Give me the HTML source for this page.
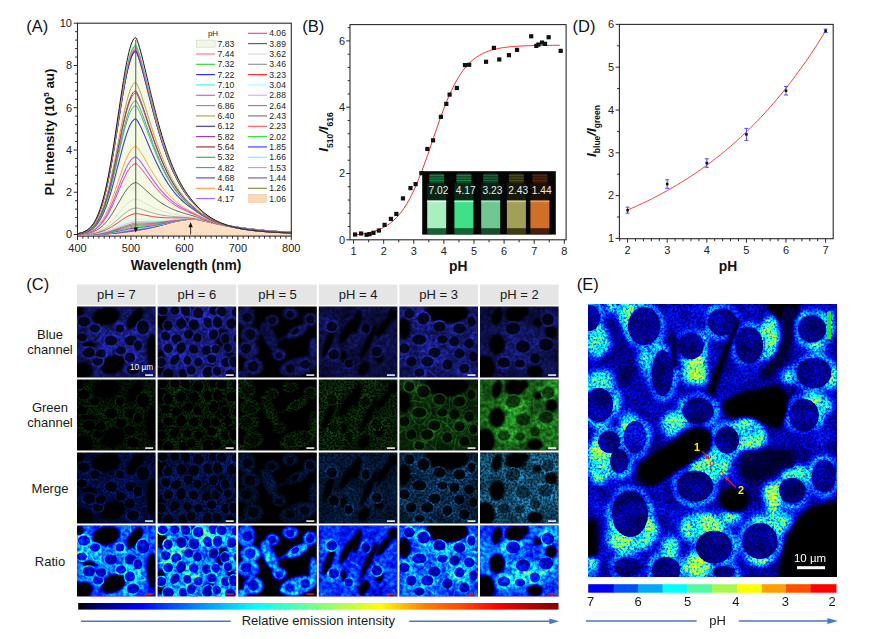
<!DOCTYPE html><html><head><meta charset="utf-8"><style>html,body{margin:0;padding:0;background:#fff;width:884px;height:639px;overflow:hidden}svg{display:block}text{font-family:"Liberation Sans",sans-serif}</style></head><body>
<svg width="884" height="639" viewBox="0 0 884 639">
<rect width="884" height="639" fill="#fff"/>
<polygon points="77.5,234.5 77.5,233.65 78.57,233.47 79.64,233.25 80.71,232.98 81.78,232.67 82.84,232.3 83.91,231.87 84.98,231.36 86.05,230.77 87.12,230.09 88.19,229.3 89.26,228.39 90.33,227.34 91.4,226.15 92.47,224.79 93.53,223.26 94.6,221.53 95.67,219.59 96.74,217.42 97.81,215.01 98.88,212.34 99.95,209.39 101.02,206.16 102.09,202.62 103.16,198.78 104.22,194.62 105.29,190.14 106.36,185.33 107.43,180.21 108.5,174.77 109.57,169.02 110.64,162.99 111.71,156.68 112.78,150.13 113.85,143.36 114.91,136.4 115.98,129.31 117.05,122.11 118.12,114.86 119.19,107.6 120.26,100.4 121.33,93.3 122.4,86.38 123.47,79.68 124.54,73.27 125.6,67.2 126.67,61.55 127.74,56.35 128.81,51.66 129.88,47.53 130.95,44.01 132.02,41.12 133.09,38.9 134.16,37.38 135.23,36.56 136.29,37.14 137.36,39.62 138.43,42.77 139.5,46.34 140.57,50.21 141.64,54.3 142.71,58.55 143.78,62.92 144.85,67.37 145.92,71.87 146.99,76.4 148.05,80.94 149.12,85.48 150.19,89.98 151.26,94.45 152.33,98.86 153.4,103.22 154.47,107.51 155.54,111.72 156.61,115.85 157.68,119.89 158.74,123.84 159.81,127.7 160.88,131.45 161.95,135.11 163.02,138.67 164.09,142.13 165.16,145.48 166.23,148.73 167.3,151.87 168.37,154.92 169.43,157.86 170.5,160.71 171.57,163.45 172.64,166.1 173.71,168.65 174.78,171.12 175.85,173.49 176.92,175.77 177.99,177.97 179.06,180.08 180.12,182.12 181.19,184.07 182.26,185.96 183.33,187.76 184.4,189.5 185.47,191.17 186.54,192.78 187.61,194.32 188.68,195.81 189.75,197.23 190.81,198.61 191.88,199.93 192.95,201.2 194.02,202.42 195.09,203.64 196.16,204.86 197.23,206.05 198.3,207.19 199.37,208.3 200.44,209.35 201.5,210.37 202.57,211.34 203.64,212.27 204.71,213.17 205.78,214.03 206.85,214.85 207.92,215.63 208.99,216.39 210.06,217.11 211.12,217.8 212.19,218.46 213.26,219.09 214.33,219.69 215.4,220.27 216.47,220.82 217.54,221.35 218.61,221.86 219.68,222.34 220.75,222.81 221.81,223.25 222.88,223.67 223.95,224.08 225.02,224.47 226.09,224.84 227.16,225.19 228.23,225.53 229.3,225.86 230.37,226.17 231.44,226.47 232.5,226.75 233.57,227.03 234.64,227.29 235.71,227.54 236.78,227.78 237.85,228.01 238.92,228.23 239.99,228.45 241.06,228.65 242.13,228.84 243.19,229.03 244.26,229.21 245.33,229.38 246.4,229.55 247.47,229.71 248.54,229.86 249.61,230.01 250.68,230.15 251.75,230.29 252.82,230.42 253.88,230.54 254.95,230.66 256.02,230.78 257.09,230.89 258.16,231 259.23,231.11 260.3,231.21 261.37,231.31 262.44,231.4 263.51,231.49 264.57,231.58 265.64,231.66 266.71,231.74 267.78,231.82 268.85,231.9 269.92,231.97 270.99,232.05 272.06,232.11 273.13,232.18 274.2,232.25 275.26,232.31 276.33,232.37 277.4,232.43 278.47,232.49 279.54,232.54 280.61,232.59 281.68,232.65 282.75,232.7 283.82,232.75 284.89,232.79 285.95,232.84 287.02,232.88 288.09,232.93 289.16,232.97 290.23,233.01 291.3,233.05 291.3,234.5" fill="#f4fae4"/>
<polygon points="77.5,236.1 77.5,234.48 78.57,234.48 79.64,234.48 80.71,234.47 81.78,234.47 82.84,234.46 83.91,234.46 84.98,234.45 86.05,234.44 87.12,234.43 88.19,234.42 89.26,234.41 90.33,234.4 91.4,234.39 92.47,234.37 93.53,234.35 94.6,234.33 95.67,234.31 96.74,234.29 97.81,234.26 98.88,234.23 99.95,234.19 101.02,234.16 102.09,234.12 103.16,234.07 104.22,234.03 105.29,233.97 106.36,233.92 107.43,233.86 108.5,233.79 109.57,233.72 110.64,233.65 111.71,233.57 112.78,233.49 113.85,233.4 114.91,233.31 115.98,233.21 117.05,233.11 118.12,233 119.19,232.89 120.26,232.78 121.33,232.66 122.4,232.54 123.47,232.41 124.54,232.28 125.6,232.14 126.67,232.01 127.74,231.87 128.81,231.72 129.88,231.57 130.95,231.42 132.02,231.27 133.09,231.12 134.16,230.96 135.23,230.8 136.29,230.64 137.36,230.48 138.43,230.32 139.5,230.16 140.57,229.98 141.64,229.81 142.71,229.62 143.78,229.43 144.85,229.23 145.92,229.03 146.99,228.81 148.05,228.59 149.12,228.36 150.19,228.13 151.26,227.88 152.33,227.63 153.4,227.38 154.47,227.11 155.54,226.85 156.61,226.57 157.68,226.29 158.74,226.01 159.81,225.72 160.88,225.44 161.95,225.14 163.02,224.85 164.09,224.56 165.16,224.26 166.23,223.97 167.3,223.67 168.37,223.38 169.43,223.09 170.5,222.81 171.57,222.53 172.64,222.26 173.71,221.99 174.78,221.73 175.85,221.48 176.92,221.23 177.99,221 179.06,220.78 180.12,220.57 181.19,220.37 182.26,220.18 183.33,220.01 184.4,219.85 185.47,219.71 186.54,219.58 187.61,219.46 188.68,219.37 189.75,219.29 190.81,219.23 191.88,219.18 192.95,219.15 194.02,219.14 195.09,219.21 196.16,219.39 197.23,219.58 198.3,219.79 199.37,220 200.44,220.22 201.5,220.44 202.57,220.66 203.64,220.89 204.71,221.12 205.78,221.34 206.85,221.57 207.92,221.8 208.99,222.02 210.06,222.25 211.12,222.47 212.19,222.69 213.26,222.91 214.33,223.13 215.4,223.34 216.47,223.56 217.54,223.77 218.61,223.97 219.68,224.18 220.75,224.38 221.81,224.58 222.88,224.78 223.95,224.98 225.02,225.17 226.09,225.36 227.16,225.55 228.23,225.73 229.3,225.91 230.37,226.09 231.44,226.27 232.5,226.44 233.57,226.61 234.64,226.78 235.71,226.94 236.78,227.1 237.85,227.26 238.92,227.42 239.99,227.57 241.06,227.72 242.13,227.87 243.19,228.02 244.26,228.16 245.33,228.3 246.4,228.44 247.47,228.57 248.54,228.7 249.61,228.83 250.68,228.96 251.75,229.09 252.82,229.21 253.88,229.33 254.95,229.45 256.02,229.56 257.09,229.67 258.16,229.79 259.23,229.89 260.3,230 261.37,230.1 262.44,230.21 263.51,230.31 264.57,230.41 265.64,230.5 266.71,230.6 267.78,230.69 268.85,230.78 269.92,230.87 270.99,230.95 272.06,231.04 273.13,231.12 274.2,231.2 275.26,231.28 276.33,231.36 277.4,231.43 278.47,231.51 279.54,231.58 280.61,231.65 281.68,231.72 282.75,231.79 283.82,231.85 284.89,231.92 285.95,231.98 287.02,232.04 288.09,232.1 289.16,232.16 290.23,232.22 291.3,232.28 291.3,236.1" fill="#fde0c4"/>
<polyline points="77.5,234.48 78.57,234.48 79.64,234.48 80.71,234.47 81.78,234.47 82.84,234.46 83.91,234.46 84.98,234.45 86.05,234.44 87.12,234.43 88.19,234.42 89.26,234.41 90.33,234.4 91.4,234.39 92.47,234.37 93.53,234.35 94.6,234.33 95.67,234.31 96.74,234.29 97.81,234.26 98.88,234.23 99.95,234.19 101.02,234.16 102.09,234.12 103.16,234.07 104.22,234.03 105.29,233.97 106.36,233.92 107.43,233.86 108.5,233.79 109.57,233.72 110.64,233.65 111.71,233.57 112.78,233.49 113.85,233.4 114.91,233.31 115.98,233.21 117.05,233.11 118.12,233 119.19,232.89 120.26,232.78 121.33,232.66 122.4,232.54 123.47,232.41 124.54,232.28 125.6,232.14 126.67,232.01 127.74,231.87 128.81,231.72 129.88,231.57 130.95,231.42 132.02,231.27 133.09,231.12 134.16,230.96 135.23,230.8 136.29,230.64 137.36,230.48 138.43,230.32 139.5,230.16 140.57,229.98 141.64,229.81 142.71,229.62 143.78,229.43 144.85,229.23 145.92,229.03 146.99,228.81 148.05,228.59 149.12,228.36 150.19,228.13 151.26,227.88 152.33,227.63 153.4,227.38 154.47,227.11 155.54,226.85 156.61,226.57 157.68,226.29 158.74,226.01 159.81,225.72 160.88,225.44 161.95,225.14 163.02,224.85 164.09,224.56 165.16,224.26 166.23,223.97 167.3,223.67 168.37,223.38 169.43,223.09 170.5,222.81 171.57,222.53 172.64,222.26 173.71,221.99 174.78,221.73 175.85,221.48 176.92,221.23 177.99,221 179.06,220.78 180.12,220.57 181.19,220.37 182.26,220.18 183.33,220.01 184.4,219.85 185.47,219.71 186.54,219.58 187.61,219.46 188.68,219.37 189.75,219.29 190.81,219.23 191.88,219.18 192.95,219.15 194.02,219.14 195.09,219.21 196.16,219.39 197.23,219.58 198.3,219.79 199.37,220 200.44,220.22 201.5,220.44 202.57,220.66 203.64,220.89 204.71,221.12 205.78,221.34 206.85,221.57 207.92,221.8 208.99,222.02 210.06,222.25 211.12,222.47 212.19,222.69 213.26,222.91 214.33,223.13 215.4,223.34 216.47,223.56 217.54,223.77 218.61,223.97 219.68,224.18 220.75,224.38 221.81,224.58 222.88,224.78 223.95,224.98 225.02,225.17 226.09,225.36 227.16,225.55 228.23,225.73 229.3,225.91 230.37,226.09 231.44,226.27 232.5,226.44 233.57,226.61 234.64,226.78 235.71,226.94 236.78,227.1 237.85,227.26 238.92,227.42 239.99,227.57 241.06,227.72 242.13,227.87 243.19,228.02 244.26,228.16 245.33,228.3 246.4,228.44 247.47,228.57 248.54,228.7 249.61,228.83 250.68,228.96 251.75,229.09 252.82,229.21 253.88,229.33 254.95,229.45 256.02,229.56 257.09,229.67 258.16,229.79 259.23,229.89 260.3,230 261.37,230.1 262.44,230.21 263.51,230.31 264.57,230.41 265.64,230.5 266.71,230.6 267.78,230.69 268.85,230.78 269.92,230.87 270.99,230.95 272.06,231.04 273.13,231.12 274.2,231.2 275.26,231.28 276.33,231.36 277.4,231.43 278.47,231.51 279.54,231.58 280.61,231.65 281.68,231.72 282.75,231.79 283.82,231.85 284.89,231.92 285.95,231.98 287.02,232.04 288.09,232.1 289.16,232.16 290.23,232.22 291.3,232.28" fill="none" stroke="#6a40a0" stroke-width="1.0" stroke-linejoin="round"/>
<polyline points="77.5,234.48 78.57,234.48 79.64,234.47 80.71,234.47 81.78,234.46 82.84,234.46 83.91,234.45 84.98,234.44 86.05,234.44 87.12,234.43 88.19,234.41 89.26,234.4 90.33,234.39 91.4,234.37 92.47,234.35 93.53,234.33 94.6,234.31 95.67,234.28 96.74,234.25 97.81,234.22 98.88,234.18 99.95,234.14 101.02,234.1 102.09,234.05 103.16,234 104.22,233.94 105.29,233.88 106.36,233.82 107.43,233.75 108.5,233.67 109.57,233.59 110.64,233.5 111.71,233.41 112.78,233.31 113.85,233.21 114.91,233.11 115.98,232.99 117.05,232.88 118.12,232.76 119.19,232.63 120.26,232.5 121.33,232.37 122.4,232.23 123.47,232.09 124.54,231.95 125.6,231.8 126.67,231.65 127.74,231.5 128.81,231.35 129.88,231.2 130.95,231.04 132.02,230.89 133.09,230.73 134.16,230.57 135.23,230.41 136.29,230.25 137.36,230.1 138.43,229.95 139.5,229.8 140.57,229.64 141.64,229.47 142.71,229.3 143.78,229.12 144.85,228.94 145.92,228.74 146.99,228.54 148.05,228.34 149.12,228.12 150.19,227.9 151.26,227.67 152.33,227.43 153.4,227.19 154.47,226.94 155.54,226.69 156.61,226.43 157.68,226.16 158.74,225.89 159.81,225.62 160.88,225.34 161.95,225.06 163.02,224.78 164.09,224.5 165.16,224.22 166.23,223.93 167.3,223.65 168.37,223.37 169.43,223.1 170.5,222.82 171.57,222.55 172.64,222.29 173.71,222.03 174.78,221.78 175.85,221.54 176.92,221.3 177.99,221.08 179.06,220.86 180.12,220.66 181.19,220.47 182.26,220.29 183.33,220.12 184.4,219.97 185.47,219.83 186.54,219.71 187.61,219.6 188.68,219.51 189.75,219.44 190.81,219.38 191.88,219.34 192.95,219.31 194.02,219.31 195.09,219.38 196.16,219.55 197.23,219.74 198.3,219.95 199.37,220.16 200.44,220.38 201.5,220.6 202.57,220.82 203.64,221.05 204.71,221.27 205.78,221.5 206.85,221.72 207.92,221.95 208.99,222.17 210.06,222.4 211.12,222.62 212.19,222.84 213.26,223.05 214.33,223.27 215.4,223.48 216.47,223.69 217.54,223.9 218.61,224.11 219.68,224.31 220.75,224.51 221.81,224.71 222.88,224.91 223.95,225.1 225.02,225.29 226.09,225.48 227.16,225.66 228.23,225.84 229.3,226.02 230.37,226.2 231.44,226.37 232.5,226.55 233.57,226.71 234.64,226.88 235.71,227.04 236.78,227.2 237.85,227.36 238.92,227.51 239.99,227.66 241.06,227.81 242.13,227.96 243.19,228.1 244.26,228.24 245.33,228.38 246.4,228.52 247.47,228.65 248.54,228.78 249.61,228.91 250.68,229.04 251.75,229.16 252.82,229.28 253.88,229.4 254.95,229.51 256.02,229.63 257.09,229.74 258.16,229.85 259.23,229.96 260.3,230.06 261.37,230.17 262.44,230.27 263.51,230.36 264.57,230.46 265.64,230.56 266.71,230.65 267.78,230.74 268.85,230.83 269.92,230.92 270.99,231 272.06,231.08 273.13,231.17 274.2,231.24 275.26,231.32 276.33,231.4 277.4,231.47 278.47,231.55 279.54,231.62 280.61,231.69 281.68,231.76 282.75,231.82 283.82,231.89 284.89,231.95 285.95,232.01 287.02,232.08 288.09,232.14 289.16,232.19 290.23,232.25 291.3,232.31" fill="none" stroke="#808030" stroke-width="0.9" stroke-linejoin="round"/>
<polyline points="77.5,234.48 78.57,234.48 79.64,234.47 80.71,234.47 81.78,234.46 82.84,234.45 83.91,234.45 84.98,234.44 86.05,234.43 87.12,234.42 88.19,234.4 89.26,234.39 90.33,234.37 91.4,234.35 92.47,234.33 93.53,234.3 94.6,234.28 95.67,234.25 96.74,234.21 97.81,234.17 98.88,234.13 99.95,234.09 101.02,234.04 102.09,233.98 103.16,233.92 104.22,233.85 105.29,233.78 106.36,233.71 107.43,233.62 108.5,233.54 109.57,233.44 110.64,233.34 111.71,233.24 112.78,233.13 113.85,233.01 114.91,232.89 115.98,232.76 117.05,232.63 118.12,232.49 119.19,232.35 120.26,232.2 121.33,232.05 122.4,231.9 123.47,231.75 124.54,231.59 125.6,231.43 126.67,231.27 127.74,231.1 128.81,230.94 129.88,230.77 130.95,230.61 132.02,230.45 133.09,230.28 134.16,230.12 135.23,229.95 136.29,229.79 137.36,229.65 138.43,229.5 139.5,229.35 140.57,229.2 141.64,229.04 142.71,228.88 143.78,228.7 144.85,228.52 145.92,228.34 146.99,228.14 148.05,227.94 149.12,227.73 150.19,227.52 151.26,227.3 152.33,227.07 153.4,226.83 154.47,226.58 155.54,226.34 156.61,226.08 157.68,225.82 158.74,225.56 159.81,225.29 160.88,225.01 161.95,224.74 163.02,224.46 164.09,224.18 165.16,223.9 166.23,223.62 167.3,223.35 168.37,223.07 169.43,222.79 170.5,222.52 171.57,222.26 172.64,221.99 173.71,221.74 174.78,221.49 175.85,221.25 176.92,221.02 177.99,220.79 179.06,220.58 180.12,220.38 181.19,220.19 182.26,220.01 183.33,219.84 184.4,219.69 185.47,219.56 186.54,219.44 187.61,219.33 188.68,219.24 189.75,219.17 190.81,219.11 191.88,219.07 192.95,219.05 194.02,219.05 195.09,219.12 196.16,219.3 197.23,219.5 198.3,219.71 199.37,219.93 200.44,220.15 201.5,220.37 202.57,220.6 203.64,220.83 204.71,221.06 205.78,221.29 206.85,221.52 207.92,221.75 208.99,221.98 210.06,222.2 211.12,222.43 212.19,222.65 213.26,222.87 214.33,223.09 215.4,223.31 216.47,223.53 217.54,223.74 218.61,223.95 219.68,224.16 220.75,224.36 221.81,224.56 222.88,224.76 223.95,224.96 225.02,225.15 226.09,225.34 227.16,225.53 228.23,225.72 229.3,225.9 230.37,226.08 231.44,226.25 232.5,226.43 233.57,226.6 234.64,226.77 235.71,226.93 236.78,227.09 237.85,227.25 238.92,227.41 239.99,227.56 241.06,227.72 242.13,227.86 243.19,228.01 244.26,228.15 245.33,228.29 246.4,228.43 247.47,228.57 248.54,228.7 249.61,228.83 250.68,228.96 251.75,229.08 252.82,229.2 253.88,229.33 254.95,229.44 256.02,229.56 257.09,229.67 258.16,229.78 259.23,229.89 260.3,230 261.37,230.1 262.44,230.21 263.51,230.31 264.57,230.4 265.64,230.5 266.71,230.59 267.78,230.69 268.85,230.78 269.92,230.86 270.99,230.95 272.06,231.04 273.13,231.12 274.2,231.2 275.26,231.28 276.33,231.36 277.4,231.43 278.47,231.51 279.54,231.58 280.61,231.65 281.68,231.72 282.75,231.79 283.82,231.85 284.89,231.92 285.95,231.98 287.02,232.04 288.09,232.1 289.16,232.16 290.23,232.22 291.3,232.28" fill="none" stroke="#7050a0" stroke-width="1.2" stroke-linejoin="round"/>
<polyline points="77.5,234.48 78.57,234.47 79.64,234.47 80.71,234.46 81.78,234.45 82.84,234.45 83.91,234.44 84.98,234.43 86.05,234.42 87.12,234.4 88.19,234.39 89.26,234.37 90.33,234.35 91.4,234.32 92.47,234.3 93.53,234.27 94.6,234.24 95.67,234.2 96.74,234.16 97.81,234.11 98.88,234.06 99.95,234.01 101.02,233.95 102.09,233.88 103.16,233.81 104.22,233.73 105.29,233.64 106.36,233.55 107.43,233.45 108.5,233.35 109.57,233.24 110.64,233.12 111.71,232.99 112.78,232.86 113.85,232.72 114.91,232.58 115.98,232.43 117.05,232.28 118.12,232.12 119.19,231.95 120.26,231.78 121.33,231.61 122.4,231.44 123.47,231.26 124.54,231.09 125.6,230.91 126.67,230.73 127.74,230.55 128.81,230.37 129.88,230.2 130.95,230.03 132.02,229.85 133.09,229.68 134.16,229.52 135.23,229.35 136.29,229.2 137.36,229.06 138.43,228.93 139.5,228.8 140.57,228.66 141.64,228.52 142.71,228.37 143.78,228.21 144.85,228.05 145.92,227.88 146.99,227.71 148.05,227.53 149.12,227.34 150.19,227.14 151.26,226.93 152.33,226.72 153.4,226.5 154.47,226.28 155.54,226.05 156.61,225.81 157.68,225.57 158.74,225.32 159.81,225.07 160.88,224.82 161.95,224.56 163.02,224.3 164.09,224.03 165.16,223.77 166.23,223.51 167.3,223.24 168.37,222.98 169.43,222.72 170.5,222.46 171.57,222.21 172.64,221.96 173.71,221.72 174.78,221.48 175.85,221.25 176.92,221.03 177.99,220.82 179.06,220.62 180.12,220.43 181.19,220.24 182.26,220.08 183.33,219.92 184.4,219.78 185.47,219.65 186.54,219.54 187.61,219.44 188.68,219.35 189.75,219.29 190.81,219.24 191.88,219.2 192.95,219.18 194.02,219.18 195.09,219.26 196.16,219.44 197.23,219.64 198.3,219.85 199.37,220.07 200.44,220.29 201.5,220.52 202.57,220.75 203.64,220.97 204.71,221.2 205.78,221.43 206.85,221.66 207.92,221.89 208.99,222.12 210.06,222.34 211.12,222.57 212.19,222.79 213.26,223.01 214.33,223.23 215.4,223.44 216.47,223.66 217.54,223.87 218.61,224.07 219.68,224.28 220.75,224.48 221.81,224.68 222.88,224.88 223.95,225.08 225.02,225.27 226.09,225.46 227.16,225.64 228.23,225.83 229.3,226.01 230.37,226.18 231.44,226.36 232.5,226.53 233.57,226.7 234.64,226.87 235.71,227.03 236.78,227.19 237.85,227.35 238.92,227.5 239.99,227.65 241.06,227.8 242.13,227.95 243.19,228.09 244.26,228.24 245.33,228.38 246.4,228.51 247.47,228.65 248.54,228.78 249.61,228.9 250.68,229.03 251.75,229.15 252.82,229.28 253.88,229.39 254.95,229.51 256.02,229.63 257.09,229.74 258.16,229.85 259.23,229.95 260.3,230.06 261.37,230.16 262.44,230.26 263.51,230.36 264.57,230.46 265.64,230.55 266.71,230.65 267.78,230.74 268.85,230.83 269.92,230.91 270.99,231 272.06,231.08 273.13,231.16 274.2,231.24 275.26,231.32 276.33,231.4 277.4,231.47 278.47,231.55 279.54,231.62 280.61,231.69 281.68,231.76 282.75,231.82 283.82,231.89 284.89,231.95 285.95,232.01 287.02,232.08 288.09,232.14 289.16,232.19 290.23,232.25 291.3,232.31" fill="none" stroke="#ff70ff" stroke-width="0.9" stroke-linejoin="round"/>
<polyline points="77.5,234.47 78.57,234.47 79.64,234.46 80.71,234.46 81.78,234.45 82.84,234.44 83.91,234.43 84.98,234.42 86.05,234.4 87.12,234.39 88.19,234.37 89.26,234.35 90.33,234.32 91.4,234.3 92.47,234.27 93.53,234.23 94.6,234.19 95.67,234.15 96.74,234.1 97.81,234.05 98.88,233.99 99.95,233.93 101.02,233.86 102.09,233.78 103.16,233.69 104.22,233.6 105.29,233.5 106.36,233.39 107.43,233.28 108.5,233.16 109.57,233.03 110.64,232.89 111.71,232.74 112.78,232.59 113.85,232.43 114.91,232.26 115.98,232.09 117.05,231.91 118.12,231.73 119.19,231.54 120.26,231.35 121.33,231.16 122.4,230.96 123.47,230.77 124.54,230.57 125.6,230.37 126.67,230.17 127.74,229.98 128.81,229.79 129.88,229.6 130.95,229.41 132.02,229.23 133.09,229.06 134.16,228.88 135.23,228.72 136.29,228.57 137.36,228.44 138.43,228.32 139.5,228.2 140.57,228.07 141.64,227.94 142.71,227.81 143.78,227.67 144.85,227.52 145.92,227.37 146.99,227.21 148.05,227.04 149.12,226.87 150.19,226.68 151.26,226.49 152.33,226.3 153.4,226.09 154.47,225.88 155.54,225.67 156.61,225.44 157.68,225.22 158.74,224.98 159.81,224.74 160.88,224.5 161.95,224.26 163.02,224.01 164.09,223.76 165.16,223.5 166.23,223.25 167.3,223 168.37,222.75 169.43,222.5 170.5,222.25 171.57,222 172.64,221.77 173.71,221.53 174.78,221.3 175.85,221.08 176.92,220.87 177.99,220.66 179.06,220.47 180.12,220.28 181.19,220.11 182.26,219.95 183.33,219.8 184.4,219.66 185.47,219.54 186.54,219.43 187.61,219.34 188.68,219.26 189.75,219.2 190.81,219.15 191.88,219.12 192.95,219.11 194.02,219.11 195.09,219.19 196.16,219.38 197.23,219.58 198.3,219.79 199.37,220.01 200.44,220.24 201.5,220.47 202.57,220.7 203.64,220.93 204.71,221.16 205.78,221.39 206.85,221.62 207.92,221.86 208.99,222.08 210.06,222.31 211.12,222.54 212.19,222.76 213.26,222.98 214.33,223.2 215.4,223.42 216.47,223.63 217.54,223.85 218.61,224.05 219.68,224.26 220.75,224.47 221.81,224.67 222.88,224.87 223.95,225.06 225.02,225.25 226.09,225.44 227.16,225.63 228.23,225.81 229.3,226 230.37,226.17 231.44,226.35 232.5,226.52 233.57,226.69 234.64,226.86 235.71,227.02 236.78,227.18 237.85,227.34 238.92,227.5 239.99,227.65 241.06,227.8 242.13,227.95 243.19,228.09 244.26,228.23 245.33,228.37 246.4,228.51 247.47,228.64 248.54,228.77 249.61,228.9 250.68,229.03 251.75,229.15 252.82,229.27 253.88,229.39 254.95,229.51 256.02,229.62 257.09,229.74 258.16,229.85 259.23,229.95 260.3,230.06 261.37,230.16 262.44,230.26 263.51,230.36 264.57,230.46 265.64,230.55 266.71,230.65 267.78,230.74 268.85,230.83 269.92,230.91 270.99,231 272.06,231.08 273.13,231.16 274.2,231.24 275.26,231.32 276.33,231.4 277.4,231.47 278.47,231.55 279.54,231.62 280.61,231.69 281.68,231.76 282.75,231.82 283.82,231.89 284.89,231.95 285.95,232.01 287.02,232.08 288.09,232.13 289.16,232.19 290.23,232.25 291.3,232.31" fill="none" stroke="#60ffff" stroke-width="0.9" stroke-linejoin="round"/>
<polyline points="77.5,234.47 78.57,234.46 79.64,234.46 80.71,234.45 81.78,234.44 82.84,234.43 83.91,234.42 84.98,234.4 86.05,234.39 87.12,234.37 88.19,234.35 89.26,234.32 90.33,234.29 91.4,234.26 92.47,234.23 93.53,234.19 94.6,234.14 95.67,234.09 96.74,234.03 97.81,233.97 98.88,233.9 99.95,233.82 101.02,233.73 102.09,233.64 103.16,233.54 104.22,233.43 105.29,233.31 106.36,233.18 107.43,233.05 108.5,232.9 109.57,232.75 110.64,232.58 111.71,232.41 112.78,232.23 113.85,232.04 114.91,231.84 115.98,231.64 117.05,231.43 118.12,231.22 119.19,231 120.26,230.78 121.33,230.55 122.4,230.33 123.47,230.1 124.54,229.88 125.6,229.65 126.67,229.43 127.74,229.22 128.81,229.01 129.88,228.8 130.95,228.6 132.02,228.41 133.09,228.22 134.16,228.04 135.23,227.87 136.29,227.72 137.36,227.61 138.43,227.5 139.5,227.4 140.57,227.29 141.64,227.18 142.71,227.06 143.78,226.94 144.85,226.81 145.92,226.68 146.99,226.54 148.05,226.39 149.12,226.24 150.19,226.08 151.26,225.91 152.33,225.73 153.4,225.55 154.47,225.36 155.54,225.16 156.61,224.95 157.68,224.74 158.74,224.53 159.81,224.31 160.88,224.08 161.95,223.85 163.02,223.62 164.09,223.38 165.16,223.15 166.23,222.91 167.3,222.67 168.37,222.43 169.43,222.2 170.5,221.96 171.57,221.73 172.64,221.5 173.71,221.28 174.78,221.06 175.85,220.85 176.92,220.65 177.99,220.46 179.06,220.27 180.12,220.1 181.19,219.93 182.26,219.78 183.33,219.64 184.4,219.51 185.47,219.39 186.54,219.29 187.61,219.21 188.68,219.13 189.75,219.08 190.81,219.04 191.88,219.01 192.95,219.01 194.02,219.01 195.09,219.1 196.16,219.29 197.23,219.5 198.3,219.72 199.37,219.94 200.44,220.17 201.5,220.4 202.57,220.64 203.64,220.87 204.71,221.11 205.78,221.34 206.85,221.57 207.92,221.81 208.99,222.04 210.06,222.27 211.12,222.5 212.19,222.72 213.26,222.95 214.33,223.17 215.4,223.39 216.47,223.6 217.54,223.82 218.61,224.03 219.68,224.24 220.75,224.44 221.81,224.64 222.88,224.84 223.95,225.04 225.02,225.24 226.09,225.43 227.16,225.61 228.23,225.8 229.3,225.98 230.37,226.16 231.44,226.34 232.5,226.51 233.57,226.68 234.64,226.85 235.71,227.01 236.78,227.17 237.85,227.33 238.92,227.49 239.99,227.64 241.06,227.79 242.13,227.94 243.19,228.08 244.26,228.23 245.33,228.37 246.4,228.5 247.47,228.64 248.54,228.77 249.61,228.9 250.68,229.02 251.75,229.15 252.82,229.27 253.88,229.39 254.95,229.51 256.02,229.62 257.09,229.73 258.16,229.84 259.23,229.95 260.3,230.06 261.37,230.16 262.44,230.26 263.51,230.36 264.57,230.46 265.64,230.55 266.71,230.64 267.78,230.74 268.85,230.82 269.92,230.91 270.99,231 272.06,231.08 273.13,231.16 274.2,231.24 275.26,231.32 276.33,231.4 277.4,231.47 278.47,231.55 279.54,231.62 280.61,231.69 281.68,231.76 282.75,231.82 283.82,231.89 284.89,231.95 285.95,232.01 287.02,232.07 288.09,232.13 289.16,232.19 290.23,232.25 291.3,232.31" fill="none" stroke="#3030ff" stroke-width="0.9" stroke-linejoin="round"/>
<polyline points="77.5,234.47 78.57,234.46 79.64,234.45 80.71,234.44 81.78,234.43 82.84,234.42 83.91,234.4 84.98,234.39 86.05,234.37 87.12,234.35 88.19,234.32 89.26,234.29 90.33,234.26 91.4,234.22 92.47,234.17 93.53,234.13 94.6,234.07 95.67,234.01 96.74,233.94 97.81,233.86 98.88,233.78 99.95,233.69 101.02,233.58 102.09,233.47 103.16,233.35 104.22,233.22 105.29,233.08 106.36,232.92 107.43,232.76 108.5,232.59 109.57,232.4 110.64,232.2 111.71,232 112.78,231.78 113.85,231.56 114.91,231.33 115.98,231.09 117.05,230.84 118.12,230.59 119.19,230.33 120.26,230.07 121.33,229.81 122.4,229.55 123.47,229.29 124.54,229.03 125.6,228.78 126.67,228.53 127.74,228.29 128.81,228.05 129.88,227.82 130.95,227.61 132.02,227.4 133.09,227.21 134.16,227.02 135.23,226.85 136.29,226.71 137.36,226.61 138.43,226.52 139.5,226.44 140.57,226.35 141.64,226.27 142.71,226.18 143.78,226.09 144.85,225.99 145.92,225.88 146.99,225.77 148.05,225.65 149.12,225.53 150.19,225.39 151.26,225.25 152.33,225.11 153.4,224.95 154.47,224.79 155.54,224.62 156.61,224.44 157.68,224.26 158.74,224.07 159.81,223.87 160.88,223.67 161.95,223.47 163.02,223.26 164.09,223.05 165.16,222.84 166.23,222.62 167.3,222.4 168.37,222.19 169.43,221.97 170.5,221.76 171.57,221.55 172.64,221.34 173.71,221.14 174.78,220.94 175.85,220.74 176.92,220.56 177.99,220.38 179.06,220.21 180.12,220.05 181.19,219.9 182.26,219.76 183.33,219.63 184.4,219.51 185.47,219.41 186.54,219.32 187.61,219.25 188.68,219.18 189.75,219.14 190.81,219.11 191.88,219.09 192.95,219.09 194.02,219.1 195.09,219.2 196.16,219.39 197.23,219.6 198.3,219.82 199.37,220.05 200.44,220.28 201.5,220.51 202.57,220.75 203.64,220.98 204.71,221.22 205.78,221.46 206.85,221.69 207.92,221.92 208.99,222.16 210.06,222.39 211.12,222.61 212.19,222.84 213.26,223.06 214.33,223.28 215.4,223.5 216.47,223.72 217.54,223.93 218.61,224.14 219.68,224.35 220.75,224.55 221.81,224.75 222.88,224.95 223.95,225.15 225.02,225.34 226.09,225.53 227.16,225.72 228.23,225.9 229.3,226.08 230.37,226.26 231.44,226.44 232.5,226.61 233.57,226.78 234.64,226.94 235.71,227.1 236.78,227.27 237.85,227.42 238.92,227.58 239.99,227.73 241.06,227.88 242.13,228.02 243.19,228.17 244.26,228.31 245.33,228.45 246.4,228.58 247.47,228.71 248.54,228.84 249.61,228.97 250.68,229.1 251.75,229.22 252.82,229.34 253.88,229.46 254.95,229.57 256.02,229.69 257.09,229.8 258.16,229.91 259.23,230.01 260.3,230.12 261.37,230.22 262.44,230.32 263.51,230.42 264.57,230.51 265.64,230.61 266.71,230.7 267.78,230.79 268.85,230.87 269.92,230.96 270.99,231.05 272.06,231.13 273.13,231.21 274.2,231.29 275.26,231.36 276.33,231.44 277.4,231.51 278.47,231.59 279.54,231.66 280.61,231.73 281.68,231.79 282.75,231.86 283.82,231.92 284.89,231.99 285.95,232.05 287.02,232.11 288.09,232.17 289.16,232.23 290.23,232.28 291.3,232.34" fill="none" stroke="#30e030" stroke-width="0.9" stroke-linejoin="round"/>
<polyline points="77.5,234.46 78.57,234.45 79.64,234.44 80.71,234.43 81.78,234.42 82.84,234.41 83.91,234.39 84.98,234.37 86.05,234.35 87.12,234.32 88.19,234.29 89.26,234.26 90.33,234.22 91.4,234.17 92.47,234.12 93.53,234.07 94.6,234 95.67,233.93 96.74,233.85 97.81,233.76 98.88,233.66 99.95,233.55 101.02,233.43 102.09,233.3 103.16,233.16 104.22,233.01 105.29,232.84 106.36,232.66 107.43,232.47 108.5,232.27 109.57,232.05 110.64,231.82 111.71,231.58 112.78,231.33 113.85,231.07 114.91,230.8 115.98,230.52 117.05,230.24 118.12,229.95 119.19,229.65 120.26,229.35 121.33,229.06 122.4,228.76 123.47,228.46 124.54,228.17 125.6,227.88 126.67,227.6 127.74,227.33 128.81,227.07 129.88,226.83 130.95,226.59 132.02,226.37 133.09,226.16 134.16,225.97 135.23,225.79 136.29,225.66 137.36,225.57 138.43,225.5 139.5,225.44 140.57,225.38 141.64,225.31 142.71,225.25 143.78,225.18 144.85,225.1 145.92,225.02 146.99,224.94 148.05,224.84 149.12,224.74 150.19,224.64 151.26,224.52 152.33,224.4 153.4,224.26 154.47,224.13 155.54,223.98 156.61,223.83 157.68,223.66 158.74,223.5 159.81,223.32 160.88,223.15 161.95,222.96 163.02,222.78 164.09,222.58 165.16,222.39 166.23,222.19 167.3,221.99 168.37,221.8 169.43,221.6 170.5,221.4 171.57,221.2 172.64,221.01 173.71,220.82 174.78,220.64 175.85,220.46 176.92,220.29 177.99,220.12 179.06,219.96 180.12,219.81 181.19,219.67 182.26,219.54 183.33,219.43 184.4,219.32 185.47,219.23 186.54,219.15 187.61,219.08 188.68,219.03 189.75,218.99 190.81,218.96 191.88,218.95 192.95,218.96 194.02,218.98 195.09,219.08 196.16,219.28 197.23,219.5 198.3,219.72 199.37,219.96 200.44,220.19 201.5,220.43 202.57,220.67 203.64,220.91 204.71,221.15 205.78,221.39 206.85,221.63 207.92,221.87 208.99,222.1 210.06,222.33 211.12,222.56 212.19,222.79 213.26,223.02 214.33,223.24 215.4,223.46 216.47,223.68 217.54,223.9 218.61,224.11 219.68,224.32 220.75,224.52 221.81,224.73 222.88,224.93 223.95,225.13 225.02,225.32 226.09,225.51 227.16,225.7 228.23,225.88 229.3,226.07 230.37,226.24 231.44,226.42 232.5,226.59 233.57,226.76 234.64,226.93 235.71,227.09 236.78,227.25 237.85,227.41 238.92,227.57 239.99,227.72 241.06,227.87 242.13,228.01 243.19,228.16 244.26,228.3 245.33,228.44 246.4,228.57 247.47,228.71 248.54,228.84 249.61,228.97 250.68,229.09 251.75,229.21 252.82,229.33 253.88,229.45 254.95,229.57 256.02,229.68 257.09,229.79 258.16,229.9 259.23,230.01 260.3,230.11 261.37,230.22 262.44,230.32 263.51,230.41 264.57,230.51 265.64,230.6 266.71,230.7 267.78,230.79 268.85,230.87 269.92,230.96 270.99,231.04 272.06,231.13 273.13,231.21 274.2,231.29 275.26,231.36 276.33,231.44 277.4,231.51 278.47,231.59 279.54,231.66 280.61,231.72 281.68,231.79 282.75,231.86 283.82,231.92 284.89,231.99 285.95,232.05 287.02,232.11 288.09,232.17 289.16,232.22 290.23,232.28 291.3,232.34" fill="none" stroke="#ff5050" stroke-width="0.9" stroke-linejoin="round"/>
<polyline points="77.5,234.46 78.57,234.45 79.64,234.44 80.71,234.42 81.78,234.41 82.84,234.39 83.91,234.37 84.98,234.35 86.05,234.32 87.12,234.29 88.19,234.26 89.26,234.22 90.33,234.17 91.4,234.12 92.47,234.06 93.53,233.99 94.6,233.92 95.67,233.83 96.74,233.74 97.81,233.63 98.88,233.52 99.95,233.39 101.02,233.25 102.09,233.1 103.16,232.93 104.22,232.75 105.29,232.55 106.36,232.34 107.43,232.12 108.5,231.88 109.57,231.63 110.64,231.36 111.71,231.08 112.78,230.79 113.85,230.49 114.91,230.17 115.98,229.85 117.05,229.52 118.12,229.18 119.19,228.84 120.26,228.49 121.33,228.15 122.4,227.81 123.47,227.47 124.54,227.13 125.6,226.81 126.67,226.49 127.74,226.19 128.81,225.9 129.88,225.63 130.95,225.37 132.02,225.13 133.09,224.91 134.16,224.71 135.23,224.53 136.29,224.39 137.36,224.33 138.43,224.28 139.5,224.24 140.57,224.2 141.64,224.16 142.71,224.13 143.78,224.09 144.85,224.04 145.92,223.99 146.99,223.94 148.05,223.87 149.12,223.8 150.19,223.73 151.26,223.64 152.33,223.55 153.4,223.44 154.47,223.33 155.54,223.21 156.61,223.09 157.68,222.96 158.74,222.82 159.81,222.67 160.88,222.52 161.95,222.36 163.02,222.19 164.09,222.03 165.16,221.85 166.23,221.68 167.3,221.5 168.37,221.33 169.43,221.15 170.5,220.97 171.57,220.79 172.64,220.62 173.71,220.45 174.78,220.28 175.85,220.12 176.92,219.96 177.99,219.81 179.06,219.67 180.12,219.53 181.19,219.4 182.26,219.29 183.33,219.18 184.4,219.09 185.47,219.01 186.54,218.94 187.61,218.88 188.68,218.84 189.75,218.81 190.81,218.79 191.88,218.79 192.95,218.81 194.02,218.84 195.09,218.94 196.16,219.15 197.23,219.37 198.3,219.61 199.37,219.84 200.44,220.09 201.5,220.33 202.57,220.58 203.64,220.82 204.71,221.07 205.78,221.31 206.85,221.55 207.92,221.79 208.99,222.03 210.06,222.27 211.12,222.5 212.19,222.74 213.26,222.97 214.33,223.19 215.4,223.42 216.47,223.64 217.54,223.85 218.61,224.07 219.68,224.28 220.75,224.49 221.81,224.69 222.88,224.9 223.95,225.1 225.02,225.29 226.09,225.48 227.16,225.67 228.23,225.86 229.3,226.04 230.37,226.22 231.44,226.4 232.5,226.57 233.57,226.75 234.64,226.91 235.71,227.08 236.78,227.24 237.85,227.4 238.92,227.55 239.99,227.71 241.06,227.86 242.13,228.01 243.19,228.15 244.26,228.29 245.33,228.43 246.4,228.57 247.47,228.7 248.54,228.83 249.61,228.96 250.68,229.09 251.75,229.21 252.82,229.33 253.88,229.45 254.95,229.56 256.02,229.68 257.09,229.79 258.16,229.9 259.23,230.01 260.3,230.11 261.37,230.21 262.44,230.31 263.51,230.41 264.57,230.51 265.64,230.6 266.71,230.69 267.78,230.78 268.85,230.87 269.92,230.96 270.99,231.04 272.06,231.13 273.13,231.21 274.2,231.28 275.26,231.36 276.33,231.44 277.4,231.51 278.47,231.58 279.54,231.65 280.61,231.72 281.68,231.79 282.75,231.86 283.82,231.92 284.89,231.99 285.95,232.05 287.02,232.11 288.09,232.17 289.16,232.22 290.23,232.28 291.3,232.34" fill="none" stroke="#707070" stroke-width="1.0" stroke-linejoin="round"/>
<polyline points="77.5,234.45 78.57,234.44 79.64,234.43 80.71,234.41 81.78,234.4 82.84,234.38 83.91,234.36 84.98,234.33 86.05,234.3 87.12,234.27 88.19,234.23 89.26,234.18 90.33,234.13 91.4,234.07 92.47,234 93.53,233.92 94.6,233.83 95.67,233.74 96.74,233.63 97.81,233.51 98.88,233.38 99.95,233.23 101.02,233.07 102.09,232.89 103.16,232.7 104.22,232.49 105.29,232.27 106.36,232.03 107.43,231.77 108.5,231.5 109.57,231.21 110.64,230.9 111.71,230.58 112.78,230.25 113.85,229.9 114.91,229.54 115.98,229.17 117.05,228.79 118.12,228.41 119.19,228.02 120.26,227.63 121.33,227.24 122.4,226.85 123.47,226.47 124.54,226.1 125.6,225.73 126.67,225.38 127.74,225.05 128.81,224.73 129.88,224.43 130.95,224.15 132.02,223.89 133.09,223.66 134.16,223.45 135.23,223.26 136.29,223.13 137.36,223.08 138.43,223.05 139.5,223.03 140.57,223.02 141.64,223.02 142.71,223.01 143.78,223 144.85,222.98 145.92,222.96 146.99,222.94 148.05,222.9 149.12,222.86 150.19,222.81 151.26,222.76 152.33,222.69 153.4,222.62 154.47,222.54 155.54,222.45 156.61,222.35 157.68,222.25 158.74,222.13 159.81,222.01 160.88,221.88 161.95,221.75 163.02,221.61 164.09,221.47 165.16,221.32 166.23,221.17 167.3,221.01 168.37,220.85 169.43,220.7 170.5,220.54 171.57,220.38 172.64,220.22 173.71,220.07 174.78,219.92 175.85,219.77 176.92,219.63 177.99,219.5 179.06,219.37 180.12,219.25 181.19,219.14 182.26,219.03 183.33,218.94 184.4,218.86 185.47,218.79 186.54,218.73 187.61,218.68 188.68,218.65 189.75,218.63 190.81,218.62 191.88,218.63 192.95,218.65 194.02,218.69 195.09,218.8 196.16,219.02 197.23,219.25 198.3,219.49 199.37,219.73 200.44,219.98 201.5,220.23 202.57,220.48 203.64,220.73 204.71,220.98 205.78,221.23 206.85,221.48 207.92,221.72 208.99,221.97 210.06,222.21 211.12,222.45 212.19,222.68 213.26,222.91 214.33,223.14 215.4,223.37 216.47,223.59 217.54,223.81 218.61,224.03 219.68,224.24 220.75,224.45 221.81,224.66 222.88,224.87 223.95,225.07 225.02,225.26 226.09,225.46 227.16,225.65 228.23,225.84 229.3,226.02 230.37,226.2 231.44,226.38 232.5,226.56 233.57,226.73 234.64,226.9 235.71,227.06 236.78,227.23 237.85,227.39 238.92,227.54 239.99,227.7 241.06,227.85 242.13,228 243.19,228.14 244.26,228.28 245.33,228.42 246.4,228.56 247.47,228.69 248.54,228.82 249.61,228.95 250.68,229.08 251.75,229.2 252.82,229.32 253.88,229.44 254.95,229.56 256.02,229.67 257.09,229.79 258.16,229.9 259.23,230 260.3,230.11 261.37,230.21 262.44,230.31 263.51,230.41 264.57,230.5 265.64,230.6 266.71,230.69 267.78,230.78 268.85,230.87 269.92,230.96 270.99,231.04 272.06,231.12 273.13,231.2 274.2,231.28 275.26,231.36 276.33,231.44 277.4,231.51 278.47,231.58 279.54,231.65 280.61,231.72 281.68,231.79 282.75,231.86 283.82,231.92 284.89,231.98 285.95,232.05 287.02,232.11 288.09,232.17 289.16,232.22 290.23,232.28 291.3,232.34" fill="none" stroke="#808080" stroke-width="0.9" stroke-linejoin="round"/>
<polyline points="77.5,234.44 78.57,234.43 79.64,234.42 80.71,234.4 81.78,234.38 82.84,234.36 83.91,234.33 84.98,234.3 86.05,234.27 87.12,234.23 88.19,234.18 89.26,234.13 90.33,234.07 91.4,234 92.47,233.92 93.53,233.83 94.6,233.73 95.67,233.61 96.74,233.49 97.81,233.35 98.88,233.19 99.95,233.02 101.02,232.83 102.09,232.62 103.16,232.4 104.22,232.16 105.29,231.9 106.36,231.61 107.43,231.31 108.5,230.99 109.57,230.66 110.64,230.3 111.71,229.93 112.78,229.54 113.85,229.13 114.91,228.71 115.98,228.29 117.05,227.85 118.12,227.4 119.19,226.96 120.26,226.51 121.33,226.06 122.4,225.61 123.47,225.18 124.54,224.75 125.6,224.34 126.67,223.94 127.74,223.56 128.81,223.21 129.88,222.88 130.95,222.57 132.02,222.29 133.09,222.04 134.16,221.82 135.23,221.64 136.29,221.52 137.36,221.5 138.43,221.5 139.5,221.52 140.57,221.55 141.64,221.58 142.71,221.62 143.78,221.65 144.85,221.68 145.92,221.71 146.99,221.73 148.05,221.75 149.12,221.75 150.19,221.75 151.26,221.74 152.33,221.73 153.4,221.7 154.47,221.67 155.54,221.62 156.61,221.57 157.68,221.51 158.74,221.44 159.81,221.36 160.88,221.28 161.95,221.19 163.02,221.09 164.09,220.98 165.16,220.87 166.23,220.76 167.3,220.64 168.37,220.52 169.43,220.4 170.5,220.28 171.57,220.15 172.64,220.03 173.71,219.91 174.78,219.79 175.85,219.67 176.92,219.56 177.99,219.45 179.06,219.35 180.12,219.25 181.19,219.16 182.26,219.08 183.33,219.01 184.4,218.95 185.47,218.9 186.54,218.86 187.61,218.83 188.68,218.81 189.75,218.81 190.81,218.81 191.88,218.84 192.95,218.87 194.02,218.92 195.09,219.04 196.16,219.26 197.23,219.49 198.3,219.74 199.37,219.98 200.44,220.24 201.5,220.49 202.57,220.74 203.64,220.99 204.71,221.24 205.78,221.49 206.85,221.74 207.92,221.98 208.99,222.22 210.06,222.46 211.12,222.7 212.19,222.93 213.26,223.16 214.33,223.39 215.4,223.62 216.47,223.84 217.54,224.05 218.61,224.27 219.68,224.48 220.75,224.69 221.81,224.89 222.88,225.09 223.95,225.29 225.02,225.49 226.09,225.68 227.16,225.87 228.23,226.05 229.3,226.23 230.37,226.41 231.44,226.59 232.5,226.76 233.57,226.93 234.64,227.09 235.71,227.25 236.78,227.41 237.85,227.57 238.92,227.72 239.99,227.87 241.06,228.02 242.13,228.17 243.19,228.31 244.26,228.45 245.33,228.58 246.4,228.72 247.47,228.85 248.54,228.98 249.61,229.1 250.68,229.23 251.75,229.35 252.82,229.47 253.88,229.58 254.95,229.69 256.02,229.81 257.09,229.91 258.16,230.02 259.23,230.13 260.3,230.23 261.37,230.33 262.44,230.43 263.51,230.52 264.57,230.62 265.64,230.71 266.71,230.8 267.78,230.88 268.85,230.97 269.92,231.06 270.99,231.14 272.06,231.22 273.13,231.3 274.2,231.37 275.26,231.45 276.33,231.52 277.4,231.59 278.47,231.67 279.54,231.73 280.61,231.8 281.68,231.87 282.75,231.93 283.82,231.99 284.89,232.06 285.95,232.12 287.02,232.17 288.09,232.23 289.16,232.29 290.23,232.34 291.3,232.4" fill="none" stroke="#ff90ff" stroke-width="0.9" stroke-linejoin="round"/>
<polyline points="77.5,234.43 78.57,234.42 79.64,234.4 80.71,234.39 81.78,234.36 82.84,234.34 83.91,234.31 84.98,234.27 86.05,234.23 87.12,234.18 88.19,234.13 89.26,234.06 90.33,233.99 91.4,233.91 92.47,233.81 93.53,233.71 94.6,233.59 95.67,233.45 96.74,233.3 97.81,233.14 98.88,232.95 99.95,232.75 101.02,232.53 102.09,232.28 103.16,232.02 104.22,231.73 105.29,231.42 106.36,231.09 107.43,230.73 108.5,230.35 109.57,229.95 110.64,229.53 111.71,229.09 112.78,228.63 113.85,228.16 114.91,227.66 115.98,227.16 117.05,226.64 118.12,226.12 119.19,225.6 120.26,225.07 121.33,224.55 122.4,224.03 123.47,223.52 124.54,223.02 125.6,222.55 126.67,222.09 127.74,221.66 128.81,221.25 129.88,220.88 130.95,220.53 132.02,220.23 133.09,219.95 134.16,219.72 135.23,219.53 136.29,219.41 137.36,219.42 138.43,219.46 139.5,219.52 140.57,219.59 141.64,219.67 142.71,219.75 143.78,219.83 144.85,219.91 145.92,219.99 146.99,220.06 148.05,220.13 149.12,220.19 150.19,220.24 151.26,220.28 152.33,220.31 153.4,220.33 154.47,220.35 155.54,220.35 156.61,220.34 157.68,220.33 158.74,220.3 159.81,220.27 160.88,220.23 161.95,220.18 163.02,220.12 164.09,220.05 165.16,219.98 166.23,219.91 167.3,219.82 168.37,219.74 169.43,219.65 170.5,219.56 171.57,219.47 172.64,219.37 173.71,219.28 174.78,219.19 175.85,219.1 176.92,219.01 177.99,218.93 179.06,218.85 180.12,218.78 181.19,218.71 182.26,218.65 183.33,218.6 184.4,218.56 185.47,218.53 186.54,218.51 187.61,218.49 188.68,218.49 189.75,218.51 190.81,218.53 191.88,218.57 192.95,218.61 194.02,218.68 195.09,218.81 196.16,219.04 197.23,219.29 198.3,219.54 199.37,219.8 200.44,220.06 201.5,220.32 202.57,220.58 203.64,220.84 204.71,221.1 205.78,221.36 206.85,221.61 207.92,221.86 208.99,222.11 210.06,222.36 211.12,222.6 212.19,222.84 213.26,223.07 214.33,223.31 215.4,223.54 216.47,223.76 217.54,223.98 218.61,224.2 219.68,224.42 220.75,224.63 221.81,224.84 222.88,225.04 223.95,225.24 225.02,225.44 226.09,225.64 227.16,225.83 228.23,226.01 229.3,226.2 230.37,226.38 231.44,226.55 232.5,226.73 233.57,226.9 234.64,227.07 235.71,227.23 236.78,227.39 237.85,227.55 238.92,227.7 239.99,227.86 241.06,228 242.13,228.15 243.19,228.29 244.26,228.43 245.33,228.57 246.4,228.7 247.47,228.84 248.54,228.97 249.61,229.09 250.68,229.22 251.75,229.34 252.82,229.46 253.88,229.57 254.95,229.69 256.02,229.8 257.09,229.91 258.16,230.02 259.23,230.12 260.3,230.22 261.37,230.32 262.44,230.42 263.51,230.52 264.57,230.61 265.64,230.7 266.71,230.79 267.78,230.88 268.85,230.97 269.92,231.05 270.99,231.13 272.06,231.22 273.13,231.29 274.2,231.37 275.26,231.45 276.33,231.52 277.4,231.59 278.47,231.66 279.54,231.73 280.61,231.8 281.68,231.87 282.75,231.93 283.82,231.99 284.89,232.05 285.95,232.12 287.02,232.17 288.09,232.23 289.16,232.29 290.23,232.34 291.3,232.4" fill="none" stroke="#a0ffff" stroke-width="0.9" stroke-linejoin="round"/>
<polyline points="77.5,234.41 78.57,234.39 79.64,234.37 80.71,234.34 81.78,234.31 82.84,234.27 83.91,234.23 84.98,234.18 86.05,234.12 87.12,234.05 88.19,233.97 89.26,233.88 90.33,233.78 91.4,233.66 92.47,233.52 93.53,233.37 94.6,233.2 95.67,233.01 96.74,232.79 97.81,232.56 98.88,232.29 99.95,232 101.02,231.68 102.09,231.33 103.16,230.95 104.22,230.54 105.29,230.1 106.36,229.62 107.43,229.11 108.5,228.57 109.57,228 110.64,227.4 111.71,226.77 112.78,226.11 113.85,225.44 114.91,224.74 115.98,224.02 117.05,223.29 118.12,222.55 119.19,221.81 120.26,221.07 121.33,220.34 122.4,219.62 123.47,218.91 124.54,218.23 125.6,217.57 126.67,216.95 127.74,216.36 128.81,215.82 129.88,215.33 130.95,214.88 132.02,214.5 133.09,214.16 134.16,213.89 135.23,213.68 136.29,213.59 137.36,213.68 138.43,213.82 139.5,214 140.57,214.2 141.64,214.41 142.71,214.63 143.78,214.85 144.85,215.08 145.92,215.3 146.99,215.52 148.05,215.73 149.12,215.94 150.19,216.14 151.26,216.33 152.33,216.51 153.4,216.67 154.47,216.83 155.54,216.97 156.61,217.11 157.68,217.23 158.74,217.33 159.81,217.43 160.88,217.52 161.95,217.59 163.02,217.66 164.09,217.71 165.16,217.75 166.23,217.79 167.3,217.82 168.37,217.84 169.43,217.85 170.5,217.86 171.57,217.87 172.64,217.87 173.71,217.86 174.78,217.86 175.85,217.85 176.92,217.85 177.99,217.84 179.06,217.84 180.12,217.84 181.19,217.84 182.26,217.85 183.33,217.86 184.4,217.88 185.47,217.9 186.54,217.94 187.61,217.98 188.68,218.03 189.75,218.08 190.81,218.15 191.88,218.23 192.95,218.32 194.02,218.42 195.09,218.59 196.16,218.85 197.23,219.12 198.3,219.4 199.37,219.68 200.44,219.96 201.5,220.25 202.57,220.53 203.64,220.8 204.71,221.08 205.78,221.35 206.85,221.62 207.92,221.88 208.99,222.14 210.06,222.4 211.12,222.65 212.19,222.9 213.26,223.15 214.33,223.39 215.4,223.63 216.47,223.86 217.54,224.09 218.61,224.31 219.68,224.53 220.75,224.75 221.81,224.96 222.88,225.17 223.95,225.37 225.02,225.57 226.09,225.77 227.16,225.96 228.23,226.15 229.3,226.34 230.37,226.52 231.44,226.7 232.5,226.87 233.57,227.04 234.64,227.21 235.71,227.37 236.78,227.53 237.85,227.69 238.92,227.84 239.99,228 241.06,228.14 242.13,228.29 243.19,228.43 244.26,228.57 245.33,228.7 246.4,228.84 247.47,228.97 248.54,229.1 249.61,229.22 250.68,229.34 251.75,229.46 252.82,229.58 253.88,229.69 254.95,229.81 256.02,229.92 257.09,230.02 258.16,230.13 259.23,230.23 260.3,230.33 261.37,230.43 262.44,230.53 263.51,230.62 264.57,230.71 265.64,230.8 266.71,230.89 267.78,230.98 268.85,231.06 269.92,231.15 270.99,231.23 272.06,231.31 273.13,231.38 274.2,231.46 275.26,231.53 276.33,231.6 277.4,231.67 278.47,231.74 279.54,231.81 280.61,231.88 281.68,231.94 282.75,232 283.82,232.06 284.89,232.12 285.95,232.18 287.02,232.24 288.09,232.3 289.16,232.35 290.23,232.4 291.3,232.46" fill="none" stroke="#ff2020" stroke-width="0.9" stroke-linejoin="round"/>
<polyline points="77.5,234.39 78.57,234.36 79.64,234.33 80.71,234.3 81.78,234.26 82.84,234.21 83.91,234.15 84.98,234.09 86.05,234.01 87.12,233.92 88.19,233.82 89.26,233.71 90.33,233.57 91.4,233.42 92.47,233.25 93.53,233.05 94.6,232.83 95.67,232.58 96.74,232.3 97.81,232 98.88,231.65 99.95,231.28 101.02,230.86 102.09,230.41 103.16,229.92 104.22,229.39 105.29,228.82 106.36,228.2 107.43,227.55 108.5,226.85 109.57,226.12 110.64,225.34 111.71,224.53 112.78,223.69 113.85,222.81 114.91,221.91 115.98,220.99 117.05,220.06 118.12,219.11 119.19,218.17 120.26,217.22 121.33,216.28 122.4,215.36 123.47,214.46 124.54,213.6 125.6,212.77 126.67,211.99 127.74,211.26 128.81,210.59 129.88,209.98 130.95,209.44 132.02,208.97 133.09,208.58 134.16,208.27 135.23,208.05 136.29,207.98 137.36,208.15 138.43,208.39 139.5,208.68 140.57,209 141.64,209.34 142.71,209.69 143.78,210.05 144.85,210.42 145.92,210.78 146.99,211.15 148.05,211.5 149.12,211.85 150.19,212.19 151.26,212.52 152.33,212.84 153.4,213.15 154.47,213.44 155.54,213.72 156.61,213.99 157.68,214.24 158.74,214.48 159.81,214.7 160.88,214.91 161.95,215.11 163.02,215.29 164.09,215.46 165.16,215.62 166.23,215.76 167.3,215.89 168.37,216.02 169.43,216.13 170.5,216.24 171.57,216.33 172.64,216.42 173.71,216.51 174.78,216.59 175.85,216.66 176.92,216.74 177.99,216.81 179.06,216.87 180.12,216.94 181.19,217.01 182.26,217.08 183.33,217.16 184.4,217.23 185.47,217.31 186.54,217.4 187.61,217.49 188.68,217.59 189.75,217.69 190.81,217.8 191.88,217.92 192.95,218.05 194.02,218.19 195.09,218.39 196.16,218.67 197.23,218.97 198.3,219.28 199.37,219.58 200.44,219.88 201.5,220.19 202.57,220.48 203.64,220.78 204.71,221.07 205.78,221.36 206.85,221.64 207.92,221.92 208.99,222.19 210.06,222.46 211.12,222.72 212.19,222.98 213.26,223.23 214.33,223.48 215.4,223.72 216.47,223.96 217.54,224.2 218.61,224.43 219.68,224.65 220.75,224.87 221.81,225.09 222.88,225.3 223.95,225.51 225.02,225.71 226.09,225.91 227.16,226.1 228.23,226.29 229.3,226.48 230.37,226.66 231.44,226.84 232.5,227.01 233.57,227.19 234.64,227.35 235.71,227.52 236.78,227.68 237.85,227.83 238.92,227.99 239.99,228.14 241.06,228.28 242.13,228.43 243.19,228.57 244.26,228.71 245.33,228.84 246.4,228.97 247.47,229.1 248.54,229.23 249.61,229.35 250.68,229.47 251.75,229.59 252.82,229.7 253.88,229.82 254.95,229.93 256.02,230.04 257.09,230.14 258.16,230.24 259.23,230.35 260.3,230.44 261.37,230.54 262.44,230.63 263.51,230.73 264.57,230.82 265.64,230.91 266.71,230.99 267.78,231.08 268.85,231.16 269.92,231.24 270.99,231.32 272.06,231.39 273.13,231.47 274.2,231.54 275.26,231.62 276.33,231.69 277.4,231.75 278.47,231.82 279.54,231.89 280.61,231.95 281.68,232.01 282.75,232.07 283.82,232.13 284.89,232.19 285.95,232.25 287.02,232.31 288.09,232.36 289.16,232.41 290.23,232.47 291.3,232.52" fill="none" stroke="#909090" stroke-width="0.8" stroke-linejoin="round"/>
<polyline points="77.5,234.35 78.57,234.31 79.64,234.27 80.71,234.23 81.78,234.17 82.84,234.11 83.91,234.03 84.98,233.94 86.05,233.84 87.12,233.72 88.19,233.58 89.26,233.43 90.33,233.24 91.4,233.04 92.47,232.8 93.53,232.53 94.6,232.23 95.67,231.9 96.74,231.52 97.81,231.1 98.88,230.64 99.95,230.12 101.02,229.56 102.09,228.95 103.16,228.28 104.22,227.56 105.29,226.78 106.36,225.95 107.43,225.05 108.5,224.11 109.57,223.11 110.64,222.06 111.71,220.96 112.78,219.81 113.85,218.63 114.91,217.41 115.98,216.17 117.05,214.9 118.12,213.62 119.19,212.34 120.26,211.07 121.33,209.81 122.4,208.57 123.47,207.37 124.54,206.21 125.6,205.11 126.67,204.07 127.74,203.11 128.81,202.22 129.88,201.43 130.95,200.74 132.02,200.14 133.09,199.66 134.16,199.29 135.23,199.03 136.29,199.01 137.36,199.3 138.43,199.69 139.5,200.16 140.57,200.67 141.64,201.21 142.71,201.77 143.78,202.35 144.85,202.93 145.92,203.52 146.99,204.1 148.05,204.68 149.12,205.26 150.19,205.82 151.26,206.37 152.33,206.91 153.4,207.44 154.47,207.95 155.54,208.44 156.61,208.91 157.68,209.37 158.74,209.81 159.81,210.23 160.88,210.63 161.95,211.01 163.02,211.37 164.09,211.72 165.16,212.05 166.23,212.36 167.3,212.66 168.37,212.94 169.43,213.21 170.5,213.46 171.57,213.7 172.64,213.93 173.71,214.15 174.78,214.36 175.85,214.56 176.92,214.75 177.99,214.94 179.06,215.12 180.12,215.29 181.19,215.47 182.26,215.64 183.33,215.8 184.4,215.97 185.47,216.14 186.54,216.3 187.61,216.47 188.68,216.65 189.75,216.82 190.81,217 191.88,217.18 192.95,217.37 194.02,217.57 195.09,217.82 196.16,218.15 197.23,218.5 198.3,218.84 199.37,219.19 200.44,219.53 201.5,219.86 202.57,220.19 203.64,220.52 204.71,220.84 205.78,221.15 206.85,221.46 207.92,221.76 208.99,222.05 210.06,222.34 211.12,222.63 212.19,222.9 213.26,223.17 214.33,223.44 215.4,223.7 216.47,223.95 217.54,224.19 218.61,224.44 219.68,224.67 220.75,224.9 221.81,225.13 222.88,225.35 223.95,225.56 225.02,225.77 226.09,225.98 227.16,226.18 228.23,226.37 229.3,226.56 230.37,226.75 231.44,226.93 232.5,227.11 233.57,227.29 234.64,227.46 235.71,227.62 236.78,227.78 237.85,227.94 238.92,228.1 239.99,228.25 241.06,228.4 242.13,228.54 243.19,228.68 244.26,228.82 245.33,228.96 246.4,229.09 247.47,229.22 248.54,229.34 249.61,229.46 250.68,229.58 251.75,229.7 252.82,229.82 253.88,229.93 254.95,230.04 256.02,230.14 257.09,230.25 258.16,230.35 259.23,230.45 260.3,230.55 261.37,230.64 262.44,230.73 263.51,230.83 264.57,230.91 265.64,231 266.71,231.09 267.78,231.17 268.85,231.25 269.92,231.33 270.99,231.41 272.06,231.48 273.13,231.55 274.2,231.63 275.26,231.7 276.33,231.77 277.4,231.83 278.47,231.9 279.54,231.96 280.61,232.02 281.68,232.09 282.75,232.15 283.82,232.2 284.89,232.26 285.95,232.32 287.02,232.37 288.09,232.42 289.16,232.47 290.23,232.53 291.3,232.57" fill="none" stroke="#d8d8d8" stroke-width="0.9" stroke-linejoin="round"/>
<polyline points="77.5,234.28 78.57,234.23 79.64,234.17 80.71,234.1 81.78,234.02 82.84,233.93 83.91,233.82 84.98,233.68 86.05,233.53 87.12,233.36 88.19,233.15 89.26,232.92 90.33,232.65 91.4,232.34 92.47,231.99 93.53,231.6 94.6,231.15 95.67,230.65 96.74,230.1 97.81,229.48 98.88,228.79 99.95,228.03 101.02,227.2 102.09,226.29 103.16,225.3 104.22,224.23 105.29,223.08 106.36,221.84 107.43,220.52 108.5,219.12 109.57,217.64 110.64,216.09 111.71,214.46 112.78,212.77 113.85,211.02 114.91,209.23 115.98,207.39 117.05,205.53 118.12,203.65 119.19,201.76 120.26,199.89 121.33,198.04 122.4,196.23 123.47,194.47 124.54,192.78 125.6,191.18 126.67,189.68 127.74,188.28 128.81,187.02 129.88,185.89 130.95,184.91 132.02,184.09 133.09,183.43 134.16,182.94 135.23,182.63 136.29,182.66 137.36,183.17 138.43,183.85 139.5,184.63 140.57,185.48 141.64,186.38 142.71,187.31 143.78,188.27 144.85,189.25 145.92,190.23 146.99,191.22 148.05,192.2 149.12,193.18 150.19,194.14 151.26,195.09 152.33,196.02 153.4,196.93 154.47,197.82 155.54,198.69 156.61,199.54 157.68,200.36 158.74,201.15 159.81,201.92 160.88,202.66 161.95,203.37 163.02,204.06 164.09,204.73 165.16,205.36 166.23,205.97 167.3,206.56 168.37,207.12 169.43,207.66 170.5,208.18 171.57,208.67 172.64,209.15 173.71,209.6 174.78,210.04 175.85,210.46 176.92,210.87 177.99,211.26 179.06,211.63 180.12,212 181.19,212.35 182.26,212.69 183.33,213.03 184.4,213.35 185.47,213.67 186.54,213.99 187.61,214.29 188.68,214.6 189.75,214.9 190.81,215.2 191.88,215.5 192.95,215.8 194.02,216.1 195.09,216.45 196.16,216.87 197.23,217.3 198.3,217.72 199.37,218.14 200.44,218.55 201.5,218.96 202.57,219.35 203.64,219.74 204.71,220.11 205.78,220.48 206.85,220.84 207.92,221.19 208.99,221.53 210.06,221.86 211.12,222.18 212.19,222.5 213.26,222.8 214.33,223.1 215.4,223.39 216.47,223.68 217.54,223.95 218.61,224.22 219.68,224.48 220.75,224.73 221.81,224.98 222.88,225.22 223.95,225.45 225.02,225.68 226.09,225.9 227.16,226.11 228.23,226.32 229.3,226.53 230.37,226.73 231.44,226.92 232.5,227.11 233.57,227.29 234.64,227.47 235.71,227.64 236.78,227.81 237.85,227.98 238.92,228.14 239.99,228.3 241.06,228.45 242.13,228.6 243.19,228.74 244.26,228.88 245.33,229.02 246.4,229.16 247.47,229.29 248.54,229.42 249.61,229.54 250.68,229.66 251.75,229.78 252.82,229.9 253.88,230.01 254.95,230.12 256.02,230.23 257.09,230.33 258.16,230.43 259.23,230.53 260.3,230.63 261.37,230.73 262.44,230.82 263.51,230.91 264.57,231 265.64,231.08 266.71,231.17 267.78,231.25 268.85,231.33 269.92,231.41 270.99,231.48 272.06,231.56 273.13,231.63 274.2,231.7 275.26,231.77 276.33,231.84 277.4,231.9 278.47,231.97 279.54,232.03 280.61,232.09 281.68,232.15 282.75,232.21 283.82,232.27 284.89,232.32 285.95,232.38 287.02,232.43 288.09,232.48 289.16,232.53 290.23,232.58 291.3,232.63" fill="none" stroke="#505050" stroke-width="0.9" stroke-linejoin="round"/>
<polyline points="77.5,234.2 78.57,234.13 79.64,234.05 80.71,233.96 81.78,233.85 82.84,233.72 83.91,233.56 84.98,233.38 86.05,233.17 87.12,232.93 88.19,232.65 89.26,232.33 90.33,231.96 91.4,231.54 92.47,231.06 93.53,230.52 94.6,229.9 95.67,229.22 96.74,228.45 97.81,227.6 98.88,226.65 99.95,225.61 101.02,224.47 102.09,223.22 103.16,221.86 104.22,220.39 105.29,218.81 106.36,217.11 107.43,215.3 108.5,213.37 109.57,211.34 110.64,209.2 111.71,206.97 112.78,204.65 113.85,202.25 114.91,199.78 115.98,197.27 117.05,194.71 118.12,192.13 119.19,189.55 120.26,186.99 121.33,184.46 122.4,181.98 123.47,179.59 124.54,177.29 125.6,175.1 126.67,173.06 127.74,171.18 128.81,169.47 129.88,167.95 130.95,166.64 132.02,165.55 133.09,164.69 134.16,164.06 135.23,163.68 136.29,163.79 137.36,164.56 138.43,165.56 139.5,166.7 140.57,167.94 141.64,169.25 142.71,170.62 143.78,172.02 144.85,173.45 145.92,174.89 146.99,176.33 148.05,177.78 149.12,179.21 150.19,180.64 151.26,182.04 152.33,183.43 153.4,184.78 154.47,186.12 155.54,187.42 156.61,188.69 157.68,189.93 158.74,191.13 159.81,192.3 160.88,193.43 161.95,194.53 163.02,195.59 164.09,196.61 165.16,197.6 166.23,198.56 167.3,199.47 168.37,200.36 169.43,201.21 170.5,202.03 171.57,202.82 172.64,203.57 173.71,204.3 174.78,205 175.85,205.68 176.92,206.32 177.99,206.95 179.06,207.55 180.12,208.13 181.19,208.69 182.26,209.24 183.33,209.76 184.4,210.27 185.47,210.76 186.54,211.25 187.61,211.72 188.68,212.17 189.75,212.62 190.81,213.06 191.88,213.49 192.95,213.92 194.02,214.33 195.09,214.8 196.16,215.32 197.23,215.85 198.3,216.37 199.37,216.88 200.44,217.37 201.5,217.85 202.57,218.32 203.64,218.78 204.71,219.22 205.78,219.65 206.85,220.07 207.92,220.48 208.99,220.87 210.06,221.25 211.12,221.62 212.19,221.98 213.26,222.33 214.33,222.67 215.4,223 216.47,223.31 217.54,223.62 218.61,223.92 219.68,224.21 220.75,224.49 221.81,224.76 222.88,225.02 223.95,225.28 225.02,225.53 226.09,225.77 227.16,226 228.23,226.23 229.3,226.45 230.37,226.66 231.44,226.87 232.5,227.07 233.57,227.26 234.64,227.45 235.71,227.64 236.78,227.81 237.85,227.99 238.92,228.16 239.99,228.32 241.06,228.48 242.13,228.63 243.19,228.79 244.26,228.93 245.33,229.07 246.4,229.21 247.47,229.35 248.54,229.48 249.61,229.61 250.68,229.73 251.75,229.85 252.82,229.97 253.88,230.08 254.95,230.19 256.02,230.3 257.09,230.41 258.16,230.51 259.23,230.61 260.3,230.71 261.37,230.8 262.44,230.9 263.51,230.99 264.57,231.08 265.64,231.16 266.71,231.25 267.78,231.33 268.85,231.41 269.92,231.48 270.99,231.56 272.06,231.63 273.13,231.7 274.2,231.77 275.26,231.84 276.33,231.91 277.4,231.97 278.47,232.04 279.54,232.1 280.61,232.16 281.68,232.22 282.75,232.28 283.82,232.33 284.89,232.39 285.95,232.44 287.02,232.49 288.09,232.54 289.16,232.59 290.23,232.64 291.3,232.69" fill="none" stroke="#ff3090" stroke-width="1.0" stroke-linejoin="round"/>
<polyline points="77.5,234.17 78.57,234.09 79.64,234.01 80.71,233.91 81.78,233.78 82.84,233.64 83.91,233.47 84.98,233.28 86.05,233.05 87.12,232.78 88.19,232.47 89.26,232.12 90.33,231.71 91.4,231.25 92.47,230.73 93.53,230.13 94.6,229.46 95.67,228.71 96.74,227.87 97.81,226.93 98.88,225.89 99.95,224.75 101.02,223.5 102.09,222.13 103.16,220.64 104.22,219.03 105.29,217.29 106.36,215.42 107.43,213.43 108.5,211.32 109.57,209.09 110.64,206.75 111.71,204.3 112.78,201.76 113.85,199.12 114.91,196.42 115.98,193.66 117.05,190.86 118.12,188.03 119.19,185.2 120.26,182.39 121.33,179.62 122.4,176.91 123.47,174.28 124.54,171.76 125.6,169.38 126.67,167.14 127.74,165.08 128.81,163.21 129.88,161.55 130.95,160.12 132.02,158.94 133.09,158 134.16,157.33 135.23,156.93 136.29,157.06 137.36,157.91 138.43,159.02 139.5,160.29 140.57,161.67 141.64,163.13 142.71,164.64 143.78,166.2 144.85,167.79 145.92,169.39 146.99,170.99 148.05,172.6 149.12,174.2 150.19,175.78 151.26,177.35 152.33,178.89 153.4,180.4 154.47,181.89 155.54,183.34 156.61,184.76 157.68,186.15 158.74,187.49 159.81,188.8 160.88,190.07 161.95,191.3 163.02,192.49 164.09,193.64 165.16,194.75 166.23,195.82 167.3,196.85 168.37,197.85 169.43,198.81 170.5,199.73 171.57,200.62 172.64,201.47 173.71,202.3 174.78,203.09 175.85,203.85 176.92,204.58 177.99,205.29 179.06,205.97 180.12,206.62 181.19,207.26 182.26,207.87 183.33,208.46 184.4,209.03 185.47,209.59 186.54,210.13 187.61,210.65 188.68,211.16 189.75,211.66 190.81,212.15 191.88,212.63 192.95,213.1 194.02,213.56 195.09,214.06 196.16,214.63 197.23,215.19 198.3,215.74 199.37,216.28 200.44,216.81 201.5,217.32 202.57,217.82 203.64,218.31 204.71,218.78 205.78,219.23 206.85,219.67 207.92,220.1 208.99,220.52 210.06,220.92 211.12,221.31 212.19,221.68 213.26,222.05 214.33,222.4 215.4,222.75 216.47,223.08 217.54,223.4 218.61,223.71 219.68,224.01 220.75,224.3 221.81,224.59 222.88,224.86 223.95,225.12 225.02,225.38 226.09,225.63 227.16,225.87 228.23,226.11 229.3,226.33 230.37,226.55 231.44,226.77 232.5,226.97 233.57,227.17 234.64,227.37 235.71,227.56 236.78,227.74 237.85,227.92 238.92,228.09 239.99,228.26 241.06,228.42 242.13,228.58 243.19,228.74 244.26,228.89 245.33,229.03 246.4,229.17 247.47,229.31 248.54,229.44 249.61,229.57 250.68,229.7 251.75,229.82 252.82,229.94 253.88,230.06 254.95,230.17 256.02,230.28 257.09,230.39 258.16,230.49 259.23,230.59 260.3,230.69 261.37,230.79 262.44,230.88 263.51,230.97 264.57,231.06 265.64,231.15 266.71,231.23 267.78,231.32 268.85,231.4 269.92,231.47 270.99,231.55 272.06,231.63 273.13,231.7 274.2,231.77 275.26,231.84 276.33,231.9 277.4,231.97 278.47,232.03 279.54,232.1 280.61,232.16 281.68,232.22 282.75,232.27 283.82,232.33 284.89,232.38 285.95,232.44 287.02,232.49 288.09,232.54 289.16,232.59 290.23,232.64 291.3,232.69" fill="none" stroke="#b060ff" stroke-width="1.1" stroke-linejoin="round"/>
<polyline points="77.5,234.12 78.57,234.04 79.64,233.94 80.71,233.83 81.78,233.69 82.84,233.52 83.91,233.33 84.98,233.11 86.05,232.85 87.12,232.55 88.19,232.2 89.26,231.8 90.33,231.33 91.4,230.81 92.47,230.21 93.53,229.53 94.6,228.77 95.67,227.91 96.74,226.96 97.81,225.89 98.88,224.71 99.95,223.41 101.02,221.99 102.09,220.43 103.16,218.73 104.22,216.9 105.29,214.92 106.36,212.8 107.43,210.54 108.5,208.14 109.57,205.6 110.64,202.94 111.71,200.15 112.78,197.26 113.85,194.26 114.91,191.19 115.98,188.05 117.05,184.87 118.12,181.65 119.19,178.44 120.26,175.25 121.33,172.1 122.4,169.02 123.47,166.04 124.54,163.18 125.6,160.48 126.67,157.95 127.74,155.61 128.81,153.5 129.88,151.63 130.95,150.02 132.02,148.69 133.09,147.65 134.16,146.9 135.23,146.47 136.29,146.64 137.36,147.64 138.43,148.94 139.5,150.41 140.57,152.01 141.64,153.71 142.71,155.47 143.78,157.28 144.85,159.12 145.92,160.98 146.99,162.85 148.05,164.72 149.12,166.58 150.19,168.42 151.26,170.25 152.33,172.05 153.4,173.82 154.47,175.56 155.54,177.26 156.61,178.92 157.68,180.55 158.74,182.13 159.81,183.67 160.88,185.16 161.95,186.61 163.02,188.02 164.09,189.38 165.16,190.69 166.23,191.96 167.3,193.19 168.37,194.37 169.43,195.51 170.5,196.61 171.57,197.67 172.64,198.69 173.71,199.67 174.78,200.61 175.85,201.52 176.92,202.4 177.99,203.24 179.06,204.05 180.12,204.83 181.19,205.59 182.26,206.32 183.33,207.02 184.4,207.7 185.47,208.35 186.54,208.99 187.61,209.61 188.68,210.21 189.75,210.79 190.81,211.36 191.88,211.91 192.95,212.45 194.02,212.98 195.09,213.54 196.16,214.16 197.23,214.77 198.3,215.37 199.37,215.96 200.44,216.53 201.5,217.08 202.57,217.61 203.64,218.13 204.71,218.63 205.78,219.11 206.85,219.58 207.92,220.04 208.99,220.48 210.06,220.9 211.12,221.31 212.19,221.71 213.26,222.09 214.33,222.46 215.4,222.82 216.47,223.16 217.54,223.5 218.61,223.82 219.68,224.13 220.75,224.43 221.81,224.72 222.88,225.01 223.95,225.28 225.02,225.54 226.09,225.8 227.16,226.04 228.23,226.28 229.3,226.51 230.37,226.74 231.44,226.95 232.5,227.16 233.57,227.37 234.64,227.56 235.71,227.75 236.78,227.94 237.85,228.12 238.92,228.29 239.99,228.46 241.06,228.62 242.13,228.78 243.19,228.93 244.26,229.08 245.33,229.22 246.4,229.36 247.47,229.5 248.54,229.63 249.61,229.76 250.68,229.88 251.75,230 252.82,230.12 253.88,230.23 254.95,230.34 256.02,230.45 257.09,230.56 258.16,230.66 259.23,230.76 260.3,230.85 261.37,230.95 262.44,231.04 263.51,231.13 264.57,231.21 265.64,231.3 266.71,231.38 267.78,231.46 268.85,231.54 269.92,231.61 270.99,231.69 272.06,231.76 273.13,231.83 274.2,231.9 275.26,231.96 276.33,232.03 277.4,232.09 278.47,232.15 279.54,232.21 280.61,232.27 281.68,232.32 282.75,232.38 283.82,232.43 284.89,232.49 285.95,232.54 287.02,232.59 288.09,232.64 289.16,232.68 290.23,232.73 291.3,232.78" fill="none" stroke="#ff9930" stroke-width="0.9" stroke-linejoin="round"/>
<polyline points="77.5,234 78.57,233.9 79.64,233.77 80.71,233.61 81.78,233.43 82.84,233.22 83.91,232.97 84.98,232.67 86.05,232.33 87.12,231.93 88.19,231.47 89.26,230.94 90.33,230.34 91.4,229.65 92.47,228.86 93.53,227.97 94.6,226.96 95.67,225.84 96.74,224.58 97.81,223.18 98.88,221.63 99.95,219.92 101.02,218.04 102.09,215.99 103.16,213.76 104.22,211.34 105.29,208.74 106.36,205.95 107.43,202.97 108.5,199.82 109.57,196.48 110.64,192.97 111.71,189.31 112.78,185.5 113.85,181.57 114.91,177.53 115.98,173.4 117.05,169.21 118.12,164.99 119.19,160.77 120.26,156.58 121.33,152.44 122.4,148.4 123.47,144.5 124.54,140.75 125.6,137.2 126.67,133.89 127.74,130.84 128.81,128.08 129.88,125.65 130.95,123.55 132.02,121.83 133.09,120.49 134.16,119.55 135.23,119.01 136.29,119.28 137.36,120.64 138.43,122.39 139.5,124.38 140.57,126.54 141.64,128.83 142.71,131.2 143.78,133.64 144.85,136.12 145.92,138.63 146.99,141.16 148.05,143.68 149.12,146.2 150.19,148.7 151.26,151.17 152.33,153.61 153.4,156.02 154.47,158.38 155.54,160.7 156.61,162.97 157.68,165.18 158.74,167.34 159.81,169.45 160.88,171.5 161.95,173.48 163.02,175.41 164.09,177.29 165.16,179.1 166.23,180.85 167.3,182.54 168.37,184.18 169.43,185.76 170.5,187.28 171.57,188.75 172.64,190.16 173.71,191.53 174.78,192.84 175.85,194.1 176.92,195.32 177.99,196.49 179.06,197.62 180.12,198.71 181.19,199.75 182.26,200.76 183.33,201.73 184.4,202.67 185.47,203.57 186.54,204.44 187.61,205.29 188.68,206.1 189.75,206.89 190.81,207.66 191.88,208.4 192.95,209.12 194.02,209.82 195.09,210.55 196.16,211.33 197.23,212.09 198.3,212.83 199.37,213.55 200.44,214.25 201.5,214.92 202.57,215.57 203.64,216.2 204.71,216.81 205.78,217.4 206.85,217.96 207.92,218.5 208.99,219.03 210.06,219.53 211.12,220.02 212.19,220.49 213.26,220.94 214.33,221.38 215.4,221.8 216.47,222.2 217.54,222.59 218.61,222.97 219.68,223.33 220.75,223.68 221.81,224.02 222.88,224.34 223.95,224.65 225.02,224.95 226.09,225.24 227.16,225.52 228.23,225.79 229.3,226.05 230.37,226.31 231.44,226.55 232.5,226.78 233.57,227.01 234.64,227.23 235.71,227.44 236.78,227.64 237.85,227.84 238.92,228.03 239.99,228.21 241.06,228.39 242.13,228.56 243.19,228.73 244.26,228.89 245.33,229.05 246.4,229.2 247.47,229.35 248.54,229.49 249.61,229.62 250.68,229.76 251.75,229.89 252.82,230.01 253.88,230.13 254.95,230.25 256.02,230.36 257.09,230.47 258.16,230.58 259.23,230.69 260.3,230.79 261.37,230.89 262.44,230.98 263.51,231.07 264.57,231.16 265.64,231.25 266.71,231.34 267.78,231.42 268.85,231.5 269.92,231.58 270.99,231.65 272.06,231.73 273.13,231.8 274.2,231.87 275.26,231.94 276.33,232 277.4,232.07 278.47,232.13 279.54,232.19 280.61,232.25 281.68,232.31 282.75,232.37 283.82,232.42 284.89,232.47 285.95,232.53 287.02,232.58 288.09,232.63 289.16,232.67 290.23,232.72 291.3,232.77" fill="none" stroke="#4040c0" stroke-width="1.1" stroke-linejoin="round"/>
<polyline points="77.5,233.95 78.57,233.83 79.64,233.68 80.71,233.51 81.78,233.31 82.84,233.07 83.91,232.79 84.98,232.46 86.05,232.08 87.12,231.63 88.19,231.12 89.26,230.53 90.33,229.85 91.4,229.08 92.47,228.2 93.53,227.2 94.6,226.08 95.67,224.82 96.74,223.41 97.81,221.85 98.88,220.11 99.95,218.2 101.02,216.1 102.09,213.81 103.16,211.32 104.22,208.62 105.29,205.71 106.36,202.59 107.43,199.26 108.5,195.73 109.57,192 110.64,188.08 111.71,183.99 112.78,179.74 113.85,175.34 114.91,170.82 115.98,166.21 117.05,161.54 118.12,156.82 119.19,152.11 120.26,147.42 121.33,142.81 122.4,138.3 123.47,133.93 124.54,129.76 125.6,125.8 126.67,122.1 127.74,118.7 128.81,115.63 129.88,112.92 130.95,110.6 132.02,108.69 133.09,107.21 134.16,106.18 135.23,105.6 136.29,105.92 137.36,107.47 138.43,109.45 139.5,111.7 140.57,114.14 141.64,116.73 142.71,119.41 143.78,122.17 144.85,124.98 145.92,127.82 146.99,130.67 148.05,133.53 149.12,136.38 150.19,139.21 151.26,142.02 152.33,144.79 153.4,147.52 154.47,150.2 155.54,152.83 156.61,155.41 157.68,157.93 158.74,160.39 159.81,162.79 160.88,165.12 161.95,167.39 163.02,169.59 164.09,171.72 165.16,173.79 166.23,175.79 167.3,177.73 168.37,179.6 169.43,181.41 170.5,183.16 171.57,184.84 172.64,186.46 173.71,188.02 174.78,189.53 175.85,190.98 176.92,192.37 177.99,193.72 179.06,195.01 180.12,196.26 181.19,197.45 182.26,198.61 183.33,199.72 184.4,200.79 185.47,201.82 186.54,202.82 187.61,203.78 188.68,204.71 189.75,205.6 190.81,206.47 191.88,207.31 192.95,208.12 194.02,208.9 195.09,209.71 196.16,210.56 197.23,211.38 198.3,212.19 199.37,212.97 200.44,213.72 201.5,214.44 202.57,215.14 203.64,215.82 204.71,216.47 205.78,217.09 206.85,217.7 207.92,218.28 208.99,218.83 210.06,219.37 211.12,219.89 212.19,220.38 213.26,220.86 214.33,221.32 215.4,221.76 216.47,222.19 217.54,222.59 218.61,222.99 219.68,223.36 220.75,223.73 221.81,224.08 222.88,224.41 223.95,224.74 225.02,225.05 226.09,225.35 227.16,225.64 228.23,225.92 229.3,226.19 230.37,226.44 231.44,226.69 232.5,226.93 233.57,227.16 234.64,227.38 235.71,227.6 236.78,227.81 237.85,228 238.92,228.2 239.99,228.38 241.06,228.56 242.13,228.74 243.19,228.9 244.26,229.06 245.33,229.22 246.4,229.37 247.47,229.52 248.54,229.66 249.61,229.79 250.68,229.93 251.75,230.05 252.82,230.18 253.88,230.3 254.95,230.41 256.02,230.53 257.09,230.63 258.16,230.74 259.23,230.84 260.3,230.94 261.37,231.04 262.44,231.13 263.51,231.22 264.57,231.31 265.64,231.39 266.71,231.48 267.78,231.56 268.85,231.63 269.92,231.71 270.99,231.78 272.06,231.86 273.13,231.93 274.2,231.99 275.26,232.06 276.33,232.12 277.4,232.18 278.47,232.25 279.54,232.3 280.61,232.36 281.68,232.42 282.75,232.47 283.82,232.52 284.89,232.57 285.95,232.62 287.02,232.67 288.09,232.72 289.16,232.77 290.23,232.81 291.3,232.86" fill="none" stroke="#30a0a0" stroke-width="0.9" stroke-linejoin="round"/>
<polyline points="77.5,233.93 78.57,233.8 79.64,233.65 80.71,233.48 81.78,233.26 82.84,233.02 83.91,232.73 84.98,232.38 86.05,231.99 87.12,231.53 88.19,230.99 89.26,230.38 90.33,229.68 91.4,228.87 92.47,227.96 93.53,226.93 94.6,225.76 95.67,224.45 96.74,222.99 97.81,221.37 98.88,219.57 99.95,217.59 101.02,215.41 102.09,213.03 103.16,210.44 104.22,207.64 105.29,204.62 106.36,201.39 107.43,197.93 108.5,194.27 109.57,190.4 110.64,186.33 111.71,182.08 112.78,177.67 113.85,173.11 114.91,168.42 115.98,163.64 117.05,158.78 118.12,153.89 119.19,149 120.26,144.14 121.33,139.35 122.4,134.68 123.47,130.15 124.54,125.82 125.6,121.72 126.67,117.89 127.74,114.36 128.81,111.18 129.88,108.38 130.95,105.97 132.02,103.99 133.09,102.46 134.16,101.4 135.23,100.81 136.29,101.15 137.36,102.77 138.43,104.84 139.5,107.18 140.57,109.73 141.64,112.42 142.71,115.22 143.78,118.1 144.85,121.02 145.92,123.99 146.99,126.97 148.05,129.95 149.12,132.92 150.19,135.88 151.26,138.8 152.33,141.69 153.4,144.54 154.47,147.34 155.54,150.09 156.61,152.79 157.68,155.42 158.74,157.99 159.81,160.5 160.88,162.93 161.95,165.31 163.02,167.61 164.09,169.84 165.16,172.01 166.23,174.11 167.3,176.14 168.37,178.1 169.43,179.99 170.5,181.82 171.57,183.58 172.64,185.28 173.71,186.92 174.78,188.5 175.85,190.02 176.92,191.48 177.99,192.89 179.06,194.25 180.12,195.55 181.19,196.81 182.26,198.02 183.33,199.18 184.4,200.3 185.47,201.38 186.54,202.42 187.61,203.43 188.68,204.4 189.75,205.33 190.81,206.23 191.88,207.11 192.95,207.95 194.02,208.77 195.09,209.6 196.16,210.47 197.23,211.32 198.3,212.14 199.37,212.94 200.44,213.71 201.5,214.45 202.57,215.17 203.64,215.85 204.71,216.52 205.78,217.15 206.85,217.77 207.92,218.35 208.99,218.92 210.06,219.47 211.12,219.99 212.19,220.49 213.26,220.98 214.33,221.44 215.4,221.89 216.47,222.32 217.54,222.73 218.61,223.13 219.68,223.51 220.75,223.88 221.81,224.23 222.88,224.57 223.95,224.89 225.02,225.2 226.09,225.51 227.16,225.8 228.23,226.07 229.3,226.34 230.37,226.6 231.44,226.85 232.5,227.09 233.57,227.32 234.64,227.54 235.71,227.75 236.78,227.96 237.85,228.16 238.92,228.35 239.99,228.53 241.06,228.71 242.13,228.88 243.19,229.05 244.26,229.21 245.33,229.36 246.4,229.51 247.47,229.65 248.54,229.79 249.61,229.93 250.68,230.06 251.75,230.18 252.82,230.31 253.88,230.42 254.95,230.54 256.02,230.65 257.09,230.75 258.16,230.86 259.23,230.96 260.3,231.05 261.37,231.15 262.44,231.24 263.51,231.33 264.57,231.41 265.64,231.5 266.71,231.58 267.78,231.66 268.85,231.73 269.92,231.81 270.99,231.88 272.06,231.95 273.13,232.01 274.2,232.08 275.26,232.14 276.33,232.21 277.4,232.27 278.47,232.32 279.54,232.38 280.61,232.44 281.68,232.49 282.75,232.54 283.82,232.59 284.89,232.64 285.95,232.69 287.02,232.74 288.09,232.79 289.16,232.83 290.23,232.87 291.3,232.92" fill="none" stroke="#40a040" stroke-width="0.9" stroke-linejoin="round"/>
<polyline points="77.5,233.88 78.57,233.75 79.64,233.59 80.71,233.4 81.78,233.17 82.84,232.91 83.91,232.59 84.98,232.23 86.05,231.8 87.12,231.3 88.19,230.73 89.26,230.07 90.33,229.32 91.4,228.45 92.47,227.47 93.53,226.36 94.6,225.11 95.67,223.7 96.74,222.13 97.81,220.39 98.88,218.45 99.95,216.32 101.02,213.98 102.09,211.42 103.16,208.64 104.22,205.63 105.29,202.39 106.36,198.91 107.43,195.2 108.5,191.26 109.57,187.1 110.64,182.73 111.71,178.16 112.78,173.42 113.85,168.52 114.91,163.48 115.98,158.34 117.05,153.13 118.12,147.87 119.19,142.61 120.26,137.39 121.33,132.25 122.4,127.22 123.47,122.36 124.54,117.71 125.6,113.3 126.67,109.19 127.74,105.41 128.81,101.99 129.88,98.98 130.95,96.4 132.02,94.28 133.09,92.65 134.16,91.51 135.23,90.88 136.29,91.26 137.36,93.01 138.43,95.24 139.5,97.77 140.57,100.52 141.64,103.43 142.71,106.45 143.78,109.55 144.85,112.71 145.92,115.91 146.99,119.12 148.05,122.34 149.12,125.56 150.19,128.75 151.26,131.91 152.33,135.03 153.4,138.11 154.47,141.14 155.54,144.11 156.61,147.02 157.68,149.86 158.74,152.64 159.81,155.35 160.88,157.99 161.95,160.56 163.02,163.05 164.09,165.47 165.16,167.82 166.23,170.09 167.3,172.29 168.37,174.41 169.43,176.46 170.5,178.44 171.57,180.36 172.64,182.2 173.71,183.97 174.78,185.69 175.85,187.33 176.92,188.92 177.99,190.45 179.06,191.92 180.12,193.33 181.19,194.7 182.26,196.01 183.33,197.27 184.4,198.48 185.47,199.65 186.54,200.78 187.61,201.87 188.68,202.91 189.75,203.92 190.81,204.9 191.88,205.84 192.95,206.75 194.02,207.63 195.09,208.52 196.16,209.45 197.23,210.35 198.3,211.23 199.37,212.07 200.44,212.89 201.5,213.67 202.57,214.43 203.64,215.16 204.71,215.86 205.78,216.53 206.85,217.18 207.92,217.8 208.99,218.4 210.06,218.97 211.12,219.52 212.19,220.05 213.26,220.56 214.33,221.05 215.4,221.52 216.47,221.97 217.54,222.4 218.61,222.82 219.68,223.22 220.75,223.6 221.81,223.97 222.88,224.32 223.95,224.66 225.02,224.99 226.09,225.31 227.16,225.61 228.23,225.9 229.3,226.18 230.37,226.44 231.44,226.7 232.5,226.95 233.57,227.19 234.64,227.42 235.71,227.64 236.78,227.85 237.85,228.06 238.92,228.25 239.99,228.45 241.06,228.63 242.13,228.81 243.19,228.98 244.26,229.14 245.33,229.3 246.4,229.45 247.47,229.6 248.54,229.74 249.61,229.88 250.68,230.01 251.75,230.14 252.82,230.27 253.88,230.39 254.95,230.5 256.02,230.61 257.09,230.72 258.16,230.83 259.23,230.93 260.3,231.03 261.37,231.13 262.44,231.22 263.51,231.31 264.57,231.39 265.64,231.48 266.71,231.56 267.78,231.64 268.85,231.72 269.92,231.79 270.99,231.86 272.06,231.94 273.13,232 274.2,232.07 275.26,232.13 276.33,232.2 277.4,232.26 278.47,232.32 279.54,232.37 280.61,232.43 281.68,232.49 282.75,232.54 283.82,232.59 284.89,232.64 285.95,232.69 287.02,232.74 288.09,232.78 289.16,232.83 290.23,232.87 291.3,232.91" fill="none" stroke="#a02020" stroke-width="0.9" stroke-linejoin="round"/>
<polyline points="77.5,233.89 78.57,233.76 79.64,233.6 80.71,233.42 81.78,233.19 82.84,232.93 83.91,232.62 84.98,232.26 86.05,231.84 87.12,231.35 88.19,230.79 89.26,230.14 90.33,229.39 91.4,228.54 92.47,227.57 93.53,226.48 94.6,225.25 95.67,223.86 96.74,222.32 97.81,220.6 98.88,218.69 99.95,216.59 101.02,214.28 102.09,211.76 103.16,209.02 104.22,206.06 105.29,202.86 106.36,199.44 107.43,195.78 108.5,191.9 109.57,187.8 110.64,183.5 111.71,179 112.78,174.32 113.85,169.49 114.91,164.53 115.98,159.47 117.05,154.33 118.12,149.15 119.19,143.97 120.26,138.83 121.33,133.76 122.4,128.81 123.47,124.02 124.54,119.43 125.6,115.09 126.67,111.04 127.74,107.31 128.81,103.95 129.88,100.98 130.95,98.44 132.02,96.35 133.09,94.74 134.16,93.61 135.23,92.99 136.29,93.36 137.36,95.08 138.43,97.28 139.5,99.78 140.57,102.48 141.64,105.34 142.71,108.31 143.78,111.37 144.85,114.48 145.92,117.63 146.99,120.79 148.05,123.96 149.12,127.12 150.19,130.26 151.26,133.37 152.33,136.45 153.4,139.48 154.47,142.46 155.54,145.38 156.61,148.24 157.68,151.05 158.74,153.78 159.81,156.45 160.88,159.04 161.95,161.57 163.02,164.02 164.09,166.4 165.16,168.71 166.23,170.94 167.3,173.1 168.37,175.19 169.43,177.21 170.5,179.16 171.57,181.04 172.64,182.85 173.71,184.6 174.78,186.28 175.85,187.91 176.92,189.47 177.99,190.97 179.06,192.41 180.12,193.81 181.19,195.15 182.26,196.43 183.33,197.68 184.4,198.87 185.47,200.02 186.54,201.13 187.61,202.2 188.68,203.23 189.75,204.22 190.81,205.18 191.88,206.11 192.95,207 194.02,207.87 195.09,208.75 196.16,209.66 197.23,210.56 198.3,211.42 199.37,212.26 200.44,213.06 201.5,213.84 202.57,214.59 203.64,215.31 204.71,216 205.78,216.66 206.85,217.3 207.92,217.92 208.99,218.51 210.06,219.08 211.12,219.62 212.19,220.15 213.26,220.65 214.33,221.13 215.4,221.6 216.47,222.05 217.54,222.47 218.61,222.89 219.68,223.28 220.75,223.66 221.81,224.03 222.88,224.38 223.95,224.71 225.02,225.04 226.09,225.35 227.16,225.65 228.23,225.93 229.3,226.21 230.37,226.48 231.44,226.73 232.5,226.98 233.57,227.22 234.64,227.44 235.71,227.66 236.78,227.87 237.85,228.08 238.92,228.27 239.99,228.46 241.06,228.65 242.13,228.82 243.19,228.99 244.26,229.15 245.33,229.31 246.4,229.46 247.47,229.61 248.54,229.75 249.61,229.89 250.68,230.02 251.75,230.15 252.82,230.27 253.88,230.39 254.95,230.51 256.02,230.62 257.09,230.73 258.16,230.84 259.23,230.94 260.3,231.03 261.37,231.13 262.44,231.22 263.51,231.31 264.57,231.4 265.64,231.48 266.71,231.56 267.78,231.64 268.85,231.72 269.92,231.8 270.99,231.87 272.06,231.94 273.13,232.01 274.2,232.07 275.26,232.14 276.33,232.2 277.4,232.26 278.47,232.32 279.54,232.38 280.61,232.43 281.68,232.49 282.75,232.54 283.82,232.59 284.89,232.64 285.95,232.69 287.02,232.74 288.09,232.78 289.16,232.83 290.23,232.87 291.3,232.91" fill="none" stroke="#a030a0" stroke-width="0.9" stroke-linejoin="round"/>
<polyline points="77.5,233.72 78.57,233.55 79.64,233.34 80.71,233.1 81.78,232.81 82.84,232.47 83.91,232.07 84.98,231.6 86.05,231.06 87.12,230.43 88.19,229.7 89.26,228.86 90.33,227.89 91.4,226.79 92.47,225.54 93.53,224.12 94.6,222.53 95.67,220.74 96.74,218.73 97.81,216.51 98.88,214.04 99.95,211.32 101.02,208.34 102.09,205.07 103.16,201.53 104.22,197.69 105.29,193.55 106.36,189.12 107.43,184.38 108.5,179.36 109.57,174.06 110.64,168.49 111.71,162.67 112.78,156.62 113.85,150.37 114.91,143.95 115.98,137.4 117.05,130.75 118.12,124.05 119.19,117.35 120.26,110.7 121.33,104.15 122.4,97.75 123.47,91.57 124.54,85.64 125.6,80.04 126.67,74.81 127.74,70 128.81,65.67 129.88,61.85 130.95,58.59 132.02,55.91 133.09,53.85 134.16,52.43 135.23,51.66 136.29,52.18 137.36,54.45 138.43,57.34 139.5,60.62 140.57,64.17 141.64,67.93 142.71,71.83 143.78,75.84 144.85,79.93 145.92,84.06 146.99,88.22 148.05,92.39 149.12,96.54 150.19,100.68 151.26,104.77 152.33,108.82 153.4,112.81 154.47,116.74 155.54,120.6 156.61,124.38 157.68,128.09 158.74,131.7 159.81,135.23 160.88,138.67 161.95,142.02 163.02,145.27 164.09,148.43 165.16,151.5 166.23,154.47 167.3,157.34 168.37,160.12 169.43,162.81 170.5,165.4 171.57,167.91 172.64,170.33 173.71,172.66 174.78,174.91 175.85,177.07 176.92,179.15 177.99,181.16 179.06,183.09 180.12,184.94 181.19,186.73 182.26,188.45 183.33,190.1 184.4,191.69 185.47,193.21 186.54,194.68 187.61,196.1 188.68,197.46 189.75,198.77 190.81,200.03 191.88,201.24 192.95,202.41 194.02,203.53 195.09,204.66 196.16,205.81 197.23,206.92 198.3,207.99 199.37,209.03 200.44,210.02 201.5,210.98 202.57,211.9 203.64,212.78 204.71,213.62 205.78,214.43 206.85,215.21 207.92,215.96 208.99,216.67 210.06,217.36 211.12,218.01 212.19,218.64 213.26,219.24 214.33,219.82 215.4,220.37 216.47,220.9 217.54,221.41 218.61,221.89 219.68,222.36 220.75,222.8 221.81,223.23 222.88,223.64 223.95,224.03 225.02,224.41 226.09,224.77 227.16,225.11 228.23,225.44 229.3,225.76 230.37,226.06 231.44,226.35 232.5,226.63 233.57,226.9 234.64,227.15 235.71,227.4 236.78,227.64 237.85,227.86 238.92,228.08 239.99,228.29 241.06,228.49 242.13,228.69 243.19,228.87 244.26,229.05 245.33,229.22 246.4,229.39 247.47,229.55 248.54,229.7 249.61,229.85 250.68,229.99 251.75,230.13 252.82,230.26 253.88,230.38 254.95,230.51 256.02,230.63 257.09,230.74 258.16,230.85 259.23,230.96 260.3,231.06 261.37,231.16 262.44,231.25 263.51,231.35 264.57,231.44 265.64,231.52 266.71,231.61 267.78,231.69 268.85,231.77 269.92,231.84 270.99,231.92 272.06,231.99 273.13,232.06 274.2,232.12 275.26,232.19 276.33,232.25 277.4,232.31 278.47,232.37 279.54,232.43 280.61,232.49 281.68,232.54 282.75,232.59 283.82,232.64 284.89,232.69 285.95,232.74 287.02,232.79 288.09,232.83 289.16,232.88 290.23,232.92 291.3,232.96" fill="none" stroke="#3030a0" stroke-width="0.9" stroke-linejoin="round"/>
<polyline points="77.5,233.85 78.57,233.71 79.64,233.54 80.71,233.33 81.78,233.1 82.84,232.81 83.91,232.48 84.98,232.09 86.05,231.64 87.12,231.12 88.19,230.51 89.26,229.81 90.33,229.01 91.4,228.1 92.47,227.06 93.53,225.88 94.6,224.56 95.67,223.07 96.74,221.41 97.81,219.56 98.88,217.51 99.95,215.25 101.02,212.77 102.09,210.06 103.16,207.12 104.22,203.93 105.29,200.49 106.36,196.81 107.43,192.88 108.5,188.71 109.57,184.3 110.64,179.68 111.71,174.84 112.78,169.82 113.85,164.63 114.91,159.29 115.98,153.85 117.05,148.33 118.12,142.76 119.19,137.2 120.26,131.67 121.33,126.23 122.4,120.91 123.47,115.76 124.54,110.84 125.6,106.18 126.67,101.83 127.74,97.83 128.81,94.22 129.88,91.03 130.95,88.31 132.02,86.08 133.09,84.35 134.16,83.15 135.23,82.5 136.29,82.91 137.36,84.78 138.43,87.15 139.5,89.85 140.57,92.78 141.64,95.87 142.71,99.08 143.78,102.39 144.85,105.75 145.92,109.16 146.99,112.58 148.05,116.01 149.12,119.43 150.19,122.83 151.26,126.2 152.33,129.52 153.4,132.81 154.47,136.03 155.54,139.2 156.61,142.31 157.68,145.34 158.74,148.31 159.81,151.2 160.88,154.02 161.95,156.76 163.02,159.43 164.09,162.01 165.16,164.52 166.23,166.95 167.3,169.3 168.37,171.57 169.43,173.76 170.5,175.89 171.57,177.93 172.64,179.9 173.71,181.81 174.78,183.64 175.85,185.4 176.92,187.1 177.99,188.74 179.06,190.31 180.12,191.83 181.19,193.29 182.26,194.69 183.33,196.04 184.4,197.34 185.47,198.59 186.54,199.79 187.61,200.95 188.68,202.06 189.75,203.14 190.81,204.18 191.88,205.18 192.95,206.14 194.02,207.08 195.09,208.02 196.16,208.99 197.23,209.94 198.3,210.85 199.37,211.73 200.44,212.58 201.5,213.4 202.57,214.18 203.64,214.94 204.71,215.67 205.78,216.37 206.85,217.04 207.92,217.68 208.99,218.3 210.06,218.89 211.12,219.46 212.19,220.01 213.26,220.53 214.33,221.03 215.4,221.52 216.47,221.98 217.54,222.42 218.61,222.85 219.68,223.26 220.75,223.65 221.81,224.03 222.88,224.39 223.95,224.74 225.02,225.07 226.09,225.39 227.16,225.69 228.23,225.99 229.3,226.27 230.37,226.54 231.44,226.81 232.5,227.06 233.57,227.3 234.64,227.53 235.71,227.75 236.78,227.97 237.85,228.17 238.92,228.37 239.99,228.56 241.06,228.75 242.13,228.92 243.19,229.09 244.26,229.26 245.33,229.42 246.4,229.57 247.47,229.72 248.54,229.86 249.61,230 250.68,230.13 251.75,230.26 252.82,230.38 253.88,230.5 254.95,230.61 256.02,230.72 257.09,230.83 258.16,230.94 259.23,231.04 260.3,231.13 261.37,231.23 262.44,231.32 263.51,231.41 264.57,231.49 265.64,231.58 266.71,231.66 267.78,231.73 268.85,231.81 269.92,231.88 270.99,231.95 272.06,232.02 273.13,232.09 274.2,232.15 275.26,232.22 276.33,232.28 277.4,232.34 278.47,232.39 279.54,232.45 280.61,232.5 281.68,232.56 282.75,232.61 283.82,232.66 284.89,232.71 285.95,232.75 287.02,232.8 288.09,232.85 289.16,232.89 290.23,232.93 291.3,232.97" fill="none" stroke="#a0a040" stroke-width="0.9" stroke-linejoin="round"/>
<polyline points="77.5,233.71 78.57,233.54 79.64,233.33 80.71,233.09 81.78,232.8 82.84,232.45 83.91,232.05 84.98,231.58 86.05,231.03 87.12,230.39 88.19,229.65 89.26,228.81 90.33,227.83 91.4,226.72 92.47,225.46 93.53,224.03 94.6,222.42 95.67,220.61 96.74,218.59 97.81,216.35 98.88,213.86 99.95,211.11 101.02,208.1 102.09,204.81 103.16,201.23 104.22,197.35 105.29,193.18 106.36,188.71 107.43,183.93 108.5,178.86 109.57,173.51 110.64,167.89 111.71,162.02 112.78,155.91 113.85,149.61 114.91,143.13 115.98,136.52 117.05,129.81 118.12,123.06 119.19,116.3 120.26,109.59 121.33,102.98 122.4,96.53 123.47,90.29 124.54,84.31 125.6,78.66 126.67,73.39 127.74,68.54 128.81,64.17 129.88,60.32 130.95,57.04 132.02,54.34 133.09,52.27 134.16,50.84 135.23,50.07 136.29,50.61 137.36,52.91 138.43,55.83 139.5,59.15 140.57,62.75 141.64,66.54 142.71,70.49 143.78,74.55 144.85,78.69 145.92,82.87 146.99,87.08 148.05,91.3 149.12,95.51 150.19,99.69 151.26,103.84 152.33,107.94 153.4,111.98 154.47,115.96 155.54,119.87 156.61,123.7 157.68,127.45 158.74,131.12 159.81,134.7 160.88,138.18 161.95,141.58 163.02,144.88 164.09,148.08 165.16,151.19 166.23,154.2 167.3,157.12 168.37,159.94 169.43,162.66 170.5,165.3 171.57,167.84 172.64,170.3 173.71,172.66 174.78,174.94 175.85,177.14 176.92,179.26 177.99,181.29 179.06,183.25 180.12,185.14 181.19,186.95 182.26,188.69 183.33,190.37 184.4,191.98 185.47,193.53 186.54,195.02 187.61,196.45 188.68,197.83 189.75,199.15 190.81,200.43 191.88,201.65 192.95,202.84 194.02,203.97 195.09,205.11 196.16,206.26 197.23,207.37 198.3,208.45 199.37,209.48 200.44,210.47 201.5,211.43 202.57,212.34 203.64,213.22 204.71,214.07 205.78,214.87 206.85,215.65 207.92,216.39 208.99,217.1 210.06,217.78 211.12,218.43 212.19,219.06 213.26,219.65 214.33,220.23 215.4,220.77 216.47,221.3 217.54,221.8 218.61,222.28 219.68,222.74 220.75,223.18 221.81,223.6 222.88,224 223.95,224.39 225.02,224.76 226.09,225.11 227.16,225.45 228.23,225.77 229.3,226.08 230.37,226.38 231.44,226.67 232.5,226.94 233.57,227.2 234.64,227.45 235.71,227.7 236.78,227.93 237.85,228.15 238.92,228.36 239.99,228.56 241.06,228.76 242.13,228.95 243.19,229.13 244.26,229.3 245.33,229.47 246.4,229.63 247.47,229.78 248.54,229.93 249.61,230.07 250.68,230.21 251.75,230.34 252.82,230.47 253.88,230.59 254.95,230.71 256.02,230.83 257.09,230.94 258.16,231.04 259.23,231.14 260.3,231.24 261.37,231.34 262.44,231.43 263.51,231.52 264.57,231.6 265.64,231.69 266.71,231.77 267.78,231.84 268.85,231.92 269.92,231.99 270.99,232.06 272.06,232.13 273.13,232.2 274.2,232.26 275.26,232.32 276.33,232.38 277.4,232.44 278.47,232.5 279.54,232.55 280.61,232.6 281.68,232.65 282.75,232.7 283.82,232.75 284.89,232.8 285.95,232.85 287.02,232.89 288.09,232.93 289.16,232.97 290.23,233.02 291.3,233.05" fill="none" stroke="#b08060" stroke-width="0.9" stroke-linejoin="round"/>
<polyline points="77.5,233.7 78.57,233.53 79.64,233.32 80.71,233.08 81.78,232.78 82.84,232.44 83.91,232.03 84.98,231.56 86.05,231.01 87.12,230.36 88.19,229.62 89.26,228.77 90.33,227.79 91.4,226.67 92.47,225.4 93.53,223.96 94.6,222.34 95.67,220.52 96.74,218.48 97.81,216.22 98.88,213.71 99.95,210.95 101.02,207.92 102.09,204.6 103.16,201 104.22,197.1 105.29,192.9 106.36,188.39 107.43,183.58 108.5,178.48 109.57,173.09 110.64,167.43 111.71,161.52 112.78,155.37 113.85,149.02 114.91,142.5 115.98,135.84 117.05,129.09 118.12,122.29 119.19,115.48 120.26,108.73 121.33,102.07 122.4,95.58 123.47,89.29 124.54,83.28 125.6,77.59 126.67,72.28 127.74,67.4 128.81,63 129.88,59.12 130.95,55.81 132.02,53.1 133.09,51.02 134.16,49.58 135.23,48.81 136.29,49.34 137.36,51.66 138.43,54.61 139.5,57.95 140.57,61.57 141.64,65.4 142.71,69.37 143.78,73.46 144.85,77.63 145.92,81.84 146.99,86.08 148.05,90.33 149.12,94.57 150.19,98.78 151.26,102.96 152.33,107.09 153.4,111.16 154.47,115.17 155.54,119.11 156.61,122.97 157.68,126.74 158.74,130.44 159.81,134.04 160.88,137.55 161.95,140.97 163.02,144.29 164.09,147.52 165.16,150.65 166.23,153.69 167.3,156.62 168.37,159.47 169.43,162.21 170.5,164.87 171.57,167.43 172.64,169.9 173.71,172.29 174.78,174.59 175.85,176.8 176.92,178.93 177.99,180.98 179.06,182.95 180.12,184.85 181.19,186.68 182.26,188.43 183.33,190.12 184.4,191.75 185.47,193.31 186.54,194.81 187.61,196.25 188.68,197.64 189.75,198.97 190.81,200.26 191.88,201.49 192.95,202.68 194.02,203.83 195.09,204.97 196.16,206.13 197.23,207.25 198.3,208.33 199.37,209.37 200.44,210.37 201.5,211.33 202.57,212.25 203.64,213.13 204.71,213.98 205.78,214.79 206.85,215.57 207.92,216.32 208.99,217.03 210.06,217.72 211.12,218.37 212.19,219 213.26,219.6 214.33,220.18 215.4,220.73 216.47,221.25 217.54,221.76 218.61,222.24 219.68,222.7 220.75,223.14 221.81,223.57 222.88,223.97 223.95,224.36 225.02,224.73 226.09,225.09 227.16,225.43 228.23,225.75 229.3,226.06 230.37,226.36 231.44,226.65 232.5,226.92 233.57,227.19 234.64,227.44 235.71,227.68 236.78,227.91 237.85,228.13 238.92,228.35 239.99,228.55 241.06,228.75 242.13,228.94 243.19,229.12 244.26,229.29 245.33,229.46 246.4,229.62 247.47,229.78 248.54,229.92 249.61,230.07 250.68,230.21 251.75,230.34 252.82,230.47 253.88,230.59 254.95,230.71 256.02,230.82 257.09,230.93 258.16,231.04 259.23,231.14 260.3,231.24 261.37,231.33 262.44,231.43 263.51,231.51 264.57,231.6 265.64,231.68 266.71,231.76 267.78,231.84 268.85,231.92 269.92,231.99 270.99,232.06 272.06,232.13 273.13,232.19 274.2,232.26 275.26,232.32 276.33,232.38 277.4,232.44 278.47,232.49 279.54,232.55 280.61,232.6 281.68,232.65 282.75,232.7 283.82,232.75 284.89,232.8 285.95,232.84 287.02,232.89 288.09,232.93 289.16,232.97 290.23,233.01 291.3,233.05" fill="none" stroke="#ff30ff" stroke-width="0.9" stroke-linejoin="round"/>
<polyline points="77.5,233.69 78.57,233.51 79.64,233.3 80.71,233.04 81.78,232.74 82.84,232.39 83.91,231.98 84.98,231.49 86.05,230.93 87.12,230.27 88.19,229.51 89.26,228.64 90.33,227.63 91.4,226.49 92.47,225.19 93.53,223.72 94.6,222.06 95.67,220.2 96.74,218.12 97.81,215.8 98.88,213.24 99.95,210.41 101.02,207.31 102.09,203.92 103.16,200.23 104.22,196.24 105.29,191.94 106.36,187.34 107.43,182.42 108.5,177.2 109.57,171.69 110.64,165.9 111.71,159.85 112.78,153.56 113.85,147.07 114.91,140.4 115.98,133.59 117.05,126.68 118.12,119.73 119.19,112.77 120.26,105.86 121.33,99.05 122.4,92.4 123.47,85.98 124.54,79.83 125.6,74.01 126.67,68.58 127.74,63.59 128.81,59.09 129.88,55.13 130.95,51.74 132.02,48.97 133.09,46.84 134.16,45.37 135.23,44.58 136.29,45.13 137.36,47.51 138.43,50.52 139.5,53.95 140.57,57.65 141.64,61.57 142.71,65.64 143.78,69.83 144.85,74.09 145.92,78.4 146.99,82.74 148.05,87.09 149.12,91.43 150.19,95.75 151.26,100.02 152.33,104.25 153.4,108.42 154.47,112.53 155.54,116.56 156.61,120.51 157.68,124.38 158.74,128.16 159.81,131.85 160.88,135.45 161.95,138.95 163.02,142.35 164.09,145.66 165.16,148.87 166.23,151.98 167.3,154.99 168.37,157.9 169.43,160.71 170.5,163.43 171.57,166.06 172.64,168.59 173.71,171.04 174.78,173.39 175.85,175.66 176.92,177.84 177.99,179.94 179.06,181.96 180.12,183.91 181.19,185.78 182.26,187.58 183.33,189.31 184.4,190.97 185.47,192.57 186.54,194.11 187.61,195.59 188.68,197.01 189.75,198.37 190.81,199.69 191.88,200.95 192.95,202.17 194.02,203.34 195.09,204.51 196.16,205.69 197.23,206.84 198.3,207.94 199.37,209 200.44,210.02 201.5,211 202.57,211.94 203.64,212.84 204.71,213.7 205.78,214.53 206.85,215.32 207.92,216.08 208.99,216.81 210.06,217.51 211.12,218.17 212.19,218.81 213.26,219.42 214.33,220.01 215.4,220.57 216.47,221.1 217.54,221.62 218.61,222.11 219.68,222.58 220.75,223.03 221.81,223.46 222.88,223.87 223.95,224.26 225.02,224.64 226.09,225 227.16,225.35 228.23,225.68 229.3,225.99 230.37,226.3 231.44,226.59 232.5,226.87 233.57,227.13 234.64,227.39 235.71,227.63 236.78,227.87 237.85,228.09 238.92,228.31 239.99,228.52 241.06,228.71 242.13,228.91 243.19,229.09 244.26,229.26 245.33,229.43 246.4,229.6 247.47,229.75 248.54,229.9 249.61,230.05 250.68,230.19 251.75,230.32 252.82,230.45 253.88,230.57 254.95,230.69 256.02,230.81 257.09,230.92 258.16,231.03 259.23,231.13 260.3,231.23 261.37,231.32 262.44,231.42 263.51,231.51 264.57,231.59 265.64,231.68 266.71,231.76 267.78,231.84 268.85,231.91 269.92,231.98 270.99,232.05 272.06,232.12 273.13,232.19 274.2,232.25 275.26,232.32 276.33,232.38 277.4,232.43 278.47,232.49 279.54,232.55 280.61,232.6 281.68,232.65 282.75,232.7 283.82,232.75 284.89,232.8 285.95,232.84 287.02,232.89 288.09,232.93 289.16,232.97 290.23,233.01 291.3,233.05" fill="none" stroke="#30f0f0" stroke-width="0.9" stroke-linejoin="round"/>
<polyline points="77.5,233.71 78.57,233.54 79.64,233.34 80.71,233.09 81.78,232.8 82.84,232.46 83.91,232.06 84.98,231.59 86.05,231.05 87.12,230.41 88.19,229.68 89.26,228.83 90.33,227.86 91.4,226.76 92.47,225.5 93.53,224.08 94.6,222.48 95.67,220.68 96.74,218.67 97.81,216.43 98.88,213.95 99.95,211.22 101.02,208.22 102.09,204.95 103.16,201.38 104.22,197.53 105.29,193.37 106.36,188.92 107.43,184.16 108.5,179.12 109.57,173.79 110.64,168.2 111.71,162.35 112.78,156.28 113.85,150 114.91,143.55 115.98,136.97 117.05,130.3 118.12,123.57 119.19,116.84 120.26,110.16 121.33,103.59 122.4,97.16 123.47,90.95 124.54,85 125.6,79.38 126.67,74.13 127.74,69.3 128.81,64.95 129.88,61.12 130.95,57.85 132.02,55.17 133.09,53.11 134.16,51.69 135.23,50.92 136.29,51.45 137.36,53.74 138.43,56.65 139.5,59.95 140.57,63.53 141.64,67.31 142.71,71.24 143.78,75.28 144.85,79.4 145.92,83.56 146.99,87.75 148.05,91.95 149.12,96.13 150.19,100.3 151.26,104.42 152.33,108.5 153.4,112.53 154.47,116.49 155.54,120.38 156.61,124.19 157.68,127.93 158.74,131.57 159.81,135.13 160.88,138.6 161.95,141.98 163.02,145.26 164.09,148.45 165.16,151.54 166.23,154.54 167.3,157.44 168.37,160.25 169.43,162.96 170.5,165.59 171.57,168.12 172.64,170.56 173.71,172.91 174.78,175.18 175.85,177.37 176.92,179.47 177.99,181.5 179.06,183.45 180.12,185.32 181.19,187.13 182.26,188.86 183.33,190.53 184.4,192.13 185.47,193.67 186.54,195.16 187.61,196.58 188.68,197.95 189.75,199.27 190.81,200.54 191.88,201.76 192.95,202.94 194.02,204.07 195.09,205.2 196.16,206.35 197.23,207.45 198.3,208.52 199.37,209.55 200.44,210.54 201.5,211.49 202.57,212.41 203.64,213.28 204.71,214.12 205.78,214.93 206.85,215.7 207.92,216.44 208.99,217.14 210.06,217.82 211.12,218.47 212.19,219.09 213.26,219.69 214.33,220.26 215.4,220.8 216.47,221.33 217.54,221.83 218.61,222.3 219.68,222.76 220.75,223.2 221.81,223.62 222.88,224.02 223.95,224.41 225.02,224.78 226.09,225.13 227.16,225.47 228.23,225.79 229.3,226.1 230.37,226.4 231.44,226.68 232.5,226.95 233.57,227.21 234.64,227.46 235.71,227.7 236.78,227.94 237.85,228.16 238.92,228.37 239.99,228.57 241.06,228.77 242.13,228.95 243.19,229.13 244.26,229.31 245.33,229.47 246.4,229.63 247.47,229.79 248.54,229.94 249.61,230.08 250.68,230.22 251.75,230.35 252.82,230.47 253.88,230.6 254.95,230.71 256.02,230.83 257.09,230.94 258.16,231.04 259.23,231.15 260.3,231.24 261.37,231.34 262.44,231.43 263.51,231.52 264.57,231.6 265.64,231.69 266.71,231.77 267.78,231.85 268.85,231.92 269.92,231.99 270.99,232.06 272.06,232.13 273.13,232.2 274.2,232.26 275.26,232.32 276.33,232.38 277.4,232.44 278.47,232.5 279.54,232.55 280.61,232.6 281.68,232.65 282.75,232.7 283.82,232.75 284.89,232.8 285.95,232.85 287.02,232.89 288.09,232.93 289.16,232.97 290.23,233.02 291.3,233.06" fill="none" stroke="#2020ff" stroke-width="0.9" stroke-linejoin="round"/>
<polyline points="77.5,233.69 78.57,233.52 79.64,233.31 80.71,233.06 81.78,232.76 82.84,232.41 83.91,232 84.98,231.52 86.05,230.95 87.12,230.3 88.19,229.55 89.26,228.68 90.33,227.69 91.4,226.55 92.47,225.26 93.53,223.8 94.6,222.16 95.67,220.31 96.74,218.24 97.81,215.95 98.88,213.41 99.95,210.6 101.02,207.52 102.09,204.16 103.16,200.5 104.22,196.54 105.29,192.28 106.36,187.7 107.43,182.83 108.5,177.65 109.57,172.18 110.64,166.43 111.71,160.43 112.78,154.2 113.85,147.75 114.91,141.13 115.98,134.38 117.05,127.53 118.12,120.62 119.19,113.72 120.26,106.86 121.33,100.11 122.4,93.51 123.47,87.14 124.54,81.03 125.6,75.26 126.67,69.87 127.74,64.92 128.81,60.46 129.88,56.53 130.95,53.17 132.02,50.42 133.09,48.3 134.16,46.85 135.23,46.06 136.29,46.61 137.36,48.96 138.43,51.95 139.5,55.35 140.57,59.02 141.64,62.91 142.71,66.95 143.78,71.1 144.85,75.33 145.92,79.61 146.99,83.91 148.05,88.23 149.12,92.53 150.19,96.81 151.26,101.05 152.33,105.24 153.4,109.38 154.47,113.45 155.54,117.45 156.61,121.37 157.68,125.21 158.74,128.96 159.81,132.62 160.88,136.19 161.95,139.66 163.02,143.03 164.09,146.31 165.16,149.49 166.23,152.57 167.3,155.56 168.37,158.45 169.43,161.24 170.5,163.94 171.57,166.54 172.64,169.05 173.71,171.47 174.78,173.81 175.85,176.06 176.92,178.22 177.99,180.31 179.06,182.31 180.12,184.24 181.19,186.09 182.26,187.88 183.33,189.59 184.4,191.24 185.47,192.83 186.54,194.35 187.61,195.82 188.68,197.23 189.75,198.58 190.81,199.89 191.88,201.14 192.95,202.35 194.02,203.51 195.09,204.67 196.16,205.84 197.23,206.98 198.3,208.07 199.37,209.13 200.44,210.14 201.5,211.11 202.57,212.05 203.64,212.94 204.71,213.8 205.78,214.62 206.85,215.41 207.92,216.16 208.99,216.89 210.06,217.58 211.12,218.24 212.19,218.88 213.26,219.49 214.33,220.07 215.4,220.62 216.47,221.16 217.54,221.67 218.61,222.15 219.68,222.62 220.75,223.07 221.81,223.5 222.88,223.9 223.95,224.3 225.02,224.67 226.09,225.03 227.16,225.37 228.23,225.7 229.3,226.02 230.37,226.32 231.44,226.61 232.5,226.89 233.57,227.15 234.64,227.41 235.71,227.65 236.78,227.88 237.85,228.11 238.92,228.32 239.99,228.53 241.06,228.73 242.13,228.92 243.19,229.1 244.26,229.27 245.33,229.44 246.4,229.61 247.47,229.76 248.54,229.91 249.61,230.05 250.68,230.19 251.75,230.33 252.82,230.45 253.88,230.58 254.95,230.7 256.02,230.81 257.09,230.92 258.16,231.03 259.23,231.13 260.3,231.23 261.37,231.33 262.44,231.42 263.51,231.51 264.57,231.6 265.64,231.68 266.71,231.76 267.78,231.84 268.85,231.91 269.92,231.99 270.99,232.06 272.06,232.13 273.13,232.19 274.2,232.26 275.26,232.32 276.33,232.38 277.4,232.44 278.47,232.49 279.54,232.55 280.61,232.6 281.68,232.65 282.75,232.7 283.82,232.75 284.89,232.8 285.95,232.84 287.02,232.89 288.09,232.93 289.16,232.97 290.23,233.01 291.3,233.05" fill="none" stroke="#30d030" stroke-width="0.9" stroke-linejoin="round"/>
<polyline points="77.5,233.7 78.57,233.52 79.64,233.31 80.71,233.06 81.78,232.77 82.84,232.42 83.91,232.01 84.98,231.53 86.05,230.97 87.12,230.33 88.19,229.58 89.26,228.71 90.33,227.73 91.4,226.6 92.47,225.31 93.53,223.86 94.6,222.23 95.67,220.39 96.74,218.34 97.81,216.05 98.88,213.52 99.95,210.74 101.02,207.67 102.09,204.33 103.16,200.69 104.22,196.76 105.29,192.52 106.36,187.97 107.43,183.12 108.5,177.97 109.57,172.53 110.64,166.82 111.71,160.85 112.78,154.65 113.85,148.24 114.91,141.66 115.98,134.94 117.05,128.13 118.12,121.26 119.19,114.4 120.26,107.58 121.33,100.86 122.4,94.31 123.47,87.97 124.54,81.9 125.6,76.16 126.67,70.8 127.74,65.87 128.81,61.44 129.88,57.53 130.95,54.19 132.02,51.45 133.09,49.35 134.16,47.9 135.23,47.12 136.29,47.66 137.36,50 138.43,52.98 139.5,56.35 140.57,60 141.64,63.87 142.71,67.88 143.78,72.01 144.85,76.21 145.92,80.47 146.99,84.75 148.05,89.03 149.12,93.31 150.19,97.57 151.26,101.78 152.33,105.95 153.4,110.06 154.47,114.11 155.54,118.09 156.61,121.98 157.68,125.8 158.74,129.53 159.81,133.17 160.88,136.71 161.95,140.16 163.02,143.52 164.09,146.78 165.16,149.94 166.23,153 167.3,155.97 168.37,158.84 169.43,161.61 170.5,164.29 171.57,166.88 172.64,169.38 173.71,171.79 174.78,174.11 175.85,176.34 176.92,178.49 177.99,180.57 179.06,182.56 180.12,184.48 181.19,186.32 182.26,188.09 183.33,189.8 184.4,191.44 185.47,193.01 186.54,194.53 187.61,195.98 188.68,197.38 189.75,198.73 190.81,200.03 191.88,201.28 192.95,202.48 194.02,203.63 195.09,204.79 196.16,205.95 197.23,207.08 198.3,208.17 199.37,209.22 200.44,210.23 201.5,211.2 202.57,212.12 203.64,213.02 204.71,213.87 205.78,214.69 206.85,215.47 207.92,216.22 208.99,216.94 210.06,217.63 211.12,218.29 212.19,218.93 213.26,219.53 214.33,220.11 215.4,220.66 216.47,221.19 217.54,221.7 218.61,222.19 219.68,222.65 220.75,223.1 221.81,223.52 222.88,223.93 223.95,224.32 225.02,224.69 226.09,225.05 227.16,225.39 228.23,225.72 229.3,226.04 230.37,226.34 231.44,226.62 232.5,226.9 233.57,227.16 234.64,227.42 235.71,227.66 236.78,227.89 237.85,228.12 238.92,228.33 239.99,228.54 241.06,228.74 242.13,228.93 243.19,229.11 244.26,229.28 245.33,229.45 246.4,229.61 247.47,229.77 248.54,229.92 249.61,230.06 250.68,230.2 251.75,230.33 252.82,230.46 253.88,230.58 254.95,230.7 256.02,230.82 257.09,230.93 258.16,231.03 259.23,231.14 260.3,231.23 261.37,231.33 262.44,231.42 263.51,231.51 264.57,231.6 265.64,231.68 266.71,231.76 267.78,231.84 268.85,231.91 269.92,231.99 270.99,232.06 272.06,232.13 273.13,232.19 274.2,232.26 275.26,232.32 276.33,232.38 277.4,232.44 278.47,232.49 279.54,232.55 280.61,232.6 281.68,232.65 282.75,232.7 283.82,232.75 284.89,232.8 285.95,232.84 287.02,232.89 288.09,232.93 289.16,232.97 290.23,233.01 291.3,233.05" fill="none" stroke="#ff7070" stroke-width="0.9" stroke-linejoin="round"/>
<polyline points="77.5,233.66 78.57,233.47 79.64,233.25 80.71,232.99 81.78,232.68 82.84,232.31 83.91,231.88 84.98,231.38 86.05,230.79 87.12,230.11 88.19,229.33 89.26,228.42 90.33,227.38 91.4,226.2 92.47,224.85 93.53,223.32 94.6,221.6 95.67,219.67 96.74,217.51 97.81,215.11 98.88,212.46 99.95,209.52 101.02,206.31 102.09,202.79 103.16,198.97 104.22,194.83 105.29,190.38 106.36,185.6 107.43,180.5 108.5,175.09 109.57,169.37 110.64,163.37 111.71,157.1 112.78,150.58 113.85,143.85 114.91,136.93 115.98,129.87 117.05,122.71 118.12,115.5 119.19,108.28 120.26,101.12 121.33,94.06 122.4,87.17 123.47,80.51 124.54,74.13 125.6,68.1 126.67,62.47 127.74,57.3 128.81,52.64 129.88,48.53 130.95,45.02 132.02,42.15 133.09,39.95 134.16,38.43 135.23,37.61 136.29,38.19 137.36,40.65 138.43,43.79 139.5,47.34 140.57,51.19 141.64,55.25 142.71,59.48 143.78,63.82 144.85,68.25 145.92,72.73 146.99,77.24 148.05,81.75 149.12,86.26 150.19,90.74 151.26,95.18 152.33,99.57 153.4,103.9 154.47,108.17 155.54,112.35 156.61,116.46 157.68,120.48 158.74,124.41 159.81,128.24 160.88,131.98 161.95,135.62 163.02,139.16 164.09,142.59 165.16,145.92 166.23,149.15 167.3,152.28 168.37,155.31 169.43,158.24 170.5,161.06 171.57,163.79 172.64,166.43 173.71,168.97 174.78,171.42 175.85,173.77 176.92,176.04 177.99,178.23 179.06,180.33 180.12,182.35 181.19,184.3 182.26,186.17 183.33,187.97 184.4,189.69 185.47,191.36 186.54,192.95 187.61,194.49 188.68,195.96 189.75,197.38 190.81,198.75 191.88,200.06 192.95,201.33 194.02,202.54 195.09,203.75 196.16,204.97 197.23,206.15 198.3,207.29 199.37,208.39 200.44,209.44 201.5,210.45 202.57,211.42 203.64,212.35 204.71,213.24 205.78,214.09 206.85,214.91 207.92,215.69 208.99,216.44 210.06,217.16 211.12,217.85 212.19,218.5 213.26,219.13 214.33,219.73 215.4,220.31 216.47,220.86 217.54,221.39 218.61,221.89 219.68,222.37 220.75,222.84 221.81,223.28 222.88,223.7 223.95,224.1 225.02,224.49 226.09,224.86 227.16,225.21 228.23,225.55 229.3,225.88 230.37,226.19 231.44,226.48 232.5,226.77 233.57,227.04 234.64,227.3 235.71,227.55 236.78,227.79 237.85,228.02 238.92,228.24 239.99,228.45 241.06,228.66 242.13,228.85 243.19,229.04 244.26,229.22 245.33,229.39 246.4,229.56 247.47,229.71 248.54,229.87 249.61,230.01 250.68,230.15 251.75,230.29 252.82,230.42 253.88,230.55 254.95,230.67 256.02,230.79 257.09,230.9 258.16,231.01 259.23,231.11 260.3,231.21 261.37,231.31 262.44,231.4 263.51,231.49 264.57,231.58 265.64,231.66 266.71,231.75 267.78,231.83 268.85,231.9 269.92,231.98 270.99,232.05 272.06,232.12 273.13,232.18 274.2,232.25 275.26,232.31 276.33,232.37 277.4,232.43 278.47,232.49 279.54,232.54 280.61,232.6 281.68,232.65 282.75,232.7 283.82,232.75 284.89,232.79 285.95,232.84 287.02,232.88 288.09,232.93 289.16,232.97 290.23,233.01 291.3,233.05" fill="none" stroke="#1a1a1a" stroke-width="1.0" stroke-linejoin="round"/>
<line x1="135.76" y1="40" x2="135.76" y2="229" stroke="#444" stroke-width="0.9"/>
<path d="M135.76,232.5 L133.56,227.5 L137.96,227.5 Z" fill="#111"/>
<line x1="190.6" y1="234.5" x2="190.6" y2="226" stroke="#222" stroke-width="0.9"/>
<path d="M190.6,222.2 L188.4,227.3 L192.8,227.3 Z" fill="#111"/>
<rect x="77.5" y="23.2" width="213.8" height="212.9" fill="none" stroke="#2a2a2a" stroke-width="1.1"/>
<path d="M77.5,236.1v4 M82.84,236.1v2.5 M88.19,236.1v2.5 M93.53,236.1v2.5 M98.88,236.1v2.5 M104.22,236.1v2.5 M109.57,236.1v2.5 M114.91,236.1v2.5 M120.26,236.1v2.5 M125.6,236.1v2.5 M130.95,236.1v4 M136.29,236.1v2.5 M141.64,236.1v2.5 M146.99,236.1v2.5 M152.33,236.1v2.5 M157.68,236.1v2.5 M163.02,236.1v2.5 M168.37,236.1v2.5 M173.71,236.1v2.5 M179.06,236.1v2.5 M184.4,236.1v4 M189.75,236.1v2.5 M195.09,236.1v2.5 M200.44,236.1v2.5 M205.78,236.1v2.5 M211.12,236.1v2.5 M216.47,236.1v2.5 M221.81,236.1v2.5 M227.16,236.1v2.5 M232.5,236.1v2.5 M237.85,236.1v4 M243.19,236.1v2.5 M248.54,236.1v2.5 M253.88,236.1v2.5 M259.23,236.1v2.5 M264.57,236.1v2.5 M269.92,236.1v2.5 M275.26,236.1v2.5 M280.61,236.1v2.5 M285.95,236.1v2.5 M291.3,236.1v4 M77.5,234.5h-3.8 M77.5,226.05h-2.3 M77.5,217.6h-2.3 M77.5,209.14h-2.3 M77.5,200.69h-2.3 M77.5,192.24h-3.8 M77.5,183.79h-2.3 M77.5,175.34h-2.3 M77.5,166.88h-2.3 M77.5,158.43h-2.3 M77.5,149.98h-3.8 M77.5,141.53h-2.3 M77.5,133.08h-2.3 M77.5,124.62h-2.3 M77.5,116.17h-2.3 M77.5,107.72h-3.8 M77.5,99.27h-2.3 M77.5,90.82h-2.3 M77.5,82.36h-2.3 M77.5,73.91h-2.3 M77.5,65.46h-3.8 M77.5,57.01h-2.3 M77.5,48.56h-2.3 M77.5,40.1h-2.3 M77.5,31.65h-2.3 M77.5,23.2h-3.8" stroke="#2a2a2a" stroke-width="1" fill="none"/>
<text x="77.5" y="252" font-size="11" text-anchor="middle" fill="#222">400</text>
<text x="130.95" y="252" font-size="11" text-anchor="middle" fill="#222">500</text>
<text x="184.4" y="252" font-size="11" text-anchor="middle" fill="#222">600</text>
<text x="237.85" y="252" font-size="11" text-anchor="middle" fill="#222">700</text>
<text x="291.3" y="252" font-size="11" text-anchor="middle" fill="#222">800</text>
<text x="72" y="238.3" font-size="11" text-anchor="end" fill="#222">0</text>
<text x="72" y="196.04" font-size="11" text-anchor="end" fill="#222">2</text>
<text x="72" y="153.78" font-size="11" text-anchor="end" fill="#222">4</text>
<text x="72" y="111.52" font-size="11" text-anchor="end" fill="#222">6</text>
<text x="72" y="69.26" font-size="11" text-anchor="end" fill="#222">8</text>
<text x="72" y="27" font-size="11" text-anchor="end" fill="#222">10</text>
<text x="186" y="269.6" font-size="13.8" font-weight="bold" text-anchor="middle" fill="#111">Wavelength (nm)</text>
<text transform="translate(54,132) rotate(-90)" font-size="13.4" font-weight="bold" text-anchor="middle" fill="#111">PL intensity (10<tspan font-size="8" dy="-5">5</tspan><tspan dy="5"> au)</tspan></text>
<text x="26.3" y="32.3" font-size="16.5" fill="#111">(A)</text>
<text x="213" y="36.3" font-size="8" text-anchor="middle" fill="#222">pH</text>
<rect x="196.3" y="40.13" width="18.8" height="7" fill="#f2f8e2" stroke="#d0d8c0" stroke-width="0.6"/>
<text x="217.6" y="46.73" font-size="8.6" fill="#222">7.83</text>
<line x1="196.1" y1="53.96" x2="215.1" y2="53.96" stroke="#ff7070" stroke-width="1.1"/>
<text x="217.6" y="57.06" font-size="8.6" fill="#222">7.44</text>
<line x1="196.1" y1="64.29" x2="215.1" y2="64.29" stroke="#30d030" stroke-width="1.1"/>
<text x="217.6" y="67.39" font-size="8.6" fill="#222">7.32</text>
<line x1="196.1" y1="74.62" x2="215.1" y2="74.62" stroke="#2020ff" stroke-width="1.1"/>
<text x="217.6" y="77.72" font-size="8.6" fill="#222">7.22</text>
<line x1="196.1" y1="84.95" x2="215.1" y2="84.95" stroke="#30f0f0" stroke-width="1.1"/>
<text x="217.6" y="88.05" font-size="8.6" fill="#222">7.10</text>
<line x1="196.1" y1="95.28" x2="215.1" y2="95.28" stroke="#ff30ff" stroke-width="1.1"/>
<text x="217.6" y="98.38" font-size="8.6" fill="#222">7.02</text>
<line x1="196.1" y1="105.61" x2="215.1" y2="105.61" stroke="#b08060" stroke-width="1.1"/>
<text x="217.6" y="108.71" font-size="8.6" fill="#222">6.86</text>
<line x1="196.1" y1="115.94" x2="215.1" y2="115.94" stroke="#a0a040" stroke-width="1.1"/>
<text x="217.6" y="119.04" font-size="8.6" fill="#222">6.40</text>
<line x1="196.1" y1="126.27" x2="215.1" y2="126.27" stroke="#3030a0" stroke-width="1.1"/>
<text x="217.6" y="129.37" font-size="8.6" fill="#222">6.12</text>
<line x1="196.1" y1="136.6" x2="215.1" y2="136.6" stroke="#a030a0" stroke-width="1.1"/>
<text x="217.6" y="139.7" font-size="8.6" fill="#222">5.82</text>
<line x1="196.1" y1="146.93" x2="215.1" y2="146.93" stroke="#a02020" stroke-width="1.1"/>
<text x="217.6" y="150.03" font-size="8.6" fill="#222">5.64</text>
<line x1="196.1" y1="157.26" x2="215.1" y2="157.26" stroke="#40a040" stroke-width="1.1"/>
<text x="217.6" y="160.36" font-size="8.6" fill="#222">5.32</text>
<line x1="196.1" y1="167.59" x2="215.1" y2="167.59" stroke="#30a0a0" stroke-width="1.1"/>
<text x="217.6" y="170.69" font-size="8.6" fill="#222">4.82</text>
<line x1="196.1" y1="177.92" x2="215.1" y2="177.92" stroke="#4040c0" stroke-width="1.1"/>
<text x="217.6" y="181.02" font-size="8.6" fill="#222">4.68</text>
<line x1="196.1" y1="188.25" x2="215.1" y2="188.25" stroke="#ff9930" stroke-width="1.1"/>
<text x="217.6" y="191.35" font-size="8.6" fill="#222">4.41</text>
<line x1="196.1" y1="198.58" x2="215.1" y2="198.58" stroke="#b060ff" stroke-width="1.1"/>
<text x="217.6" y="201.68" font-size="8.6" fill="#222">4.17</text>
<line x1="248" y1="33.3" x2="267" y2="33.3" stroke="#ff3090" stroke-width="1.1"/>
<text x="269.2" y="36.4" font-size="8.6" fill="#222">4.06</text>
<line x1="248" y1="43.63" x2="267" y2="43.63" stroke="#505050" stroke-width="1.1"/>
<text x="269.2" y="46.73" font-size="8.6" fill="#222">3.89</text>
<line x1="248" y1="53.96" x2="267" y2="53.96" stroke="#d8d8d8" stroke-width="1.1"/>
<text x="269.2" y="57.06" font-size="8.6" fill="#222">3.62</text>
<line x1="248" y1="64.29" x2="267" y2="64.29" stroke="#909090" stroke-width="1.1"/>
<text x="269.2" y="67.39" font-size="8.6" fill="#222">3.46</text>
<line x1="248" y1="74.62" x2="267" y2="74.62" stroke="#ff2020" stroke-width="1.1"/>
<text x="269.2" y="77.72" font-size="8.6" fill="#222">3.23</text>
<line x1="248" y1="84.95" x2="267" y2="84.95" stroke="#a0ffff" stroke-width="1.1"/>
<text x="269.2" y="88.05" font-size="8.6" fill="#222">3.04</text>
<line x1="248" y1="95.28" x2="267" y2="95.28" stroke="#ff90ff" stroke-width="1.1"/>
<text x="269.2" y="98.38" font-size="8.6" fill="#222">2.88</text>
<line x1="248" y1="105.61" x2="267" y2="105.61" stroke="#808080" stroke-width="1.1"/>
<text x="269.2" y="108.71" font-size="8.6" fill="#222">2.64</text>
<line x1="248" y1="115.94" x2="267" y2="115.94" stroke="#707070" stroke-width="1.1"/>
<text x="269.2" y="119.04" font-size="8.6" fill="#222">2.43</text>
<line x1="248" y1="126.27" x2="267" y2="126.27" stroke="#ff5050" stroke-width="1.1"/>
<text x="269.2" y="129.37" font-size="8.6" fill="#222">2.23</text>
<line x1="248" y1="136.6" x2="267" y2="136.6" stroke="#30e030" stroke-width="1.1"/>
<text x="269.2" y="139.7" font-size="8.6" fill="#222">2.02</text>
<line x1="248" y1="146.93" x2="267" y2="146.93" stroke="#3030ff" stroke-width="1.1"/>
<text x="269.2" y="150.03" font-size="8.6" fill="#222">1.85</text>
<line x1="248" y1="157.26" x2="267" y2="157.26" stroke="#60ffff" stroke-width="1.1"/>
<text x="269.2" y="160.36" font-size="8.6" fill="#222">1.66</text>
<line x1="248" y1="167.59" x2="267" y2="167.59" stroke="#ff70ff" stroke-width="1.1"/>
<text x="269.2" y="170.69" font-size="8.6" fill="#222">1.53</text>
<line x1="248" y1="177.92" x2="267" y2="177.92" stroke="#7050a0" stroke-width="1.1"/>
<text x="269.2" y="181.02" font-size="8.6" fill="#222">1.44</text>
<line x1="248" y1="188.25" x2="267" y2="188.25" stroke="#808030" stroke-width="1.1"/>
<text x="269.2" y="191.35" font-size="8.6" fill="#222">1.26</text>
<rect x="248.3" y="194.28" width="18.3" height="8.2" fill="#fcd8b8" stroke="#e8c8a8" stroke-width="0.5"/>
<text x="269.2" y="201.68" font-size="8.6" fill="#222">1.06</text>
<rect x="350" y="24.6" width="216.1" height="215.2" fill="none" stroke="#2a2a2a" stroke-width="1.1"/>
<polyline points="353.6,235 355.08,234.86 356.57,234.71 358.05,234.54 359.53,234.36 361.02,234.15 362.5,233.94 363.98,233.7 365.47,233.43 366.95,233.15 368.43,232.83 369.92,232.49 371.4,232.12 372.88,231.71 374.37,231.27 375.85,230.78 377.33,230.26 378.82,229.68 380.3,229.06 381.78,228.38 383.27,227.64 384.75,226.84 386.23,225.97 387.72,225.02 389.2,224 390.68,222.89 392.17,221.69 393.65,220.4 395.13,219 396.62,217.5 398.1,215.88 399.58,214.14 401.07,212.27 402.55,210.28 404.03,208.14 405.52,205.87 407,203.45 408.48,200.88 409.97,198.16 411.45,195.28 412.93,192.26 414.42,189.08 415.9,185.75 417.38,182.28 418.87,178.66 420.35,174.92 421.83,171.05 423.32,167.06 424.8,162.98 426.28,158.81 427.77,154.56 429.25,150.26 430.73,145.93 432.22,141.57 433.7,137.2 435.18,132.86 436.67,128.54 438.15,124.28 439.63,120.08 441.12,115.97 442.6,111.95 444.08,108.04 445.57,104.25 447.05,100.59 448.53,97.07 450.02,93.7 451.5,90.47 452.98,87.39 454.47,84.47 455.95,81.7 457.43,79.08 458.92,76.61 460.4,74.29 461.88,72.11 463.37,70.07 464.85,68.16 466.33,66.38 467.82,64.72 469.3,63.18 470.78,61.75 472.27,60.42 473.75,59.19 475.23,58.05 476.72,57 478.2,56.03 479.68,55.14 481.17,54.31 482.65,53.55 484.13,52.85 485.62,52.21 487.1,51.62 488.58,51.08 490.07,50.58 491.55,50.12 493.03,49.71 494.52,49.32 496,48.97 497.48,48.65 498.97,48.35 500.45,48.08 501.93,47.84 503.42,47.61 504.9,47.4 506.38,47.21 507.87,47.04 509.35,46.88 510.83,46.74 512.32,46.61 513.8,46.48 515.28,46.37 516.77,46.27 518.25,46.18 519.73,46.1 521.22,46.02 522.7,45.95 524.18,45.88 525.67,45.83 527.15,45.77 528.63,45.72 530.12,45.68 531.6,45.64 533.08,45.6 534.57,45.57 536.05,45.54 537.53,45.51 539.02,45.48 540.5,45.46 541.98,45.44 543.47,45.42 544.95,45.4 546.43,45.38 547.92,45.37 549.4,45.35 550.88,45.34 552.37,45.33 553.85,45.32 555.33,45.31 556.82,45.3 558.3,45.29 559.79,45.29" fill="none" stroke="#ee3333" stroke-width="1"/>
<rect x="353" y="232.4" width="4.2" height="4.2" fill="#111"/>
<rect x="359.02" y="231.4" width="4.2" height="4.2" fill="#111"/>
<rect x="364.44" y="232.73" width="4.2" height="4.2" fill="#111"/>
<rect x="367.45" y="232.06" width="4.2" height="4.2" fill="#111"/>
<rect x="371.37" y="230.74" width="4.2" height="4.2" fill="#111"/>
<rect x="376.78" y="228.42" width="4.2" height="4.2" fill="#111"/>
<rect x="382.5" y="222.78" width="4.2" height="4.2" fill="#111"/>
<rect x="388.82" y="216.82" width="4.2" height="4.2" fill="#111"/>
<rect x="394.24" y="211.84" width="4.2" height="4.2" fill="#111"/>
<rect x="400.86" y="196.26" width="4.2" height="4.2" fill="#111"/>
<rect x="408.39" y="185.99" width="4.2" height="4.2" fill="#111"/>
<rect x="413.51" y="182.01" width="4.2" height="4.2" fill="#111"/>
<rect x="419.23" y="171.07" width="4.2" height="4.2" fill="#111"/>
<rect x="425.25" y="146.87" width="4.2" height="4.2" fill="#111"/>
<rect x="430.96" y="138.25" width="4.2" height="4.2" fill="#111"/>
<rect x="438.79" y="114.71" width="4.2" height="4.2" fill="#111"/>
<rect x="444.21" y="101.79" width="4.2" height="4.2" fill="#111"/>
<rect x="447.52" y="92.5" width="4.2" height="4.2" fill="#111"/>
<rect x="454.74" y="85.87" width="4.2" height="4.2" fill="#111"/>
<rect x="462.87" y="63" width="4.2" height="4.2" fill="#111"/>
<rect x="467.08" y="62.67" width="4.2" height="4.2" fill="#111"/>
<rect x="483.94" y="59.68" width="4.2" height="4.2" fill="#111"/>
<rect x="491.77" y="45.76" width="4.2" height="4.2" fill="#111"/>
<rect x="497.18" y="57.36" width="4.2" height="4.2" fill="#111"/>
<rect x="506.82" y="53.05" width="4.2" height="4.2" fill="#111"/>
<rect x="514.94" y="47.75" width="4.2" height="4.2" fill="#111"/>
<rect x="529.09" y="34.16" width="4.2" height="4.2" fill="#111"/>
<rect x="534.21" y="43.77" width="4.2" height="4.2" fill="#111"/>
<rect x="536.31" y="42.45" width="4.2" height="4.2" fill="#111"/>
<rect x="539.93" y="40.46" width="4.2" height="4.2" fill="#111"/>
<rect x="542.94" y="41.78" width="4.2" height="4.2" fill="#111"/>
<rect x="546.55" y="35.15" width="4.2" height="4.2" fill="#111"/>
<rect x="558.59" y="48.75" width="4.2" height="4.2" fill="#111"/>
<path d="M353.6,239.8v4 M368.65,239.8v2.5 M383.7,239.8v4 M398.75,239.8v2.5 M413.8,239.8v4 M428.85,239.8v2.5 M443.9,239.8v4 M458.95,239.8v2.5 M474,239.8v4 M489.05,239.8v2.5 M504.1,239.8v4 M519.15,239.8v2.5 M534.2,239.8v4 M549.25,239.8v2.5 M564.3,239.8v4 M350,239.8h-3.8 M350,226.54h-2.3 M350,213.28h-2.3 M350,200.02h-2.3 M350,186.76h-2.3 M350,173.5h-3.8 M350,160.24h-2.3 M350,146.98h-2.3 M350,133.72h-2.3 M350,120.46h-2.3 M350,107.2h-3.8 M350,93.94h-2.3 M350,80.68h-2.3 M350,67.42h-2.3 M350,54.16h-2.3 M350,40.9h-3.8 M350,27.64h-2.3" stroke="#2a2a2a" stroke-width="1" fill="none"/>
<text x="353.6" y="254.5" font-size="11" text-anchor="middle" fill="#222">1</text>
<text x="383.7" y="254.5" font-size="11" text-anchor="middle" fill="#222">2</text>
<text x="413.8" y="254.5" font-size="11" text-anchor="middle" fill="#222">3</text>
<text x="443.9" y="254.5" font-size="11" text-anchor="middle" fill="#222">4</text>
<text x="474" y="254.5" font-size="11" text-anchor="middle" fill="#222">5</text>
<text x="504.1" y="254.5" font-size="11" text-anchor="middle" fill="#222">6</text>
<text x="534.2" y="254.5" font-size="11" text-anchor="middle" fill="#222">7</text>
<text x="564.3" y="254.5" font-size="11" text-anchor="middle" fill="#222">8</text>
<text x="345" y="243.6" font-size="11" text-anchor="end" fill="#222">0</text>
<text x="345" y="177.3" font-size="11" text-anchor="end" fill="#222">2</text>
<text x="345" y="111" font-size="11" text-anchor="end" fill="#222">4</text>
<text x="345" y="44.7" font-size="11" text-anchor="end" fill="#222">6</text>
<text x="458.2" y="271" font-size="13.8" font-weight="bold" text-anchor="middle" fill="#111">pH</text>
<text x="302.3" y="32.3" font-size="16.5" fill="#111">(B)</text>
<text transform="translate(328.2,132) rotate(-90)" font-size="13.4" font-weight="bold" font-style="italic" text-anchor="middle" fill="#111">I<tspan font-size="8.5" dy="4.3" font-style="normal">510</tspan><tspan dy="-4.3">/I</tspan><tspan font-size="8.5" dy="4.3" font-style="normal">616</tspan></text>
<rect x="422.2" y="171.2" width="133.6" height="63.4" fill="#050505"/>
<g id="vials">
<rect x="429.2" y="173.5" width="15" height="9.8" rx="1.5" fill="#20a050" opacity="0.45"/>
<line x1="429.2" y1="175.5" x2="444.2" y2="175.5" stroke="#20a050" stroke-width="0.8" opacity="0.8"/>
<line x1="429.2" y1="178" x2="444.2" y2="178" stroke="#20a050" stroke-width="0.8" opacity="0.8"/>
<line x1="429.2" y1="180.5" x2="444.2" y2="180.5" stroke="#20a050" stroke-width="0.8" opacity="0.8"/>
<rect x="427.2" y="183.3" width="19" height="18" fill="#20a050" opacity="0.22"/>
<rect x="427.2" y="200.9" width="19" height="27.5" fill="#a8f0c0"/>
<rect x="427.2" y="200.4" width="19" height="1.8" fill="#e0ffe8"/>
<rect x="427.2" y="228.4" width="19" height="6" fill="#20a050" opacity="0.6"/>
<text x="438.5" y="194.3" font-size="10.2" text-anchor="middle" fill="#ececec">7.02</text>
<rect x="456.4" y="173.5" width="15" height="9.8" rx="1.5" fill="#20a050" opacity="0.45"/>
<line x1="456.4" y1="175.5" x2="471.4" y2="175.5" stroke="#20a050" stroke-width="0.8" opacity="0.8"/>
<line x1="456.4" y1="178" x2="471.4" y2="178" stroke="#20a050" stroke-width="0.8" opacity="0.8"/>
<line x1="456.4" y1="180.5" x2="471.4" y2="180.5" stroke="#20a050" stroke-width="0.8" opacity="0.8"/>
<rect x="454.4" y="183.3" width="19" height="18" fill="#20a050" opacity="0.22"/>
<rect x="454.4" y="200.9" width="19" height="27.5" fill="#40e088"/>
<rect x="454.4" y="200.4" width="19" height="1.8" fill="#90ffc0"/>
<rect x="454.4" y="228.4" width="19" height="6" fill="#20a050" opacity="0.6"/>
<text x="465.7" y="194.3" font-size="10.2" text-anchor="middle" fill="#ececec">4.17</text>
<rect x="483.2" y="173.5" width="15" height="9.8" rx="1.5" fill="#208048" opacity="0.45"/>
<line x1="483.2" y1="175.5" x2="498.2" y2="175.5" stroke="#208048" stroke-width="0.8" opacity="0.8"/>
<line x1="483.2" y1="178" x2="498.2" y2="178" stroke="#208048" stroke-width="0.8" opacity="0.8"/>
<line x1="483.2" y1="180.5" x2="498.2" y2="180.5" stroke="#208048" stroke-width="0.8" opacity="0.8"/>
<rect x="481.2" y="183.3" width="19" height="18" fill="#208048" opacity="0.22"/>
<rect x="481.2" y="200.9" width="19" height="27.5" fill="#70c890"/>
<rect x="481.2" y="200.4" width="19" height="1.8" fill="#a0e0b8"/>
<rect x="481.2" y="228.4" width="19" height="6" fill="#208048" opacity="0.6"/>
<text x="492.5" y="194.3" font-size="10.2" text-anchor="middle" fill="#ececec">3.23</text>
<rect x="508.9" y="173.5" width="15" height="9.8" rx="1.5" fill="#606020" opacity="0.45"/>
<line x1="508.9" y1="175.5" x2="523.9" y2="175.5" stroke="#606020" stroke-width="0.8" opacity="0.8"/>
<line x1="508.9" y1="178" x2="523.9" y2="178" stroke="#606020" stroke-width="0.8" opacity="0.8"/>
<line x1="508.9" y1="180.5" x2="523.9" y2="180.5" stroke="#606020" stroke-width="0.8" opacity="0.8"/>
<rect x="506.9" y="183.3" width="19" height="18" fill="#606020" opacity="0.22"/>
<rect x="506.9" y="200.9" width="19" height="27.5" fill="#a0a058"/>
<rect x="506.9" y="200.4" width="19" height="1.8" fill="#c8c880"/>
<rect x="506.9" y="228.4" width="19" height="6" fill="#606020" opacity="0.6"/>
<text x="518.2" y="194.3" font-size="10.2" text-anchor="middle" fill="#ececec">2.43</text>
<rect x="532.4" y="173.5" width="15" height="9.8" rx="1.5" fill="#703010" opacity="0.45"/>
<line x1="532.4" y1="175.5" x2="547.4" y2="175.5" stroke="#703010" stroke-width="0.8" opacity="0.8"/>
<line x1="532.4" y1="178" x2="547.4" y2="178" stroke="#703010" stroke-width="0.8" opacity="0.8"/>
<line x1="532.4" y1="180.5" x2="547.4" y2="180.5" stroke="#703010" stroke-width="0.8" opacity="0.8"/>
<rect x="530.4" y="183.3" width="19" height="18" fill="#703010" opacity="0.22"/>
<rect x="530.4" y="200.9" width="19" height="27.5" fill="#d07028"/>
<rect x="530.4" y="200.4" width="19" height="1.8" fill="#f09850"/>
<rect x="530.4" y="228.4" width="19" height="6" fill="#703010" opacity="0.6"/>
<text x="541.7" y="194.3" font-size="10.2" text-anchor="middle" fill="#ececec">1.44</text>
</g>
<rect x="619.4" y="24.4" width="213.8" height="214.3" fill="none" stroke="#2a2a2a" stroke-width="1.1"/>
<polyline points="627.6,210.01 630.11,208.93 632.61,207.83 635.12,206.72 637.63,205.59 640.13,204.43 642.64,203.26 645.14,202.06 647.65,200.85 650.16,199.62 652.66,198.36 655.17,197.08 657.68,195.78 660.18,194.46 662.69,193.11 665.19,191.74 667.7,190.35 670.21,188.93 672.71,187.49 675.22,186.02 677.73,184.53 680.23,183.01 682.74,181.47 685.25,179.9 687.75,178.3 690.26,176.67 692.76,175.02 695.27,173.34 697.78,171.63 700.28,169.88 702.79,168.11 705.3,166.31 707.8,164.48 710.31,162.61 712.82,160.72 715.32,158.79 717.83,156.82 720.33,154.83 722.84,152.79 725.35,150.73 727.85,148.62 730.36,146.48 732.87,144.31 735.37,142.09 737.88,139.84 740.38,137.55 742.89,135.22 745.4,132.85 747.9,130.44 750.41,127.98 752.92,125.49 755.42,122.95 757.93,120.36 760.44,117.73 762.94,115.06 765.45,112.34 767.95,109.57 770.46,106.76 772.97,103.89 775.47,100.98 777.98,98.02 780.49,95 782.99,91.93 785.5,88.81 788.01,85.64 790.51,82.41 793.02,79.12 795.52,75.78 798.03,72.38 800.54,68.92 803.04,65.4 805.55,61.82 808.06,58.18 810.56,54.48 813.07,50.71 815.57,46.87 818.08,42.97 820.59,39.01 823.09,34.97 825.6,30.86" fill="none" stroke="#ee4444" stroke-width="1"/>
<path d="M627.6,207.16v5.99 M625.6,207.16h4 M625.6,213.15h4" stroke="#3a3aff" stroke-width="0.9" fill="none"/>
<rect x="626.3" y="208.85" width="2.6" height="2.6" fill="#111"/>
<path d="M667.2,179.76v8.56 M665.2,179.76h4 M665.2,188.32h4" stroke="#3a3aff" stroke-width="0.9" fill="none"/>
<rect x="665.9" y="182.74" width="2.6" height="2.6" fill="#111"/>
<path d="M706.8,158.79v8.56 M704.8,158.79h4 M704.8,167.35h4" stroke="#3a3aff" stroke-width="0.9" fill="none"/>
<rect x="705.5" y="161.77" width="2.6" height="2.6" fill="#111"/>
<path d="M746.4,128.4v11.98 M744.4,128.4h4 M744.4,140.39h4" stroke="#3a3aff" stroke-width="0.9" fill="none"/>
<rect x="745.1" y="133.1" width="2.6" height="2.6" fill="#111"/>
<path d="M786,86.46v8.56 M784,86.46h4 M784,95.02h4" stroke="#3a3aff" stroke-width="0.9" fill="none"/>
<rect x="784.7" y="89.44" width="2.6" height="2.6" fill="#111"/>
<path d="M825.6,29.11v3.42 M823.6,29.11h4 M823.6,32.53h4" stroke="#3a3aff" stroke-width="0.9" fill="none"/>
<rect x="824.3" y="29.52" width="2.6" height="2.6" fill="#111"/>
<path d="M619.68,238.7v2.5 M627.6,238.7v4 M635.52,238.7v2.5 M643.44,238.7v2.5 M651.36,238.7v2.5 M659.28,238.7v2.5 M667.2,238.7v4 M675.12,238.7v2.5 M683.04,238.7v2.5 M690.96,238.7v2.5 M698.88,238.7v2.5 M706.8,238.7v4 M714.72,238.7v2.5 M722.64,238.7v2.5 M730.56,238.7v2.5 M738.48,238.7v2.5 M746.4,238.7v4 M754.32,238.7v2.5 M762.24,238.7v2.5 M770.16,238.7v2.5 M778.08,238.7v2.5 M786,238.7v4 M793.92,238.7v2.5 M801.84,238.7v2.5 M809.76,238.7v2.5 M817.68,238.7v2.5 M825.6,238.7v4 M619.4,238.4h-3.8 M619.4,217h-2.3 M619.4,195.6h-3.8 M619.4,174.2h-2.3 M619.4,152.8h-3.8 M619.4,131.4h-2.3 M619.4,110h-3.8 M619.4,88.6h-2.3 M619.4,67.2h-3.8 M619.4,45.8h-2.3 M619.4,24.4h-3.8" stroke="#2a2a2a" stroke-width="1" fill="none"/>
<text x="627.6" y="254.3" font-size="11" text-anchor="middle" fill="#222">2</text>
<text x="667.2" y="254.3" font-size="11" text-anchor="middle" fill="#222">3</text>
<text x="706.8" y="254.3" font-size="11" text-anchor="middle" fill="#222">4</text>
<text x="746.4" y="254.3" font-size="11" text-anchor="middle" fill="#222">5</text>
<text x="786" y="254.3" font-size="11" text-anchor="middle" fill="#222">6</text>
<text x="825.6" y="254.3" font-size="11" text-anchor="middle" fill="#222">7</text>
<text x="614" y="242.2" font-size="11" text-anchor="end" fill="#222">1</text>
<text x="614" y="199.4" font-size="11" text-anchor="end" fill="#222">2</text>
<text x="614" y="156.6" font-size="11" text-anchor="end" fill="#222">3</text>
<text x="614" y="113.8" font-size="11" text-anchor="end" fill="#222">4</text>
<text x="614" y="71" font-size="11" text-anchor="end" fill="#222">5</text>
<text x="614" y="28.2" font-size="11" text-anchor="end" fill="#222">6</text>
<text x="728" y="271" font-size="13.8" font-weight="bold" text-anchor="middle" fill="#111">pH</text>
<text x="572.6" y="32.3" font-size="16.5" fill="#111">(D)</text>
<text transform="translate(596,131) rotate(-90)" font-size="13.4" font-weight="bold" font-style="italic" text-anchor="middle" fill="#111">I<tspan font-size="8.5" dy="4.3" font-style="normal">blue</tspan><tspan dy="-4.3">/I</tspan><tspan font-size="8.5" dy="4.3" font-style="normal">green</tspan></text>
<defs>
<clipPath id="cc"><rect x="0" y="0" width="78.6" height="71"/></clipPath>
<filter id="bl05" x="-20%" y="-20%" width="140%" height="140%"><feGaussianBlur stdDeviation="0.6"/></filter>
<filter id="bl1" x="-20%" y="-20%" width="140%" height="140%"><feGaussianBlur stdDeviation="1.2"/></filter>
<filter id="bl2" x="-30%" y="-30%" width="160%" height="160%"><feGaussianBlur stdDeviation="2.5"/></filter>
<filter id="bl4" x="-30%" y="-30%" width="160%" height="160%"><feGaussianBlur stdDeviation="4"/></filter>
</defs>
<text x="26.3" y="289.6" font-size="16.5" fill="#111">(C)</text>
<rect x="77" y="284.5" width="78.6" height="20.3" fill="#e5e5e5"/>
<text x="116.3" y="299" font-size="13" text-anchor="middle" fill="#1a1a1a">pH = 7</text>
<rect x="157.6" y="284.5" width="78.6" height="20.3" fill="#e5e5e5"/>
<text x="196.9" y="299" font-size="13" text-anchor="middle" fill="#1a1a1a">pH = 6</text>
<rect x="238.2" y="284.5" width="78.6" height="20.3" fill="#e5e5e5"/>
<text x="277.5" y="299" font-size="13" text-anchor="middle" fill="#1a1a1a">pH = 5</text>
<rect x="318.8" y="284.5" width="78.6" height="20.3" fill="#e5e5e5"/>
<text x="358.1" y="299" font-size="13" text-anchor="middle" fill="#1a1a1a">pH = 4</text>
<rect x="399.4" y="284.5" width="78.6" height="20.3" fill="#e5e5e5"/>
<text x="438.7" y="299" font-size="13" text-anchor="middle" fill="#1a1a1a">pH = 3</text>
<rect x="480" y="284.5" width="78.6" height="20.3" fill="#e5e5e5"/>
<text x="519.3" y="299" font-size="13" text-anchor="middle" fill="#1a1a1a">pH = 2</text>
<text x="50" y="338.7" font-size="13" text-anchor="middle" fill="#1a1a1a">Blue</text>
<text x="50" y="354" font-size="13" text-anchor="middle" fill="#1a1a1a">channel</text>
<text x="50" y="411.7" font-size="13" text-anchor="middle" fill="#1a1a1a">Green</text>
<text x="50" y="427" font-size="13" text-anchor="middle" fill="#1a1a1a">channel</text>
<text x="50" y="492.7" font-size="13" text-anchor="middle" fill="#1a1a1a">Merge</text>
<text x="50" y="565.7" font-size="13" text-anchor="middle" fill="#1a1a1a">Ratio</text>
<defs><filter id="pc00" x="0" y="0" width="100%" height="100%" color-interpolation-filters="sRGB"><feTurbulence type="fractalNoise" baseFrequency="0.28" numOctaves="2" seed="11" result="n0"/><feColorMatrix in="n0" type="matrix" values="2 0 0 0 -0.5 2 0 0 0 -0.5 2 0 0 0 -0.5 0 0 0 0 1" result="n"/><feTurbulence type="fractalNoise" baseFrequency="0.05" numOctaves="2" seed="111" result="c0"/><feColorMatrix in="c0" type="matrix" values="2 0 0 0 -0.5 2 0 0 0 -0.5 2 0 0 0 -0.5 0 0 0 0 1" result="c"/><feComposite in="SourceGraphic" in2="n" operator="arithmetic" k1="0.7" k2="0.65" k3="0" k4="0" result="m"/><feComposite in="m" in2="c" operator="arithmetic" k1="0.6" k2="0.7" k3="0" k4="0" result="m2"/><feGaussianBlur in="m2" stdDeviation="0.6" result="b"/><feComponentTransfer in="b"><feFuncR type="table" tableValues="0 0.006 0.011 0.017 0.022 0.028 0.034 0.039 0.045 0.051 0.056 0.062 0.068 0.073 0.079 0.084 0.09 0.096 0.101 0.107 0.112 0.118 0.124 0.129 0.135 0.141 0.146 0.152 0.158 0.163 0.169 0.174 0.18"/><feFuncG type="table" tableValues="0 0.007 0.014 0.021 0.028 0.034 0.041 0.048 0.055 0.062 0.069 0.076 0.083 0.089 0.096 0.103 0.11 0.117 0.124 0.131 0.138 0.144 0.151 0.158 0.165 0.172 0.179 0.186 0.193 0.199 0.206 0.213 0.22"/><feFuncB type="table" tableValues="0 0.031 0.062 0.094 0.125 0.156 0.188 0.219 0.25 0.281 0.312 0.344 0.375 0.406 0.438 0.469 0.5 0.531 0.562 0.594 0.625 0.656 0.688 0.719 0.75 0.781 0.812 0.844 0.875 0.906 0.938 0.969 1"/><feFuncA type="linear" slope="0" intercept="1"/></feComponentTransfer></filter></defs>
<g transform="translate(77,306.5)" clip-path="url(#cc)">
<g filter="url(#pc00)">
<rect x="0" y="0" width="78.6" height="71" fill="#000"/>
<rect x="0" y="0" width="78.6" height="71" fill="rgb(92,92,92)"/>
<g filter="url(#bl1)"><ellipse cx="7" cy="15" rx="10.2" ry="8.5" fill="rgb(120,120,120)"/><ellipse cx="18" cy="22" rx="8.5" ry="6.8" fill="rgb(120,120,120)"/><ellipse cx="5" cy="31" rx="8.5" ry="6.8" fill="rgb(120,120,120)"/><ellipse cx="34" cy="34" rx="10.2" ry="8.5" fill="rgb(120,120,120)"/><ellipse cx="43" cy="22" rx="6.8" ry="6.8" fill="rgb(120,120,120)"/><ellipse cx="54" cy="34" rx="10.2" ry="8.5" fill="rgb(120,120,120)"/><ellipse cx="61" cy="39" rx="6.8" ry="8.5" fill="rgb(120,120,120)"/><ellipse cx="66" cy="21" rx="10.2" ry="11.9" fill="rgb(120,120,120)"/><ellipse cx="53" cy="51" rx="8.5" ry="8.5" fill="rgb(120,120,120)"/><ellipse cx="12" cy="46" rx="10.2" ry="8.5" fill="rgb(120,120,120)"/><ellipse cx="21" cy="55" rx="8.5" ry="6.8" fill="rgb(120,120,120)"/><ellipse cx="56" cy="63" rx="10.2" ry="8.5" fill="rgb(120,120,120)"/><ellipse cx="24" cy="47" rx="8.5" ry="6.8" fill="rgb(120,120,120)"/><ellipse cx="44" cy="44" rx="8.5" ry="6.8" fill="rgb(120,120,120)"/></g>
<path filter="url(#bl05)" d="M38.02,61.12L38,61 M38,61L35.56,55.9 M17.77,49.23L35.56,55.9 M38,61L52.44,42.44 M44,34L52.44,42.44 M44,34L33.8,44.2 M35.56,55.9L33.8,44.2 M30.5,-9.79L30.5,22 M30.5,-9.79L9.37,23.42 M30.5,22L21.15,34.46 M9.37,23.42L17.05,34.51 M21.15,34.46L18.96,34.99 M17.05,34.51L18.96,34.99 M54.54,22.46L44,32.12 M44,32.12L30.5,22 M49,-104.94L54.54,22.46 M49,-104.94L30.5,-9.79 M44,32.12L44,34 M33.8,44.2L21.15,34.46 M17.77,49.23L18.96,34.99 M62.37,29.69L53.23,42.48 M53.23,42.48L69.41,53.27 M54.54,22.46L62.37,29.69 M52.44,42.44L53.23,42.48 M38.02,61.12L69.41,53.27" stroke="rgb(140,140,140)" stroke-width="1.3" fill="none"/>
<g filter="url(#bl1)"><ellipse cx="29" cy="10" rx="14" ry="9" fill="#000" transform="rotate(-10 29 10)"/><ellipse cx="58" cy="12" rx="6" ry="12" fill="#000" transform="rotate(35 58 12)"/><ellipse cx="6" cy="64" rx="10" ry="8" fill="#000"/><ellipse cx="36" cy="58" rx="13" ry="9" fill="#000" transform="rotate(-25 36 58)"/><ellipse cx="75" cy="45" rx="5" ry="18" fill="#000"/><ellipse cx="3" cy="5" rx="4" ry="5" fill="#000"/><ellipse cx="12" cy="38" rx="8" ry="3" fill="#000" transform="rotate(10 12 38)"/></g>
<g filter="url(#bl05)"><ellipse cx="7" cy="15" rx="6.8" ry="5.8" fill="rgb(31,31,31)" stroke="rgb(153,153,153)" stroke-width="1.4"/><ellipse cx="18" cy="22" rx="5.8" ry="4.8" fill="rgb(31,31,31)" stroke="rgb(153,153,153)" stroke-width="1.4"/><ellipse cx="5" cy="31" rx="5.8" ry="4.8" fill="rgb(31,31,31)" stroke="rgb(153,153,153)" stroke-width="1.4"/><ellipse cx="34" cy="34" rx="6.8" ry="5.8" fill="rgb(31,31,31)" stroke="rgb(153,153,153)" stroke-width="1.4"/><ellipse cx="43" cy="22" rx="4.8" ry="4.8" fill="rgb(31,31,31)" stroke="rgb(153,153,153)" stroke-width="1.4"/><ellipse cx="54" cy="34" rx="6.8" ry="5.8" fill="rgb(31,31,31)" stroke="rgb(153,153,153)" stroke-width="1.4"/><ellipse cx="61" cy="39" rx="4.8" ry="5.8" fill="rgb(31,31,31)" stroke="rgb(153,153,153)" stroke-width="1.4"/><ellipse cx="66" cy="21" rx="6.8" ry="7.8" fill="rgb(31,31,31)" stroke="rgb(153,153,153)" stroke-width="1.4"/><ellipse cx="53" cy="51" rx="5.8" ry="5.8" fill="rgb(31,31,31)" stroke="rgb(153,153,153)" stroke-width="1.4"/><ellipse cx="12" cy="46" rx="6.8" ry="5.8" fill="rgb(31,31,31)" stroke="rgb(153,153,153)" stroke-width="1.4"/><ellipse cx="21" cy="55" rx="5.8" ry="4.8" fill="rgb(31,31,31)" stroke="rgb(153,153,153)" stroke-width="1.4"/><ellipse cx="56" cy="63" rx="6.8" ry="5.8" fill="rgb(31,31,31)" stroke="rgb(153,153,153)" stroke-width="1.4"/><ellipse cx="24" cy="47" rx="5.8" ry="4.8" fill="rgb(31,31,31)" stroke="rgb(153,153,153)" stroke-width="1.4"/><ellipse cx="44" cy="44" rx="5.8" ry="4.8" fill="rgb(31,31,31)" stroke="rgb(153,153,153)" stroke-width="1.4"/></g>
</g></g>
<defs><filter id="pc01" x="0" y="0" width="100%" height="100%" color-interpolation-filters="sRGB"><feTurbulence type="fractalNoise" baseFrequency="0.28" numOctaves="2" seed="14" result="n0"/><feColorMatrix in="n0" type="matrix" values="2 0 0 0 -0.5 2 0 0 0 -0.5 2 0 0 0 -0.5 0 0 0 0 1" result="n"/><feTurbulence type="fractalNoise" baseFrequency="0.05" numOctaves="2" seed="114" result="c0"/><feColorMatrix in="c0" type="matrix" values="2 0 0 0 -0.5 2 0 0 0 -0.5 2 0 0 0 -0.5 0 0 0 0 1" result="c"/><feComposite in="SourceGraphic" in2="n" operator="arithmetic" k1="0.7" k2="0.65" k3="0" k4="0" result="m"/><feComposite in="m" in2="c" operator="arithmetic" k1="0.6" k2="0.7" k3="0" k4="0" result="m2"/><feGaussianBlur in="m2" stdDeviation="0.6" result="b"/><feComponentTransfer in="b"><feFuncR type="table" tableValues="0 0.006 0.011 0.017 0.022 0.028 0.034 0.039 0.045 0.051 0.056 0.062 0.068 0.073 0.079 0.084 0.09 0.096 0.101 0.107 0.112 0.118 0.124 0.129 0.135 0.141 0.146 0.152 0.158 0.163 0.169 0.174 0.18"/><feFuncG type="table" tableValues="0 0.007 0.014 0.021 0.028 0.034 0.041 0.048 0.055 0.062 0.069 0.076 0.083 0.089 0.096 0.103 0.11 0.117 0.124 0.131 0.138 0.144 0.151 0.158 0.165 0.172 0.179 0.186 0.193 0.199 0.206 0.213 0.22"/><feFuncB type="table" tableValues="0 0.031 0.062 0.094 0.125 0.156 0.188 0.219 0.25 0.281 0.312 0.344 0.375 0.406 0.438 0.469 0.5 0.531 0.562 0.594 0.625 0.656 0.688 0.719 0.75 0.781 0.812 0.844 0.875 0.906 0.938 0.969 1"/><feFuncA type="linear" slope="0" intercept="1"/></feComponentTransfer></filter></defs>
<g transform="translate(157.6,306.5)" clip-path="url(#cc)">
<g filter="url(#pc01)">
<rect x="0" y="0" width="78.6" height="71" fill="#000"/>
<rect x="0" y="0" width="78.6" height="71" fill="rgb(92,92,92)"/>
<g filter="url(#bl1)"><ellipse cx="5.12" cy="4.25" rx="8.01" ry="7.34" fill="rgb(120,120,120)" transform="rotate(2.87 5.12 4.25)"/><ellipse cx="17.33" cy="3.79" rx="7.67" ry="7.24" fill="rgb(120,120,120)" transform="rotate(-5.31 17.33 3.79)"/><ellipse cx="27.85" cy="3.95" rx="7.47" ry="9.39" fill="rgb(120,120,120)" transform="rotate(-30.1 27.85 3.95)"/><ellipse cx="40.62" cy="6.64" rx="8.72" ry="8.71" fill="rgb(120,120,120)" transform="rotate(-8.27 40.62 6.64)"/><ellipse cx="56.38" cy="3.73" rx="8.5" ry="7.93" fill="rgb(120,120,120)" transform="rotate(-28.46 56.38 3.73)"/><ellipse cx="64.09" cy="5.04" rx="8.4" ry="7.63" fill="rgb(120,120,120)" transform="rotate(6.53 64.09 5.04)"/><ellipse cx="78.69" cy="5.36" rx="7.76" ry="7.31" fill="rgb(120,120,120)" transform="rotate(-35.23 78.69 5.36)"/><ellipse cx="10.53" cy="18.9" rx="7.48" ry="7.99" fill="rgb(120,120,120)" transform="rotate(6.84 10.53 18.9)"/><ellipse cx="23.77" cy="17" rx="8.35" ry="9.04" fill="rgb(120,120,120)" transform="rotate(-20.47 23.77 17)"/><ellipse cx="36.37" cy="18.13" rx="8.54" ry="9.12" fill="rgb(120,120,120)" transform="rotate(-16.96 36.37 18.13)"/><ellipse cx="50.4" cy="16.09" rx="7.46" ry="9.2" fill="rgb(120,120,120)" transform="rotate(-27.84 50.4 16.09)"/><ellipse cx="59.94" cy="15.7" rx="8.05" ry="9.22" fill="rgb(120,120,120)" transform="rotate(5.84 59.94 15.7)"/><ellipse cx="73.88" cy="17.07" rx="8.11" ry="8.76" fill="rgb(120,120,120)" transform="rotate(6.39 73.88 17.07)"/><ellipse cx="8.22" cy="29.87" rx="8.04" ry="7.31" fill="rgb(120,120,120)" transform="rotate(16.12 8.22 29.87)"/><ellipse cx="18.74" cy="32.47" rx="8.42" ry="7.91" fill="rgb(120,120,120)" transform="rotate(-9.14 18.74 32.47)"/><ellipse cx="30.84" cy="27.61" rx="7.56" ry="7.6" fill="rgb(120,120,120)" transform="rotate(-30.63 30.84 27.61)"/><ellipse cx="39.79" cy="31.34" rx="6.77" ry="7.81" fill="rgb(120,120,120)" transform="rotate(-8.72 39.79 31.34)"/><ellipse cx="55.86" cy="27.9" rx="7.53" ry="8.63" fill="rgb(120,120,120)" transform="rotate(30.67 55.86 27.9)"/><ellipse cx="67.6" cy="31.82" rx="7.12" ry="8.27" fill="rgb(120,120,120)" transform="rotate(-11.3 67.6 31.82)"/><ellipse cx="79.92" cy="32.29" rx="6.82" ry="7.62" fill="rgb(120,120,120)" transform="rotate(-21.44 79.92 32.29)"/><ellipse cx="10.67" cy="41.92" rx="7.86" ry="7.85" fill="rgb(120,120,120)" transform="rotate(-39.67 10.67 41.92)"/><ellipse cx="23.59" cy="41.35" rx="7.81" ry="9.73" fill="rgb(120,120,120)" transform="rotate(15.24 23.59 41.35)"/><ellipse cx="36.08" cy="42.59" rx="8.07" ry="7.29" fill="rgb(120,120,120)" transform="rotate(31.96 36.08 42.59)"/><ellipse cx="49.4" cy="43.87" rx="8.36" ry="8.21" fill="rgb(120,120,120)" transform="rotate(-8.08 49.4 43.87)"/><ellipse cx="58.02" cy="42.67" rx="6.61" ry="7.32" fill="rgb(120,120,120)" transform="rotate(-23.3 58.02 42.67)"/><ellipse cx="70.31" cy="41.2" rx="6.59" ry="7.14" fill="rgb(120,120,120)" transform="rotate(-27.9 70.31 41.2)"/><ellipse cx="3.63" cy="55.87" rx="7.92" ry="7.54" fill="rgb(120,120,120)" transform="rotate(-19.82 3.63 55.87)"/><ellipse cx="17.24" cy="53.32" rx="6.75" ry="9.45" fill="rgb(120,120,120)" transform="rotate(39.45 17.24 53.32)"/><ellipse cx="29.83" cy="53.92" rx="6.66" ry="7.42" fill="rgb(120,120,120)" transform="rotate(-12.59 29.83 53.92)"/><ellipse cx="40.82" cy="55.64" rx="6.84" ry="7.2" fill="rgb(120,120,120)" transform="rotate(36.08 40.82 55.64)"/><ellipse cx="54.14" cy="52.23" rx="7.75" ry="7.21" fill="rgb(120,120,120)" transform="rotate(2.25 54.14 52.23)"/><ellipse cx="68.39" cy="55.82" rx="8.12" ry="7.85" fill="rgb(120,120,120)" transform="rotate(-10.66 68.39 55.82)"/><ellipse cx="76.34" cy="55.36" rx="7.73" ry="9.26" fill="rgb(120,120,120)" transform="rotate(-13.63 76.34 55.36)"/><ellipse cx="10.62" cy="67.56" rx="8.8" ry="9.46" fill="rgb(120,120,120)" transform="rotate(24.49 10.62 67.56)"/><ellipse cx="25.59" cy="67.2" rx="7" ry="8.55" fill="rgb(120,120,120)" transform="rotate(-11.55 25.59 67.2)"/><ellipse cx="33.64" cy="63.64" rx="7.13" ry="7.84" fill="rgb(120,120,120)" transform="rotate(15.4 33.64 63.64)"/><ellipse cx="50.28" cy="65.74" rx="8.69" ry="9.83" fill="rgb(120,120,120)" transform="rotate(36.4 50.28 65.74)"/><ellipse cx="59.32" cy="64.6" rx="7" ry="7.68" fill="rgb(120,120,120)" transform="rotate(-23.65 59.32 64.6)"/><ellipse cx="72.62" cy="68" rx="8.46" ry="8.44" fill="rgb(120,120,120)" transform="rotate(12.24 72.62 68)"/></g>
<path filter="url(#bl05)" d="M93.24,18.19L74,25.83 M93.24,18.19L71.31,9.17 M74,25.83L66.3,22.56 M66.3,22.56L67.3,12.42 M71.31,9.17L67.3,12.42 M73.06,-71.11L71.31,9.17 M73.06,-71.11L59.39,9.35 M59.39,9.35L67.3,12.42 M59.39,9.35L54.96,10.67 M54.96,10.67L48.98,7.77 M41.85,-30.93L48.98,7.77 M54.96,10.67L55.38,20.96 M66.3,22.56L63.76,23.76 M63.76,23.76L55.38,20.96 M74,25.83L73.64,35.15 M73.64,35.15L82.28,44.47 M-135.37,146.92L11.3,59.22 M11.3,59.22L17.98,62.33 M82.28,44.47L71.98,48.85 M71.98,48.85L72.68,61.15 M58.57,95.24L54.09,59.52 M58.57,95.24L66.76,63.21 M54.09,59.52L60.57,56.81 M60.57,56.81L66.76,63.21 M72.68,61.15L66.76,63.21 M71.98,48.85L64.88,47.92 M60.57,56.81L62.29,49.97 M62.29,49.97L64.88,47.92 M73.64,35.15L63.7,38.03 M64.88,47.92L63.7,38.03 M63.76,23.76L60.07,34.83 M60.07,34.83L63.7,38.03 M54.09,59.52L48.5,57.92 M48.5,57.92L42.05,63.97 M39.15,86.99L42.05,63.97 M11.46,10.24L16.36,12.44 M22.5,9.44L16.36,12.44 M39.15,86.99L27.43,60.47 M42.05,63.97L34.89,57.54 M34.89,57.54L27.43,60.47 M17.98,62.33L23.27,59.14 M23.27,59.14L27.43,60.47 M11.46,10.24L-13.71,19.53 M-80.4,27.61L-13.71,19.53 M16.36,12.44L17.97,23.66 M17.97,23.66L14.87,25.54 M-13.71,19.53L14.87,25.54 M44.26,23.13L37.2,24.96 M44.26,23.13L42.94,14.02 M37.2,24.96L29.79,20.65 M42.94,14.02L33.16,10.41 M29.79,20.65L30.57,11.97 M33.16,10.41L30.57,11.97 M48.98,7.77L42.94,14.02 M55.38,20.96L46.82,24.91 M46.82,24.91L44.26,23.13 M41.85,-30.93L33.16,10.41 M22.87,25.26L17.97,23.66 M22.87,25.26L29.79,20.65 M22.5,9.44L30.57,11.97 M62.29,49.97L54.18,46.68 M60.07,34.83L52.68,35.91 M54.18,46.68L52.68,35.91 M48.5,57.92L46.71,50.92 M54.18,46.68L46.71,50.92 M46.82,24.91L48.84,34.36 M52.68,35.91L48.84,34.36 M12.46,35.29L-10.57,39.95 M12.46,35.29L17.02,39.17 M17.31,45.69L9.6,50.13 M17.31,45.69L17.02,39.17 M9.6,50.13L-10.57,39.95 M-80.4,27.61L-10.57,39.95 M14.87,25.54L12.46,35.29 M26.39,34.04L22.87,25.26 M26.39,34.04L17.02,39.17 M23.75,49.1L23.27,59.14 M11.3,59.22L9.6,50.13 M23.75,49.1L17.31,45.69 M36.08,49.98L29.41,46.3 M36.08,49.98L42.31,47.71 M42.31,47.71L43.18,38.7 M43.18,38.7L32.89,35.3 M29.41,46.3L30.41,36.17 M30.41,36.17L32.89,35.3 M23.75,49.1L29.41,46.3 M34.89,57.54L36.08,49.98 M46.71,50.92L42.31,47.71 M48.84,34.36L43.18,38.7 M37.2,24.96L32.89,35.3 M26.39,34.04L30.41,36.17" stroke="rgb(140,140,140)" stroke-width="1.3" fill="none"/>
<g filter="url(#bl1)"><ellipse cx="4" cy="13" rx="5" ry="11" fill="#000"/><ellipse cx="3" cy="56" rx="5" ry="13" fill="#000"/><ellipse cx="28" cy="17" rx="4" ry="6" fill="#000"/><ellipse cx="64" cy="31" rx="6" ry="9" fill="#000" transform="rotate(10 64 31)"/><ellipse cx="52" cy="63" rx="7" ry="6" fill="#000"/><ellipse cx="73" cy="52" rx="5" ry="7" fill="#000"/><ellipse cx="36" cy="5" rx="4" ry="4" fill="#000"/></g>
<g filter="url(#bl05)"><ellipse cx="5.12" cy="4.25" rx="5.51" ry="5.12" fill="rgb(31,31,31)" transform="rotate(2.87 5.12 4.25)" stroke="rgb(153,153,153)" stroke-width="1.4"/><ellipse cx="17.33" cy="3.79" rx="5.31" ry="5.06" fill="rgb(31,31,31)" transform="rotate(-5.31 17.33 3.79)" stroke="rgb(153,153,153)" stroke-width="1.4"/><ellipse cx="27.85" cy="3.95" rx="5.19" ry="6.32" fill="rgb(31,31,31)" transform="rotate(-30.1 27.85 3.95)" stroke="rgb(153,153,153)" stroke-width="1.4"/><ellipse cx="40.62" cy="6.64" rx="5.93" ry="5.92" fill="rgb(31,31,31)" transform="rotate(-8.27 40.62 6.64)" stroke="rgb(153,153,153)" stroke-width="1.4"/><ellipse cx="56.38" cy="3.73" rx="5.8" ry="5.46" fill="rgb(31,31,31)" transform="rotate(-28.46 56.38 3.73)" stroke="rgb(153,153,153)" stroke-width="1.4"/><ellipse cx="64.09" cy="5.04" rx="5.74" ry="5.29" fill="rgb(31,31,31)" transform="rotate(6.53 64.09 5.04)" stroke="rgb(153,153,153)" stroke-width="1.4"/><ellipse cx="78.69" cy="5.36" rx="5.37" ry="5.1" fill="rgb(31,31,31)" transform="rotate(-35.23 78.69 5.36)" stroke="rgb(153,153,153)" stroke-width="1.4"/><ellipse cx="10.53" cy="18.9" rx="5.2" ry="5.5" fill="rgb(31,31,31)" transform="rotate(6.84 10.53 18.9)" stroke="rgb(153,153,153)" stroke-width="1.4"/><ellipse cx="23.77" cy="17" rx="5.71" ry="6.12" fill="rgb(31,31,31)" transform="rotate(-20.47 23.77 17)" stroke="rgb(153,153,153)" stroke-width="1.4"/><ellipse cx="36.37" cy="18.13" rx="5.83" ry="6.17" fill="rgb(31,31,31)" transform="rotate(-16.96 36.37 18.13)" stroke="rgb(153,153,153)" stroke-width="1.4"/><ellipse cx="50.4" cy="16.09" rx="5.19" ry="6.21" fill="rgb(31,31,31)" transform="rotate(-27.84 50.4 16.09)" stroke="rgb(153,153,153)" stroke-width="1.4"/><ellipse cx="59.94" cy="15.7" rx="5.54" ry="6.22" fill="rgb(31,31,31)" transform="rotate(5.84 59.94 15.7)" stroke="rgb(153,153,153)" stroke-width="1.4"/><ellipse cx="73.88" cy="17.07" rx="5.57" ry="5.95" fill="rgb(31,31,31)" transform="rotate(6.39 73.88 17.07)" stroke="rgb(153,153,153)" stroke-width="1.4"/><ellipse cx="8.22" cy="29.87" rx="5.53" ry="5.1" fill="rgb(31,31,31)" transform="rotate(16.12 8.22 29.87)" stroke="rgb(153,153,153)" stroke-width="1.4"/><ellipse cx="18.74" cy="32.47" rx="5.75" ry="5.46" fill="rgb(31,31,31)" transform="rotate(-9.14 18.74 32.47)" stroke="rgb(153,153,153)" stroke-width="1.4"/><ellipse cx="30.84" cy="27.61" rx="5.25" ry="5.27" fill="rgb(31,31,31)" transform="rotate(-30.63 30.84 27.61)" stroke="rgb(153,153,153)" stroke-width="1.4"/><ellipse cx="39.79" cy="31.34" rx="4.78" ry="5.4" fill="rgb(31,31,31)" transform="rotate(-8.72 39.79 31.34)" stroke="rgb(153,153,153)" stroke-width="1.4"/><ellipse cx="55.86" cy="27.9" rx="5.23" ry="5.88" fill="rgb(31,31,31)" transform="rotate(30.67 55.86 27.9)" stroke="rgb(153,153,153)" stroke-width="1.4"/><ellipse cx="67.6" cy="31.82" rx="4.99" ry="5.66" fill="rgb(31,31,31)" transform="rotate(-11.3 67.6 31.82)" stroke="rgb(153,153,153)" stroke-width="1.4"/><ellipse cx="79.92" cy="32.29" rx="4.81" ry="5.28" fill="rgb(31,31,31)" transform="rotate(-21.44 79.92 32.29)" stroke="rgb(153,153,153)" stroke-width="1.4"/><ellipse cx="10.67" cy="41.92" rx="5.42" ry="5.42" fill="rgb(31,31,31)" transform="rotate(-39.67 10.67 41.92)" stroke="rgb(153,153,153)" stroke-width="1.4"/><ellipse cx="23.59" cy="41.35" rx="5.39" ry="6.52" fill="rgb(31,31,31)" transform="rotate(15.24 23.59 41.35)" stroke="rgb(153,153,153)" stroke-width="1.4"/><ellipse cx="36.08" cy="42.59" rx="5.55" ry="5.09" fill="rgb(31,31,31)" transform="rotate(31.96 36.08 42.59)" stroke="rgb(153,153,153)" stroke-width="1.4"/><ellipse cx="49.4" cy="43.87" rx="5.72" ry="5.63" fill="rgb(31,31,31)" transform="rotate(-8.08 49.4 43.87)" stroke="rgb(153,153,153)" stroke-width="1.4"/><ellipse cx="58.02" cy="42.67" rx="4.69" ry="5.11" fill="rgb(31,31,31)" transform="rotate(-23.3 58.02 42.67)" stroke="rgb(153,153,153)" stroke-width="1.4"/><ellipse cx="70.31" cy="41.2" rx="4.67" ry="5" fill="rgb(31,31,31)" transform="rotate(-27.9 70.31 41.2)" stroke="rgb(153,153,153)" stroke-width="1.4"/><ellipse cx="3.63" cy="55.87" rx="5.46" ry="5.24" fill="rgb(31,31,31)" transform="rotate(-19.82 3.63 55.87)" stroke="rgb(153,153,153)" stroke-width="1.4"/><ellipse cx="17.24" cy="53.32" rx="4.77" ry="6.36" fill="rgb(31,31,31)" transform="rotate(39.45 17.24 53.32)" stroke="rgb(153,153,153)" stroke-width="1.4"/><ellipse cx="29.83" cy="53.92" rx="4.72" ry="5.16" fill="rgb(31,31,31)" transform="rotate(-12.59 29.83 53.92)" stroke="rgb(153,153,153)" stroke-width="1.4"/><ellipse cx="40.82" cy="55.64" rx="4.83" ry="5.04" fill="rgb(31,31,31)" transform="rotate(36.08 40.82 55.64)" stroke="rgb(153,153,153)" stroke-width="1.4"/><ellipse cx="54.14" cy="52.23" rx="5.36" ry="5.04" fill="rgb(31,31,31)" transform="rotate(2.25 54.14 52.23)" stroke="rgb(153,153,153)" stroke-width="1.4"/><ellipse cx="68.39" cy="55.82" rx="5.57" ry="5.42" fill="rgb(31,31,31)" transform="rotate(-10.66 68.39 55.82)" stroke="rgb(153,153,153)" stroke-width="1.4"/><ellipse cx="76.34" cy="55.36" rx="5.35" ry="6.25" fill="rgb(31,31,31)" transform="rotate(-13.63 76.34 55.36)" stroke="rgb(153,153,153)" stroke-width="1.4"/><ellipse cx="10.62" cy="67.56" rx="5.98" ry="6.36" fill="rgb(31,31,31)" transform="rotate(24.49 10.62 67.56)" stroke="rgb(153,153,153)" stroke-width="1.4"/><ellipse cx="25.59" cy="67.2" rx="4.92" ry="5.83" fill="rgb(31,31,31)" transform="rotate(-11.55 25.59 67.2)" stroke="rgb(153,153,153)" stroke-width="1.4"/><ellipse cx="33.64" cy="63.64" rx="4.99" ry="5.41" fill="rgb(31,31,31)" transform="rotate(15.4 33.64 63.64)" stroke="rgb(153,153,153)" stroke-width="1.4"/><ellipse cx="50.28" cy="65.74" rx="5.91" ry="6.58" fill="rgb(31,31,31)" transform="rotate(36.4 50.28 65.74)" stroke="rgb(153,153,153)" stroke-width="1.4"/><ellipse cx="59.32" cy="64.6" rx="4.92" ry="5.31" fill="rgb(31,31,31)" transform="rotate(-23.65 59.32 64.6)" stroke="rgb(153,153,153)" stroke-width="1.4"/><ellipse cx="72.62" cy="68" rx="5.78" ry="5.77" fill="rgb(31,31,31)" transform="rotate(12.24 72.62 68)" stroke="rgb(153,153,153)" stroke-width="1.4"/></g>
</g></g>
<defs><filter id="pc02" x="0" y="0" width="100%" height="100%" color-interpolation-filters="sRGB"><feTurbulence type="fractalNoise" baseFrequency="0.28" numOctaves="2" seed="17" result="n0"/><feColorMatrix in="n0" type="matrix" values="2 0 0 0 -0.5 2 0 0 0 -0.5 2 0 0 0 -0.5 0 0 0 0 1" result="n"/><feTurbulence type="fractalNoise" baseFrequency="0.05" numOctaves="2" seed="117" result="c0"/><feColorMatrix in="c0" type="matrix" values="2 0 0 0 -0.5 2 0 0 0 -0.5 2 0 0 0 -0.5 0 0 0 0 1" result="c"/><feComposite in="SourceGraphic" in2="n" operator="arithmetic" k1="0.7" k2="0.65" k3="0" k4="0" result="m"/><feComposite in="m" in2="c" operator="arithmetic" k1="0.6" k2="0.7" k3="0" k4="0" result="m2"/><feGaussianBlur in="m2" stdDeviation="0.6" result="b"/><feComponentTransfer in="b"><feFuncR type="table" tableValues="0 0.006 0.011 0.017 0.022 0.028 0.034 0.039 0.045 0.051 0.056 0.062 0.068 0.073 0.079 0.084 0.09 0.096 0.101 0.107 0.112 0.118 0.124 0.129 0.135 0.141 0.146 0.152 0.158 0.163 0.169 0.174 0.18"/><feFuncG type="table" tableValues="0 0.007 0.014 0.021 0.028 0.034 0.041 0.048 0.055 0.062 0.069 0.076 0.083 0.089 0.096 0.103 0.11 0.117 0.124 0.131 0.138 0.144 0.151 0.158 0.165 0.172 0.179 0.186 0.193 0.199 0.206 0.213 0.22"/><feFuncB type="table" tableValues="0 0.031 0.062 0.094 0.125 0.156 0.188 0.219 0.25 0.281 0.312 0.344 0.375 0.406 0.438 0.469 0.5 0.531 0.562 0.594 0.625 0.656 0.688 0.719 0.75 0.781 0.812 0.844 0.875 0.906 0.938 0.969 1"/><feFuncA type="linear" slope="0" intercept="1"/></feComponentTransfer></filter></defs>
<g transform="translate(238.2,306.5)" clip-path="url(#cc)">
<g filter="url(#pc02)">
<rect x="0" y="0" width="78.6" height="71" fill="#000"/>
<g filter="url(#bl1)"><ellipse cx="8" cy="10" rx="9" ry="11" fill="rgb(92,92,92)"/><ellipse cx="12" cy="28" rx="10" ry="8" fill="rgb(92,92,92)"/><ellipse cx="10" cy="43" rx="11" ry="9" fill="rgb(92,92,92)"/><ellipse cx="15" cy="60" rx="10" ry="9" fill="rgb(92,92,92)"/><ellipse cx="31" cy="30" rx="6" ry="16" fill="rgb(92,92,92)" transform="rotate(-25 31 30)"/><ellipse cx="34" cy="14" rx="7" ry="6" fill="rgb(92,92,92)"/><ellipse cx="52" cy="7" rx="8" ry="6" fill="rgb(92,92,92)"/><ellipse cx="72" cy="13" rx="7" ry="7" fill="rgb(92,92,92)"/><ellipse cx="59" cy="25" rx="12" ry="5" fill="rgb(92,92,92)" transform="rotate(-28 59 25)"/><ellipse cx="41" cy="48" rx="7" ry="6" fill="rgb(92,92,92)"/><ellipse cx="60" cy="60" rx="19" ry="9" fill="rgb(92,92,92)" transform="rotate(-15 60 60)"/><ellipse cx="75" cy="43" rx="4" ry="12" fill="rgb(92,92,92)"/><ellipse cx="4" cy="68" rx="6" ry="4" fill="rgb(92,92,92)"/><ellipse cx="52" cy="28" rx="17" ry="1.2" fill="rgb(92,92,92)" transform="rotate(-26 52 28)"/></g>
<g filter="url(#bl05)"><ellipse cx="9" cy="11" rx="5.3" ry="5.3" fill="rgb(31,31,31)" stroke="rgb(122,122,122)" stroke-width="0.8"/><ellipse cx="12" cy="28" rx="5.8" ry="5.8" fill="rgb(31,31,31)" stroke="rgb(122,122,122)" stroke-width="0.8"/><ellipse cx="8" cy="42" rx="5.8" ry="5.3" fill="rgb(31,31,31)" stroke="rgb(122,122,122)" stroke-width="0.8"/><ellipse cx="15" cy="60" rx="5.8" ry="5.8" fill="rgb(31,31,31)" stroke="rgb(122,122,122)" stroke-width="0.8"/><ellipse cx="34" cy="14" rx="4.3" ry="4.3" fill="rgb(31,31,31)" stroke="rgb(122,122,122)" stroke-width="0.8"/><ellipse cx="52" cy="8" rx="4.3" ry="4.3" fill="rgb(31,31,31)" stroke="rgb(122,122,122)" stroke-width="0.8"/><ellipse cx="72" cy="13" rx="4.8" ry="4.8" fill="rgb(31,31,31)" stroke="rgb(122,122,122)" stroke-width="0.8"/><ellipse cx="57" cy="25" rx="4.8" ry="3.3" fill="rgb(31,31,31)" transform="rotate(-30 57 25)" stroke="rgb(122,122,122)" stroke-width="0.8"/><ellipse cx="41" cy="49" rx="4.3" ry="3.8" fill="rgb(31,31,31)" stroke="rgb(122,122,122)" stroke-width="0.8"/><ellipse cx="52" cy="62" rx="5.3" ry="4.8" fill="rgb(31,31,31)" stroke="rgb(122,122,122)" stroke-width="0.8"/><ellipse cx="67" cy="58" rx="5.3" ry="4.8" fill="rgb(31,31,31)" stroke="rgb(122,122,122)" stroke-width="0.8"/></g>
</g></g>
<defs><filter id="pc03" x="0" y="0" width="100%" height="100%" color-interpolation-filters="sRGB"><feTurbulence type="fractalNoise" baseFrequency="0.28" numOctaves="2" seed="20" result="n0"/><feColorMatrix in="n0" type="matrix" values="2 0 0 0 -0.5 2 0 0 0 -0.5 2 0 0 0 -0.5 0 0 0 0 1" result="n"/><feTurbulence type="fractalNoise" baseFrequency="0.05" numOctaves="2" seed="120" result="c0"/><feColorMatrix in="c0" type="matrix" values="2 0 0 0 -0.5 2 0 0 0 -0.5 2 0 0 0 -0.5 0 0 0 0 1" result="c"/><feComposite in="SourceGraphic" in2="n" operator="arithmetic" k1="0.7" k2="0.65" k3="0" k4="0" result="m"/><feComposite in="m" in2="c" operator="arithmetic" k1="0.6" k2="0.7" k3="0" k4="0" result="m2"/><feGaussianBlur in="m2" stdDeviation="0.6" result="b"/><feComponentTransfer in="b"><feFuncR type="table" tableValues="0 0.006 0.011 0.017 0.022 0.028 0.034 0.039 0.045 0.051 0.056 0.062 0.068 0.073 0.079 0.084 0.09 0.096 0.101 0.107 0.112 0.118 0.124 0.129 0.135 0.141 0.146 0.152 0.158 0.163 0.169 0.174 0.18"/><feFuncG type="table" tableValues="0 0.007 0.014 0.021 0.028 0.034 0.041 0.048 0.055 0.062 0.069 0.076 0.083 0.089 0.096 0.103 0.11 0.117 0.124 0.131 0.138 0.144 0.151 0.158 0.165 0.172 0.179 0.186 0.193 0.199 0.206 0.213 0.22"/><feFuncB type="table" tableValues="0 0.031 0.062 0.094 0.125 0.156 0.188 0.219 0.25 0.281 0.312 0.344 0.375 0.406 0.438 0.469 0.5 0.531 0.562 0.594 0.625 0.656 0.688 0.719 0.75 0.781 0.812 0.844 0.875 0.906 0.938 0.969 1"/><feFuncA type="linear" slope="0" intercept="1"/></feComponentTransfer></filter></defs>
<g transform="translate(318.8,306.5)" clip-path="url(#cc)">
<g filter="url(#pc03)">
<rect x="0" y="0" width="78.6" height="71" fill="#000"/>
<rect x="0" y="0" width="78.6" height="71" fill="rgb(66,66,66)"/>
<g filter="url(#bl1)"><ellipse cx="13" cy="20" rx="8.5" ry="8.5" fill="rgb(88,88,88)"/><ellipse cx="47" cy="22" rx="6.8" ry="8.5" fill="rgb(88,88,88)"/><ellipse cx="15" cy="48" rx="8.5" ry="8.5" fill="rgb(88,88,88)"/><ellipse cx="58" cy="45" rx="8.5" ry="8.5" fill="rgb(88,88,88)"/><ellipse cx="30" cy="57" rx="6.8" ry="6.8" fill="rgb(88,88,88)"/></g>
<path filter="url(#bl05)" d="M29.3,32.91L32.15,36.42 M39.22,39.85L32.15,36.42" stroke="rgb(101,101,101)" stroke-width="1.3" fill="none"/>
<g filter="url(#bl1)"><ellipse cx="10" cy="35" rx="4" ry="16" fill="#000" transform="rotate(20 10 35)"/><ellipse cx="28" cy="25" rx="4" ry="14" fill="#000" transform="rotate(30 28 25)"/><ellipse cx="38" cy="15" rx="4" ry="12" fill="#000" transform="rotate(15 38 15)"/><ellipse cx="50" cy="35" rx="3" ry="20" fill="#000" transform="rotate(25 50 35)"/><ellipse cx="65" cy="20" rx="4" ry="12" fill="#000" transform="rotate(35 65 20)"/><ellipse cx="45" cy="62" rx="5" ry="8" fill="#000" transform="rotate(30 45 62)"/><ellipse cx="60" cy="50" rx="5" ry="7" fill="#000"/><ellipse cx="25" cy="50" rx="3" ry="6" fill="#000"/><ellipse cx="74" cy="8" rx="5" ry="6" fill="#000"/></g>
<g filter="url(#bl05)"><ellipse cx="13" cy="20" rx="5.8" ry="5.8" fill="rgb(22,22,22)" stroke="rgb(110,110,110)" stroke-width="1.4"/><ellipse cx="47" cy="22" rx="4.8" ry="5.8" fill="rgb(22,22,22)" stroke="rgb(110,110,110)" stroke-width="1.4"/><ellipse cx="15" cy="48" rx="5.8" ry="5.8" fill="rgb(22,22,22)" stroke="rgb(110,110,110)" stroke-width="1.4"/><ellipse cx="58" cy="45" rx="5.8" ry="5.8" fill="rgb(22,22,22)" stroke="rgb(110,110,110)" stroke-width="1.4"/><ellipse cx="30" cy="57" rx="4.8" ry="4.8" fill="rgb(22,22,22)" stroke="rgb(110,110,110)" stroke-width="1.4"/></g>
</g></g>
<defs><filter id="pc04" x="0" y="0" width="100%" height="100%" color-interpolation-filters="sRGB"><feTurbulence type="fractalNoise" baseFrequency="0.28" numOctaves="2" seed="23" result="n0"/><feColorMatrix in="n0" type="matrix" values="2 0 0 0 -0.5 2 0 0 0 -0.5 2 0 0 0 -0.5 0 0 0 0 1" result="n"/><feTurbulence type="fractalNoise" baseFrequency="0.05" numOctaves="2" seed="123" result="c0"/><feColorMatrix in="c0" type="matrix" values="2 0 0 0 -0.5 2 0 0 0 -0.5 2 0 0 0 -0.5 0 0 0 0 1" result="c"/><feComposite in="SourceGraphic" in2="n" operator="arithmetic" k1="0.7" k2="0.65" k3="0" k4="0" result="m"/><feComposite in="m" in2="c" operator="arithmetic" k1="0.6" k2="0.7" k3="0" k4="0" result="m2"/><feGaussianBlur in="m2" stdDeviation="0.6" result="b"/><feComponentTransfer in="b"><feFuncR type="table" tableValues="0 0.006 0.011 0.017 0.022 0.028 0.034 0.039 0.045 0.051 0.056 0.062 0.068 0.073 0.079 0.084 0.09 0.096 0.101 0.107 0.112 0.118 0.124 0.129 0.135 0.141 0.146 0.152 0.158 0.163 0.169 0.174 0.18"/><feFuncG type="table" tableValues="0 0.007 0.014 0.021 0.028 0.034 0.041 0.048 0.055 0.062 0.069 0.076 0.083 0.089 0.096 0.103 0.11 0.117 0.124 0.131 0.138 0.144 0.151 0.158 0.165 0.172 0.179 0.186 0.193 0.199 0.206 0.213 0.22"/><feFuncB type="table" tableValues="0 0.031 0.062 0.094 0.125 0.156 0.188 0.219 0.25 0.281 0.312 0.344 0.375 0.406 0.438 0.469 0.5 0.531 0.562 0.594 0.625 0.656 0.688 0.719 0.75 0.781 0.812 0.844 0.875 0.906 0.938 0.969 1"/><feFuncA type="linear" slope="0" intercept="1"/></feComponentTransfer></filter></defs>
<g transform="translate(399.4,306.5)" clip-path="url(#cc)">
<g filter="url(#pc04)">
<rect x="0" y="0" width="78.6" height="71" fill="#000"/>
<rect x="0" y="0" width="78.6" height="71" fill="rgb(87,87,87)"/>
<g filter="url(#bl1)"><ellipse cx="10" cy="7" rx="8.5" ry="8.5" fill="rgb(114,114,114)"/><ellipse cx="24" cy="12" rx="10.2" ry="10.2" fill="rgb(114,114,114)"/><ellipse cx="40" cy="20" rx="10.2" ry="8.5" fill="rgb(114,114,114)"/><ellipse cx="60" cy="22" rx="10.2" ry="8.5" fill="rgb(114,114,114)"/><ellipse cx="72" cy="15" rx="6.8" ry="8.5" fill="rgb(114,114,114)"/><ellipse cx="20" cy="33" rx="11.9" ry="8.5" fill="rgb(114,114,114)"/><ellipse cx="43" cy="33" rx="8.5" ry="6.8" fill="rgb(114,114,114)"/><ellipse cx="55" cy="35" rx="8.5" ry="8.5" fill="rgb(114,114,114)"/><ellipse cx="70" cy="37" rx="8.5" ry="8.5" fill="rgb(114,114,114)"/><ellipse cx="5" cy="42" rx="8.5" ry="8.5" fill="rgb(114,114,114)"/><ellipse cx="35" cy="46" rx="10.2" ry="8.5" fill="rgb(114,114,114)"/><ellipse cx="60" cy="47" rx="8.5" ry="8.5" fill="rgb(114,114,114)"/><ellipse cx="74" cy="50" rx="6.8" ry="8.5" fill="rgb(114,114,114)"/><ellipse cx="12" cy="55" rx="8.5" ry="8.5" fill="rgb(114,114,114)"/><ellipse cx="28" cy="55" rx="10.2" ry="8.5" fill="rgb(114,114,114)"/><ellipse cx="48" cy="58" rx="8.5" ry="8.5" fill="rgb(114,114,114)"/><ellipse cx="65" cy="62" rx="8.5" ry="8.5" fill="rgb(114,114,114)"/><ellipse cx="20" cy="66" rx="8.5" ry="6.8" fill="rgb(114,114,114)"/></g>
<path filter="url(#bl05)" d="M-146.58,132L16.51,44.19 M16.51,44.19L4.44,24.06 M54.88,-96.56L12.97,20.78 M4.44,24.06L12.97,20.78 M16.51,44.19L20,45.45 M20,45.45L20,57.59 M46.08,104.28L36.08,69.29 M20,57.59L36.08,69.29 M46.08,104.28L57.39,56.2 M65.96,53.35L57.39,56.2 M20,45.45L23.42,44.21 M36.08,69.29L38.13,55.65 M38.13,55.65L23.42,44.21 M57.39,56.2L47.54,45.45 M38.13,55.65L47.54,45.45 M54.88,-96.56L50.11,-20.21 M12.97,20.78L28.16,23.67 M50.11,-20.21L28.16,23.67 M23.42,44.21L31.5,34.88 M31.5,34.88L31.5,28.81 M28.16,23.67L31.5,28.81 M50.11,-20.21L52.55,-4.55 M31.5,28.81L49.64,24.62 M52.55,-4.55L49.64,24.62 M47.54,45.45L47.55,45.14 M31.5,34.88L47.24,44.57 M47.24,44.57L47.55,45.14 M49.64,24.62L50.37,25.76 M47.24,44.57L50.37,25.76 M63.21,30.7L62.09,39.09 M63.21,30.7L70.34,25.94 M115.68,30.06L70.34,25.94 M115.68,30.06L67.79,44.79 M67.79,44.79L62.09,39.09 M47.55,45.14L62.09,39.09 M50.37,25.76L63.21,30.7 M52.55,-4.55L70.34,25.94 M65.96,53.35L67.79,44.79" stroke="rgb(133,133,133)" stroke-width="1.3" fill="none"/>
<g filter="url(#bl1)"><ellipse cx="47" cy="6" rx="22" ry="11" fill="#000"/><ellipse cx="5" cy="22" rx="6" ry="11" fill="#000"/></g>
<g filter="url(#bl05)"><ellipse cx="10" cy="7" rx="5.8" ry="5.8" fill="rgb(29,29,29)" stroke="rgb(145,145,145)" stroke-width="1.4"/><ellipse cx="24" cy="12" rx="6.8" ry="6.8" fill="rgb(29,29,29)" stroke="rgb(145,145,145)" stroke-width="1.4"/><ellipse cx="40" cy="20" rx="6.8" ry="5.8" fill="rgb(29,29,29)" stroke="rgb(145,145,145)" stroke-width="1.4"/><ellipse cx="60" cy="22" rx="6.8" ry="5.8" fill="rgb(29,29,29)" stroke="rgb(145,145,145)" stroke-width="1.4"/><ellipse cx="72" cy="15" rx="4.8" ry="5.8" fill="rgb(29,29,29)" stroke="rgb(145,145,145)" stroke-width="1.4"/><ellipse cx="20" cy="33" rx="7.8" ry="5.8" fill="rgb(29,29,29)" stroke="rgb(145,145,145)" stroke-width="1.4"/><ellipse cx="43" cy="33" rx="5.8" ry="4.8" fill="rgb(29,29,29)" stroke="rgb(145,145,145)" stroke-width="1.4"/><ellipse cx="55" cy="35" rx="5.8" ry="5.8" fill="rgb(29,29,29)" stroke="rgb(145,145,145)" stroke-width="1.4"/><ellipse cx="70" cy="37" rx="5.8" ry="5.8" fill="rgb(29,29,29)" stroke="rgb(145,145,145)" stroke-width="1.4"/><ellipse cx="5" cy="42" rx="5.8" ry="5.8" fill="rgb(29,29,29)" stroke="rgb(145,145,145)" stroke-width="1.4"/><ellipse cx="35" cy="46" rx="6.8" ry="5.8" fill="rgb(29,29,29)" stroke="rgb(145,145,145)" stroke-width="1.4"/><ellipse cx="60" cy="47" rx="5.8" ry="5.8" fill="rgb(29,29,29)" stroke="rgb(145,145,145)" stroke-width="1.4"/><ellipse cx="74" cy="50" rx="4.8" ry="5.8" fill="rgb(29,29,29)" stroke="rgb(145,145,145)" stroke-width="1.4"/><ellipse cx="12" cy="55" rx="5.8" ry="5.8" fill="rgb(29,29,29)" stroke="rgb(145,145,145)" stroke-width="1.4"/><ellipse cx="28" cy="55" rx="6.8" ry="5.8" fill="rgb(29,29,29)" stroke="rgb(145,145,145)" stroke-width="1.4"/><ellipse cx="48" cy="58" rx="5.8" ry="5.8" fill="rgb(29,29,29)" stroke="rgb(145,145,145)" stroke-width="1.4"/><ellipse cx="65" cy="62" rx="5.8" ry="5.8" fill="rgb(29,29,29)" stroke="rgb(145,145,145)" stroke-width="1.4"/><ellipse cx="20" cy="66" rx="5.8" ry="4.8" fill="rgb(29,29,29)" stroke="rgb(145,145,145)" stroke-width="1.4"/></g>
</g></g>
<defs><filter id="pc05" x="0" y="0" width="100%" height="100%" color-interpolation-filters="sRGB"><feTurbulence type="fractalNoise" baseFrequency="0.28" numOctaves="2" seed="26" result="n0"/><feColorMatrix in="n0" type="matrix" values="2 0 0 0 -0.5 2 0 0 0 -0.5 2 0 0 0 -0.5 0 0 0 0 1" result="n"/><feTurbulence type="fractalNoise" baseFrequency="0.05" numOctaves="2" seed="126" result="c0"/><feColorMatrix in="c0" type="matrix" values="2 0 0 0 -0.5 2 0 0 0 -0.5 2 0 0 0 -0.5 0 0 0 0 1" result="c"/><feComposite in="SourceGraphic" in2="n" operator="arithmetic" k1="0.7" k2="0.65" k3="0" k4="0" result="m"/><feComposite in="m" in2="c" operator="arithmetic" k1="0.6" k2="0.7" k3="0" k4="0" result="m2"/><feGaussianBlur in="m2" stdDeviation="0.6" result="b"/><feComponentTransfer in="b"><feFuncR type="table" tableValues="0 0.006 0.011 0.017 0.022 0.028 0.034 0.039 0.045 0.051 0.056 0.062 0.068 0.073 0.079 0.084 0.09 0.096 0.101 0.107 0.112 0.118 0.124 0.129 0.135 0.141 0.146 0.152 0.158 0.163 0.169 0.174 0.18"/><feFuncG type="table" tableValues="0 0.007 0.014 0.021 0.028 0.034 0.041 0.048 0.055 0.062 0.069 0.076 0.083 0.089 0.096 0.103 0.11 0.117 0.124 0.131 0.138 0.144 0.151 0.158 0.165 0.172 0.179 0.186 0.193 0.199 0.206 0.213 0.22"/><feFuncB type="table" tableValues="0 0.031 0.062 0.094 0.125 0.156 0.188 0.219 0.25 0.281 0.312 0.344 0.375 0.406 0.438 0.469 0.5 0.531 0.562 0.594 0.625 0.656 0.688 0.719 0.75 0.781 0.812 0.844 0.875 0.906 0.938 0.969 1"/><feFuncA type="linear" slope="0" intercept="1"/></feComponentTransfer></filter></defs>
<g transform="translate(480,306.5)" clip-path="url(#cc)">
<g filter="url(#pc05)">
<rect x="0" y="0" width="78.6" height="71" fill="#000"/>
<rect x="0" y="0" width="78.6" height="71" fill="rgb(73,73,73)"/>
<g filter="url(#bl1)"><ellipse cx="33" cy="22" rx="11.9" ry="10.2" fill="rgb(97,97,97)"/><ellipse cx="43" cy="40" rx="11.9" ry="10.2" fill="rgb(97,97,97)"/><ellipse cx="66" cy="38" rx="11.9" ry="10.2" fill="rgb(97,97,97)"/><ellipse cx="24" cy="56" rx="10.2" ry="8.5" fill="rgb(97,97,97)"/><ellipse cx="40" cy="57" rx="8.5" ry="6.8" fill="rgb(97,97,97)"/><ellipse cx="68" cy="13" rx="10.2" ry="10.2" fill="rgb(97,97,97)"/><ellipse cx="55" cy="52" rx="8.5" ry="8.5" fill="rgb(97,97,97)"/></g>
<path filter="url(#bl05)" d="M54.62,40.38L45.75,49.25 M54.62,40.38L53.23,24.4 M51.98,23.24L53.23,24.4 M51.98,23.24L25.18,38.12 M45.75,49.25L32.6,46.93 M25.18,38.12L32.6,46.93" stroke="rgb(112,112,112)" stroke-width="1.3" fill="none"/>
<g filter="url(#bl1)"><ellipse cx="17" cy="10" rx="5" ry="9" fill="#000" transform="rotate(15 17 10)"/><ellipse cx="35" cy="8" rx="10" ry="8" fill="#000"/><ellipse cx="58" cy="16" rx="5" ry="4" fill="#000"/><ellipse cx="71" cy="26" rx="6" ry="7" fill="#000"/><ellipse cx="17" cy="38" rx="8" ry="10" fill="#000"/><ellipse cx="5" cy="62" rx="10" ry="13" fill="#000"/><ellipse cx="55" cy="65" rx="8" ry="6" fill="#000"/><ellipse cx="44" cy="5" rx="5" ry="5" fill="#000"/></g>
<g filter="url(#bl05)"><ellipse cx="33" cy="22" rx="7.8" ry="6.8" fill="rgb(24,24,24)" stroke="rgb(122,122,122)" stroke-width="1.4"/><ellipse cx="43" cy="40" rx="7.8" ry="6.8" fill="rgb(24,24,24)" stroke="rgb(122,122,122)" stroke-width="1.4"/><ellipse cx="66" cy="38" rx="7.8" ry="6.8" fill="rgb(24,24,24)" stroke="rgb(122,122,122)" stroke-width="1.4"/><ellipse cx="24" cy="56" rx="6.8" ry="5.8" fill="rgb(24,24,24)" stroke="rgb(122,122,122)" stroke-width="1.4"/><ellipse cx="40" cy="57" rx="5.8" ry="4.8" fill="rgb(24,24,24)" stroke="rgb(122,122,122)" stroke-width="1.4"/><ellipse cx="68" cy="13" rx="6.8" ry="6.8" fill="rgb(24,24,24)" stroke="rgb(122,122,122)" stroke-width="1.4"/><ellipse cx="55" cy="52" rx="5.8" ry="5.8" fill="rgb(24,24,24)" stroke="rgb(122,122,122)" stroke-width="1.4"/></g>
</g></g>
<defs><filter id="pc10" x="0" y="0" width="100%" height="100%" color-interpolation-filters="sRGB"><feTurbulence type="fractalNoise" baseFrequency="0.5" numOctaves="2" seed="28" result="n0"/><feColorMatrix in="n0" type="matrix" values="3 0 0 0 -1 3 0 0 0 -1 3 0 0 0 -1 0 0 0 0 1" result="n"/><feTurbulence type="fractalNoise" baseFrequency="0.05" numOctaves="2" seed="128" result="c0"/><feColorMatrix in="c0" type="matrix" values="2 0 0 0 -0.5 2 0 0 0 -0.5 2 0 0 0 -0.5 0 0 0 0 1" result="c"/><feComposite in="SourceGraphic" in2="n" operator="arithmetic" k1="1.7" k2="0.15" k3="0" k4="0" result="m"/><feComposite in="m" in2="c" operator="arithmetic" k1="0.6" k2="0.7" k3="0" k4="0" result="m2"/><feGaussianBlur in="m2" stdDeviation="0.45" result="b"/><feComponentTransfer in="b"><feFuncR type="table" tableValues="0 0.008 0.016 0.023 0.031 0.039 0.047 0.055 0.062 0.07 0.078 0.086 0.094 0.102 0.109 0.117 0.125 0.133 0.141 0.148 0.156 0.164 0.172 0.18 0.188 0.195 0.203 0.211 0.219 0.227 0.234 0.242 0.25"/><feFuncG type="table" tableValues="0 0.031 0.062 0.094 0.125 0.156 0.188 0.219 0.25 0.281 0.312 0.344 0.375 0.406 0.438 0.469 0.5 0.531 0.562 0.594 0.625 0.656 0.688 0.719 0.75 0.781 0.812 0.844 0.875 0.906 0.938 0.969 1"/><feFuncB type="table" tableValues="0 0.008 0.016 0.023 0.031 0.039 0.047 0.055 0.062 0.07 0.078 0.086 0.094 0.102 0.109 0.117 0.125 0.133 0.141 0.148 0.156 0.164 0.172 0.18 0.188 0.195 0.203 0.211 0.219 0.227 0.234 0.242 0.25"/><feFuncA type="linear" slope="0" intercept="1"/></feComponentTransfer></filter></defs>
<g transform="translate(77,379.5)" clip-path="url(#cc)">
<g filter="url(#pc10)">
<rect x="0" y="0" width="78.6" height="71" fill="#000"/>
<rect x="0" y="0" width="78.6" height="71" fill="rgb(15,15,15)"/>
<g filter="url(#bl1)"><ellipse cx="7" cy="15" rx="10.2" ry="8.5" fill="rgb(24,24,24)"/><ellipse cx="18" cy="22" rx="8.5" ry="6.8" fill="rgb(24,24,24)"/><ellipse cx="5" cy="31" rx="8.5" ry="6.8" fill="rgb(24,24,24)"/><ellipse cx="34" cy="34" rx="10.2" ry="8.5" fill="rgb(24,24,24)"/><ellipse cx="43" cy="22" rx="6.8" ry="6.8" fill="rgb(24,24,24)"/><ellipse cx="54" cy="34" rx="10.2" ry="8.5" fill="rgb(24,24,24)"/><ellipse cx="61" cy="39" rx="6.8" ry="8.5" fill="rgb(24,24,24)"/><ellipse cx="66" cy="21" rx="10.2" ry="11.9" fill="rgb(24,24,24)"/><ellipse cx="53" cy="51" rx="8.5" ry="8.5" fill="rgb(24,24,24)"/><ellipse cx="12" cy="46" rx="10.2" ry="8.5" fill="rgb(24,24,24)"/><ellipse cx="21" cy="55" rx="8.5" ry="6.8" fill="rgb(24,24,24)"/><ellipse cx="56" cy="63" rx="10.2" ry="8.5" fill="rgb(24,24,24)"/><ellipse cx="24" cy="47" rx="8.5" ry="6.8" fill="rgb(24,24,24)"/><ellipse cx="44" cy="44" rx="8.5" ry="6.8" fill="rgb(24,24,24)"/></g>
<path filter="url(#bl05)" d="M38.02,61.12L38,61 M38,61L35.56,55.9 M17.77,49.23L35.56,55.9 M38,61L52.44,42.44 M44,34L52.44,42.44 M44,34L33.8,44.2 M35.56,55.9L33.8,44.2 M30.5,-9.79L30.5,22 M30.5,-9.79L9.37,23.42 M30.5,22L21.15,34.46 M9.37,23.42L17.05,34.51 M21.15,34.46L18.96,34.99 M17.05,34.51L18.96,34.99 M54.54,22.46L44,32.12 M44,32.12L30.5,22 M49,-104.94L54.54,22.46 M49,-104.94L30.5,-9.79 M44,32.12L44,34 M33.8,44.2L21.15,34.46 M17.77,49.23L18.96,34.99 M62.37,29.69L53.23,42.48 M53.23,42.48L69.41,53.27 M54.54,22.46L62.37,29.69 M52.44,42.44L53.23,42.48 M38.02,61.12L69.41,53.27" stroke="rgb(26,26,26)" stroke-width="1.3" fill="none"/>
<g filter="url(#bl1)"><ellipse cx="29" cy="10" rx="14" ry="9" fill="#000" transform="rotate(-10 29 10)"/><ellipse cx="58" cy="12" rx="6" ry="12" fill="#000" transform="rotate(35 58 12)"/><ellipse cx="6" cy="64" rx="10" ry="8" fill="#000"/><ellipse cx="36" cy="58" rx="13" ry="9" fill="#000" transform="rotate(-25 36 58)"/><ellipse cx="75" cy="45" rx="5" ry="18" fill="#000"/><ellipse cx="3" cy="5" rx="4" ry="5" fill="#000"/><ellipse cx="12" cy="38" rx="8" ry="3" fill="#000" transform="rotate(10 12 38)"/></g>
<g filter="url(#bl05)"><ellipse cx="7" cy="15" rx="6.8" ry="5.8" fill="rgb(5,5,5)" stroke="rgb(26,26,26)" stroke-width="1.4"/><ellipse cx="18" cy="22" rx="5.8" ry="4.8" fill="rgb(5,5,5)" stroke="rgb(26,26,26)" stroke-width="1.4"/><ellipse cx="5" cy="31" rx="5.8" ry="4.8" fill="rgb(5,5,5)" stroke="rgb(26,26,26)" stroke-width="1.4"/><ellipse cx="34" cy="34" rx="6.8" ry="5.8" fill="rgb(5,5,5)" stroke="rgb(26,26,26)" stroke-width="1.4"/><ellipse cx="43" cy="22" rx="4.8" ry="4.8" fill="rgb(5,5,5)" stroke="rgb(26,26,26)" stroke-width="1.4"/><ellipse cx="54" cy="34" rx="6.8" ry="5.8" fill="rgb(5,5,5)" stroke="rgb(26,26,26)" stroke-width="1.4"/><ellipse cx="61" cy="39" rx="4.8" ry="5.8" fill="rgb(5,5,5)" stroke="rgb(26,26,26)" stroke-width="1.4"/><ellipse cx="66" cy="21" rx="6.8" ry="7.8" fill="rgb(5,5,5)" stroke="rgb(26,26,26)" stroke-width="1.4"/><ellipse cx="53" cy="51" rx="5.8" ry="5.8" fill="rgb(5,5,5)" stroke="rgb(26,26,26)" stroke-width="1.4"/><ellipse cx="12" cy="46" rx="6.8" ry="5.8" fill="rgb(5,5,5)" stroke="rgb(26,26,26)" stroke-width="1.4"/><ellipse cx="21" cy="55" rx="5.8" ry="4.8" fill="rgb(5,5,5)" stroke="rgb(26,26,26)" stroke-width="1.4"/><ellipse cx="56" cy="63" rx="6.8" ry="5.8" fill="rgb(5,5,5)" stroke="rgb(26,26,26)" stroke-width="1.4"/><ellipse cx="24" cy="47" rx="5.8" ry="4.8" fill="rgb(5,5,5)" stroke="rgb(26,26,26)" stroke-width="1.4"/><ellipse cx="44" cy="44" rx="5.8" ry="4.8" fill="rgb(5,5,5)" stroke="rgb(26,26,26)" stroke-width="1.4"/></g>
</g></g>
<defs><filter id="pc11" x="0" y="0" width="100%" height="100%" color-interpolation-filters="sRGB"><feTurbulence type="fractalNoise" baseFrequency="0.5" numOctaves="2" seed="31" result="n0"/><feColorMatrix in="n0" type="matrix" values="3 0 0 0 -1 3 0 0 0 -1 3 0 0 0 -1 0 0 0 0 1" result="n"/><feTurbulence type="fractalNoise" baseFrequency="0.05" numOctaves="2" seed="131" result="c0"/><feColorMatrix in="c0" type="matrix" values="2 0 0 0 -0.5 2 0 0 0 -0.5 2 0 0 0 -0.5 0 0 0 0 1" result="c"/><feComposite in="SourceGraphic" in2="n" operator="arithmetic" k1="1.7" k2="0.15" k3="0" k4="0" result="m"/><feComposite in="m" in2="c" operator="arithmetic" k1="0.6" k2="0.7" k3="0" k4="0" result="m2"/><feGaussianBlur in="m2" stdDeviation="0.45" result="b"/><feComponentTransfer in="b"><feFuncR type="table" tableValues="0 0.008 0.016 0.023 0.031 0.039 0.047 0.055 0.062 0.07 0.078 0.086 0.094 0.102 0.109 0.117 0.125 0.133 0.141 0.148 0.156 0.164 0.172 0.18 0.188 0.195 0.203 0.211 0.219 0.227 0.234 0.242 0.25"/><feFuncG type="table" tableValues="0 0.031 0.062 0.094 0.125 0.156 0.188 0.219 0.25 0.281 0.312 0.344 0.375 0.406 0.438 0.469 0.5 0.531 0.562 0.594 0.625 0.656 0.688 0.719 0.75 0.781 0.812 0.844 0.875 0.906 0.938 0.969 1"/><feFuncB type="table" tableValues="0 0.008 0.016 0.023 0.031 0.039 0.047 0.055 0.062 0.07 0.078 0.086 0.094 0.102 0.109 0.117 0.125 0.133 0.141 0.148 0.156 0.164 0.172 0.18 0.188 0.195 0.203 0.211 0.219 0.227 0.234 0.242 0.25"/><feFuncA type="linear" slope="0" intercept="1"/></feComponentTransfer></filter></defs>
<g transform="translate(157.6,379.5)" clip-path="url(#cc)">
<g filter="url(#pc11)">
<rect x="0" y="0" width="78.6" height="71" fill="#000"/>
<rect x="0" y="0" width="78.6" height="71" fill="rgb(18,18,18)"/>
<g filter="url(#bl1)"><ellipse cx="5.12" cy="4.25" rx="8.01" ry="7.34" fill="rgb(27,27,27)" transform="rotate(2.87 5.12 4.25)"/><ellipse cx="17.33" cy="3.79" rx="7.67" ry="7.24" fill="rgb(27,27,27)" transform="rotate(-5.31 17.33 3.79)"/><ellipse cx="27.85" cy="3.95" rx="7.47" ry="9.39" fill="rgb(27,27,27)" transform="rotate(-30.1 27.85 3.95)"/><ellipse cx="40.62" cy="6.64" rx="8.72" ry="8.71" fill="rgb(27,27,27)" transform="rotate(-8.27 40.62 6.64)"/><ellipse cx="56.38" cy="3.73" rx="8.5" ry="7.93" fill="rgb(27,27,27)" transform="rotate(-28.46 56.38 3.73)"/><ellipse cx="64.09" cy="5.04" rx="8.4" ry="7.63" fill="rgb(27,27,27)" transform="rotate(6.53 64.09 5.04)"/><ellipse cx="78.69" cy="5.36" rx="7.76" ry="7.31" fill="rgb(27,27,27)" transform="rotate(-35.23 78.69 5.36)"/><ellipse cx="10.53" cy="18.9" rx="7.48" ry="7.99" fill="rgb(27,27,27)" transform="rotate(6.84 10.53 18.9)"/><ellipse cx="23.77" cy="17" rx="8.35" ry="9.04" fill="rgb(27,27,27)" transform="rotate(-20.47 23.77 17)"/><ellipse cx="36.37" cy="18.13" rx="8.54" ry="9.12" fill="rgb(27,27,27)" transform="rotate(-16.96 36.37 18.13)"/><ellipse cx="50.4" cy="16.09" rx="7.46" ry="9.2" fill="rgb(27,27,27)" transform="rotate(-27.84 50.4 16.09)"/><ellipse cx="59.94" cy="15.7" rx="8.05" ry="9.22" fill="rgb(27,27,27)" transform="rotate(5.84 59.94 15.7)"/><ellipse cx="73.88" cy="17.07" rx="8.11" ry="8.76" fill="rgb(27,27,27)" transform="rotate(6.39 73.88 17.07)"/><ellipse cx="8.22" cy="29.87" rx="8.04" ry="7.31" fill="rgb(27,27,27)" transform="rotate(16.12 8.22 29.87)"/><ellipse cx="18.74" cy="32.47" rx="8.42" ry="7.91" fill="rgb(27,27,27)" transform="rotate(-9.14 18.74 32.47)"/><ellipse cx="30.84" cy="27.61" rx="7.56" ry="7.6" fill="rgb(27,27,27)" transform="rotate(-30.63 30.84 27.61)"/><ellipse cx="39.79" cy="31.34" rx="6.77" ry="7.81" fill="rgb(27,27,27)" transform="rotate(-8.72 39.79 31.34)"/><ellipse cx="55.86" cy="27.9" rx="7.53" ry="8.63" fill="rgb(27,27,27)" transform="rotate(30.67 55.86 27.9)"/><ellipse cx="67.6" cy="31.82" rx="7.12" ry="8.27" fill="rgb(27,27,27)" transform="rotate(-11.3 67.6 31.82)"/><ellipse cx="79.92" cy="32.29" rx="6.82" ry="7.62" fill="rgb(27,27,27)" transform="rotate(-21.44 79.92 32.29)"/><ellipse cx="10.67" cy="41.92" rx="7.86" ry="7.85" fill="rgb(27,27,27)" transform="rotate(-39.67 10.67 41.92)"/><ellipse cx="23.59" cy="41.35" rx="7.81" ry="9.73" fill="rgb(27,27,27)" transform="rotate(15.24 23.59 41.35)"/><ellipse cx="36.08" cy="42.59" rx="8.07" ry="7.29" fill="rgb(27,27,27)" transform="rotate(31.96 36.08 42.59)"/><ellipse cx="49.4" cy="43.87" rx="8.36" ry="8.21" fill="rgb(27,27,27)" transform="rotate(-8.08 49.4 43.87)"/><ellipse cx="58.02" cy="42.67" rx="6.61" ry="7.32" fill="rgb(27,27,27)" transform="rotate(-23.3 58.02 42.67)"/><ellipse cx="70.31" cy="41.2" rx="6.59" ry="7.14" fill="rgb(27,27,27)" transform="rotate(-27.9 70.31 41.2)"/><ellipse cx="3.63" cy="55.87" rx="7.92" ry="7.54" fill="rgb(27,27,27)" transform="rotate(-19.82 3.63 55.87)"/><ellipse cx="17.24" cy="53.32" rx="6.75" ry="9.45" fill="rgb(27,27,27)" transform="rotate(39.45 17.24 53.32)"/><ellipse cx="29.83" cy="53.92" rx="6.66" ry="7.42" fill="rgb(27,27,27)" transform="rotate(-12.59 29.83 53.92)"/><ellipse cx="40.82" cy="55.64" rx="6.84" ry="7.2" fill="rgb(27,27,27)" transform="rotate(36.08 40.82 55.64)"/><ellipse cx="54.14" cy="52.23" rx="7.75" ry="7.21" fill="rgb(27,27,27)" transform="rotate(2.25 54.14 52.23)"/><ellipse cx="68.39" cy="55.82" rx="8.12" ry="7.85" fill="rgb(27,27,27)" transform="rotate(-10.66 68.39 55.82)"/><ellipse cx="76.34" cy="55.36" rx="7.73" ry="9.26" fill="rgb(27,27,27)" transform="rotate(-13.63 76.34 55.36)"/><ellipse cx="10.62" cy="67.56" rx="8.8" ry="9.46" fill="rgb(27,27,27)" transform="rotate(24.49 10.62 67.56)"/><ellipse cx="25.59" cy="67.2" rx="7" ry="8.55" fill="rgb(27,27,27)" transform="rotate(-11.55 25.59 67.2)"/><ellipse cx="33.64" cy="63.64" rx="7.13" ry="7.84" fill="rgb(27,27,27)" transform="rotate(15.4 33.64 63.64)"/><ellipse cx="50.28" cy="65.74" rx="8.69" ry="9.83" fill="rgb(27,27,27)" transform="rotate(36.4 50.28 65.74)"/><ellipse cx="59.32" cy="64.6" rx="7" ry="7.68" fill="rgb(27,27,27)" transform="rotate(-23.65 59.32 64.6)"/><ellipse cx="72.62" cy="68" rx="8.46" ry="8.44" fill="rgb(27,27,27)" transform="rotate(12.24 72.62 68)"/></g>
<path filter="url(#bl05)" d="M93.24,18.19L74,25.83 M93.24,18.19L71.31,9.17 M74,25.83L66.3,22.56 M66.3,22.56L67.3,12.42 M71.31,9.17L67.3,12.42 M73.06,-71.11L71.31,9.17 M73.06,-71.11L59.39,9.35 M59.39,9.35L67.3,12.42 M59.39,9.35L54.96,10.67 M54.96,10.67L48.98,7.77 M41.85,-30.93L48.98,7.77 M54.96,10.67L55.38,20.96 M66.3,22.56L63.76,23.76 M63.76,23.76L55.38,20.96 M74,25.83L73.64,35.15 M73.64,35.15L82.28,44.47 M-135.37,146.92L11.3,59.22 M11.3,59.22L17.98,62.33 M82.28,44.47L71.98,48.85 M71.98,48.85L72.68,61.15 M58.57,95.24L54.09,59.52 M58.57,95.24L66.76,63.21 M54.09,59.52L60.57,56.81 M60.57,56.81L66.76,63.21 M72.68,61.15L66.76,63.21 M71.98,48.85L64.88,47.92 M60.57,56.81L62.29,49.97 M62.29,49.97L64.88,47.92 M73.64,35.15L63.7,38.03 M64.88,47.92L63.7,38.03 M63.76,23.76L60.07,34.83 M60.07,34.83L63.7,38.03 M54.09,59.52L48.5,57.92 M48.5,57.92L42.05,63.97 M39.15,86.99L42.05,63.97 M11.46,10.24L16.36,12.44 M22.5,9.44L16.36,12.44 M39.15,86.99L27.43,60.47 M42.05,63.97L34.89,57.54 M34.89,57.54L27.43,60.47 M17.98,62.33L23.27,59.14 M23.27,59.14L27.43,60.47 M11.46,10.24L-13.71,19.53 M-80.4,27.61L-13.71,19.53 M16.36,12.44L17.97,23.66 M17.97,23.66L14.87,25.54 M-13.71,19.53L14.87,25.54 M44.26,23.13L37.2,24.96 M44.26,23.13L42.94,14.02 M37.2,24.96L29.79,20.65 M42.94,14.02L33.16,10.41 M29.79,20.65L30.57,11.97 M33.16,10.41L30.57,11.97 M48.98,7.77L42.94,14.02 M55.38,20.96L46.82,24.91 M46.82,24.91L44.26,23.13 M41.85,-30.93L33.16,10.41 M22.87,25.26L17.97,23.66 M22.87,25.26L29.79,20.65 M22.5,9.44L30.57,11.97 M62.29,49.97L54.18,46.68 M60.07,34.83L52.68,35.91 M54.18,46.68L52.68,35.91 M48.5,57.92L46.71,50.92 M54.18,46.68L46.71,50.92 M46.82,24.91L48.84,34.36 M52.68,35.91L48.84,34.36 M12.46,35.29L-10.57,39.95 M12.46,35.29L17.02,39.17 M17.31,45.69L9.6,50.13 M17.31,45.69L17.02,39.17 M9.6,50.13L-10.57,39.95 M-80.4,27.61L-10.57,39.95 M14.87,25.54L12.46,35.29 M26.39,34.04L22.87,25.26 M26.39,34.04L17.02,39.17 M23.75,49.1L23.27,59.14 M11.3,59.22L9.6,50.13 M23.75,49.1L17.31,45.69 M36.08,49.98L29.41,46.3 M36.08,49.98L42.31,47.71 M42.31,47.71L43.18,38.7 M43.18,38.7L32.89,35.3 M29.41,46.3L30.41,36.17 M30.41,36.17L32.89,35.3 M23.75,49.1L29.41,46.3 M34.89,57.54L36.08,49.98 M46.71,50.92L42.31,47.71 M48.84,34.36L43.18,38.7 M37.2,24.96L32.89,35.3 M26.39,34.04L30.41,36.17" stroke="rgb(28,28,28)" stroke-width="1.3" fill="none"/>
<g filter="url(#bl1)"><ellipse cx="4" cy="13" rx="5" ry="11" fill="#000"/><ellipse cx="3" cy="56" rx="5" ry="13" fill="#000"/><ellipse cx="28" cy="17" rx="4" ry="6" fill="#000"/><ellipse cx="64" cy="31" rx="6" ry="9" fill="#000" transform="rotate(10 64 31)"/><ellipse cx="52" cy="63" rx="7" ry="6" fill="#000"/><ellipse cx="73" cy="52" rx="5" ry="7" fill="#000"/><ellipse cx="36" cy="5" rx="4" ry="4" fill="#000"/></g>
<g filter="url(#bl05)"><ellipse cx="5.12" cy="4.25" rx="5.51" ry="5.12" fill="rgb(5,5,5)" transform="rotate(2.87 5.12 4.25)" stroke="rgb(28,28,28)" stroke-width="1.4"/><ellipse cx="17.33" cy="3.79" rx="5.31" ry="5.06" fill="rgb(5,5,5)" transform="rotate(-5.31 17.33 3.79)" stroke="rgb(28,28,28)" stroke-width="1.4"/><ellipse cx="27.85" cy="3.95" rx="5.19" ry="6.32" fill="rgb(5,5,5)" transform="rotate(-30.1 27.85 3.95)" stroke="rgb(28,28,28)" stroke-width="1.4"/><ellipse cx="40.62" cy="6.64" rx="5.93" ry="5.92" fill="rgb(5,5,5)" transform="rotate(-8.27 40.62 6.64)" stroke="rgb(28,28,28)" stroke-width="1.4"/><ellipse cx="56.38" cy="3.73" rx="5.8" ry="5.46" fill="rgb(5,5,5)" transform="rotate(-28.46 56.38 3.73)" stroke="rgb(28,28,28)" stroke-width="1.4"/><ellipse cx="64.09" cy="5.04" rx="5.74" ry="5.29" fill="rgb(5,5,5)" transform="rotate(6.53 64.09 5.04)" stroke="rgb(28,28,28)" stroke-width="1.4"/><ellipse cx="78.69" cy="5.36" rx="5.37" ry="5.1" fill="rgb(5,5,5)" transform="rotate(-35.23 78.69 5.36)" stroke="rgb(28,28,28)" stroke-width="1.4"/><ellipse cx="10.53" cy="18.9" rx="5.2" ry="5.5" fill="rgb(5,5,5)" transform="rotate(6.84 10.53 18.9)" stroke="rgb(28,28,28)" stroke-width="1.4"/><ellipse cx="23.77" cy="17" rx="5.71" ry="6.12" fill="rgb(5,5,5)" transform="rotate(-20.47 23.77 17)" stroke="rgb(28,28,28)" stroke-width="1.4"/><ellipse cx="36.37" cy="18.13" rx="5.83" ry="6.17" fill="rgb(5,5,5)" transform="rotate(-16.96 36.37 18.13)" stroke="rgb(28,28,28)" stroke-width="1.4"/><ellipse cx="50.4" cy="16.09" rx="5.19" ry="6.21" fill="rgb(5,5,5)" transform="rotate(-27.84 50.4 16.09)" stroke="rgb(28,28,28)" stroke-width="1.4"/><ellipse cx="59.94" cy="15.7" rx="5.54" ry="6.22" fill="rgb(5,5,5)" transform="rotate(5.84 59.94 15.7)" stroke="rgb(28,28,28)" stroke-width="1.4"/><ellipse cx="73.88" cy="17.07" rx="5.57" ry="5.95" fill="rgb(5,5,5)" transform="rotate(6.39 73.88 17.07)" stroke="rgb(28,28,28)" stroke-width="1.4"/><ellipse cx="8.22" cy="29.87" rx="5.53" ry="5.1" fill="rgb(5,5,5)" transform="rotate(16.12 8.22 29.87)" stroke="rgb(28,28,28)" stroke-width="1.4"/><ellipse cx="18.74" cy="32.47" rx="5.75" ry="5.46" fill="rgb(5,5,5)" transform="rotate(-9.14 18.74 32.47)" stroke="rgb(28,28,28)" stroke-width="1.4"/><ellipse cx="30.84" cy="27.61" rx="5.25" ry="5.27" fill="rgb(5,5,5)" transform="rotate(-30.63 30.84 27.61)" stroke="rgb(28,28,28)" stroke-width="1.4"/><ellipse cx="39.79" cy="31.34" rx="4.78" ry="5.4" fill="rgb(5,5,5)" transform="rotate(-8.72 39.79 31.34)" stroke="rgb(28,28,28)" stroke-width="1.4"/><ellipse cx="55.86" cy="27.9" rx="5.23" ry="5.88" fill="rgb(5,5,5)" transform="rotate(30.67 55.86 27.9)" stroke="rgb(28,28,28)" stroke-width="1.4"/><ellipse cx="67.6" cy="31.82" rx="4.99" ry="5.66" fill="rgb(5,5,5)" transform="rotate(-11.3 67.6 31.82)" stroke="rgb(28,28,28)" stroke-width="1.4"/><ellipse cx="79.92" cy="32.29" rx="4.81" ry="5.28" fill="rgb(5,5,5)" transform="rotate(-21.44 79.92 32.29)" stroke="rgb(28,28,28)" stroke-width="1.4"/><ellipse cx="10.67" cy="41.92" rx="5.42" ry="5.42" fill="rgb(5,5,5)" transform="rotate(-39.67 10.67 41.92)" stroke="rgb(28,28,28)" stroke-width="1.4"/><ellipse cx="23.59" cy="41.35" rx="5.39" ry="6.52" fill="rgb(5,5,5)" transform="rotate(15.24 23.59 41.35)" stroke="rgb(28,28,28)" stroke-width="1.4"/><ellipse cx="36.08" cy="42.59" rx="5.55" ry="5.09" fill="rgb(5,5,5)" transform="rotate(31.96 36.08 42.59)" stroke="rgb(28,28,28)" stroke-width="1.4"/><ellipse cx="49.4" cy="43.87" rx="5.72" ry="5.63" fill="rgb(5,5,5)" transform="rotate(-8.08 49.4 43.87)" stroke="rgb(28,28,28)" stroke-width="1.4"/><ellipse cx="58.02" cy="42.67" rx="4.69" ry="5.11" fill="rgb(5,5,5)" transform="rotate(-23.3 58.02 42.67)" stroke="rgb(28,28,28)" stroke-width="1.4"/><ellipse cx="70.31" cy="41.2" rx="4.67" ry="5" fill="rgb(5,5,5)" transform="rotate(-27.9 70.31 41.2)" stroke="rgb(28,28,28)" stroke-width="1.4"/><ellipse cx="3.63" cy="55.87" rx="5.46" ry="5.24" fill="rgb(5,5,5)" transform="rotate(-19.82 3.63 55.87)" stroke="rgb(28,28,28)" stroke-width="1.4"/><ellipse cx="17.24" cy="53.32" rx="4.77" ry="6.36" fill="rgb(5,5,5)" transform="rotate(39.45 17.24 53.32)" stroke="rgb(28,28,28)" stroke-width="1.4"/><ellipse cx="29.83" cy="53.92" rx="4.72" ry="5.16" fill="rgb(5,5,5)" transform="rotate(-12.59 29.83 53.92)" stroke="rgb(28,28,28)" stroke-width="1.4"/><ellipse cx="40.82" cy="55.64" rx="4.83" ry="5.04" fill="rgb(5,5,5)" transform="rotate(36.08 40.82 55.64)" stroke="rgb(28,28,28)" stroke-width="1.4"/><ellipse cx="54.14" cy="52.23" rx="5.36" ry="5.04" fill="rgb(5,5,5)" transform="rotate(2.25 54.14 52.23)" stroke="rgb(28,28,28)" stroke-width="1.4"/><ellipse cx="68.39" cy="55.82" rx="5.57" ry="5.42" fill="rgb(5,5,5)" transform="rotate(-10.66 68.39 55.82)" stroke="rgb(28,28,28)" stroke-width="1.4"/><ellipse cx="76.34" cy="55.36" rx="5.35" ry="6.25" fill="rgb(5,5,5)" transform="rotate(-13.63 76.34 55.36)" stroke="rgb(28,28,28)" stroke-width="1.4"/><ellipse cx="10.62" cy="67.56" rx="5.98" ry="6.36" fill="rgb(5,5,5)" transform="rotate(24.49 10.62 67.56)" stroke="rgb(28,28,28)" stroke-width="1.4"/><ellipse cx="25.59" cy="67.2" rx="4.92" ry="5.83" fill="rgb(5,5,5)" transform="rotate(-11.55 25.59 67.2)" stroke="rgb(28,28,28)" stroke-width="1.4"/><ellipse cx="33.64" cy="63.64" rx="4.99" ry="5.41" fill="rgb(5,5,5)" transform="rotate(15.4 33.64 63.64)" stroke="rgb(28,28,28)" stroke-width="1.4"/><ellipse cx="50.28" cy="65.74" rx="5.91" ry="6.58" fill="rgb(5,5,5)" transform="rotate(36.4 50.28 65.74)" stroke="rgb(28,28,28)" stroke-width="1.4"/><ellipse cx="59.32" cy="64.6" rx="4.92" ry="5.31" fill="rgb(5,5,5)" transform="rotate(-23.65 59.32 64.6)" stroke="rgb(28,28,28)" stroke-width="1.4"/><ellipse cx="72.62" cy="68" rx="5.78" ry="5.77" fill="rgb(5,5,5)" transform="rotate(12.24 72.62 68)" stroke="rgb(28,28,28)" stroke-width="1.4"/></g>
</g></g>
<defs><filter id="pc12" x="0" y="0" width="100%" height="100%" color-interpolation-filters="sRGB"><feTurbulence type="fractalNoise" baseFrequency="0.5" numOctaves="2" seed="34" result="n0"/><feColorMatrix in="n0" type="matrix" values="3 0 0 0 -1 3 0 0 0 -1 3 0 0 0 -1 0 0 0 0 1" result="n"/><feTurbulence type="fractalNoise" baseFrequency="0.05" numOctaves="2" seed="134" result="c0"/><feColorMatrix in="c0" type="matrix" values="2 0 0 0 -0.5 2 0 0 0 -0.5 2 0 0 0 -0.5 0 0 0 0 1" result="c"/><feComposite in="SourceGraphic" in2="n" operator="arithmetic" k1="1.7" k2="0.15" k3="0" k4="0" result="m"/><feComposite in="m" in2="c" operator="arithmetic" k1="0.6" k2="0.7" k3="0" k4="0" result="m2"/><feGaussianBlur in="m2" stdDeviation="0.45" result="b"/><feComponentTransfer in="b"><feFuncR type="table" tableValues="0 0.008 0.016 0.023 0.031 0.039 0.047 0.055 0.062 0.07 0.078 0.086 0.094 0.102 0.109 0.117 0.125 0.133 0.141 0.148 0.156 0.164 0.172 0.18 0.188 0.195 0.203 0.211 0.219 0.227 0.234 0.242 0.25"/><feFuncG type="table" tableValues="0 0.031 0.062 0.094 0.125 0.156 0.188 0.219 0.25 0.281 0.312 0.344 0.375 0.406 0.438 0.469 0.5 0.531 0.562 0.594 0.625 0.656 0.688 0.719 0.75 0.781 0.812 0.844 0.875 0.906 0.938 0.969 1"/><feFuncB type="table" tableValues="0 0.008 0.016 0.023 0.031 0.039 0.047 0.055 0.062 0.07 0.078 0.086 0.094 0.102 0.109 0.117 0.125 0.133 0.141 0.148 0.156 0.164 0.172 0.18 0.188 0.195 0.203 0.211 0.219 0.227 0.234 0.242 0.25"/><feFuncA type="linear" slope="0" intercept="1"/></feComponentTransfer></filter></defs>
<g transform="translate(238.2,379.5)" clip-path="url(#cc)">
<g filter="url(#pc12)">
<rect x="0" y="0" width="78.6" height="71" fill="#000"/>
<g filter="url(#bl1)"><ellipse cx="8" cy="10" rx="9" ry="11" fill="rgb(26,26,26)"/><ellipse cx="12" cy="28" rx="10" ry="8" fill="rgb(26,26,26)"/><ellipse cx="10" cy="43" rx="11" ry="9" fill="rgb(26,26,26)"/><ellipse cx="15" cy="60" rx="10" ry="9" fill="rgb(26,26,26)"/><ellipse cx="31" cy="30" rx="6" ry="16" fill="rgb(26,26,26)" transform="rotate(-25 31 30)"/><ellipse cx="34" cy="14" rx="7" ry="6" fill="rgb(26,26,26)"/><ellipse cx="52" cy="7" rx="8" ry="6" fill="rgb(26,26,26)"/><ellipse cx="72" cy="13" rx="7" ry="7" fill="rgb(26,26,26)"/><ellipse cx="59" cy="25" rx="12" ry="5" fill="rgb(26,26,26)" transform="rotate(-28 59 25)"/><ellipse cx="41" cy="48" rx="7" ry="6" fill="rgb(26,26,26)"/><ellipse cx="60" cy="60" rx="19" ry="9" fill="rgb(26,26,26)" transform="rotate(-15 60 60)"/><ellipse cx="75" cy="43" rx="4" ry="12" fill="rgb(26,26,26)"/><ellipse cx="4" cy="68" rx="6" ry="4" fill="rgb(26,26,26)"/><ellipse cx="52" cy="28" rx="17" ry="1.2" fill="rgb(26,26,26)" transform="rotate(-26 52 28)"/></g>
<g filter="url(#bl05)"><ellipse cx="9" cy="11" rx="5.3" ry="5.3" fill="rgb(8,8,8)" stroke="rgb(32,32,32)" stroke-width="0.8"/><ellipse cx="12" cy="28" rx="5.8" ry="5.8" fill="rgb(8,8,8)" stroke="rgb(32,32,32)" stroke-width="0.8"/><ellipse cx="8" cy="42" rx="5.8" ry="5.3" fill="rgb(8,8,8)" stroke="rgb(32,32,32)" stroke-width="0.8"/><ellipse cx="15" cy="60" rx="5.8" ry="5.8" fill="rgb(8,8,8)" stroke="rgb(32,32,32)" stroke-width="0.8"/><ellipse cx="34" cy="14" rx="4.3" ry="4.3" fill="rgb(8,8,8)" stroke="rgb(32,32,32)" stroke-width="0.8"/><ellipse cx="52" cy="8" rx="4.3" ry="4.3" fill="rgb(8,8,8)" stroke="rgb(32,32,32)" stroke-width="0.8"/><ellipse cx="72" cy="13" rx="4.8" ry="4.8" fill="rgb(8,8,8)" stroke="rgb(32,32,32)" stroke-width="0.8"/><ellipse cx="57" cy="25" rx="4.8" ry="3.3" fill="rgb(8,8,8)" transform="rotate(-30 57 25)" stroke="rgb(32,32,32)" stroke-width="0.8"/><ellipse cx="41" cy="49" rx="4.3" ry="3.8" fill="rgb(8,8,8)" stroke="rgb(32,32,32)" stroke-width="0.8"/><ellipse cx="52" cy="62" rx="5.3" ry="4.8" fill="rgb(8,8,8)" stroke="rgb(32,32,32)" stroke-width="0.8"/><ellipse cx="67" cy="58" rx="5.3" ry="4.8" fill="rgb(8,8,8)" stroke="rgb(32,32,32)" stroke-width="0.8"/></g>
</g></g>
<defs><filter id="pc13" x="0" y="0" width="100%" height="100%" color-interpolation-filters="sRGB"><feTurbulence type="fractalNoise" baseFrequency="0.5" numOctaves="2" seed="37" result="n0"/><feColorMatrix in="n0" type="matrix" values="3 0 0 0 -1 3 0 0 0 -1 3 0 0 0 -1 0 0 0 0 1" result="n"/><feTurbulence type="fractalNoise" baseFrequency="0.05" numOctaves="2" seed="137" result="c0"/><feColorMatrix in="c0" type="matrix" values="2 0 0 0 -0.5 2 0 0 0 -0.5 2 0 0 0 -0.5 0 0 0 0 1" result="c"/><feComposite in="SourceGraphic" in2="n" operator="arithmetic" k1="1.7" k2="0.15" k3="0" k4="0" result="m"/><feComposite in="m" in2="c" operator="arithmetic" k1="0.6" k2="0.7" k3="0" k4="0" result="m2"/><feGaussianBlur in="m2" stdDeviation="0.45" result="b"/><feComponentTransfer in="b"><feFuncR type="table" tableValues="0 0.008 0.016 0.023 0.031 0.039 0.047 0.055 0.062 0.07 0.078 0.086 0.094 0.102 0.109 0.117 0.125 0.133 0.141 0.148 0.156 0.164 0.172 0.18 0.188 0.195 0.203 0.211 0.219 0.227 0.234 0.242 0.25"/><feFuncG type="table" tableValues="0 0.031 0.062 0.094 0.125 0.156 0.188 0.219 0.25 0.281 0.312 0.344 0.375 0.406 0.438 0.469 0.5 0.531 0.562 0.594 0.625 0.656 0.688 0.719 0.75 0.781 0.812 0.844 0.875 0.906 0.938 0.969 1"/><feFuncB type="table" tableValues="0 0.008 0.016 0.023 0.031 0.039 0.047 0.055 0.062 0.07 0.078 0.086 0.094 0.102 0.109 0.117 0.125 0.133 0.141 0.148 0.156 0.164 0.172 0.18 0.188 0.195 0.203 0.211 0.219 0.227 0.234 0.242 0.25"/><feFuncA type="linear" slope="0" intercept="1"/></feComponentTransfer></filter></defs>
<g transform="translate(318.8,379.5)" clip-path="url(#cc)">
<g filter="url(#pc13)">
<rect x="0" y="0" width="78.6" height="71" fill="#000"/>
<rect x="0" y="0" width="78.6" height="71" fill="rgb(28,28,28)"/>
<g filter="url(#bl1)"><ellipse cx="13" cy="20" rx="8.5" ry="8.5" fill="rgb(40,40,40)"/><ellipse cx="47" cy="22" rx="6.8" ry="8.5" fill="rgb(40,40,40)"/><ellipse cx="15" cy="48" rx="8.5" ry="8.5" fill="rgb(40,40,40)"/><ellipse cx="58" cy="45" rx="8.5" ry="8.5" fill="rgb(40,40,40)"/><ellipse cx="30" cy="57" rx="6.8" ry="6.8" fill="rgb(40,40,40)"/></g>
<path filter="url(#bl05)" d="M29.3,32.91L32.15,36.42 M39.22,39.85L32.15,36.42" stroke="rgb(43,43,43)" stroke-width="1.3" fill="none"/>
<g filter="url(#bl1)"><ellipse cx="10" cy="35" rx="4" ry="16" fill="#000" transform="rotate(20 10 35)"/><ellipse cx="28" cy="25" rx="4" ry="14" fill="#000" transform="rotate(30 28 25)"/><ellipse cx="38" cy="15" rx="4" ry="12" fill="#000" transform="rotate(15 38 15)"/><ellipse cx="50" cy="35" rx="3" ry="20" fill="#000" transform="rotate(25 50 35)"/><ellipse cx="65" cy="20" rx="4" ry="12" fill="#000" transform="rotate(35 65 20)"/><ellipse cx="45" cy="62" rx="5" ry="8" fill="#000" transform="rotate(30 45 62)"/><ellipse cx="60" cy="50" rx="5" ry="7" fill="#000"/><ellipse cx="25" cy="50" rx="3" ry="6" fill="#000"/><ellipse cx="74" cy="8" rx="5" ry="6" fill="#000"/></g>
<g filter="url(#bl05)"><ellipse cx="13" cy="20" rx="5.8" ry="5.8" fill="rgb(8,8,8)" stroke="rgb(43,43,43)" stroke-width="1.4"/><ellipse cx="47" cy="22" rx="4.8" ry="5.8" fill="rgb(8,8,8)" stroke="rgb(43,43,43)" stroke-width="1.4"/><ellipse cx="15" cy="48" rx="5.8" ry="5.8" fill="rgb(8,8,8)" stroke="rgb(43,43,43)" stroke-width="1.4"/><ellipse cx="58" cy="45" rx="5.8" ry="5.8" fill="rgb(8,8,8)" stroke="rgb(43,43,43)" stroke-width="1.4"/><ellipse cx="30" cy="57" rx="4.8" ry="4.8" fill="rgb(8,8,8)" stroke="rgb(43,43,43)" stroke-width="1.4"/></g>
</g></g>
<defs><filter id="pc14" x="0" y="0" width="100%" height="100%" color-interpolation-filters="sRGB"><feTurbulence type="fractalNoise" baseFrequency="0.28" numOctaves="2" seed="40" result="n0"/><feColorMatrix in="n0" type="matrix" values="2 0 0 0 -0.5 2 0 0 0 -0.5 2 0 0 0 -0.5 0 0 0 0 1" result="n"/><feTurbulence type="fractalNoise" baseFrequency="0.05" numOctaves="2" seed="140" result="c0"/><feColorMatrix in="c0" type="matrix" values="2 0 0 0 -0.5 2 0 0 0 -0.5 2 0 0 0 -0.5 0 0 0 0 1" result="c"/><feComposite in="SourceGraphic" in2="n" operator="arithmetic" k1="0.7" k2="0.65" k3="0" k4="0" result="m"/><feComposite in="m" in2="c" operator="arithmetic" k1="0.6" k2="0.7" k3="0" k4="0" result="m2"/><feGaussianBlur in="m2" stdDeviation="0.6" result="b"/><feComponentTransfer in="b"><feFuncR type="table" tableValues="0 0.008 0.016 0.023 0.031 0.039 0.047 0.055 0.062 0.07 0.078 0.086 0.094 0.102 0.109 0.117 0.125 0.133 0.141 0.148 0.156 0.164 0.172 0.18 0.188 0.195 0.203 0.211 0.219 0.227 0.234 0.242 0.25"/><feFuncG type="table" tableValues="0 0.031 0.062 0.094 0.125 0.156 0.188 0.219 0.25 0.281 0.312 0.344 0.375 0.406 0.438 0.469 0.5 0.531 0.562 0.594 0.625 0.656 0.688 0.719 0.75 0.781 0.812 0.844 0.875 0.906 0.938 0.969 1"/><feFuncB type="table" tableValues="0 0.008 0.016 0.023 0.031 0.039 0.047 0.055 0.062 0.07 0.078 0.086 0.094 0.102 0.109 0.117 0.125 0.133 0.141 0.148 0.156 0.164 0.172 0.18 0.188 0.195 0.203 0.211 0.219 0.227 0.234 0.242 0.25"/><feFuncA type="linear" slope="0" intercept="1"/></feComponentTransfer></filter></defs>
<g transform="translate(399.4,379.5)" clip-path="url(#cc)">
<g filter="url(#pc14)">
<rect x="0" y="0" width="78.6" height="71" fill="#000"/>
<rect x="0" y="0" width="78.6" height="71" fill="rgb(33,33,33)"/>
<g filter="url(#bl1)"><ellipse cx="10" cy="7" rx="8.5" ry="8.5" fill="rgb(47,47,47)"/><ellipse cx="24" cy="12" rx="10.2" ry="10.2" fill="rgb(47,47,47)"/><ellipse cx="40" cy="20" rx="10.2" ry="8.5" fill="rgb(47,47,47)"/><ellipse cx="60" cy="22" rx="10.2" ry="8.5" fill="rgb(47,47,47)"/><ellipse cx="72" cy="15" rx="6.8" ry="8.5" fill="rgb(47,47,47)"/><ellipse cx="20" cy="33" rx="11.9" ry="8.5" fill="rgb(47,47,47)"/><ellipse cx="43" cy="33" rx="8.5" ry="6.8" fill="rgb(47,47,47)"/><ellipse cx="55" cy="35" rx="8.5" ry="8.5" fill="rgb(47,47,47)"/><ellipse cx="70" cy="37" rx="8.5" ry="8.5" fill="rgb(47,47,47)"/><ellipse cx="5" cy="42" rx="8.5" ry="8.5" fill="rgb(47,47,47)"/><ellipse cx="35" cy="46" rx="10.2" ry="8.5" fill="rgb(47,47,47)"/><ellipse cx="60" cy="47" rx="8.5" ry="8.5" fill="rgb(47,47,47)"/><ellipse cx="74" cy="50" rx="6.8" ry="8.5" fill="rgb(47,47,47)"/><ellipse cx="12" cy="55" rx="8.5" ry="8.5" fill="rgb(47,47,47)"/><ellipse cx="28" cy="55" rx="10.2" ry="8.5" fill="rgb(47,47,47)"/><ellipse cx="48" cy="58" rx="8.5" ry="8.5" fill="rgb(47,47,47)"/><ellipse cx="65" cy="62" rx="8.5" ry="8.5" fill="rgb(47,47,47)"/><ellipse cx="20" cy="66" rx="8.5" ry="6.8" fill="rgb(47,47,47)"/></g>
<path filter="url(#bl05)" d="M-146.58,132L16.51,44.19 M16.51,44.19L4.44,24.06 M54.88,-96.56L12.97,20.78 M4.44,24.06L12.97,20.78 M16.51,44.19L20,45.45 M20,45.45L20,57.59 M46.08,104.28L36.08,69.29 M20,57.59L36.08,69.29 M46.08,104.28L57.39,56.2 M65.96,53.35L57.39,56.2 M20,45.45L23.42,44.21 M36.08,69.29L38.13,55.65 M38.13,55.65L23.42,44.21 M57.39,56.2L47.54,45.45 M38.13,55.65L47.54,45.45 M54.88,-96.56L50.11,-20.21 M12.97,20.78L28.16,23.67 M50.11,-20.21L28.16,23.67 M23.42,44.21L31.5,34.88 M31.5,34.88L31.5,28.81 M28.16,23.67L31.5,28.81 M50.11,-20.21L52.55,-4.55 M31.5,28.81L49.64,24.62 M52.55,-4.55L49.64,24.62 M47.54,45.45L47.55,45.14 M31.5,34.88L47.24,44.57 M47.24,44.57L47.55,45.14 M49.64,24.62L50.37,25.76 M47.24,44.57L50.37,25.76 M63.21,30.7L62.09,39.09 M63.21,30.7L70.34,25.94 M115.68,30.06L70.34,25.94 M115.68,30.06L67.79,44.79 M67.79,44.79L62.09,39.09 M47.55,45.14L62.09,39.09 M50.37,25.76L63.21,30.7 M52.55,-4.55L70.34,25.94 M65.96,53.35L67.79,44.79" stroke="rgb(76,76,76)" stroke-width="1.3" fill="none"/>
<g filter="url(#bl1)"><ellipse cx="47" cy="6" rx="22" ry="11" fill="#000"/><ellipse cx="5" cy="22" rx="6" ry="11" fill="#000"/></g>
<g filter="url(#bl05)"><ellipse cx="10" cy="7" rx="5.8" ry="5.8" fill="rgb(13,13,13)" stroke="rgb(76,76,76)" stroke-width="1.4"/><ellipse cx="24" cy="12" rx="6.8" ry="6.8" fill="rgb(13,13,13)" stroke="rgb(76,76,76)" stroke-width="1.4"/><ellipse cx="40" cy="20" rx="6.8" ry="5.8" fill="rgb(13,13,13)" stroke="rgb(76,76,76)" stroke-width="1.4"/><ellipse cx="60" cy="22" rx="6.8" ry="5.8" fill="rgb(13,13,13)" stroke="rgb(76,76,76)" stroke-width="1.4"/><ellipse cx="72" cy="15" rx="4.8" ry="5.8" fill="rgb(13,13,13)" stroke="rgb(76,76,76)" stroke-width="1.4"/><ellipse cx="20" cy="33" rx="7.8" ry="5.8" fill="rgb(13,13,13)" stroke="rgb(76,76,76)" stroke-width="1.4"/><ellipse cx="43" cy="33" rx="5.8" ry="4.8" fill="rgb(13,13,13)" stroke="rgb(76,76,76)" stroke-width="1.4"/><ellipse cx="55" cy="35" rx="5.8" ry="5.8" fill="rgb(13,13,13)" stroke="rgb(76,76,76)" stroke-width="1.4"/><ellipse cx="70" cy="37" rx="5.8" ry="5.8" fill="rgb(13,13,13)" stroke="rgb(76,76,76)" stroke-width="1.4"/><ellipse cx="5" cy="42" rx="5.8" ry="5.8" fill="rgb(13,13,13)" stroke="rgb(76,76,76)" stroke-width="1.4"/><ellipse cx="35" cy="46" rx="6.8" ry="5.8" fill="rgb(13,13,13)" stroke="rgb(76,76,76)" stroke-width="1.4"/><ellipse cx="60" cy="47" rx="5.8" ry="5.8" fill="rgb(13,13,13)" stroke="rgb(76,76,76)" stroke-width="1.4"/><ellipse cx="74" cy="50" rx="4.8" ry="5.8" fill="rgb(13,13,13)" stroke="rgb(76,76,76)" stroke-width="1.4"/><ellipse cx="12" cy="55" rx="5.8" ry="5.8" fill="rgb(13,13,13)" stroke="rgb(76,76,76)" stroke-width="1.4"/><ellipse cx="28" cy="55" rx="6.8" ry="5.8" fill="rgb(13,13,13)" stroke="rgb(76,76,76)" stroke-width="1.4"/><ellipse cx="48" cy="58" rx="5.8" ry="5.8" fill="rgb(13,13,13)" stroke="rgb(76,76,76)" stroke-width="1.4"/><ellipse cx="65" cy="62" rx="5.8" ry="5.8" fill="rgb(13,13,13)" stroke="rgb(76,76,76)" stroke-width="1.4"/><ellipse cx="20" cy="66" rx="5.8" ry="4.8" fill="rgb(13,13,13)" stroke="rgb(76,76,76)" stroke-width="1.4"/></g>
</g></g>
<defs><filter id="pc15" x="0" y="0" width="100%" height="100%" color-interpolation-filters="sRGB"><feTurbulence type="fractalNoise" baseFrequency="0.28" numOctaves="2" seed="43" result="n0"/><feColorMatrix in="n0" type="matrix" values="2 0 0 0 -0.5 2 0 0 0 -0.5 2 0 0 0 -0.5 0 0 0 0 1" result="n"/><feTurbulence type="fractalNoise" baseFrequency="0.05" numOctaves="2" seed="143" result="c0"/><feColorMatrix in="c0" type="matrix" values="2 0 0 0 -0.5 2 0 0 0 -0.5 2 0 0 0 -0.5 0 0 0 0 1" result="c"/><feComposite in="SourceGraphic" in2="n" operator="arithmetic" k1="0.7" k2="0.65" k3="0" k4="0" result="m"/><feComposite in="m" in2="c" operator="arithmetic" k1="0.6" k2="0.7" k3="0" k4="0" result="m2"/><feGaussianBlur in="m2" stdDeviation="0.6" result="b"/><feComponentTransfer in="b"><feFuncR type="table" tableValues="0 0.008 0.016 0.023 0.031 0.039 0.047 0.055 0.062 0.07 0.078 0.086 0.094 0.102 0.109 0.117 0.125 0.133 0.141 0.148 0.156 0.164 0.172 0.18 0.188 0.195 0.203 0.211 0.219 0.227 0.234 0.242 0.25"/><feFuncG type="table" tableValues="0 0.031 0.062 0.094 0.125 0.156 0.188 0.219 0.25 0.281 0.312 0.344 0.375 0.406 0.438 0.469 0.5 0.531 0.562 0.594 0.625 0.656 0.688 0.719 0.75 0.781 0.812 0.844 0.875 0.906 0.938 0.969 1"/><feFuncB type="table" tableValues="0 0.008 0.016 0.023 0.031 0.039 0.047 0.055 0.062 0.07 0.078 0.086 0.094 0.102 0.109 0.117 0.125 0.133 0.141 0.148 0.156 0.164 0.172 0.18 0.188 0.195 0.203 0.211 0.219 0.227 0.234 0.242 0.25"/><feFuncA type="linear" slope="0" intercept="1"/></feComponentTransfer></filter></defs>
<g transform="translate(480,379.5)" clip-path="url(#cc)">
<g filter="url(#pc15)">
<rect x="0" y="0" width="78.6" height="71" fill="#000"/>
<rect x="0" y="0" width="78.6" height="71" fill="rgb(102,102,102)"/>
<g filter="url(#bl1)"><ellipse cx="33" cy="22" rx="11.9" ry="10.2" fill="rgb(133,133,133)"/><ellipse cx="43" cy="40" rx="11.9" ry="10.2" fill="rgb(133,133,133)"/><ellipse cx="66" cy="38" rx="11.9" ry="10.2" fill="rgb(133,133,133)"/><ellipse cx="24" cy="56" rx="10.2" ry="8.5" fill="rgb(133,133,133)"/><ellipse cx="40" cy="57" rx="8.5" ry="6.8" fill="rgb(133,133,133)"/><ellipse cx="68" cy="13" rx="10.2" ry="10.2" fill="rgb(133,133,133)"/><ellipse cx="55" cy="52" rx="8.5" ry="8.5" fill="rgb(133,133,133)"/></g>
<path filter="url(#bl05)" d="M54.62,40.38L45.75,49.25 M54.62,40.38L53.23,24.4 M51.98,23.24L53.23,24.4 M51.98,23.24L25.18,38.12 M45.75,49.25L32.6,46.93 M25.18,38.12L32.6,46.93" stroke="rgb(112,112,112)" stroke-width="1.3" fill="none"/>
<g filter="url(#bl1)"><ellipse cx="17" cy="10" rx="5" ry="9" fill="#000" transform="rotate(15 17 10)"/><ellipse cx="35" cy="8" rx="10" ry="8" fill="#000"/><ellipse cx="58" cy="16" rx="5" ry="4" fill="#000"/><ellipse cx="71" cy="26" rx="6" ry="7" fill="#000"/><ellipse cx="17" cy="38" rx="8" ry="10" fill="#000"/><ellipse cx="5" cy="62" rx="10" ry="13" fill="#000"/><ellipse cx="55" cy="65" rx="8" ry="6" fill="#000"/><ellipse cx="44" cy="5" rx="5" ry="5" fill="#000"/></g>
<g filter="url(#bl05)"><ellipse cx="33" cy="22" rx="7.8" ry="6.8" fill="rgb(51,51,51)" stroke="rgb(117,117,117)" stroke-width="1.4"/><ellipse cx="43" cy="40" rx="7.8" ry="6.8" fill="rgb(51,51,51)" stroke="rgb(117,117,117)" stroke-width="1.4"/><ellipse cx="66" cy="38" rx="7.8" ry="6.8" fill="rgb(51,51,51)" stroke="rgb(117,117,117)" stroke-width="1.4"/><ellipse cx="24" cy="56" rx="6.8" ry="5.8" fill="rgb(51,51,51)" stroke="rgb(117,117,117)" stroke-width="1.4"/><ellipse cx="40" cy="57" rx="5.8" ry="4.8" fill="rgb(51,51,51)" stroke="rgb(117,117,117)" stroke-width="1.4"/><ellipse cx="68" cy="13" rx="6.8" ry="6.8" fill="rgb(51,51,51)" stroke="rgb(117,117,117)" stroke-width="1.4"/><ellipse cx="55" cy="52" rx="5.8" ry="5.8" fill="rgb(51,51,51)" stroke="rgb(117,117,117)" stroke-width="1.4"/></g>
</g></g>
<defs><filter id="pc20" x="0" y="0" width="100%" height="100%" color-interpolation-filters="sRGB"><feTurbulence type="fractalNoise" baseFrequency="0.45" numOctaves="2" seed="45" result="n0"/><feColorMatrix in="n0" type="matrix" values="2.5 0 0 0 -0.75 2.5 0 0 0 -0.75 2.5 0 0 0 -0.75 0 0 0 0 1" result="n"/><feTurbulence type="fractalNoise" baseFrequency="0.05" numOctaves="2" seed="145" result="c0"/><feColorMatrix in="c0" type="matrix" values="2 0 0 0 -0.5 2 0 0 0 -0.5 2 0 0 0 -0.5 0 0 0 0 1" result="c"/><feComposite in="SourceGraphic" in2="n" operator="arithmetic" k1="1.1" k2="0.45" k3="0" k4="0" result="m"/><feComposite in="m" in2="c" operator="arithmetic" k1="0.6" k2="0.7" k3="0" k4="0" result="m2"/><feGaussianBlur in="m2" stdDeviation="0.45" result="b"/><feComponentTransfer in="b"><feFuncR type="table" tableValues="0 0.002 0.003 0.005 0.006 0.008 0.009 0.011 0.013 0.014 0.016 0.017 0.019 0.02 0.022 0.023 0.025 0.027 0.028 0.03 0.031 0.033 0.034 0.036 0.038 0.039 0.041 0.042 0.044 0.045 0.047 0.048 0.05"/><feFuncG type="table" tableValues="0 0.006 0.013 0.019 0.025 0.031 0.038 0.044 0.05 0.056 0.062 0.069 0.075 0.081 0.088 0.094 0.1 0.106 0.113 0.119 0.125 0.131 0.138 0.144 0.15 0.156 0.163 0.169 0.175 0.181 0.188 0.194 0.2"/><feFuncB type="table" tableValues="0 0.031 0.062 0.094 0.125 0.156 0.188 0.219 0.25 0.281 0.312 0.344 0.375 0.406 0.438 0.469 0.5 0.531 0.562 0.594 0.625 0.656 0.688 0.719 0.75 0.781 0.812 0.844 0.875 0.906 0.938 0.969 1"/><feFuncA type="linear" slope="0" intercept="1"/></feComponentTransfer></filter></defs>
<g transform="translate(77,452.5)" clip-path="url(#cc)">
<g filter="url(#pc20)">
<rect x="0" y="0" width="78.6" height="71" fill="#000"/>
<rect x="0" y="0" width="78.6" height="71" fill="rgb(46,46,46)"/>
<g filter="url(#bl1)"><ellipse cx="7" cy="15" rx="10.2" ry="8.5" fill="rgb(62,62,62)"/><ellipse cx="18" cy="22" rx="8.5" ry="6.8" fill="rgb(62,62,62)"/><ellipse cx="5" cy="31" rx="8.5" ry="6.8" fill="rgb(62,62,62)"/><ellipse cx="34" cy="34" rx="10.2" ry="8.5" fill="rgb(62,62,62)"/><ellipse cx="43" cy="22" rx="6.8" ry="6.8" fill="rgb(62,62,62)"/><ellipse cx="54" cy="34" rx="10.2" ry="8.5" fill="rgb(62,62,62)"/><ellipse cx="61" cy="39" rx="6.8" ry="8.5" fill="rgb(62,62,62)"/><ellipse cx="66" cy="21" rx="10.2" ry="11.9" fill="rgb(62,62,62)"/><ellipse cx="53" cy="51" rx="8.5" ry="8.5" fill="rgb(62,62,62)"/><ellipse cx="12" cy="46" rx="10.2" ry="8.5" fill="rgb(62,62,62)"/><ellipse cx="21" cy="55" rx="8.5" ry="6.8" fill="rgb(62,62,62)"/><ellipse cx="56" cy="63" rx="10.2" ry="8.5" fill="rgb(62,62,62)"/><ellipse cx="24" cy="47" rx="8.5" ry="6.8" fill="rgb(62,62,62)"/><ellipse cx="44" cy="44" rx="8.5" ry="6.8" fill="rgb(62,62,62)"/></g>
<path filter="url(#bl05)" d="M38.02,61.12L38,61 M38,61L35.56,55.9 M17.77,49.23L35.56,55.9 M38,61L52.44,42.44 M44,34L52.44,42.44 M44,34L33.8,44.2 M35.56,55.9L33.8,44.2 M30.5,-9.79L30.5,22 M30.5,-9.79L9.37,23.42 M30.5,22L21.15,34.46 M9.37,23.42L17.05,34.51 M21.15,34.46L18.96,34.99 M17.05,34.51L18.96,34.99 M54.54,22.46L44,32.12 M44,32.12L30.5,22 M49,-104.94L54.54,22.46 M49,-104.94L30.5,-9.79 M44,32.12L44,34 M33.8,44.2L21.15,34.46 M17.77,49.23L18.96,34.99 M62.37,29.69L53.23,42.48 M53.23,42.48L69.41,53.27 M54.54,22.46L62.37,29.69 M52.44,42.44L53.23,42.48 M38.02,61.12L69.41,53.27" stroke="rgb(82,82,82)" stroke-width="1.3" fill="none"/>
<g filter="url(#bl1)"><ellipse cx="29" cy="10" rx="14" ry="9" fill="#000" transform="rotate(-10 29 10)"/><ellipse cx="58" cy="12" rx="6" ry="12" fill="#000" transform="rotate(35 58 12)"/><ellipse cx="6" cy="64" rx="10" ry="8" fill="#000"/><ellipse cx="36" cy="58" rx="13" ry="9" fill="#000" transform="rotate(-25 36 58)"/><ellipse cx="75" cy="45" rx="5" ry="18" fill="#000"/><ellipse cx="3" cy="5" rx="4" ry="5" fill="#000"/><ellipse cx="12" cy="38" rx="8" ry="3" fill="#000" transform="rotate(10 12 38)"/></g>
<g filter="url(#bl05)"><ellipse cx="7" cy="15" rx="6.8" ry="5.8" fill="rgb(10,10,10)" stroke="rgb(89,89,89)" stroke-width="1.4"/><ellipse cx="18" cy="22" rx="5.8" ry="4.8" fill="rgb(10,10,10)" stroke="rgb(89,89,89)" stroke-width="1.4"/><ellipse cx="5" cy="31" rx="5.8" ry="4.8" fill="rgb(10,10,10)" stroke="rgb(89,89,89)" stroke-width="1.4"/><ellipse cx="34" cy="34" rx="6.8" ry="5.8" fill="rgb(10,10,10)" stroke="rgb(89,89,89)" stroke-width="1.4"/><ellipse cx="43" cy="22" rx="4.8" ry="4.8" fill="rgb(10,10,10)" stroke="rgb(89,89,89)" stroke-width="1.4"/><ellipse cx="54" cy="34" rx="6.8" ry="5.8" fill="rgb(10,10,10)" stroke="rgb(89,89,89)" stroke-width="1.4"/><ellipse cx="61" cy="39" rx="4.8" ry="5.8" fill="rgb(10,10,10)" stroke="rgb(89,89,89)" stroke-width="1.4"/><ellipse cx="66" cy="21" rx="6.8" ry="7.8" fill="rgb(10,10,10)" stroke="rgb(89,89,89)" stroke-width="1.4"/><ellipse cx="53" cy="51" rx="5.8" ry="5.8" fill="rgb(10,10,10)" stroke="rgb(89,89,89)" stroke-width="1.4"/><ellipse cx="12" cy="46" rx="6.8" ry="5.8" fill="rgb(10,10,10)" stroke="rgb(89,89,89)" stroke-width="1.4"/><ellipse cx="21" cy="55" rx="5.8" ry="4.8" fill="rgb(10,10,10)" stroke="rgb(89,89,89)" stroke-width="1.4"/><ellipse cx="56" cy="63" rx="6.8" ry="5.8" fill="rgb(10,10,10)" stroke="rgb(89,89,89)" stroke-width="1.4"/><ellipse cx="24" cy="47" rx="5.8" ry="4.8" fill="rgb(10,10,10)" stroke="rgb(89,89,89)" stroke-width="1.4"/><ellipse cx="44" cy="44" rx="5.8" ry="4.8" fill="rgb(10,10,10)" stroke="rgb(89,89,89)" stroke-width="1.4"/></g>
</g></g>
<defs><filter id="pc21" x="0" y="0" width="100%" height="100%" color-interpolation-filters="sRGB"><feTurbulence type="fractalNoise" baseFrequency="0.45" numOctaves="2" seed="48" result="n0"/><feColorMatrix in="n0" type="matrix" values="2.5 0 0 0 -0.75 2.5 0 0 0 -0.75 2.5 0 0 0 -0.75 0 0 0 0 1" result="n"/><feTurbulence type="fractalNoise" baseFrequency="0.05" numOctaves="2" seed="148" result="c0"/><feColorMatrix in="c0" type="matrix" values="2 0 0 0 -0.5 2 0 0 0 -0.5 2 0 0 0 -0.5 0 0 0 0 1" result="c"/><feComposite in="SourceGraphic" in2="n" operator="arithmetic" k1="1.1" k2="0.45" k3="0" k4="0" result="m"/><feComposite in="m" in2="c" operator="arithmetic" k1="0.6" k2="0.7" k3="0" k4="0" result="m2"/><feGaussianBlur in="m2" stdDeviation="0.45" result="b"/><feComponentTransfer in="b"><feFuncR type="table" tableValues="0 0.002 0.003 0.005 0.006 0.008 0.009 0.011 0.013 0.014 0.016 0.017 0.019 0.02 0.022 0.023 0.025 0.027 0.028 0.03 0.031 0.033 0.034 0.036 0.038 0.039 0.041 0.042 0.044 0.045 0.047 0.048 0.05"/><feFuncG type="table" tableValues="0 0.008 0.016 0.023 0.031 0.039 0.047 0.055 0.062 0.07 0.078 0.086 0.094 0.102 0.109 0.117 0.125 0.133 0.141 0.148 0.156 0.164 0.172 0.18 0.188 0.195 0.203 0.211 0.219 0.227 0.234 0.242 0.25"/><feFuncB type="table" tableValues="0 0.031 0.062 0.094 0.125 0.156 0.188 0.219 0.25 0.281 0.312 0.344 0.375 0.406 0.438 0.469 0.5 0.531 0.562 0.594 0.625 0.656 0.688 0.719 0.75 0.781 0.812 0.844 0.875 0.906 0.938 0.969 1"/><feFuncA type="linear" slope="0" intercept="1"/></feComponentTransfer></filter></defs>
<g transform="translate(157.6,452.5)" clip-path="url(#cc)">
<g filter="url(#pc21)">
<rect x="0" y="0" width="78.6" height="71" fill="#000"/>
<rect x="0" y="0" width="78.6" height="71" fill="rgb(46,46,46)"/>
<g filter="url(#bl1)"><ellipse cx="5.12" cy="4.25" rx="8.01" ry="7.34" fill="rgb(62,62,62)" transform="rotate(2.87 5.12 4.25)"/><ellipse cx="17.33" cy="3.79" rx="7.67" ry="7.24" fill="rgb(62,62,62)" transform="rotate(-5.31 17.33 3.79)"/><ellipse cx="27.85" cy="3.95" rx="7.47" ry="9.39" fill="rgb(62,62,62)" transform="rotate(-30.1 27.85 3.95)"/><ellipse cx="40.62" cy="6.64" rx="8.72" ry="8.71" fill="rgb(62,62,62)" transform="rotate(-8.27 40.62 6.64)"/><ellipse cx="56.38" cy="3.73" rx="8.5" ry="7.93" fill="rgb(62,62,62)" transform="rotate(-28.46 56.38 3.73)"/><ellipse cx="64.09" cy="5.04" rx="8.4" ry="7.63" fill="rgb(62,62,62)" transform="rotate(6.53 64.09 5.04)"/><ellipse cx="78.69" cy="5.36" rx="7.76" ry="7.31" fill="rgb(62,62,62)" transform="rotate(-35.23 78.69 5.36)"/><ellipse cx="10.53" cy="18.9" rx="7.48" ry="7.99" fill="rgb(62,62,62)" transform="rotate(6.84 10.53 18.9)"/><ellipse cx="23.77" cy="17" rx="8.35" ry="9.04" fill="rgb(62,62,62)" transform="rotate(-20.47 23.77 17)"/><ellipse cx="36.37" cy="18.13" rx="8.54" ry="9.12" fill="rgb(62,62,62)" transform="rotate(-16.96 36.37 18.13)"/><ellipse cx="50.4" cy="16.09" rx="7.46" ry="9.2" fill="rgb(62,62,62)" transform="rotate(-27.84 50.4 16.09)"/><ellipse cx="59.94" cy="15.7" rx="8.05" ry="9.22" fill="rgb(62,62,62)" transform="rotate(5.84 59.94 15.7)"/><ellipse cx="73.88" cy="17.07" rx="8.11" ry="8.76" fill="rgb(62,62,62)" transform="rotate(6.39 73.88 17.07)"/><ellipse cx="8.22" cy="29.87" rx="8.04" ry="7.31" fill="rgb(62,62,62)" transform="rotate(16.12 8.22 29.87)"/><ellipse cx="18.74" cy="32.47" rx="8.42" ry="7.91" fill="rgb(62,62,62)" transform="rotate(-9.14 18.74 32.47)"/><ellipse cx="30.84" cy="27.61" rx="7.56" ry="7.6" fill="rgb(62,62,62)" transform="rotate(-30.63 30.84 27.61)"/><ellipse cx="39.79" cy="31.34" rx="6.77" ry="7.81" fill="rgb(62,62,62)" transform="rotate(-8.72 39.79 31.34)"/><ellipse cx="55.86" cy="27.9" rx="7.53" ry="8.63" fill="rgb(62,62,62)" transform="rotate(30.67 55.86 27.9)"/><ellipse cx="67.6" cy="31.82" rx="7.12" ry="8.27" fill="rgb(62,62,62)" transform="rotate(-11.3 67.6 31.82)"/><ellipse cx="79.92" cy="32.29" rx="6.82" ry="7.62" fill="rgb(62,62,62)" transform="rotate(-21.44 79.92 32.29)"/><ellipse cx="10.67" cy="41.92" rx="7.86" ry="7.85" fill="rgb(62,62,62)" transform="rotate(-39.67 10.67 41.92)"/><ellipse cx="23.59" cy="41.35" rx="7.81" ry="9.73" fill="rgb(62,62,62)" transform="rotate(15.24 23.59 41.35)"/><ellipse cx="36.08" cy="42.59" rx="8.07" ry="7.29" fill="rgb(62,62,62)" transform="rotate(31.96 36.08 42.59)"/><ellipse cx="49.4" cy="43.87" rx="8.36" ry="8.21" fill="rgb(62,62,62)" transform="rotate(-8.08 49.4 43.87)"/><ellipse cx="58.02" cy="42.67" rx="6.61" ry="7.32" fill="rgb(62,62,62)" transform="rotate(-23.3 58.02 42.67)"/><ellipse cx="70.31" cy="41.2" rx="6.59" ry="7.14" fill="rgb(62,62,62)" transform="rotate(-27.9 70.31 41.2)"/><ellipse cx="3.63" cy="55.87" rx="7.92" ry="7.54" fill="rgb(62,62,62)" transform="rotate(-19.82 3.63 55.87)"/><ellipse cx="17.24" cy="53.32" rx="6.75" ry="9.45" fill="rgb(62,62,62)" transform="rotate(39.45 17.24 53.32)"/><ellipse cx="29.83" cy="53.92" rx="6.66" ry="7.42" fill="rgb(62,62,62)" transform="rotate(-12.59 29.83 53.92)"/><ellipse cx="40.82" cy="55.64" rx="6.84" ry="7.2" fill="rgb(62,62,62)" transform="rotate(36.08 40.82 55.64)"/><ellipse cx="54.14" cy="52.23" rx="7.75" ry="7.21" fill="rgb(62,62,62)" transform="rotate(2.25 54.14 52.23)"/><ellipse cx="68.39" cy="55.82" rx="8.12" ry="7.85" fill="rgb(62,62,62)" transform="rotate(-10.66 68.39 55.82)"/><ellipse cx="76.34" cy="55.36" rx="7.73" ry="9.26" fill="rgb(62,62,62)" transform="rotate(-13.63 76.34 55.36)"/><ellipse cx="10.62" cy="67.56" rx="8.8" ry="9.46" fill="rgb(62,62,62)" transform="rotate(24.49 10.62 67.56)"/><ellipse cx="25.59" cy="67.2" rx="7" ry="8.55" fill="rgb(62,62,62)" transform="rotate(-11.55 25.59 67.2)"/><ellipse cx="33.64" cy="63.64" rx="7.13" ry="7.84" fill="rgb(62,62,62)" transform="rotate(15.4 33.64 63.64)"/><ellipse cx="50.28" cy="65.74" rx="8.69" ry="9.83" fill="rgb(62,62,62)" transform="rotate(36.4 50.28 65.74)"/><ellipse cx="59.32" cy="64.6" rx="7" ry="7.68" fill="rgb(62,62,62)" transform="rotate(-23.65 59.32 64.6)"/><ellipse cx="72.62" cy="68" rx="8.46" ry="8.44" fill="rgb(62,62,62)" transform="rotate(12.24 72.62 68)"/></g>
<path filter="url(#bl05)" d="M93.24,18.19L74,25.83 M93.24,18.19L71.31,9.17 M74,25.83L66.3,22.56 M66.3,22.56L67.3,12.42 M71.31,9.17L67.3,12.42 M73.06,-71.11L71.31,9.17 M73.06,-71.11L59.39,9.35 M59.39,9.35L67.3,12.42 M59.39,9.35L54.96,10.67 M54.96,10.67L48.98,7.77 M41.85,-30.93L48.98,7.77 M54.96,10.67L55.38,20.96 M66.3,22.56L63.76,23.76 M63.76,23.76L55.38,20.96 M74,25.83L73.64,35.15 M73.64,35.15L82.28,44.47 M-135.37,146.92L11.3,59.22 M11.3,59.22L17.98,62.33 M82.28,44.47L71.98,48.85 M71.98,48.85L72.68,61.15 M58.57,95.24L54.09,59.52 M58.57,95.24L66.76,63.21 M54.09,59.52L60.57,56.81 M60.57,56.81L66.76,63.21 M72.68,61.15L66.76,63.21 M71.98,48.85L64.88,47.92 M60.57,56.81L62.29,49.97 M62.29,49.97L64.88,47.92 M73.64,35.15L63.7,38.03 M64.88,47.92L63.7,38.03 M63.76,23.76L60.07,34.83 M60.07,34.83L63.7,38.03 M54.09,59.52L48.5,57.92 M48.5,57.92L42.05,63.97 M39.15,86.99L42.05,63.97 M11.46,10.24L16.36,12.44 M22.5,9.44L16.36,12.44 M39.15,86.99L27.43,60.47 M42.05,63.97L34.89,57.54 M34.89,57.54L27.43,60.47 M17.98,62.33L23.27,59.14 M23.27,59.14L27.43,60.47 M11.46,10.24L-13.71,19.53 M-80.4,27.61L-13.71,19.53 M16.36,12.44L17.97,23.66 M17.97,23.66L14.87,25.54 M-13.71,19.53L14.87,25.54 M44.26,23.13L37.2,24.96 M44.26,23.13L42.94,14.02 M37.2,24.96L29.79,20.65 M42.94,14.02L33.16,10.41 M29.79,20.65L30.57,11.97 M33.16,10.41L30.57,11.97 M48.98,7.77L42.94,14.02 M55.38,20.96L46.82,24.91 M46.82,24.91L44.26,23.13 M41.85,-30.93L33.16,10.41 M22.87,25.26L17.97,23.66 M22.87,25.26L29.79,20.65 M22.5,9.44L30.57,11.97 M62.29,49.97L54.18,46.68 M60.07,34.83L52.68,35.91 M54.18,46.68L52.68,35.91 M48.5,57.92L46.71,50.92 M54.18,46.68L46.71,50.92 M46.82,24.91L48.84,34.36 M52.68,35.91L48.84,34.36 M12.46,35.29L-10.57,39.95 M12.46,35.29L17.02,39.17 M17.31,45.69L9.6,50.13 M17.31,45.69L17.02,39.17 M9.6,50.13L-10.57,39.95 M-80.4,27.61L-10.57,39.95 M14.87,25.54L12.46,35.29 M26.39,34.04L22.87,25.26 M26.39,34.04L17.02,39.17 M23.75,49.1L23.27,59.14 M11.3,59.22L9.6,50.13 M23.75,49.1L17.31,45.69 M36.08,49.98L29.41,46.3 M36.08,49.98L42.31,47.71 M42.31,47.71L43.18,38.7 M43.18,38.7L32.89,35.3 M29.41,46.3L30.41,36.17 M30.41,36.17L32.89,35.3 M23.75,49.1L29.41,46.3 M34.89,57.54L36.08,49.98 M46.71,50.92L42.31,47.71 M48.84,34.36L43.18,38.7 M37.2,24.96L32.89,35.3 M26.39,34.04L30.41,36.17" stroke="rgb(82,82,82)" stroke-width="1.3" fill="none"/>
<g filter="url(#bl1)"><ellipse cx="4" cy="13" rx="5" ry="11" fill="#000"/><ellipse cx="3" cy="56" rx="5" ry="13" fill="#000"/><ellipse cx="28" cy="17" rx="4" ry="6" fill="#000"/><ellipse cx="64" cy="31" rx="6" ry="9" fill="#000" transform="rotate(10 64 31)"/><ellipse cx="52" cy="63" rx="7" ry="6" fill="#000"/><ellipse cx="73" cy="52" rx="5" ry="7" fill="#000"/><ellipse cx="36" cy="5" rx="4" ry="4" fill="#000"/></g>
<g filter="url(#bl05)"><ellipse cx="5.12" cy="4.25" rx="5.51" ry="5.12" fill="rgb(10,10,10)" transform="rotate(2.87 5.12 4.25)" stroke="rgb(89,89,89)" stroke-width="1.4"/><ellipse cx="17.33" cy="3.79" rx="5.31" ry="5.06" fill="rgb(10,10,10)" transform="rotate(-5.31 17.33 3.79)" stroke="rgb(89,89,89)" stroke-width="1.4"/><ellipse cx="27.85" cy="3.95" rx="5.19" ry="6.32" fill="rgb(10,10,10)" transform="rotate(-30.1 27.85 3.95)" stroke="rgb(89,89,89)" stroke-width="1.4"/><ellipse cx="40.62" cy="6.64" rx="5.93" ry="5.92" fill="rgb(10,10,10)" transform="rotate(-8.27 40.62 6.64)" stroke="rgb(89,89,89)" stroke-width="1.4"/><ellipse cx="56.38" cy="3.73" rx="5.8" ry="5.46" fill="rgb(10,10,10)" transform="rotate(-28.46 56.38 3.73)" stroke="rgb(89,89,89)" stroke-width="1.4"/><ellipse cx="64.09" cy="5.04" rx="5.74" ry="5.29" fill="rgb(10,10,10)" transform="rotate(6.53 64.09 5.04)" stroke="rgb(89,89,89)" stroke-width="1.4"/><ellipse cx="78.69" cy="5.36" rx="5.37" ry="5.1" fill="rgb(10,10,10)" transform="rotate(-35.23 78.69 5.36)" stroke="rgb(89,89,89)" stroke-width="1.4"/><ellipse cx="10.53" cy="18.9" rx="5.2" ry="5.5" fill="rgb(10,10,10)" transform="rotate(6.84 10.53 18.9)" stroke="rgb(89,89,89)" stroke-width="1.4"/><ellipse cx="23.77" cy="17" rx="5.71" ry="6.12" fill="rgb(10,10,10)" transform="rotate(-20.47 23.77 17)" stroke="rgb(89,89,89)" stroke-width="1.4"/><ellipse cx="36.37" cy="18.13" rx="5.83" ry="6.17" fill="rgb(10,10,10)" transform="rotate(-16.96 36.37 18.13)" stroke="rgb(89,89,89)" stroke-width="1.4"/><ellipse cx="50.4" cy="16.09" rx="5.19" ry="6.21" fill="rgb(10,10,10)" transform="rotate(-27.84 50.4 16.09)" stroke="rgb(89,89,89)" stroke-width="1.4"/><ellipse cx="59.94" cy="15.7" rx="5.54" ry="6.22" fill="rgb(10,10,10)" transform="rotate(5.84 59.94 15.7)" stroke="rgb(89,89,89)" stroke-width="1.4"/><ellipse cx="73.88" cy="17.07" rx="5.57" ry="5.95" fill="rgb(10,10,10)" transform="rotate(6.39 73.88 17.07)" stroke="rgb(89,89,89)" stroke-width="1.4"/><ellipse cx="8.22" cy="29.87" rx="5.53" ry="5.1" fill="rgb(10,10,10)" transform="rotate(16.12 8.22 29.87)" stroke="rgb(89,89,89)" stroke-width="1.4"/><ellipse cx="18.74" cy="32.47" rx="5.75" ry="5.46" fill="rgb(10,10,10)" transform="rotate(-9.14 18.74 32.47)" stroke="rgb(89,89,89)" stroke-width="1.4"/><ellipse cx="30.84" cy="27.61" rx="5.25" ry="5.27" fill="rgb(10,10,10)" transform="rotate(-30.63 30.84 27.61)" stroke="rgb(89,89,89)" stroke-width="1.4"/><ellipse cx="39.79" cy="31.34" rx="4.78" ry="5.4" fill="rgb(10,10,10)" transform="rotate(-8.72 39.79 31.34)" stroke="rgb(89,89,89)" stroke-width="1.4"/><ellipse cx="55.86" cy="27.9" rx="5.23" ry="5.88" fill="rgb(10,10,10)" transform="rotate(30.67 55.86 27.9)" stroke="rgb(89,89,89)" stroke-width="1.4"/><ellipse cx="67.6" cy="31.82" rx="4.99" ry="5.66" fill="rgb(10,10,10)" transform="rotate(-11.3 67.6 31.82)" stroke="rgb(89,89,89)" stroke-width="1.4"/><ellipse cx="79.92" cy="32.29" rx="4.81" ry="5.28" fill="rgb(10,10,10)" transform="rotate(-21.44 79.92 32.29)" stroke="rgb(89,89,89)" stroke-width="1.4"/><ellipse cx="10.67" cy="41.92" rx="5.42" ry="5.42" fill="rgb(10,10,10)" transform="rotate(-39.67 10.67 41.92)" stroke="rgb(89,89,89)" stroke-width="1.4"/><ellipse cx="23.59" cy="41.35" rx="5.39" ry="6.52" fill="rgb(10,10,10)" transform="rotate(15.24 23.59 41.35)" stroke="rgb(89,89,89)" stroke-width="1.4"/><ellipse cx="36.08" cy="42.59" rx="5.55" ry="5.09" fill="rgb(10,10,10)" transform="rotate(31.96 36.08 42.59)" stroke="rgb(89,89,89)" stroke-width="1.4"/><ellipse cx="49.4" cy="43.87" rx="5.72" ry="5.63" fill="rgb(10,10,10)" transform="rotate(-8.08 49.4 43.87)" stroke="rgb(89,89,89)" stroke-width="1.4"/><ellipse cx="58.02" cy="42.67" rx="4.69" ry="5.11" fill="rgb(10,10,10)" transform="rotate(-23.3 58.02 42.67)" stroke="rgb(89,89,89)" stroke-width="1.4"/><ellipse cx="70.31" cy="41.2" rx="4.67" ry="5" fill="rgb(10,10,10)" transform="rotate(-27.9 70.31 41.2)" stroke="rgb(89,89,89)" stroke-width="1.4"/><ellipse cx="3.63" cy="55.87" rx="5.46" ry="5.24" fill="rgb(10,10,10)" transform="rotate(-19.82 3.63 55.87)" stroke="rgb(89,89,89)" stroke-width="1.4"/><ellipse cx="17.24" cy="53.32" rx="4.77" ry="6.36" fill="rgb(10,10,10)" transform="rotate(39.45 17.24 53.32)" stroke="rgb(89,89,89)" stroke-width="1.4"/><ellipse cx="29.83" cy="53.92" rx="4.72" ry="5.16" fill="rgb(10,10,10)" transform="rotate(-12.59 29.83 53.92)" stroke="rgb(89,89,89)" stroke-width="1.4"/><ellipse cx="40.82" cy="55.64" rx="4.83" ry="5.04" fill="rgb(10,10,10)" transform="rotate(36.08 40.82 55.64)" stroke="rgb(89,89,89)" stroke-width="1.4"/><ellipse cx="54.14" cy="52.23" rx="5.36" ry="5.04" fill="rgb(10,10,10)" transform="rotate(2.25 54.14 52.23)" stroke="rgb(89,89,89)" stroke-width="1.4"/><ellipse cx="68.39" cy="55.82" rx="5.57" ry="5.42" fill="rgb(10,10,10)" transform="rotate(-10.66 68.39 55.82)" stroke="rgb(89,89,89)" stroke-width="1.4"/><ellipse cx="76.34" cy="55.36" rx="5.35" ry="6.25" fill="rgb(10,10,10)" transform="rotate(-13.63 76.34 55.36)" stroke="rgb(89,89,89)" stroke-width="1.4"/><ellipse cx="10.62" cy="67.56" rx="5.98" ry="6.36" fill="rgb(10,10,10)" transform="rotate(24.49 10.62 67.56)" stroke="rgb(89,89,89)" stroke-width="1.4"/><ellipse cx="25.59" cy="67.2" rx="4.92" ry="5.83" fill="rgb(10,10,10)" transform="rotate(-11.55 25.59 67.2)" stroke="rgb(89,89,89)" stroke-width="1.4"/><ellipse cx="33.64" cy="63.64" rx="4.99" ry="5.41" fill="rgb(10,10,10)" transform="rotate(15.4 33.64 63.64)" stroke="rgb(89,89,89)" stroke-width="1.4"/><ellipse cx="50.28" cy="65.74" rx="5.91" ry="6.58" fill="rgb(10,10,10)" transform="rotate(36.4 50.28 65.74)" stroke="rgb(89,89,89)" stroke-width="1.4"/><ellipse cx="59.32" cy="64.6" rx="4.92" ry="5.31" fill="rgb(10,10,10)" transform="rotate(-23.65 59.32 64.6)" stroke="rgb(89,89,89)" stroke-width="1.4"/><ellipse cx="72.62" cy="68" rx="5.78" ry="5.77" fill="rgb(10,10,10)" transform="rotate(12.24 72.62 68)" stroke="rgb(89,89,89)" stroke-width="1.4"/></g>
</g></g>
<defs><filter id="pc22" x="0" y="0" width="100%" height="100%" color-interpolation-filters="sRGB"><feTurbulence type="fractalNoise" baseFrequency="0.45" numOctaves="2" seed="51" result="n0"/><feColorMatrix in="n0" type="matrix" values="2.5 0 0 0 -0.75 2.5 0 0 0 -0.75 2.5 0 0 0 -0.75 0 0 0 0 1" result="n"/><feTurbulence type="fractalNoise" baseFrequency="0.05" numOctaves="2" seed="151" result="c0"/><feColorMatrix in="c0" type="matrix" values="2 0 0 0 -0.5 2 0 0 0 -0.5 2 0 0 0 -0.5 0 0 0 0 1" result="c"/><feComposite in="SourceGraphic" in2="n" operator="arithmetic" k1="1.1" k2="0.45" k3="0" k4="0" result="m"/><feComposite in="m" in2="c" operator="arithmetic" k1="0.6" k2="0.7" k3="0" k4="0" result="m2"/><feGaussianBlur in="m2" stdDeviation="0.45" result="b"/><feComponentTransfer in="b"><feFuncR type="table" tableValues="0 0.002 0.003 0.005 0.006 0.008 0.009 0.011 0.013 0.014 0.016 0.017 0.019 0.02 0.022 0.023 0.025 0.027 0.028 0.03 0.031 0.033 0.034 0.036 0.038 0.039 0.041 0.042 0.044 0.045 0.047 0.048 0.05"/><feFuncG type="table" tableValues="0 0.011 0.022 0.033 0.044 0.055 0.066 0.077 0.087 0.098 0.109 0.12 0.131 0.142 0.153 0.164 0.175 0.186 0.197 0.208 0.219 0.23 0.241 0.252 0.262 0.273 0.284 0.295 0.306 0.317 0.328 0.339 0.35"/><feFuncB type="table" tableValues="0 0.031 0.062 0.094 0.125 0.156 0.188 0.219 0.25 0.281 0.312 0.344 0.375 0.406 0.438 0.469 0.5 0.531 0.562 0.594 0.625 0.656 0.688 0.719 0.75 0.781 0.812 0.844 0.875 0.906 0.938 0.969 1"/><feFuncA type="linear" slope="0" intercept="1"/></feComponentTransfer></filter></defs>
<g transform="translate(238.2,452.5)" clip-path="url(#cc)">
<g filter="url(#pc22)">
<rect x="0" y="0" width="78.6" height="71" fill="#000"/>
<g filter="url(#bl1)"><ellipse cx="8" cy="10" rx="9" ry="11" fill="rgb(51,51,51)"/><ellipse cx="12" cy="28" rx="10" ry="8" fill="rgb(51,51,51)"/><ellipse cx="10" cy="43" rx="11" ry="9" fill="rgb(51,51,51)"/><ellipse cx="15" cy="60" rx="10" ry="9" fill="rgb(51,51,51)"/><ellipse cx="31" cy="30" rx="6" ry="16" fill="rgb(51,51,51)" transform="rotate(-25 31 30)"/><ellipse cx="34" cy="14" rx="7" ry="6" fill="rgb(51,51,51)"/><ellipse cx="52" cy="7" rx="8" ry="6" fill="rgb(51,51,51)"/><ellipse cx="72" cy="13" rx="7" ry="7" fill="rgb(51,51,51)"/><ellipse cx="59" cy="25" rx="12" ry="5" fill="rgb(51,51,51)" transform="rotate(-28 59 25)"/><ellipse cx="41" cy="48" rx="7" ry="6" fill="rgb(51,51,51)"/><ellipse cx="60" cy="60" rx="19" ry="9" fill="rgb(51,51,51)" transform="rotate(-15 60 60)"/><ellipse cx="75" cy="43" rx="4" ry="12" fill="rgb(51,51,51)"/><ellipse cx="4" cy="68" rx="6" ry="4" fill="rgb(51,51,51)"/><ellipse cx="52" cy="28" rx="17" ry="1.2" fill="rgb(51,51,51)" transform="rotate(-26 52 28)"/></g>
<g filter="url(#bl05)"><ellipse cx="9" cy="11" rx="5.3" ry="5.3" fill="rgb(10,10,10)" stroke="rgb(74,74,74)" stroke-width="0.8"/><ellipse cx="12" cy="28" rx="5.8" ry="5.8" fill="rgb(10,10,10)" stroke="rgb(74,74,74)" stroke-width="0.8"/><ellipse cx="8" cy="42" rx="5.8" ry="5.3" fill="rgb(10,10,10)" stroke="rgb(74,74,74)" stroke-width="0.8"/><ellipse cx="15" cy="60" rx="5.8" ry="5.8" fill="rgb(10,10,10)" stroke="rgb(74,74,74)" stroke-width="0.8"/><ellipse cx="34" cy="14" rx="4.3" ry="4.3" fill="rgb(10,10,10)" stroke="rgb(74,74,74)" stroke-width="0.8"/><ellipse cx="52" cy="8" rx="4.3" ry="4.3" fill="rgb(10,10,10)" stroke="rgb(74,74,74)" stroke-width="0.8"/><ellipse cx="72" cy="13" rx="4.8" ry="4.8" fill="rgb(10,10,10)" stroke="rgb(74,74,74)" stroke-width="0.8"/><ellipse cx="57" cy="25" rx="4.8" ry="3.3" fill="rgb(10,10,10)" transform="rotate(-30 57 25)" stroke="rgb(74,74,74)" stroke-width="0.8"/><ellipse cx="41" cy="49" rx="4.3" ry="3.8" fill="rgb(10,10,10)" stroke="rgb(74,74,74)" stroke-width="0.8"/><ellipse cx="52" cy="62" rx="5.3" ry="4.8" fill="rgb(10,10,10)" stroke="rgb(74,74,74)" stroke-width="0.8"/><ellipse cx="67" cy="58" rx="5.3" ry="4.8" fill="rgb(10,10,10)" stroke="rgb(74,74,74)" stroke-width="0.8"/></g>
</g></g>
<defs><filter id="pc23" x="0" y="0" width="100%" height="100%" color-interpolation-filters="sRGB"><feTurbulence type="fractalNoise" baseFrequency="0.45" numOctaves="2" seed="54" result="n0"/><feColorMatrix in="n0" type="matrix" values="2.5 0 0 0 -0.75 2.5 0 0 0 -0.75 2.5 0 0 0 -0.75 0 0 0 0 1" result="n"/><feTurbulence type="fractalNoise" baseFrequency="0.05" numOctaves="2" seed="154" result="c0"/><feColorMatrix in="c0" type="matrix" values="2 0 0 0 -0.5 2 0 0 0 -0.5 2 0 0 0 -0.5 0 0 0 0 1" result="c"/><feComposite in="SourceGraphic" in2="n" operator="arithmetic" k1="1.1" k2="0.45" k3="0" k4="0" result="m"/><feComposite in="m" in2="c" operator="arithmetic" k1="0.6" k2="0.7" k3="0" k4="0" result="m2"/><feGaussianBlur in="m2" stdDeviation="0.45" result="b"/><feComponentTransfer in="b"><feFuncR type="table" tableValues="0 0.003 0.005 0.007 0.01 0.013 0.015 0.018 0.02 0.022 0.025 0.028 0.03 0.033 0.035 0.037 0.04 0.043 0.045 0.048 0.05 0.052 0.055 0.058 0.06 0.062 0.065 0.068 0.07 0.072 0.075 0.077 0.08"/><feFuncG type="table" tableValues="0 0.013 0.026 0.039 0.052 0.066 0.079 0.092 0.105 0.118 0.131 0.144 0.158 0.171 0.184 0.197 0.21 0.223 0.236 0.249 0.263 0.276 0.289 0.302 0.315 0.328 0.341 0.354 0.367 0.381 0.394 0.407 0.42"/><feFuncB type="table" tableValues="0 0.03 0.059 0.089 0.119 0.148 0.178 0.208 0.237 0.267 0.297 0.327 0.356 0.386 0.416 0.445 0.475 0.505 0.534 0.564 0.594 0.623 0.653 0.683 0.712 0.742 0.772 0.802 0.831 0.861 0.891 0.92 0.95"/><feFuncA type="linear" slope="0" intercept="1"/></feComponentTransfer></filter></defs>
<g transform="translate(318.8,452.5)" clip-path="url(#cc)">
<g filter="url(#pc23)">
<rect x="0" y="0" width="78.6" height="71" fill="#000"/>
<rect x="0" y="0" width="78.6" height="71" fill="rgb(51,51,51)"/>
<g filter="url(#bl1)"><ellipse cx="13" cy="20" rx="8.5" ry="8.5" fill="rgb(69,69,69)"/><ellipse cx="47" cy="22" rx="6.8" ry="8.5" fill="rgb(69,69,69)"/><ellipse cx="15" cy="48" rx="8.5" ry="8.5" fill="rgb(69,69,69)"/><ellipse cx="58" cy="45" rx="8.5" ry="8.5" fill="rgb(69,69,69)"/><ellipse cx="30" cy="57" rx="6.8" ry="6.8" fill="rgb(69,69,69)"/></g>
<path filter="url(#bl05)" d="M29.3,32.91L32.15,36.42 M39.22,39.85L32.15,36.42" stroke="rgb(89,89,89)" stroke-width="1.3" fill="none"/>
<g filter="url(#bl1)"><ellipse cx="10" cy="35" rx="4" ry="16" fill="#000" transform="rotate(20 10 35)"/><ellipse cx="28" cy="25" rx="4" ry="14" fill="#000" transform="rotate(30 28 25)"/><ellipse cx="38" cy="15" rx="4" ry="12" fill="#000" transform="rotate(15 38 15)"/><ellipse cx="50" cy="35" rx="3" ry="20" fill="#000" transform="rotate(25 50 35)"/><ellipse cx="65" cy="20" rx="4" ry="12" fill="#000" transform="rotate(35 65 20)"/><ellipse cx="45" cy="62" rx="5" ry="8" fill="#000" transform="rotate(30 45 62)"/><ellipse cx="60" cy="50" rx="5" ry="7" fill="#000"/><ellipse cx="25" cy="50" rx="3" ry="6" fill="#000"/><ellipse cx="74" cy="8" rx="5" ry="6" fill="#000"/></g>
<g filter="url(#bl05)"><ellipse cx="13" cy="20" rx="5.8" ry="5.8" fill="rgb(10,10,10)" stroke="rgb(97,97,97)" stroke-width="1.4"/><ellipse cx="47" cy="22" rx="4.8" ry="5.8" fill="rgb(10,10,10)" stroke="rgb(97,97,97)" stroke-width="1.4"/><ellipse cx="15" cy="48" rx="5.8" ry="5.8" fill="rgb(10,10,10)" stroke="rgb(97,97,97)" stroke-width="1.4"/><ellipse cx="58" cy="45" rx="5.8" ry="5.8" fill="rgb(10,10,10)" stroke="rgb(97,97,97)" stroke-width="1.4"/><ellipse cx="30" cy="57" rx="4.8" ry="4.8" fill="rgb(10,10,10)" stroke="rgb(97,97,97)" stroke-width="1.4"/></g>
</g></g>
<defs><filter id="pc24" x="0" y="0" width="100%" height="100%" color-interpolation-filters="sRGB"><feTurbulence type="fractalNoise" baseFrequency="0.45" numOctaves="2" seed="57" result="n0"/><feColorMatrix in="n0" type="matrix" values="2.5 0 0 0 -0.75 2.5 0 0 0 -0.75 2.5 0 0 0 -0.75 0 0 0 0 1" result="n"/><feTurbulence type="fractalNoise" baseFrequency="0.05" numOctaves="2" seed="157" result="c0"/><feColorMatrix in="c0" type="matrix" values="2 0 0 0 -0.5 2 0 0 0 -0.5 2 0 0 0 -0.5 0 0 0 0 1" result="c"/><feComposite in="SourceGraphic" in2="n" operator="arithmetic" k1="1.1" k2="0.45" k3="0" k4="0" result="m"/><feComposite in="m" in2="c" operator="arithmetic" k1="0.6" k2="0.7" k3="0" k4="0" result="m2"/><feGaussianBlur in="m2" stdDeviation="0.45" result="b"/><feComponentTransfer in="b"><feFuncR type="table" tableValues="0 0.003 0.006 0.009 0.013 0.016 0.019 0.022 0.025 0.028 0.031 0.034 0.038 0.041 0.044 0.047 0.05 0.053 0.056 0.059 0.062 0.066 0.069 0.072 0.075 0.078 0.081 0.084 0.088 0.091 0.094 0.097 0.1"/><feFuncG type="table" tableValues="0 0.016 0.031 0.047 0.062 0.078 0.094 0.109 0.125 0.141 0.156 0.172 0.188 0.203 0.219 0.234 0.25 0.266 0.281 0.297 0.312 0.328 0.344 0.359 0.375 0.391 0.406 0.422 0.438 0.453 0.469 0.484 0.5"/><feFuncB type="table" tableValues="0 0.028 0.056 0.084 0.113 0.141 0.169 0.197 0.225 0.253 0.281 0.309 0.338 0.366 0.394 0.422 0.45 0.478 0.506 0.534 0.562 0.591 0.619 0.647 0.675 0.703 0.731 0.759 0.787 0.816 0.844 0.872 0.9"/><feFuncA type="linear" slope="0" intercept="1"/></feComponentTransfer></filter></defs>
<g transform="translate(399.4,452.5)" clip-path="url(#cc)">
<g filter="url(#pc24)">
<rect x="0" y="0" width="78.6" height="71" fill="#000"/>
<rect x="0" y="0" width="78.6" height="71" fill="rgb(56,56,56)"/>
<g filter="url(#bl1)"><ellipse cx="10" cy="7" rx="8.5" ry="8.5" fill="rgb(75,75,75)"/><ellipse cx="24" cy="12" rx="10.2" ry="10.2" fill="rgb(75,75,75)"/><ellipse cx="40" cy="20" rx="10.2" ry="8.5" fill="rgb(75,75,75)"/><ellipse cx="60" cy="22" rx="10.2" ry="8.5" fill="rgb(75,75,75)"/><ellipse cx="72" cy="15" rx="6.8" ry="8.5" fill="rgb(75,75,75)"/><ellipse cx="20" cy="33" rx="11.9" ry="8.5" fill="rgb(75,75,75)"/><ellipse cx="43" cy="33" rx="8.5" ry="6.8" fill="rgb(75,75,75)"/><ellipse cx="55" cy="35" rx="8.5" ry="8.5" fill="rgb(75,75,75)"/><ellipse cx="70" cy="37" rx="8.5" ry="8.5" fill="rgb(75,75,75)"/><ellipse cx="5" cy="42" rx="8.5" ry="8.5" fill="rgb(75,75,75)"/><ellipse cx="35" cy="46" rx="10.2" ry="8.5" fill="rgb(75,75,75)"/><ellipse cx="60" cy="47" rx="8.5" ry="8.5" fill="rgb(75,75,75)"/><ellipse cx="74" cy="50" rx="6.8" ry="8.5" fill="rgb(75,75,75)"/><ellipse cx="12" cy="55" rx="8.5" ry="8.5" fill="rgb(75,75,75)"/><ellipse cx="28" cy="55" rx="10.2" ry="8.5" fill="rgb(75,75,75)"/><ellipse cx="48" cy="58" rx="8.5" ry="8.5" fill="rgb(75,75,75)"/><ellipse cx="65" cy="62" rx="8.5" ry="8.5" fill="rgb(75,75,75)"/><ellipse cx="20" cy="66" rx="8.5" ry="6.8" fill="rgb(75,75,75)"/></g>
<path filter="url(#bl05)" d="M-146.58,132L16.51,44.19 M16.51,44.19L4.44,24.06 M54.88,-96.56L12.97,20.78 M4.44,24.06L12.97,20.78 M16.51,44.19L20,45.45 M20,45.45L20,57.59 M46.08,104.28L36.08,69.29 M20,57.59L36.08,69.29 M46.08,104.28L57.39,56.2 M65.96,53.35L57.39,56.2 M20,45.45L23.42,44.21 M36.08,69.29L38.13,55.65 M38.13,55.65L23.42,44.21 M57.39,56.2L47.54,45.45 M38.13,55.65L47.54,45.45 M54.88,-96.56L50.11,-20.21 M12.97,20.78L28.16,23.67 M50.11,-20.21L28.16,23.67 M23.42,44.21L31.5,34.88 M31.5,34.88L31.5,28.81 M28.16,23.67L31.5,28.81 M50.11,-20.21L52.55,-4.55 M31.5,28.81L49.64,24.62 M52.55,-4.55L49.64,24.62 M47.54,45.45L47.55,45.14 M31.5,34.88L47.24,44.57 M47.24,44.57L47.55,45.14 M49.64,24.62L50.37,25.76 M47.24,44.57L50.37,25.76 M63.21,30.7L62.09,39.09 M63.21,30.7L70.34,25.94 M115.68,30.06L70.34,25.94 M115.68,30.06L67.79,44.79 M67.79,44.79L62.09,39.09 M47.55,45.14L62.09,39.09 M50.37,25.76L63.21,30.7 M52.55,-4.55L70.34,25.94 M65.96,53.35L67.79,44.79" stroke="rgb(107,107,107)" stroke-width="1.3" fill="none"/>
<g filter="url(#bl1)"><ellipse cx="47" cy="6" rx="22" ry="11" fill="#000"/><ellipse cx="5" cy="22" rx="6" ry="11" fill="#000"/></g>
<g filter="url(#bl05)"><ellipse cx="10" cy="7" rx="5.8" ry="5.8" fill="rgb(15,15,15)" stroke="rgb(115,115,115)" stroke-width="1.4"/><ellipse cx="24" cy="12" rx="6.8" ry="6.8" fill="rgb(15,15,15)" stroke="rgb(115,115,115)" stroke-width="1.4"/><ellipse cx="40" cy="20" rx="6.8" ry="5.8" fill="rgb(15,15,15)" stroke="rgb(115,115,115)" stroke-width="1.4"/><ellipse cx="60" cy="22" rx="6.8" ry="5.8" fill="rgb(15,15,15)" stroke="rgb(115,115,115)" stroke-width="1.4"/><ellipse cx="72" cy="15" rx="4.8" ry="5.8" fill="rgb(15,15,15)" stroke="rgb(115,115,115)" stroke-width="1.4"/><ellipse cx="20" cy="33" rx="7.8" ry="5.8" fill="rgb(15,15,15)" stroke="rgb(115,115,115)" stroke-width="1.4"/><ellipse cx="43" cy="33" rx="5.8" ry="4.8" fill="rgb(15,15,15)" stroke="rgb(115,115,115)" stroke-width="1.4"/><ellipse cx="55" cy="35" rx="5.8" ry="5.8" fill="rgb(15,15,15)" stroke="rgb(115,115,115)" stroke-width="1.4"/><ellipse cx="70" cy="37" rx="5.8" ry="5.8" fill="rgb(15,15,15)" stroke="rgb(115,115,115)" stroke-width="1.4"/><ellipse cx="5" cy="42" rx="5.8" ry="5.8" fill="rgb(15,15,15)" stroke="rgb(115,115,115)" stroke-width="1.4"/><ellipse cx="35" cy="46" rx="6.8" ry="5.8" fill="rgb(15,15,15)" stroke="rgb(115,115,115)" stroke-width="1.4"/><ellipse cx="60" cy="47" rx="5.8" ry="5.8" fill="rgb(15,15,15)" stroke="rgb(115,115,115)" stroke-width="1.4"/><ellipse cx="74" cy="50" rx="4.8" ry="5.8" fill="rgb(15,15,15)" stroke="rgb(115,115,115)" stroke-width="1.4"/><ellipse cx="12" cy="55" rx="5.8" ry="5.8" fill="rgb(15,15,15)" stroke="rgb(115,115,115)" stroke-width="1.4"/><ellipse cx="28" cy="55" rx="6.8" ry="5.8" fill="rgb(15,15,15)" stroke="rgb(115,115,115)" stroke-width="1.4"/><ellipse cx="48" cy="58" rx="5.8" ry="5.8" fill="rgb(15,15,15)" stroke="rgb(115,115,115)" stroke-width="1.4"/><ellipse cx="65" cy="62" rx="5.8" ry="5.8" fill="rgb(15,15,15)" stroke="rgb(115,115,115)" stroke-width="1.4"/><ellipse cx="20" cy="66" rx="5.8" ry="4.8" fill="rgb(15,15,15)" stroke="rgb(115,115,115)" stroke-width="1.4"/></g>
</g></g>
<defs><filter id="pc25" x="0" y="0" width="100%" height="100%" color-interpolation-filters="sRGB"><feTurbulence type="fractalNoise" baseFrequency="0.45" numOctaves="2" seed="60" result="n0"/><feColorMatrix in="n0" type="matrix" values="2.5 0 0 0 -0.75 2.5 0 0 0 -0.75 2.5 0 0 0 -0.75 0 0 0 0 1" result="n"/><feTurbulence type="fractalNoise" baseFrequency="0.05" numOctaves="2" seed="160" result="c0"/><feColorMatrix in="c0" type="matrix" values="2 0 0 0 -0.5 2 0 0 0 -0.5 2 0 0 0 -0.5 0 0 0 0 1" result="c"/><feComposite in="SourceGraphic" in2="n" operator="arithmetic" k1="1.1" k2="0.45" k3="0" k4="0" result="m"/><feComposite in="m" in2="c" operator="arithmetic" k1="0.6" k2="0.7" k3="0" k4="0" result="m2"/><feGaussianBlur in="m2" stdDeviation="0.45" result="b"/><feComponentTransfer in="b"><feFuncR type="table" tableValues="0 0.005 0.009 0.014 0.019 0.023 0.028 0.033 0.037 0.042 0.047 0.052 0.056 0.061 0.066 0.07 0.075 0.08 0.084 0.089 0.094 0.098 0.103 0.108 0.112 0.117 0.122 0.127 0.131 0.136 0.141 0.145 0.15"/><feFuncG type="table" tableValues="0 0.019 0.037 0.056 0.075 0.094 0.112 0.131 0.15 0.169 0.188 0.206 0.225 0.244 0.263 0.281 0.3 0.319 0.337 0.356 0.375 0.394 0.412 0.431 0.45 0.469 0.487 0.506 0.525 0.544 0.562 0.581 0.6"/><feFuncB type="table" tableValues="0 0.027 0.053 0.08 0.106 0.133 0.159 0.186 0.212 0.239 0.266 0.292 0.319 0.345 0.372 0.398 0.425 0.452 0.478 0.505 0.531 0.558 0.584 0.611 0.637 0.664 0.691 0.717 0.744 0.77 0.797 0.823 0.85"/><feFuncA type="linear" slope="0" intercept="1"/></feComponentTransfer></filter></defs>
<g transform="translate(480,452.5)" clip-path="url(#cc)">
<g filter="url(#pc25)">
<rect x="0" y="0" width="78.6" height="71" fill="#000"/>
<rect x="0" y="0" width="78.6" height="71" fill="rgb(115,115,115)"/>
<g filter="url(#bl1)"><ellipse cx="33" cy="22" rx="11.9" ry="10.2" fill="rgb(149,149,149)"/><ellipse cx="43" cy="40" rx="11.9" ry="10.2" fill="rgb(149,149,149)"/><ellipse cx="66" cy="38" rx="11.9" ry="10.2" fill="rgb(149,149,149)"/><ellipse cx="24" cy="56" rx="10.2" ry="8.5" fill="rgb(149,149,149)"/><ellipse cx="40" cy="57" rx="8.5" ry="6.8" fill="rgb(149,149,149)"/><ellipse cx="68" cy="13" rx="10.2" ry="10.2" fill="rgb(149,149,149)"/><ellipse cx="55" cy="52" rx="8.5" ry="8.5" fill="rgb(149,149,149)"/></g>
<path filter="url(#bl05)" d="M54.62,40.38L45.75,49.25 M54.62,40.38L53.23,24.4 M51.98,23.24L53.23,24.4 M51.98,23.24L25.18,38.12 M45.75,49.25L32.6,46.93 M25.18,38.12L32.6,46.93" stroke="rgb(133,133,133)" stroke-width="1.3" fill="none"/>
<g filter="url(#bl1)"><ellipse cx="17" cy="10" rx="5" ry="9" fill="#000" transform="rotate(15 17 10)"/><ellipse cx="35" cy="8" rx="10" ry="8" fill="#000"/><ellipse cx="58" cy="16" rx="5" ry="4" fill="#000"/><ellipse cx="71" cy="26" rx="6" ry="7" fill="#000"/><ellipse cx="17" cy="38" rx="8" ry="10" fill="#000"/><ellipse cx="5" cy="62" rx="10" ry="13" fill="#000"/><ellipse cx="55" cy="65" rx="8" ry="6" fill="#000"/><ellipse cx="44" cy="5" rx="5" ry="5" fill="#000"/></g>
<g filter="url(#bl05)"><ellipse cx="33" cy="22" rx="7.8" ry="6.8" fill="rgb(66,66,66)" stroke="rgb(140,140,140)" stroke-width="1.4"/><ellipse cx="43" cy="40" rx="7.8" ry="6.8" fill="rgb(66,66,66)" stroke="rgb(140,140,140)" stroke-width="1.4"/><ellipse cx="66" cy="38" rx="7.8" ry="6.8" fill="rgb(66,66,66)" stroke="rgb(140,140,140)" stroke-width="1.4"/><ellipse cx="24" cy="56" rx="6.8" ry="5.8" fill="rgb(66,66,66)" stroke="rgb(140,140,140)" stroke-width="1.4"/><ellipse cx="40" cy="57" rx="5.8" ry="4.8" fill="rgb(66,66,66)" stroke="rgb(140,140,140)" stroke-width="1.4"/><ellipse cx="68" cy="13" rx="6.8" ry="6.8" fill="rgb(66,66,66)" stroke="rgb(140,140,140)" stroke-width="1.4"/><ellipse cx="55" cy="52" rx="5.8" ry="5.8" fill="rgb(66,66,66)" stroke="rgb(140,140,140)" stroke-width="1.4"/></g>
</g></g>
<defs><filter id="pc30" x="0" y="0" width="100%" height="100%" color-interpolation-filters="sRGB"><feTurbulence type="fractalNoise" baseFrequency="0.28" numOctaves="2" seed="62" result="n0"/><feColorMatrix in="n0" type="matrix" values="2 0 0 0 -0.5 2 0 0 0 -0.5 2 0 0 0 -0.5 0 0 0 0 1" result="n"/><feTurbulence type="fractalNoise" baseFrequency="0.05" numOctaves="2" seed="162" result="c0"/><feColorMatrix in="c0" type="matrix" values="2 0 0 0 -0.5 2 0 0 0 -0.5 2 0 0 0 -0.5 0 0 0 0 1" result="c"/><feComposite in="SourceGraphic" in2="n" operator="arithmetic" k1="0.7" k2="0.65" k3="0" k4="0" result="m"/><feComposite in="m" in2="c" operator="arithmetic" k1="0.6" k2="0.7" k3="0" k4="0" result="m2"/><feGaussianBlur in="m2" stdDeviation="0.6" result="b"/><feComponentTransfer in="b"><feFuncR type="table" tableValues="0 0 0 0 0 0 0 0 0 0 0 0 0 0 0 0.014 0.03 0.046 0.134 0.252 0.369 0.486 0.603 0.732 0.869 1 1 1 1 1 1 0.928 0.85"/><feFuncG type="table" tableValues="0 0 0 0 0 0.008 0.05 0.092 0.15 0.244 0.337 0.431 0.525 0.619 0.712 0.8 0.888 0.975 1 1 1 1 1 1 1 0.994 0.856 0.717 0.579 0.445 0.311 0.156 0"/><feFuncB type="table" tableValues="0 0.134 0.268 0.434 0.609 0.767 0.854 0.941 1 1 1 1 1 1 1 1 1 1 0.902 0.765 0.629 0.5 0.372 0.245 0.12 0 0 0 0 0 0 0 0"/><feFuncA type="linear" slope="0" intercept="1"/></feComponentTransfer></filter></defs>
<g transform="translate(77,525.5)" clip-path="url(#cc)">
<g filter="url(#pc30)">
<rect x="0" y="0" width="78.6" height="71" fill="#000"/>
<rect x="0" y="0" width="78.6" height="71" fill="rgb(76,76,76)"/>
<g filter="url(#bl1)"><ellipse cx="7" cy="15" rx="10.2" ry="8.5" fill="rgb(101,101,101)"/><ellipse cx="18" cy="22" rx="8.5" ry="6.8" fill="rgb(101,101,101)"/><ellipse cx="5" cy="31" rx="8.5" ry="6.8" fill="rgb(101,101,101)"/><ellipse cx="34" cy="34" rx="10.2" ry="8.5" fill="rgb(101,101,101)"/><ellipse cx="43" cy="22" rx="6.8" ry="6.8" fill="rgb(101,101,101)"/><ellipse cx="54" cy="34" rx="10.2" ry="8.5" fill="rgb(101,101,101)"/><ellipse cx="61" cy="39" rx="6.8" ry="8.5" fill="rgb(101,101,101)"/><ellipse cx="66" cy="21" rx="10.2" ry="11.9" fill="rgb(101,101,101)"/><ellipse cx="53" cy="51" rx="8.5" ry="8.5" fill="rgb(101,101,101)"/><ellipse cx="12" cy="46" rx="10.2" ry="8.5" fill="rgb(101,101,101)"/><ellipse cx="21" cy="55" rx="8.5" ry="6.8" fill="rgb(101,101,101)"/><ellipse cx="56" cy="63" rx="10.2" ry="8.5" fill="rgb(101,101,101)"/><ellipse cx="24" cy="47" rx="8.5" ry="6.8" fill="rgb(101,101,101)"/><ellipse cx="44" cy="44" rx="8.5" ry="6.8" fill="rgb(101,101,101)"/></g>
<path filter="url(#bl05)" d="M38.02,61.12L38,61 M38,61L35.56,55.9 M17.77,49.23L35.56,55.9 M38,61L52.44,42.44 M44,34L52.44,42.44 M44,34L33.8,44.2 M35.56,55.9L33.8,44.2 M30.5,-9.79L30.5,22 M30.5,-9.79L9.37,23.42 M30.5,22L21.15,34.46 M9.37,23.42L17.05,34.51 M21.15,34.46L18.96,34.99 M17.05,34.51L18.96,34.99 M54.54,22.46L44,32.12 M44,32.12L30.5,22 M49,-104.94L54.54,22.46 M49,-104.94L30.5,-9.79 M44,32.12L44,34 M33.8,44.2L21.15,34.46 M17.77,49.23L18.96,34.99 M62.37,29.69L53.23,42.48 M53.23,42.48L69.41,53.27 M54.54,22.46L62.37,29.69 M52.44,42.44L53.23,42.48 M38.02,61.12L69.41,53.27" stroke="rgb(107,107,107)" stroke-width="1.3" fill="none"/>
<g filter="url(#bl1)"><ellipse cx="29" cy="10" rx="14" ry="9" fill="#000" transform="rotate(-10 29 10)"/><ellipse cx="58" cy="12" rx="6" ry="12" fill="#000" transform="rotate(35 58 12)"/><ellipse cx="6" cy="64" rx="10" ry="8" fill="#000"/><ellipse cx="36" cy="58" rx="13" ry="9" fill="#000" transform="rotate(-25 36 58)"/><ellipse cx="75" cy="45" rx="5" ry="18" fill="#000"/><ellipse cx="3" cy="5" rx="4" ry="5" fill="#000"/><ellipse cx="12" cy="38" rx="8" ry="3" fill="#000" transform="rotate(10 12 38)"/></g>
<g filter="url(#bl05)"><ellipse cx="7" cy="15" rx="6.8" ry="5.8" fill="rgb(41,41,41)" stroke="rgb(112,112,112)" stroke-width="1.4"/><ellipse cx="18" cy="22" rx="5.8" ry="4.8" fill="rgb(41,41,41)" stroke="rgb(112,112,112)" stroke-width="1.4"/><ellipse cx="5" cy="31" rx="5.8" ry="4.8" fill="rgb(41,41,41)" stroke="rgb(112,112,112)" stroke-width="1.4"/><ellipse cx="34" cy="34" rx="6.8" ry="5.8" fill="rgb(41,41,41)" stroke="rgb(112,112,112)" stroke-width="1.4"/><ellipse cx="43" cy="22" rx="4.8" ry="4.8" fill="rgb(41,41,41)" stroke="rgb(112,112,112)" stroke-width="1.4"/><ellipse cx="54" cy="34" rx="6.8" ry="5.8" fill="rgb(41,41,41)" stroke="rgb(112,112,112)" stroke-width="1.4"/><ellipse cx="61" cy="39" rx="4.8" ry="5.8" fill="rgb(41,41,41)" stroke="rgb(112,112,112)" stroke-width="1.4"/><ellipse cx="66" cy="21" rx="6.8" ry="7.8" fill="rgb(41,41,41)" stroke="rgb(112,112,112)" stroke-width="1.4"/><ellipse cx="53" cy="51" rx="5.8" ry="5.8" fill="rgb(41,41,41)" stroke="rgb(112,112,112)" stroke-width="1.4"/><ellipse cx="12" cy="46" rx="6.8" ry="5.8" fill="rgb(41,41,41)" stroke="rgb(112,112,112)" stroke-width="1.4"/><ellipse cx="21" cy="55" rx="5.8" ry="4.8" fill="rgb(41,41,41)" stroke="rgb(112,112,112)" stroke-width="1.4"/><ellipse cx="56" cy="63" rx="6.8" ry="5.8" fill="rgb(41,41,41)" stroke="rgb(112,112,112)" stroke-width="1.4"/><ellipse cx="24" cy="47" rx="5.8" ry="4.8" fill="rgb(41,41,41)" stroke="rgb(112,112,112)" stroke-width="1.4"/><ellipse cx="44" cy="44" rx="5.8" ry="4.8" fill="rgb(41,41,41)" stroke="rgb(112,112,112)" stroke-width="1.4"/></g>
</g></g>
<defs><filter id="pc31" x="0" y="0" width="100%" height="100%" color-interpolation-filters="sRGB"><feTurbulence type="fractalNoise" baseFrequency="0.28" numOctaves="2" seed="65" result="n0"/><feColorMatrix in="n0" type="matrix" values="2 0 0 0 -0.5 2 0 0 0 -0.5 2 0 0 0 -0.5 0 0 0 0 1" result="n"/><feTurbulence type="fractalNoise" baseFrequency="0.05" numOctaves="2" seed="165" result="c0"/><feColorMatrix in="c0" type="matrix" values="2 0 0 0 -0.5 2 0 0 0 -0.5 2 0 0 0 -0.5 0 0 0 0 1" result="c"/><feComposite in="SourceGraphic" in2="n" operator="arithmetic" k1="0.7" k2="0.65" k3="0" k4="0" result="m"/><feComposite in="m" in2="c" operator="arithmetic" k1="0.6" k2="0.7" k3="0" k4="0" result="m2"/><feGaussianBlur in="m2" stdDeviation="0.6" result="b"/><feComponentTransfer in="b"><feFuncR type="table" tableValues="0 0 0 0 0 0 0 0 0 0 0 0 0 0 0 0.014 0.03 0.046 0.134 0.252 0.369 0.486 0.603 0.732 0.869 1 1 1 1 1 1 0.928 0.85"/><feFuncG type="table" tableValues="0 0 0 0 0 0.008 0.05 0.092 0.15 0.244 0.337 0.431 0.525 0.619 0.712 0.8 0.888 0.975 1 1 1 1 1 1 1 0.994 0.856 0.717 0.579 0.445 0.311 0.156 0"/><feFuncB type="table" tableValues="0 0.134 0.268 0.434 0.609 0.767 0.854 0.941 1 1 1 1 1 1 1 1 1 1 0.902 0.765 0.629 0.5 0.372 0.245 0.12 0 0 0 0 0 0 0 0"/><feFuncA type="linear" slope="0" intercept="1"/></feComponentTransfer></filter></defs>
<g transform="translate(157.6,525.5)" clip-path="url(#cc)">
<g filter="url(#pc31)">
<rect x="0" y="0" width="78.6" height="71" fill="#000"/>
<rect x="0" y="0" width="78.6" height="71" fill="rgb(76,76,76)"/>
<g filter="url(#bl1)"><ellipse cx="5.12" cy="4.25" rx="8.01" ry="7.34" fill="rgb(101,101,101)" transform="rotate(2.87 5.12 4.25)"/><ellipse cx="17.33" cy="3.79" rx="7.67" ry="7.24" fill="rgb(101,101,101)" transform="rotate(-5.31 17.33 3.79)"/><ellipse cx="27.85" cy="3.95" rx="7.47" ry="9.39" fill="rgb(101,101,101)" transform="rotate(-30.1 27.85 3.95)"/><ellipse cx="40.62" cy="6.64" rx="8.72" ry="8.71" fill="rgb(101,101,101)" transform="rotate(-8.27 40.62 6.64)"/><ellipse cx="56.38" cy="3.73" rx="8.5" ry="7.93" fill="rgb(101,101,101)" transform="rotate(-28.46 56.38 3.73)"/><ellipse cx="64.09" cy="5.04" rx="8.4" ry="7.63" fill="rgb(101,101,101)" transform="rotate(6.53 64.09 5.04)"/><ellipse cx="78.69" cy="5.36" rx="7.76" ry="7.31" fill="rgb(101,101,101)" transform="rotate(-35.23 78.69 5.36)"/><ellipse cx="10.53" cy="18.9" rx="7.48" ry="7.99" fill="rgb(101,101,101)" transform="rotate(6.84 10.53 18.9)"/><ellipse cx="23.77" cy="17" rx="8.35" ry="9.04" fill="rgb(101,101,101)" transform="rotate(-20.47 23.77 17)"/><ellipse cx="36.37" cy="18.13" rx="8.54" ry="9.12" fill="rgb(101,101,101)" transform="rotate(-16.96 36.37 18.13)"/><ellipse cx="50.4" cy="16.09" rx="7.46" ry="9.2" fill="rgb(101,101,101)" transform="rotate(-27.84 50.4 16.09)"/><ellipse cx="59.94" cy="15.7" rx="8.05" ry="9.22" fill="rgb(101,101,101)" transform="rotate(5.84 59.94 15.7)"/><ellipse cx="73.88" cy="17.07" rx="8.11" ry="8.76" fill="rgb(101,101,101)" transform="rotate(6.39 73.88 17.07)"/><ellipse cx="8.22" cy="29.87" rx="8.04" ry="7.31" fill="rgb(101,101,101)" transform="rotate(16.12 8.22 29.87)"/><ellipse cx="18.74" cy="32.47" rx="8.42" ry="7.91" fill="rgb(101,101,101)" transform="rotate(-9.14 18.74 32.47)"/><ellipse cx="30.84" cy="27.61" rx="7.56" ry="7.6" fill="rgb(101,101,101)" transform="rotate(-30.63 30.84 27.61)"/><ellipse cx="39.79" cy="31.34" rx="6.77" ry="7.81" fill="rgb(101,101,101)" transform="rotate(-8.72 39.79 31.34)"/><ellipse cx="55.86" cy="27.9" rx="7.53" ry="8.63" fill="rgb(101,101,101)" transform="rotate(30.67 55.86 27.9)"/><ellipse cx="67.6" cy="31.82" rx="7.12" ry="8.27" fill="rgb(101,101,101)" transform="rotate(-11.3 67.6 31.82)"/><ellipse cx="79.92" cy="32.29" rx="6.82" ry="7.62" fill="rgb(101,101,101)" transform="rotate(-21.44 79.92 32.29)"/><ellipse cx="10.67" cy="41.92" rx="7.86" ry="7.85" fill="rgb(101,101,101)" transform="rotate(-39.67 10.67 41.92)"/><ellipse cx="23.59" cy="41.35" rx="7.81" ry="9.73" fill="rgb(101,101,101)" transform="rotate(15.24 23.59 41.35)"/><ellipse cx="36.08" cy="42.59" rx="8.07" ry="7.29" fill="rgb(101,101,101)" transform="rotate(31.96 36.08 42.59)"/><ellipse cx="49.4" cy="43.87" rx="8.36" ry="8.21" fill="rgb(101,101,101)" transform="rotate(-8.08 49.4 43.87)"/><ellipse cx="58.02" cy="42.67" rx="6.61" ry="7.32" fill="rgb(101,101,101)" transform="rotate(-23.3 58.02 42.67)"/><ellipse cx="70.31" cy="41.2" rx="6.59" ry="7.14" fill="rgb(101,101,101)" transform="rotate(-27.9 70.31 41.2)"/><ellipse cx="3.63" cy="55.87" rx="7.92" ry="7.54" fill="rgb(101,101,101)" transform="rotate(-19.82 3.63 55.87)"/><ellipse cx="17.24" cy="53.32" rx="6.75" ry="9.45" fill="rgb(101,101,101)" transform="rotate(39.45 17.24 53.32)"/><ellipse cx="29.83" cy="53.92" rx="6.66" ry="7.42" fill="rgb(101,101,101)" transform="rotate(-12.59 29.83 53.92)"/><ellipse cx="40.82" cy="55.64" rx="6.84" ry="7.2" fill="rgb(101,101,101)" transform="rotate(36.08 40.82 55.64)"/><ellipse cx="54.14" cy="52.23" rx="7.75" ry="7.21" fill="rgb(101,101,101)" transform="rotate(2.25 54.14 52.23)"/><ellipse cx="68.39" cy="55.82" rx="8.12" ry="7.85" fill="rgb(101,101,101)" transform="rotate(-10.66 68.39 55.82)"/><ellipse cx="76.34" cy="55.36" rx="7.73" ry="9.26" fill="rgb(101,101,101)" transform="rotate(-13.63 76.34 55.36)"/><ellipse cx="10.62" cy="67.56" rx="8.8" ry="9.46" fill="rgb(101,101,101)" transform="rotate(24.49 10.62 67.56)"/><ellipse cx="25.59" cy="67.2" rx="7" ry="8.55" fill="rgb(101,101,101)" transform="rotate(-11.55 25.59 67.2)"/><ellipse cx="33.64" cy="63.64" rx="7.13" ry="7.84" fill="rgb(101,101,101)" transform="rotate(15.4 33.64 63.64)"/><ellipse cx="50.28" cy="65.74" rx="8.69" ry="9.83" fill="rgb(101,101,101)" transform="rotate(36.4 50.28 65.74)"/><ellipse cx="59.32" cy="64.6" rx="7" ry="7.68" fill="rgb(101,101,101)" transform="rotate(-23.65 59.32 64.6)"/><ellipse cx="72.62" cy="68" rx="8.46" ry="8.44" fill="rgb(101,101,101)" transform="rotate(12.24 72.62 68)"/></g>
<path filter="url(#bl05)" d="M93.24,18.19L74,25.83 M93.24,18.19L71.31,9.17 M74,25.83L66.3,22.56 M66.3,22.56L67.3,12.42 M71.31,9.17L67.3,12.42 M73.06,-71.11L71.31,9.17 M73.06,-71.11L59.39,9.35 M59.39,9.35L67.3,12.42 M59.39,9.35L54.96,10.67 M54.96,10.67L48.98,7.77 M41.85,-30.93L48.98,7.77 M54.96,10.67L55.38,20.96 M66.3,22.56L63.76,23.76 M63.76,23.76L55.38,20.96 M74,25.83L73.64,35.15 M73.64,35.15L82.28,44.47 M-135.37,146.92L11.3,59.22 M11.3,59.22L17.98,62.33 M82.28,44.47L71.98,48.85 M71.98,48.85L72.68,61.15 M58.57,95.24L54.09,59.52 M58.57,95.24L66.76,63.21 M54.09,59.52L60.57,56.81 M60.57,56.81L66.76,63.21 M72.68,61.15L66.76,63.21 M71.98,48.85L64.88,47.92 M60.57,56.81L62.29,49.97 M62.29,49.97L64.88,47.92 M73.64,35.15L63.7,38.03 M64.88,47.92L63.7,38.03 M63.76,23.76L60.07,34.83 M60.07,34.83L63.7,38.03 M54.09,59.52L48.5,57.92 M48.5,57.92L42.05,63.97 M39.15,86.99L42.05,63.97 M11.46,10.24L16.36,12.44 M22.5,9.44L16.36,12.44 M39.15,86.99L27.43,60.47 M42.05,63.97L34.89,57.54 M34.89,57.54L27.43,60.47 M17.98,62.33L23.27,59.14 M23.27,59.14L27.43,60.47 M11.46,10.24L-13.71,19.53 M-80.4,27.61L-13.71,19.53 M16.36,12.44L17.97,23.66 M17.97,23.66L14.87,25.54 M-13.71,19.53L14.87,25.54 M44.26,23.13L37.2,24.96 M44.26,23.13L42.94,14.02 M37.2,24.96L29.79,20.65 M42.94,14.02L33.16,10.41 M29.79,20.65L30.57,11.97 M33.16,10.41L30.57,11.97 M48.98,7.77L42.94,14.02 M55.38,20.96L46.82,24.91 M46.82,24.91L44.26,23.13 M41.85,-30.93L33.16,10.41 M22.87,25.26L17.97,23.66 M22.87,25.26L29.79,20.65 M22.5,9.44L30.57,11.97 M62.29,49.97L54.18,46.68 M60.07,34.83L52.68,35.91 M54.18,46.68L52.68,35.91 M48.5,57.92L46.71,50.92 M54.18,46.68L46.71,50.92 M46.82,24.91L48.84,34.36 M52.68,35.91L48.84,34.36 M12.46,35.29L-10.57,39.95 M12.46,35.29L17.02,39.17 M17.31,45.69L9.6,50.13 M17.31,45.69L17.02,39.17 M9.6,50.13L-10.57,39.95 M-80.4,27.61L-10.57,39.95 M14.87,25.54L12.46,35.29 M26.39,34.04L22.87,25.26 M26.39,34.04L17.02,39.17 M23.75,49.1L23.27,59.14 M11.3,59.22L9.6,50.13 M23.75,49.1L17.31,45.69 M36.08,49.98L29.41,46.3 M36.08,49.98L42.31,47.71 M42.31,47.71L43.18,38.7 M43.18,38.7L32.89,35.3 M29.41,46.3L30.41,36.17 M30.41,36.17L32.89,35.3 M23.75,49.1L29.41,46.3 M34.89,57.54L36.08,49.98 M46.71,50.92L42.31,47.71 M48.84,34.36L43.18,38.7 M37.2,24.96L32.89,35.3 M26.39,34.04L30.41,36.17" stroke="rgb(107,107,107)" stroke-width="1.3" fill="none"/>
<g filter="url(#bl1)"><ellipse cx="4" cy="13" rx="5" ry="11" fill="#000"/><ellipse cx="3" cy="56" rx="5" ry="13" fill="#000"/><ellipse cx="28" cy="17" rx="4" ry="6" fill="#000"/><ellipse cx="64" cy="31" rx="6" ry="9" fill="#000" transform="rotate(10 64 31)"/><ellipse cx="52" cy="63" rx="7" ry="6" fill="#000"/><ellipse cx="73" cy="52" rx="5" ry="7" fill="#000"/><ellipse cx="36" cy="5" rx="4" ry="4" fill="#000"/></g>
<g filter="url(#bl05)"><ellipse cx="5.12" cy="4.25" rx="5.51" ry="5.12" fill="rgb(41,41,41)" transform="rotate(2.87 5.12 4.25)" stroke="rgb(112,112,112)" stroke-width="1.4"/><ellipse cx="17.33" cy="3.79" rx="5.31" ry="5.06" fill="rgb(41,41,41)" transform="rotate(-5.31 17.33 3.79)" stroke="rgb(112,112,112)" stroke-width="1.4"/><ellipse cx="27.85" cy="3.95" rx="5.19" ry="6.32" fill="rgb(41,41,41)" transform="rotate(-30.1 27.85 3.95)" stroke="rgb(112,112,112)" stroke-width="1.4"/><ellipse cx="40.62" cy="6.64" rx="5.93" ry="5.92" fill="rgb(41,41,41)" transform="rotate(-8.27 40.62 6.64)" stroke="rgb(112,112,112)" stroke-width="1.4"/><ellipse cx="56.38" cy="3.73" rx="5.8" ry="5.46" fill="rgb(41,41,41)" transform="rotate(-28.46 56.38 3.73)" stroke="rgb(112,112,112)" stroke-width="1.4"/><ellipse cx="64.09" cy="5.04" rx="5.74" ry="5.29" fill="rgb(41,41,41)" transform="rotate(6.53 64.09 5.04)" stroke="rgb(112,112,112)" stroke-width="1.4"/><ellipse cx="78.69" cy="5.36" rx="5.37" ry="5.1" fill="rgb(41,41,41)" transform="rotate(-35.23 78.69 5.36)" stroke="rgb(112,112,112)" stroke-width="1.4"/><ellipse cx="10.53" cy="18.9" rx="5.2" ry="5.5" fill="rgb(41,41,41)" transform="rotate(6.84 10.53 18.9)" stroke="rgb(112,112,112)" stroke-width="1.4"/><ellipse cx="23.77" cy="17" rx="5.71" ry="6.12" fill="rgb(41,41,41)" transform="rotate(-20.47 23.77 17)" stroke="rgb(112,112,112)" stroke-width="1.4"/><ellipse cx="36.37" cy="18.13" rx="5.83" ry="6.17" fill="rgb(41,41,41)" transform="rotate(-16.96 36.37 18.13)" stroke="rgb(112,112,112)" stroke-width="1.4"/><ellipse cx="50.4" cy="16.09" rx="5.19" ry="6.21" fill="rgb(41,41,41)" transform="rotate(-27.84 50.4 16.09)" stroke="rgb(112,112,112)" stroke-width="1.4"/><ellipse cx="59.94" cy="15.7" rx="5.54" ry="6.22" fill="rgb(41,41,41)" transform="rotate(5.84 59.94 15.7)" stroke="rgb(112,112,112)" stroke-width="1.4"/><ellipse cx="73.88" cy="17.07" rx="5.57" ry="5.95" fill="rgb(41,41,41)" transform="rotate(6.39 73.88 17.07)" stroke="rgb(112,112,112)" stroke-width="1.4"/><ellipse cx="8.22" cy="29.87" rx="5.53" ry="5.1" fill="rgb(41,41,41)" transform="rotate(16.12 8.22 29.87)" stroke="rgb(112,112,112)" stroke-width="1.4"/><ellipse cx="18.74" cy="32.47" rx="5.75" ry="5.46" fill="rgb(41,41,41)" transform="rotate(-9.14 18.74 32.47)" stroke="rgb(112,112,112)" stroke-width="1.4"/><ellipse cx="30.84" cy="27.61" rx="5.25" ry="5.27" fill="rgb(41,41,41)" transform="rotate(-30.63 30.84 27.61)" stroke="rgb(112,112,112)" stroke-width="1.4"/><ellipse cx="39.79" cy="31.34" rx="4.78" ry="5.4" fill="rgb(41,41,41)" transform="rotate(-8.72 39.79 31.34)" stroke="rgb(112,112,112)" stroke-width="1.4"/><ellipse cx="55.86" cy="27.9" rx="5.23" ry="5.88" fill="rgb(41,41,41)" transform="rotate(30.67 55.86 27.9)" stroke="rgb(112,112,112)" stroke-width="1.4"/><ellipse cx="67.6" cy="31.82" rx="4.99" ry="5.66" fill="rgb(41,41,41)" transform="rotate(-11.3 67.6 31.82)" stroke="rgb(112,112,112)" stroke-width="1.4"/><ellipse cx="79.92" cy="32.29" rx="4.81" ry="5.28" fill="rgb(41,41,41)" transform="rotate(-21.44 79.92 32.29)" stroke="rgb(112,112,112)" stroke-width="1.4"/><ellipse cx="10.67" cy="41.92" rx="5.42" ry="5.42" fill="rgb(41,41,41)" transform="rotate(-39.67 10.67 41.92)" stroke="rgb(112,112,112)" stroke-width="1.4"/><ellipse cx="23.59" cy="41.35" rx="5.39" ry="6.52" fill="rgb(41,41,41)" transform="rotate(15.24 23.59 41.35)" stroke="rgb(112,112,112)" stroke-width="1.4"/><ellipse cx="36.08" cy="42.59" rx="5.55" ry="5.09" fill="rgb(41,41,41)" transform="rotate(31.96 36.08 42.59)" stroke="rgb(112,112,112)" stroke-width="1.4"/><ellipse cx="49.4" cy="43.87" rx="5.72" ry="5.63" fill="rgb(41,41,41)" transform="rotate(-8.08 49.4 43.87)" stroke="rgb(112,112,112)" stroke-width="1.4"/><ellipse cx="58.02" cy="42.67" rx="4.69" ry="5.11" fill="rgb(41,41,41)" transform="rotate(-23.3 58.02 42.67)" stroke="rgb(112,112,112)" stroke-width="1.4"/><ellipse cx="70.31" cy="41.2" rx="4.67" ry="5" fill="rgb(41,41,41)" transform="rotate(-27.9 70.31 41.2)" stroke="rgb(112,112,112)" stroke-width="1.4"/><ellipse cx="3.63" cy="55.87" rx="5.46" ry="5.24" fill="rgb(41,41,41)" transform="rotate(-19.82 3.63 55.87)" stroke="rgb(112,112,112)" stroke-width="1.4"/><ellipse cx="17.24" cy="53.32" rx="4.77" ry="6.36" fill="rgb(41,41,41)" transform="rotate(39.45 17.24 53.32)" stroke="rgb(112,112,112)" stroke-width="1.4"/><ellipse cx="29.83" cy="53.92" rx="4.72" ry="5.16" fill="rgb(41,41,41)" transform="rotate(-12.59 29.83 53.92)" stroke="rgb(112,112,112)" stroke-width="1.4"/><ellipse cx="40.82" cy="55.64" rx="4.83" ry="5.04" fill="rgb(41,41,41)" transform="rotate(36.08 40.82 55.64)" stroke="rgb(112,112,112)" stroke-width="1.4"/><ellipse cx="54.14" cy="52.23" rx="5.36" ry="5.04" fill="rgb(41,41,41)" transform="rotate(2.25 54.14 52.23)" stroke="rgb(112,112,112)" stroke-width="1.4"/><ellipse cx="68.39" cy="55.82" rx="5.57" ry="5.42" fill="rgb(41,41,41)" transform="rotate(-10.66 68.39 55.82)" stroke="rgb(112,112,112)" stroke-width="1.4"/><ellipse cx="76.34" cy="55.36" rx="5.35" ry="6.25" fill="rgb(41,41,41)" transform="rotate(-13.63 76.34 55.36)" stroke="rgb(112,112,112)" stroke-width="1.4"/><ellipse cx="10.62" cy="67.56" rx="5.98" ry="6.36" fill="rgb(41,41,41)" transform="rotate(24.49 10.62 67.56)" stroke="rgb(112,112,112)" stroke-width="1.4"/><ellipse cx="25.59" cy="67.2" rx="4.92" ry="5.83" fill="rgb(41,41,41)" transform="rotate(-11.55 25.59 67.2)" stroke="rgb(112,112,112)" stroke-width="1.4"/><ellipse cx="33.64" cy="63.64" rx="4.99" ry="5.41" fill="rgb(41,41,41)" transform="rotate(15.4 33.64 63.64)" stroke="rgb(112,112,112)" stroke-width="1.4"/><ellipse cx="50.28" cy="65.74" rx="5.91" ry="6.58" fill="rgb(41,41,41)" transform="rotate(36.4 50.28 65.74)" stroke="rgb(112,112,112)" stroke-width="1.4"/><ellipse cx="59.32" cy="64.6" rx="4.92" ry="5.31" fill="rgb(41,41,41)" transform="rotate(-23.65 59.32 64.6)" stroke="rgb(112,112,112)" stroke-width="1.4"/><ellipse cx="72.62" cy="68" rx="5.78" ry="5.77" fill="rgb(41,41,41)" transform="rotate(12.24 72.62 68)" stroke="rgb(112,112,112)" stroke-width="1.4"/></g>
</g></g>
<defs><filter id="pc32" x="0" y="0" width="100%" height="100%" color-interpolation-filters="sRGB"><feTurbulence type="fractalNoise" baseFrequency="0.28" numOctaves="2" seed="68" result="n0"/><feColorMatrix in="n0" type="matrix" values="2 0 0 0 -0.5 2 0 0 0 -0.5 2 0 0 0 -0.5 0 0 0 0 1" result="n"/><feTurbulence type="fractalNoise" baseFrequency="0.05" numOctaves="2" seed="168" result="c0"/><feColorMatrix in="c0" type="matrix" values="2 0 0 0 -0.5 2 0 0 0 -0.5 2 0 0 0 -0.5 0 0 0 0 1" result="c"/><feComposite in="SourceGraphic" in2="n" operator="arithmetic" k1="0.7" k2="0.65" k3="0" k4="0" result="m"/><feComposite in="m" in2="c" operator="arithmetic" k1="0.6" k2="0.7" k3="0" k4="0" result="m2"/><feGaussianBlur in="m2" stdDeviation="0.6" result="b"/><feComponentTransfer in="b"><feFuncR type="table" tableValues="0 0 0 0 0 0 0 0 0 0 0 0 0 0 0 0.014 0.03 0.046 0.134 0.252 0.369 0.486 0.603 0.732 0.869 1 1 1 1 1 1 0.928 0.85"/><feFuncG type="table" tableValues="0 0 0 0 0 0.008 0.05 0.092 0.15 0.244 0.337 0.431 0.525 0.619 0.712 0.8 0.888 0.975 1 1 1 1 1 1 1 0.994 0.856 0.717 0.579 0.445 0.311 0.156 0"/><feFuncB type="table" tableValues="0 0.134 0.268 0.434 0.609 0.767 0.854 0.941 1 1 1 1 1 1 1 1 1 1 0.902 0.765 0.629 0.5 0.372 0.245 0.12 0 0 0 0 0 0 0 0"/><feFuncA type="linear" slope="0" intercept="1"/></feComponentTransfer></filter></defs>
<g transform="translate(238.2,525.5)" clip-path="url(#cc)">
<g filter="url(#pc32)">
<rect x="0" y="0" width="78.6" height="71" fill="#000"/>
<g filter="url(#bl1)"><ellipse cx="8" cy="10" rx="9" ry="11" fill="rgb(102,102,102)"/><ellipse cx="12" cy="28" rx="10" ry="8" fill="rgb(102,102,102)"/><ellipse cx="10" cy="43" rx="11" ry="9" fill="rgb(102,102,102)"/><ellipse cx="15" cy="60" rx="10" ry="9" fill="rgb(102,102,102)"/><ellipse cx="31" cy="30" rx="6" ry="16" fill="rgb(102,102,102)" transform="rotate(-25 31 30)"/><ellipse cx="34" cy="14" rx="7" ry="6" fill="rgb(102,102,102)"/><ellipse cx="52" cy="7" rx="8" ry="6" fill="rgb(102,102,102)"/><ellipse cx="72" cy="13" rx="7" ry="7" fill="rgb(102,102,102)"/><ellipse cx="59" cy="25" rx="12" ry="5" fill="rgb(102,102,102)" transform="rotate(-28 59 25)"/><ellipse cx="41" cy="48" rx="7" ry="6" fill="rgb(102,102,102)"/><ellipse cx="60" cy="60" rx="19" ry="9" fill="rgb(102,102,102)" transform="rotate(-15 60 60)"/><ellipse cx="75" cy="43" rx="4" ry="12" fill="rgb(102,102,102)"/><ellipse cx="4" cy="68" rx="6" ry="4" fill="rgb(102,102,102)"/><ellipse cx="52" cy="28" rx="17" ry="1.2" fill="rgb(102,102,102)" transform="rotate(-26 52 28)"/></g>
<g filter="url(#bl05)"><ellipse cx="9" cy="11" rx="5.3" ry="5.3" fill="rgb(51,51,51)" stroke="rgb(110,110,110)" stroke-width="0.8"/><ellipse cx="12" cy="28" rx="5.8" ry="5.8" fill="rgb(51,51,51)" stroke="rgb(110,110,110)" stroke-width="0.8"/><ellipse cx="8" cy="42" rx="5.8" ry="5.3" fill="rgb(51,51,51)" stroke="rgb(110,110,110)" stroke-width="0.8"/><ellipse cx="15" cy="60" rx="5.8" ry="5.8" fill="rgb(51,51,51)" stroke="rgb(110,110,110)" stroke-width="0.8"/><ellipse cx="34" cy="14" rx="4.3" ry="4.3" fill="rgb(51,51,51)" stroke="rgb(110,110,110)" stroke-width="0.8"/><ellipse cx="52" cy="8" rx="4.3" ry="4.3" fill="rgb(51,51,51)" stroke="rgb(110,110,110)" stroke-width="0.8"/><ellipse cx="72" cy="13" rx="4.8" ry="4.8" fill="rgb(51,51,51)" stroke="rgb(110,110,110)" stroke-width="0.8"/><ellipse cx="57" cy="25" rx="4.8" ry="3.3" fill="rgb(51,51,51)" transform="rotate(-30 57 25)" stroke="rgb(110,110,110)" stroke-width="0.8"/><ellipse cx="41" cy="49" rx="4.3" ry="3.8" fill="rgb(51,51,51)" stroke="rgb(110,110,110)" stroke-width="0.8"/><ellipse cx="52" cy="62" rx="5.3" ry="4.8" fill="rgb(51,51,51)" stroke="rgb(110,110,110)" stroke-width="0.8"/><ellipse cx="67" cy="58" rx="5.3" ry="4.8" fill="rgb(51,51,51)" stroke="rgb(110,110,110)" stroke-width="0.8"/></g>
</g></g>
<defs><filter id="pc33" x="0" y="0" width="100%" height="100%" color-interpolation-filters="sRGB"><feTurbulence type="fractalNoise" baseFrequency="0.28" numOctaves="2" seed="71" result="n0"/><feColorMatrix in="n0" type="matrix" values="2 0 0 0 -0.5 2 0 0 0 -0.5 2 0 0 0 -0.5 0 0 0 0 1" result="n"/><feTurbulence type="fractalNoise" baseFrequency="0.05" numOctaves="2" seed="171" result="c0"/><feColorMatrix in="c0" type="matrix" values="2 0 0 0 -0.5 2 0 0 0 -0.5 2 0 0 0 -0.5 0 0 0 0 1" result="c"/><feComposite in="SourceGraphic" in2="n" operator="arithmetic" k1="0.7" k2="0.65" k3="0" k4="0" result="m"/><feComposite in="m" in2="c" operator="arithmetic" k1="0.6" k2="0.7" k3="0" k4="0" result="m2"/><feGaussianBlur in="m2" stdDeviation="0.6" result="b"/><feComponentTransfer in="b"><feFuncR type="table" tableValues="0 0 0 0 0 0 0 0 0 0 0 0 0 0 0 0.014 0.03 0.046 0.134 0.252 0.369 0.486 0.603 0.732 0.869 1 1 1 1 1 1 0.928 0.85"/><feFuncG type="table" tableValues="0 0 0 0 0 0.008 0.05 0.092 0.15 0.244 0.337 0.431 0.525 0.619 0.712 0.8 0.888 0.975 1 1 1 1 1 1 1 0.994 0.856 0.717 0.579 0.445 0.311 0.156 0"/><feFuncB type="table" tableValues="0 0.134 0.268 0.434 0.609 0.767 0.854 0.941 1 1 1 1 1 1 1 1 1 1 0.902 0.765 0.629 0.5 0.372 0.245 0.12 0 0 0 0 0 0 0 0"/><feFuncA type="linear" slope="0" intercept="1"/></feComponentTransfer></filter></defs>
<g transform="translate(318.8,525.5)" clip-path="url(#cc)">
<g filter="url(#pc33)">
<rect x="0" y="0" width="78.6" height="71" fill="#000"/>
<rect x="0" y="0" width="78.6" height="71" fill="rgb(64,64,64)"/>
<g filter="url(#bl1)"><ellipse cx="13" cy="20" rx="8.5" ry="8.5" fill="rgb(85,85,85)"/><ellipse cx="47" cy="22" rx="6.8" ry="8.5" fill="rgb(85,85,85)"/><ellipse cx="15" cy="48" rx="8.5" ry="8.5" fill="rgb(85,85,85)"/><ellipse cx="58" cy="45" rx="8.5" ry="8.5" fill="rgb(85,85,85)"/><ellipse cx="30" cy="57" rx="6.8" ry="6.8" fill="rgb(85,85,85)"/></g>
<path filter="url(#bl05)" d="M29.3,32.91L32.15,36.42 M39.22,39.85L32.15,36.42" stroke="rgb(92,92,92)" stroke-width="1.3" fill="none"/>
<g filter="url(#bl1)"><ellipse cx="10" cy="35" rx="4" ry="16" fill="#000" transform="rotate(20 10 35)"/><ellipse cx="28" cy="25" rx="4" ry="14" fill="#000" transform="rotate(30 28 25)"/><ellipse cx="38" cy="15" rx="4" ry="12" fill="#000" transform="rotate(15 38 15)"/><ellipse cx="50" cy="35" rx="3" ry="20" fill="#000" transform="rotate(25 50 35)"/><ellipse cx="65" cy="20" rx="4" ry="12" fill="#000" transform="rotate(35 65 20)"/><ellipse cx="45" cy="62" rx="5" ry="8" fill="#000" transform="rotate(30 45 62)"/><ellipse cx="60" cy="50" rx="5" ry="7" fill="#000"/><ellipse cx="25" cy="50" rx="3" ry="6" fill="#000"/><ellipse cx="74" cy="8" rx="5" ry="6" fill="#000"/></g>
<g filter="url(#bl05)"><ellipse cx="13" cy="20" rx="5.8" ry="5.8" fill="rgb(38,38,38)" stroke="rgb(97,97,97)" stroke-width="1.4"/><ellipse cx="47" cy="22" rx="4.8" ry="5.8" fill="rgb(38,38,38)" stroke="rgb(97,97,97)" stroke-width="1.4"/><ellipse cx="15" cy="48" rx="5.8" ry="5.8" fill="rgb(38,38,38)" stroke="rgb(97,97,97)" stroke-width="1.4"/><ellipse cx="58" cy="45" rx="5.8" ry="5.8" fill="rgb(38,38,38)" stroke="rgb(97,97,97)" stroke-width="1.4"/><ellipse cx="30" cy="57" rx="4.8" ry="4.8" fill="rgb(38,38,38)" stroke="rgb(97,97,97)" stroke-width="1.4"/></g>
</g></g>
<defs><filter id="pc34" x="0" y="0" width="100%" height="100%" color-interpolation-filters="sRGB"><feTurbulence type="fractalNoise" baseFrequency="0.28" numOctaves="2" seed="74" result="n0"/><feColorMatrix in="n0" type="matrix" values="2 0 0 0 -0.5 2 0 0 0 -0.5 2 0 0 0 -0.5 0 0 0 0 1" result="n"/><feTurbulence type="fractalNoise" baseFrequency="0.05" numOctaves="2" seed="174" result="c0"/><feColorMatrix in="c0" type="matrix" values="2 0 0 0 -0.5 2 0 0 0 -0.5 2 0 0 0 -0.5 0 0 0 0 1" result="c"/><feComposite in="SourceGraphic" in2="n" operator="arithmetic" k1="0.7" k2="0.65" k3="0" k4="0" result="m"/><feComposite in="m" in2="c" operator="arithmetic" k1="0.6" k2="0.7" k3="0" k4="0" result="m2"/><feGaussianBlur in="m2" stdDeviation="0.6" result="b"/><feComponentTransfer in="b"><feFuncR type="table" tableValues="0 0 0 0 0 0 0 0 0 0 0 0 0 0 0 0.014 0.03 0.046 0.134 0.252 0.369 0.486 0.603 0.732 0.869 1 1 1 1 1 1 0.928 0.85"/><feFuncG type="table" tableValues="0 0 0 0 0 0.008 0.05 0.092 0.15 0.244 0.337 0.431 0.525 0.619 0.712 0.8 0.888 0.975 1 1 1 1 1 1 1 0.994 0.856 0.717 0.579 0.445 0.311 0.156 0"/><feFuncB type="table" tableValues="0 0.134 0.268 0.434 0.609 0.767 0.854 0.941 1 1 1 1 1 1 1 1 1 1 0.902 0.765 0.629 0.5 0.372 0.245 0.12 0 0 0 0 0 0 0 0"/><feFuncA type="linear" slope="0" intercept="1"/></feComponentTransfer></filter></defs>
<g transform="translate(399.4,525.5)" clip-path="url(#cc)">
<g filter="url(#pc34)">
<rect x="0" y="0" width="78.6" height="71" fill="#000"/>
<rect x="0" y="0" width="78.6" height="71" fill="rgb(71,71,71)"/>
<g filter="url(#bl1)"><ellipse cx="10" cy="7" rx="8.5" ry="8.5" fill="rgb(94,94,94)"/><ellipse cx="24" cy="12" rx="10.2" ry="10.2" fill="rgb(94,94,94)"/><ellipse cx="40" cy="20" rx="10.2" ry="8.5" fill="rgb(94,94,94)"/><ellipse cx="60" cy="22" rx="10.2" ry="8.5" fill="rgb(94,94,94)"/><ellipse cx="72" cy="15" rx="6.8" ry="8.5" fill="rgb(94,94,94)"/><ellipse cx="20" cy="33" rx="11.9" ry="8.5" fill="rgb(94,94,94)"/><ellipse cx="43" cy="33" rx="8.5" ry="6.8" fill="rgb(94,94,94)"/><ellipse cx="55" cy="35" rx="8.5" ry="8.5" fill="rgb(94,94,94)"/><ellipse cx="70" cy="37" rx="8.5" ry="8.5" fill="rgb(94,94,94)"/><ellipse cx="5" cy="42" rx="8.5" ry="8.5" fill="rgb(94,94,94)"/><ellipse cx="35" cy="46" rx="10.2" ry="8.5" fill="rgb(94,94,94)"/><ellipse cx="60" cy="47" rx="8.5" ry="8.5" fill="rgb(94,94,94)"/><ellipse cx="74" cy="50" rx="6.8" ry="8.5" fill="rgb(94,94,94)"/><ellipse cx="12" cy="55" rx="8.5" ry="8.5" fill="rgb(94,94,94)"/><ellipse cx="28" cy="55" rx="10.2" ry="8.5" fill="rgb(94,94,94)"/><ellipse cx="48" cy="58" rx="8.5" ry="8.5" fill="rgb(94,94,94)"/><ellipse cx="65" cy="62" rx="8.5" ry="8.5" fill="rgb(94,94,94)"/><ellipse cx="20" cy="66" rx="8.5" ry="6.8" fill="rgb(94,94,94)"/></g>
<path filter="url(#bl05)" d="M-146.58,132L16.51,44.19 M16.51,44.19L4.44,24.06 M54.88,-96.56L12.97,20.78 M4.44,24.06L12.97,20.78 M16.51,44.19L20,45.45 M20,45.45L20,57.59 M46.08,104.28L36.08,69.29 M20,57.59L36.08,69.29 M46.08,104.28L57.39,56.2 M65.96,53.35L57.39,56.2 M20,45.45L23.42,44.21 M36.08,69.29L38.13,55.65 M38.13,55.65L23.42,44.21 M57.39,56.2L47.54,45.45 M38.13,55.65L47.54,45.45 M54.88,-96.56L50.11,-20.21 M12.97,20.78L28.16,23.67 M50.11,-20.21L28.16,23.67 M23.42,44.21L31.5,34.88 M31.5,34.88L31.5,28.81 M28.16,23.67L31.5,28.81 M50.11,-20.21L52.55,-4.55 M31.5,28.81L49.64,24.62 M52.55,-4.55L49.64,24.62 M47.54,45.45L47.55,45.14 M31.5,34.88L47.24,44.57 M47.24,44.57L47.55,45.14 M49.64,24.62L50.37,25.76 M47.24,44.57L50.37,25.76 M63.21,30.7L62.09,39.09 M63.21,30.7L70.34,25.94 M115.68,30.06L70.34,25.94 M115.68,30.06L67.79,44.79 M67.79,44.79L62.09,39.09 M47.55,45.14L62.09,39.09 M50.37,25.76L63.21,30.7 M52.55,-4.55L70.34,25.94 M65.96,53.35L67.79,44.79" stroke="rgb(107,107,107)" stroke-width="1.3" fill="none"/>
<g filter="url(#bl1)"><ellipse cx="47" cy="6" rx="22" ry="11" fill="#000"/><ellipse cx="5" cy="22" rx="6" ry="11" fill="#000"/></g>
<g filter="url(#bl05)"><ellipse cx="10" cy="7" rx="5.8" ry="5.8" fill="rgb(38,38,38)" stroke="rgb(112,112,112)" stroke-width="1.4"/><ellipse cx="24" cy="12" rx="6.8" ry="6.8" fill="rgb(38,38,38)" stroke="rgb(112,112,112)" stroke-width="1.4"/><ellipse cx="40" cy="20" rx="6.8" ry="5.8" fill="rgb(38,38,38)" stroke="rgb(112,112,112)" stroke-width="1.4"/><ellipse cx="60" cy="22" rx="6.8" ry="5.8" fill="rgb(38,38,38)" stroke="rgb(112,112,112)" stroke-width="1.4"/><ellipse cx="72" cy="15" rx="4.8" ry="5.8" fill="rgb(38,38,38)" stroke="rgb(112,112,112)" stroke-width="1.4"/><ellipse cx="20" cy="33" rx="7.8" ry="5.8" fill="rgb(38,38,38)" stroke="rgb(112,112,112)" stroke-width="1.4"/><ellipse cx="43" cy="33" rx="5.8" ry="4.8" fill="rgb(38,38,38)" stroke="rgb(112,112,112)" stroke-width="1.4"/><ellipse cx="55" cy="35" rx="5.8" ry="5.8" fill="rgb(38,38,38)" stroke="rgb(112,112,112)" stroke-width="1.4"/><ellipse cx="70" cy="37" rx="5.8" ry="5.8" fill="rgb(38,38,38)" stroke="rgb(112,112,112)" stroke-width="1.4"/><ellipse cx="5" cy="42" rx="5.8" ry="5.8" fill="rgb(38,38,38)" stroke="rgb(112,112,112)" stroke-width="1.4"/><ellipse cx="35" cy="46" rx="6.8" ry="5.8" fill="rgb(38,38,38)" stroke="rgb(112,112,112)" stroke-width="1.4"/><ellipse cx="60" cy="47" rx="5.8" ry="5.8" fill="rgb(38,38,38)" stroke="rgb(112,112,112)" stroke-width="1.4"/><ellipse cx="74" cy="50" rx="4.8" ry="5.8" fill="rgb(38,38,38)" stroke="rgb(112,112,112)" stroke-width="1.4"/><ellipse cx="12" cy="55" rx="5.8" ry="5.8" fill="rgb(38,38,38)" stroke="rgb(112,112,112)" stroke-width="1.4"/><ellipse cx="28" cy="55" rx="6.8" ry="5.8" fill="rgb(38,38,38)" stroke="rgb(112,112,112)" stroke-width="1.4"/><ellipse cx="48" cy="58" rx="5.8" ry="5.8" fill="rgb(38,38,38)" stroke="rgb(112,112,112)" stroke-width="1.4"/><ellipse cx="65" cy="62" rx="5.8" ry="5.8" fill="rgb(38,38,38)" stroke="rgb(112,112,112)" stroke-width="1.4"/><ellipse cx="20" cy="66" rx="5.8" ry="4.8" fill="rgb(38,38,38)" stroke="rgb(112,112,112)" stroke-width="1.4"/></g>
</g></g>
<defs><filter id="pc35" x="0" y="0" width="100%" height="100%" color-interpolation-filters="sRGB"><feTurbulence type="fractalNoise" baseFrequency="0.28" numOctaves="2" seed="77" result="n0"/><feColorMatrix in="n0" type="matrix" values="2 0 0 0 -0.5 2 0 0 0 -0.5 2 0 0 0 -0.5 0 0 0 0 1" result="n"/><feTurbulence type="fractalNoise" baseFrequency="0.05" numOctaves="2" seed="177" result="c0"/><feColorMatrix in="c0" type="matrix" values="2 0 0 0 -0.5 2 0 0 0 -0.5 2 0 0 0 -0.5 0 0 0 0 1" result="c"/><feComposite in="SourceGraphic" in2="n" operator="arithmetic" k1="0.7" k2="0.65" k3="0" k4="0" result="m"/><feComposite in="m" in2="c" operator="arithmetic" k1="0.6" k2="0.7" k3="0" k4="0" result="m2"/><feGaussianBlur in="m2" stdDeviation="0.6" result="b"/><feComponentTransfer in="b"><feFuncR type="table" tableValues="0 0 0 0 0 0 0 0 0 0 0 0 0 0 0 0.014 0.03 0.046 0.134 0.252 0.369 0.486 0.603 0.732 0.869 1 1 1 1 1 1 0.928 0.85"/><feFuncG type="table" tableValues="0 0 0 0 0 0.008 0.05 0.092 0.15 0.244 0.337 0.431 0.525 0.619 0.712 0.8 0.888 0.975 1 1 1 1 1 1 1 0.994 0.856 0.717 0.579 0.445 0.311 0.156 0"/><feFuncB type="table" tableValues="0 0.134 0.268 0.434 0.609 0.767 0.854 0.941 1 1 1 1 1 1 1 1 1 1 0.902 0.765 0.629 0.5 0.372 0.245 0.12 0 0 0 0 0 0 0 0"/><feFuncA type="linear" slope="0" intercept="1"/></feComponentTransfer></filter></defs>
<g transform="translate(480,525.5)" clip-path="url(#cc)">
<g filter="url(#pc35)">
<rect x="0" y="0" width="78.6" height="71" fill="#000"/>
<rect x="0" y="0" width="78.6" height="71" fill="rgb(84,84,84)"/>
<g filter="url(#bl1)"><ellipse cx="33" cy="22" rx="11.9" ry="10.2" fill="rgb(110,110,110)"/><ellipse cx="43" cy="40" rx="11.9" ry="10.2" fill="rgb(110,110,110)"/><ellipse cx="66" cy="38" rx="11.9" ry="10.2" fill="rgb(110,110,110)"/><ellipse cx="24" cy="56" rx="10.2" ry="8.5" fill="rgb(110,110,110)"/><ellipse cx="40" cy="57" rx="8.5" ry="6.8" fill="rgb(110,110,110)"/><ellipse cx="68" cy="13" rx="10.2" ry="10.2" fill="rgb(110,110,110)"/><ellipse cx="55" cy="52" rx="8.5" ry="8.5" fill="rgb(110,110,110)"/></g>
<path filter="url(#bl05)" d="M54.62,40.38L45.75,49.25 M54.62,40.38L53.23,24.4 M51.98,23.24L53.23,24.4 M51.98,23.24L25.18,38.12 M45.75,49.25L32.6,46.93 M25.18,38.12L32.6,46.93" stroke="rgb(112,112,112)" stroke-width="1.3" fill="none"/>
<g filter="url(#bl1)"><ellipse cx="17" cy="10" rx="5" ry="9" fill="#000" transform="rotate(15 17 10)"/><ellipse cx="35" cy="8" rx="10" ry="8" fill="#000"/><ellipse cx="58" cy="16" rx="5" ry="4" fill="#000"/><ellipse cx="71" cy="26" rx="6" ry="7" fill="#000"/><ellipse cx="17" cy="38" rx="8" ry="10" fill="#000"/><ellipse cx="5" cy="62" rx="10" ry="13" fill="#000"/><ellipse cx="55" cy="65" rx="8" ry="6" fill="#000"/><ellipse cx="44" cy="5" rx="5" ry="5" fill="#000"/></g>
<g filter="url(#bl05)"><ellipse cx="33" cy="22" rx="7.8" ry="6.8" fill="rgb(46,46,46)" stroke="rgb(115,115,115)" stroke-width="1.4"/><ellipse cx="43" cy="40" rx="7.8" ry="6.8" fill="rgb(46,46,46)" stroke="rgb(115,115,115)" stroke-width="1.4"/><ellipse cx="66" cy="38" rx="7.8" ry="6.8" fill="rgb(46,46,46)" stroke="rgb(115,115,115)" stroke-width="1.4"/><ellipse cx="24" cy="56" rx="6.8" ry="5.8" fill="rgb(46,46,46)" stroke="rgb(115,115,115)" stroke-width="1.4"/><ellipse cx="40" cy="57" rx="5.8" ry="4.8" fill="rgb(46,46,46)" stroke="rgb(115,115,115)" stroke-width="1.4"/><ellipse cx="68" cy="13" rx="6.8" ry="6.8" fill="rgb(46,46,46)" stroke="rgb(115,115,115)" stroke-width="1.4"/><ellipse cx="55" cy="52" rx="5.8" ry="5.8" fill="rgb(46,46,46)" stroke="rgb(115,115,115)" stroke-width="1.4"/></g>
</g></g>
<rect x="145.1" y="374.3" width="8" height="1.6" fill="#f0f0f0"/>
<rect x="225.7" y="374.3" width="8" height="1.6" fill="#f0f0f0"/>
<rect x="306.3" y="374.3" width="8" height="1.6" fill="#f0f0f0"/>
<rect x="386.9" y="374.3" width="8" height="1.6" fill="#f0f0f0"/>
<rect x="467.5" y="374.3" width="8" height="1.6" fill="#f0f0f0"/>
<rect x="548.1" y="374.3" width="8" height="1.6" fill="#f0f0f0"/>
<rect x="145.1" y="447.3" width="8" height="1.6" fill="#f0f0f0"/>
<rect x="225.7" y="447.3" width="8" height="1.6" fill="#f0f0f0"/>
<rect x="306.3" y="447.3" width="8" height="1.6" fill="#f0f0f0"/>
<rect x="386.9" y="447.3" width="8" height="1.6" fill="#f0f0f0"/>
<rect x="467.5" y="447.3" width="8" height="1.6" fill="#f0f0f0"/>
<rect x="548.1" y="447.3" width="8" height="1.6" fill="#f0f0f0"/>
<rect x="145.1" y="520.3" width="8" height="1.6" fill="#f0f0f0"/>
<rect x="225.7" y="520.3" width="8" height="1.6" fill="#f0f0f0"/>
<rect x="306.3" y="520.3" width="8" height="1.6" fill="#f0f0f0"/>
<rect x="386.9" y="520.3" width="8" height="1.6" fill="#f0f0f0"/>
<rect x="467.5" y="520.3" width="8" height="1.6" fill="#f0f0f0"/>
<rect x="548.1" y="520.3" width="8" height="1.6" fill="#f0f0f0"/>
<rect x="145.1" y="593.3" width="8" height="1.6" fill="#c02020"/>
<rect x="225.7" y="593.3" width="8" height="1.6" fill="#c02020"/>
<rect x="306.3" y="593.3" width="8" height="1.6" fill="#c02020"/>
<rect x="386.9" y="593.3" width="8" height="1.6" fill="#c02020"/>
<rect x="467.5" y="593.3" width="8" height="1.6" fill="#c02020"/>
<rect x="548.1" y="593.3" width="8" height="1.6" fill="#c02020"/>
<text x="141.5" y="369.5" font-size="8.3" text-anchor="middle" fill="#fff">10 µm</text>
<defs><linearGradient id="jet" x1="0" x2="1" y1="0" y2="0">
<stop offset="0" stop-color="#000000"/>
<stop offset="0.04" stop-color="#000070"/>
<stop offset="0.13" stop-color="#0000ff"/>
<stop offset="0.24" stop-color="#0080ff"/>
<stop offset="0.37" stop-color="#00ffff"/>
<stop offset="0.5" stop-color="#80ff80"/>
<stop offset="0.63" stop-color="#ffff00"/>
<stop offset="0.72" stop-color="#ff8000"/>
<stop offset="0.81" stop-color="#ff4000"/>
<stop offset="0.87" stop-color="#ff0000"/>
<stop offset="1" stop-color="#800000"/>
</linearGradient></defs>
<rect x="78.2" y="603" width="480.3" height="6.6" fill="url(#jet)"/>
<line x1="80.9" y1="621.3" x2="230.7" y2="621.3" stroke="#4a78c8" stroke-width="1.6"/>
<line x1="409.3" y1="621.3" x2="551" y2="621.3" stroke="#4a78c8" stroke-width="1.6"/>
<path d="M559,621.3 L549.4,618.4 L549.4,624.2 Z" fill="#4a78c8"/>
<text x="318.3" y="625.3" font-size="13" text-anchor="middle" fill="#1a1a1a">Relative emission intensity</text>
<text x="576.8" y="289.6" font-size="16.5" fill="#111">(E)</text>
<defs><clipPath id="ce"><rect x="0" y="0" width="248.5" height="272.3"/></clipPath>
<filter id="pE" x="0" y="0" width="100%" height="100%" color-interpolation-filters="sRGB"><feTurbulence type="fractalNoise" baseFrequency="0.45" numOctaves="2" seed="5" result="n0"/><feColorMatrix in="n0" type="matrix" values="2 0 0 0 -0.5 2 0 0 0 -0.5 2 0 0 0 -0.5 0 0 0 0 1" result="n"/><feTurbulence type="fractalNoise" baseFrequency="0.05" numOctaves="2" seed="105" result="c0"/><feColorMatrix in="c0" type="matrix" values="2 0 0 0 -0.5 2 0 0 0 -0.5 2 0 0 0 -0.5 0 0 0 0 1" result="c"/><feComposite in="SourceGraphic" in2="n" operator="arithmetic" k1="0.9" k2="0.55" k3="0" k4="0" result="m"/><feComposite in="m" in2="c" operator="arithmetic" k1="0.6" k2="0.7" k3="0" k4="0" result="m2"/><feGaussianBlur in="m2" stdDeviation="0.4" result="b"/><feComponentTransfer in="b"><feFuncR type="table" tableValues="0 0 0 0 0 0 0 0 0 0 0 0 0 0 0 0.014 0.03 0.046 0.12 0.218 0.315 0.409 0.503 0.596 0.658 0.718 0.778 0.838 0.875 0.906 0.938 0.969 1"/><feFuncG type="table" tableValues="0 0 0 0 0 0.008 0.05 0.092 0.15 0.244 0.337 0.431 0.525 0.619 0.712 0.8 0.888 0.975 1 1 1 1 1 1 1 1 1 1 1 1 1 1 1"/><feFuncB type="table" tableValues="0 0.134 0.268 0.434 0.609 0.767 0.854 0.941 1 1 1 1 1 1 1 1 1 1 0.916 0.798 0.68 0.555 0.43 0.305 0.254 0.206 0.158 0.11 0.083 0.062 0.042 0.021 0"/><feFuncA type="linear" slope="0" intercept="1"/></feComponentTransfer></filter>
<filter id="eb15" x="-30%" y="-30%" width="160%" height="160%"><feGaussianBlur stdDeviation="1.5"/></filter>
<filter id="eb2" x="-30%" y="-30%" width="160%" height="160%"><feGaussianBlur stdDeviation="2"/></filter>
<filter id="eb3" x="-30%" y="-30%" width="160%" height="160%"><feGaussianBlur stdDeviation="3"/></filter>
</defs>
<g clip-path="url(#ce)" transform="translate(588,304.7)"><g filter="url(#pE)"><g transform="translate(-588,-304.7)">
<rect x="578" y="294.7" width="268.5" height="292.3" fill="rgb(36,36,36)"/>
<g filter="url(#eb2)"><ellipse cx="589" cy="318" rx="14" ry="16" fill="none" stroke="rgb(107,107,107)" stroke-width="5"/><ellipse cx="644" cy="326" rx="19" ry="22" fill="none" stroke="rgb(107,107,107)" stroke-width="5"/><ellipse cx="662.5" cy="373" rx="13.5" ry="26" fill="none" stroke="rgb(107,107,107)" stroke-width="5"/><ellipse cx="691" cy="346" rx="15.5" ry="16.5" fill="none" stroke="rgb(107,107,107)" stroke-width="5"/><ellipse cx="722" cy="322" rx="17" ry="16.5" fill="none" stroke="rgb(107,107,107)" stroke-width="5"/><ellipse cx="749" cy="345" rx="17" ry="21" fill="none" stroke="rgb(107,107,107)" stroke-width="5"/><ellipse cx="812" cy="329" rx="17" ry="16.5" fill="none" stroke="rgb(107,107,107)" stroke-width="5"/><ellipse cx="814" cy="373" rx="20.5" ry="18" fill="none" stroke="rgb(107,107,107)" stroke-width="5"/><ellipse cx="599" cy="405" rx="17" ry="20" fill="none" stroke="rgb(107,107,107)" stroke-width="5"/><ellipse cx="609" cy="442" rx="14" ry="14" fill="none" stroke="rgb(107,107,107)" stroke-width="5"/><ellipse cx="619" cy="461" rx="12" ry="15" fill="none" stroke="rgb(107,107,107)" stroke-width="5"/><ellipse cx="635" cy="437" rx="14" ry="19" fill="none" stroke="rgb(107,107,107)" stroke-width="5"/><ellipse cx="698" cy="411" rx="18.5" ry="15.7" fill="none" stroke="rgb(107,107,107)" stroke-width="5"/><ellipse cx="727" cy="440" rx="15" ry="16.5" fill="none" stroke="rgb(107,107,107)" stroke-width="5"/><ellipse cx="804" cy="415" rx="17.8" ry="19.2" fill="none" stroke="rgb(107,107,107)" stroke-width="5"/><ellipse cx="695" cy="486" rx="21" ry="18.5" fill="none" stroke="rgb(107,107,107)" stroke-width="5"/><ellipse cx="630" cy="514" rx="21" ry="26" fill="none" stroke="rgb(107,107,107)" stroke-width="5"/><ellipse cx="666" cy="570" rx="17" ry="16" fill="none" stroke="rgb(107,107,107)" stroke-width="5"/><ellipse cx="714" cy="547" rx="21" ry="19.5" fill="none" stroke="rgb(107,107,107)" stroke-width="5"/><ellipse cx="760" cy="541" rx="20.5" ry="21" fill="none" stroke="rgb(107,107,107)" stroke-width="5"/><ellipse cx="792" cy="490.5" rx="16" ry="16" fill="none" stroke="rgb(107,107,107)" stroke-width="5"/><ellipse cx="824" cy="476" rx="15" ry="19" fill="none" stroke="rgb(107,107,107)" stroke-width="5"/><ellipse cx="627" cy="567" rx="15" ry="13" fill="none" stroke="rgb(107,107,107)" stroke-width="5"/><ellipse cx="724" cy="572" rx="14" ry="9" fill="none" stroke="rgb(107,107,107)" stroke-width="5"/></g>
<g filter="url(#eb3)"><polygon points="670,305 708,305 706,330 690,332 672,336" fill="rgb(41,41,41)"/><ellipse cx="803" cy="443" rx="32" ry="12" fill="rgb(38,38,38)" transform="rotate(-10 803 443)"/><ellipse cx="630" cy="567" rx="16" ry="10" fill="rgb(38,38,38)"/><polygon points="603,313 612,318 622,335 632,352 640,370 640,393 622,393 615,375 606,352 600,338" fill="rgb(26,26,26)"/><ellipse cx="745" cy="372" rx="22" ry="8" fill="rgb(46,46,46)" transform="rotate(-25 745 372)"/></g>
<g filter="url(#eb3)"><ellipse cx="598" cy="341" rx="10.8" ry="15.6" fill="rgb(168,168,168)"/><ellipse cx="626" cy="313" rx="8.4" ry="12" fill="rgb(168,168,168)"/><ellipse cx="611" cy="307" rx="4.8" ry="4.8" fill="rgb(158,158,158)"/><ellipse cx="644" cy="360" rx="4.8" ry="14.4" fill="rgb(153,153,153)"/><ellipse cx="600" cy="382" rx="14.4" ry="10.8" fill="rgb(133,133,133)"/><polygon points="703,345 683,364 684,383 708,382" fill="rgb(168,168,168)"/><ellipse cx="770" cy="338" rx="9.6" ry="21.6" fill="rgb(153,153,153)"/><ellipse cx="791" cy="376" rx="8.4" ry="7.2" fill="rgb(158,158,158)"/><ellipse cx="816" cy="346" rx="8.4" ry="4.8" fill="rgb(158,158,158)"/><ellipse cx="831" cy="379" rx="6" ry="10.8" fill="rgb(153,153,153)"/><ellipse cx="600" cy="460" rx="12" ry="24" fill="rgb(158,158,158)"/><ellipse cx="615" cy="400" rx="4.8" ry="12" fill="rgb(143,143,143)"/><ellipse cx="627" cy="421" rx="7.2" ry="9.6" fill="rgb(163,163,163)"/><ellipse cx="670" cy="425" rx="7.2" ry="13.2" fill="rgb(153,153,153)"/><ellipse cx="746" cy="434" rx="16.8" ry="16.8" fill="rgb(168,168,168)"/><ellipse cx="710" cy="468" rx="21.6" ry="13.2" fill="rgb(168,168,168)" transform="rotate(-25 710 468)"/><ellipse cx="676" cy="423" rx="8.4" ry="9.6" fill="rgb(158,158,158)"/><ellipse cx="757" cy="438" rx="8.4" ry="15.6" fill="rgb(158,158,158)"/><ellipse cx="816" cy="406" rx="14.4" ry="13.2" fill="rgb(163,163,163)"/><ellipse cx="795" cy="473" rx="12" ry="8.4" fill="rgb(153,153,153)"/><ellipse cx="632" cy="533" rx="26.4" ry="18" fill="rgb(168,168,168)" transform="rotate(-10 632 533)"/><ellipse cx="670" cy="547" rx="7.2" ry="12" fill="rgb(153,153,153)"/><ellipse cx="591" cy="567" rx="6" ry="12" fill="rgb(153,153,153)"/><ellipse cx="702" cy="528" rx="20.4" ry="14.4" fill="rgb(168,168,168)"/><ellipse cx="698" cy="565" rx="15.6" ry="13.2" fill="rgb(158,158,158)"/><ellipse cx="732" cy="517" rx="9.6" ry="8.4" fill="rgb(153,153,153)"/><ellipse cx="773" cy="496" rx="9.6" ry="14.4" fill="rgb(163,163,163)"/><ellipse cx="772" cy="522" rx="20.4" ry="10.8" fill="rgb(140,140,140)"/><ellipse cx="760" cy="557" rx="12" ry="7.2" fill="rgb(153,153,153)"/><ellipse cx="829.5" cy="326" rx="3" ry="15.6" fill="rgb(168,168,168)"/></g>
<g filter="url(#eb2)"><polygon points="724,400 745,391 778,384 789,396 788,412 781,428 766,426 752,418 730,419 722,410" fill="rgb(0,0,0)"/><ellipse cx="734" cy="500" rx="15" ry="13" fill="rgb(0,0,0)"/><polygon points="740,452 760,447 792,448 795,468 770,474 755,486 740,478" fill="rgb(13,13,13)"/><polyline points="651,472 699,440" fill="none" stroke="rgb(0,0,0)" stroke-width="28" stroke-linejoin="round" stroke-linecap="round"/><polygon points="840,500 812,506 800,515 787,535 780,560 778,580 840,580" fill="rgb(0,0,0)"/><polygon points="765,300 800,300 797,318 780,321 770,312" fill="rgb(0,0,0)"/><polyline points="789,312 788,338 781,357 766,372" fill="none" stroke="rgb(13,13,13)" stroke-width="13" stroke-linejoin="round" stroke-linecap="round"/><polyline points="737,322 730,342 723,360 716,377 711,392" fill="none" stroke="rgb(0,0,0)" stroke-width="7" stroke-linejoin="round" stroke-linecap="round"/><polygon points="584,520 597,520 598,557 584,557" fill="rgb(0,0,0)"/><polygon points="670,334 678,336 679,368 670,369" fill="rgb(13,13,13)"/></g>
<g filter="url(#bl05)"><ellipse cx="589" cy="318" rx="11" ry="13" fill="rgb(27,27,27)"/><ellipse cx="644" cy="326" rx="16" ry="19" fill="rgb(27,27,27)"/><ellipse cx="662.5" cy="373" rx="10.5" ry="23" fill="rgb(27,27,27)"/><ellipse cx="691" cy="346" rx="12.5" ry="13.5" fill="rgb(27,27,27)"/><ellipse cx="722" cy="322" rx="14" ry="13.5" fill="rgb(27,27,27)"/><ellipse cx="749" cy="345" rx="14" ry="18" fill="rgb(27,27,27)"/><ellipse cx="812" cy="329" rx="14" ry="13.5" fill="rgb(27,27,27)"/><ellipse cx="814" cy="373" rx="17.5" ry="15" fill="rgb(27,27,27)"/><ellipse cx="599" cy="405" rx="14" ry="17" fill="rgb(27,27,27)"/><ellipse cx="609" cy="442" rx="11" ry="11" fill="rgb(27,27,27)"/><ellipse cx="619" cy="461" rx="9" ry="12" fill="rgb(27,27,27)"/><ellipse cx="635" cy="437" rx="11" ry="16" fill="rgb(38,38,38)"/><ellipse cx="698" cy="411" rx="15.5" ry="12.7" fill="rgb(27,27,27)"/><ellipse cx="727" cy="440" rx="12" ry="13.5" fill="rgb(27,27,27)"/><ellipse cx="804" cy="415" rx="14.8" ry="16.2" fill="rgb(27,27,27)"/><ellipse cx="695" cy="486" rx="18" ry="15.5" fill="rgb(27,27,27)"/><ellipse cx="630" cy="514" rx="18" ry="23" fill="rgb(26,26,26)"/><ellipse cx="666" cy="570" rx="14" ry="13" fill="rgb(27,27,27)"/><ellipse cx="714" cy="547" rx="18" ry="16.5" fill="rgb(27,27,27)"/><ellipse cx="760" cy="541" rx="17.5" ry="18" fill="rgb(27,27,27)"/><ellipse cx="792" cy="490.5" rx="13" ry="13" fill="rgb(27,27,27)"/><ellipse cx="824" cy="476" rx="12" ry="16" fill="rgb(27,27,27)"/><ellipse cx="627" cy="567" rx="12" ry="10" fill="rgb(31,31,31)"/><ellipse cx="724" cy="572" rx="11" ry="6" fill="rgb(27,27,27)"/></g>
</g></g></g>
<rect x="827" y="312" width="4" height="27" fill="#28e030"/>
<text x="697.1" y="450.8" font-size="10.8" font-weight="bold" text-anchor="middle" fill="#f8f000">1</text>
<text x="741" y="493.5" font-size="10.8" font-weight="bold" text-anchor="middle" fill="#f8f000">2</text>
<path d="M702.2,451.1 L707.6,457.2 M736,487.3 L727,479" stroke="#e82020" stroke-width="1.1"/>
<path d="M709.9,459.8 L705.4,457.9 L708.6,455 Z M724.5,476.3 L729.2,477.8 L726.3,481 Z" fill="#e82020"/>
<circle cx="712.1" cy="463.4" r="2" fill="none" stroke="#e82020" stroke-width="1"/>
<circle cx="721" cy="473.7" r="2" fill="none" stroke="#e82020" stroke-width="1"/>
<text x="810" y="561.5" font-size="11.5" text-anchor="middle" fill="#fff">10 µm</text>
<rect x="797" y="566.2" width="28" height="3" fill="#fff"/>
<rect x="588.2" y="584.2" width="25.8" height="8.5" fill="#0000f0"/>
<rect x="613.7" y="584.2" width="24.5" height="8.5" fill="#0050f8"/>
<rect x="637.9" y="584.2" width="25" height="8.5" fill="#00a8f8"/>
<rect x="662.6" y="584.2" width="25.2" height="8.5" fill="#00ffff"/>
<rect x="687.5" y="584.2" width="25" height="8.5" fill="#50f8a0"/>
<rect x="712.2" y="584.2" width="25" height="8.5" fill="#a8f850"/>
<rect x="736.9" y="584.2" width="25.2" height="8.5" fill="#ffff00"/>
<rect x="761.8" y="584.2" width="24.5" height="8.5" fill="#ffa000"/>
<rect x="786" y="584.2" width="25" height="8.5" fill="#ff5000"/>
<rect x="810.7" y="584.2" width="25.8" height="8.5" fill="#ff0000"/>
<text x="590.7" y="606.4" font-size="13" text-anchor="middle" fill="#1a1a1a">7</text>
<text x="638" y="606.4" font-size="13" text-anchor="middle" fill="#1a1a1a">6</text>
<text x="687.5" y="606.4" font-size="13" text-anchor="middle" fill="#1a1a1a">5</text>
<text x="735.8" y="606.4" font-size="13" text-anchor="middle" fill="#1a1a1a">4</text>
<text x="785.3" y="606.4" font-size="13" text-anchor="middle" fill="#1a1a1a">3</text>
<text x="832" y="606.4" font-size="13" text-anchor="middle" fill="#1a1a1a">2</text>
<line x1="586" y1="621" x2="696.7" y2="621" stroke="#4a78c8" stroke-width="1.6"/>
<line x1="738.8" y1="621" x2="829" y2="621" stroke="#4a78c8" stroke-width="1.6"/>
<path d="M838,621 L827.4,618 L827.4,624 Z" fill="#4a78c8"/>
<text x="717.6" y="624.5" font-size="13" text-anchor="middle" fill="#1a1a1a">pH</text>
</svg></body></html>
